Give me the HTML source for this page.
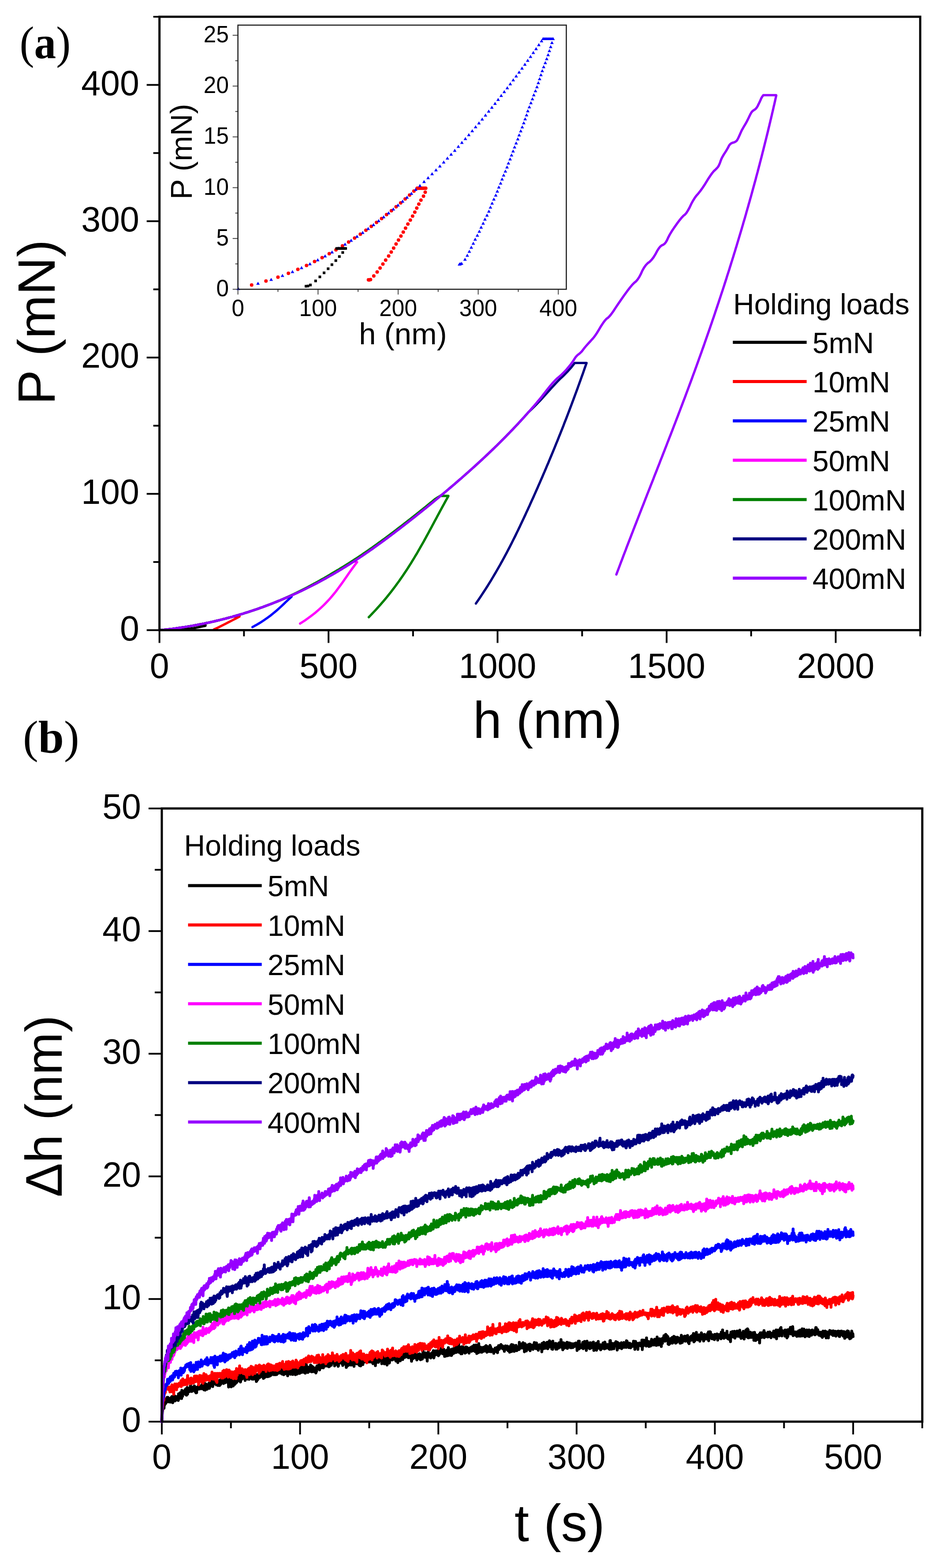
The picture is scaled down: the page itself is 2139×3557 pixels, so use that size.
<!DOCTYPE html><html><head><meta charset="utf-8"><title>Figure</title><style>html,body{margin:0;padding:0;background:#fff;overflow:hidden;}svg{display:block;}</style></head><body>
<svg width="2139" height="3557" viewBox="0 0 2139 3557">
<rect width="2139" height="3557" fill="#fff"/>
<line x1="361.7" y1="1429.5" x2="361.7" y2="1458.5" stroke="#000" stroke-width="4" stroke-linecap="butt"/>
<line x1="553.4" y1="1429.5" x2="553.4" y2="1443.5" stroke="#000" stroke-width="4" stroke-linecap="butt"/>
<line x1="745.2" y1="1429.5" x2="745.2" y2="1458.5" stroke="#000" stroke-width="4" stroke-linecap="butt"/>
<line x1="936.9" y1="1429.5" x2="936.9" y2="1443.5" stroke="#000" stroke-width="4" stroke-linecap="butt"/>
<line x1="1128.6" y1="1429.5" x2="1128.6" y2="1458.5" stroke="#000" stroke-width="4" stroke-linecap="butt"/>
<line x1="1320.4" y1="1429.5" x2="1320.4" y2="1443.5" stroke="#000" stroke-width="4" stroke-linecap="butt"/>
<line x1="1512.1" y1="1429.5" x2="1512.1" y2="1458.5" stroke="#000" stroke-width="4" stroke-linecap="butt"/>
<line x1="1703.8" y1="1429.5" x2="1703.8" y2="1443.5" stroke="#000" stroke-width="4" stroke-linecap="butt"/>
<line x1="1895.6" y1="1429.5" x2="1895.6" y2="1458.5" stroke="#000" stroke-width="4" stroke-linecap="butt"/>
<line x1="2087.3" y1="1429.5" x2="2087.3" y2="1443.5" stroke="#000" stroke-width="4" stroke-linecap="butt"/>
<line x1="361.7" y1="1429.5" x2="332.7" y2="1429.5" stroke="#000" stroke-width="4" stroke-linecap="butt"/>
<line x1="361.7" y1="1274.9" x2="347.7" y2="1274.9" stroke="#000" stroke-width="4" stroke-linecap="butt"/>
<line x1="361.7" y1="1120.3" x2="332.7" y2="1120.3" stroke="#000" stroke-width="4" stroke-linecap="butt"/>
<line x1="361.7" y1="965.7" x2="347.7" y2="965.7" stroke="#000" stroke-width="4" stroke-linecap="butt"/>
<line x1="361.7" y1="811.1" x2="332.7" y2="811.1" stroke="#000" stroke-width="4" stroke-linecap="butt"/>
<line x1="361.7" y1="656.4" x2="347.7" y2="656.4" stroke="#000" stroke-width="4" stroke-linecap="butt"/>
<line x1="361.7" y1="501.8" x2="332.7" y2="501.8" stroke="#000" stroke-width="4" stroke-linecap="butt"/>
<line x1="361.7" y1="347.2" x2="347.7" y2="347.2" stroke="#000" stroke-width="4" stroke-linecap="butt"/>
<line x1="361.7" y1="192.6" x2="332.7" y2="192.6" stroke="#000" stroke-width="4" stroke-linecap="butt"/>
<line x1="361.7" y1="38" x2="347.7" y2="38" stroke="#000" stroke-width="4" stroke-linecap="butt"/>
<text x="361.7" y="1538" font-size="79" text-anchor="middle" style="font-family:'Liberation Sans',Arial,sans-serif" >0</text>
<text x="745.2" y="1538" font-size="79" text-anchor="middle" style="font-family:'Liberation Sans',Arial,sans-serif" >500</text>
<text x="1128.6" y="1538" font-size="79" text-anchor="middle" style="font-family:'Liberation Sans',Arial,sans-serif" >1000</text>
<text x="1512.1" y="1538" font-size="79" text-anchor="middle" style="font-family:'Liberation Sans',Arial,sans-serif" >1500</text>
<text x="1895.6" y="1538" font-size="79" text-anchor="middle" style="font-family:'Liberation Sans',Arial,sans-serif" >2000</text>
<text x="316" y="1452.5" font-size="79" text-anchor="end" style="font-family:'Liberation Sans',Arial,sans-serif" >0</text>
<text x="316" y="1143.3" font-size="79" text-anchor="end" style="font-family:'Liberation Sans',Arial,sans-serif" >100</text>
<text x="316" y="834.1" font-size="79" text-anchor="end" style="font-family:'Liberation Sans',Arial,sans-serif" >200</text>
<text x="316" y="524.8" font-size="79" text-anchor="end" style="font-family:'Liberation Sans',Arial,sans-serif" >300</text>
<text x="316" y="215.6" font-size="79" text-anchor="end" style="font-family:'Liberation Sans',Arial,sans-serif" >400</text>
<polyline points="361.7,1429.3 364.7,1429.3 367.7,1429.2 370.7,1428.9 373.7,1428.5 376.7,1428.2 379.7,1427.8 382.7,1427.5 385.7,1427.1 388.7,1426.7 391.7,1426.4 394.7,1426 397.7,1425.6 400.7,1425.2 403.7,1424.7 406.7,1424.3 409.7,1423.9 412.7,1423.4 415.7,1423 418.7,1422.5 421.7,1422 424.7,1421.5 427.7,1421 430.7,1420.5 433.7,1420 436.7,1419.5 439.7,1419 442.7,1418.4 445.7,1417.9 448.7,1417.3 451.7,1416.7 454.7,1416.2 457.7,1415.6 460.7,1415 461,1414.9 466,1414.9 466.1,1419.6 459.6,1420.9 453.6,1422.2 447.2,1423.5 439.9,1424.8 430.9,1426.1 419.5,1427.4 405.2,1428.7" fill="none" stroke="#000000" stroke-width="5.3" stroke-linejoin="round" stroke-linecap="round" />
<polyline points="361.7,1429.3 364.7,1429.3 367.7,1429.2 370.7,1428.9 373.7,1428.5 376.7,1428.2 379.7,1427.8 382.7,1427.5 385.7,1427.1 388.7,1426.7 391.7,1426.4 394.7,1426 397.7,1425.6 400.7,1425.2 403.7,1424.7 406.7,1424.3 409.7,1423.9 412.7,1423.4 415.7,1423 418.7,1422.5 421.7,1422 424.7,1421.5 427.7,1421 430.7,1420.5 433.7,1420 436.7,1419.5 439.7,1419 442.7,1418.4 445.7,1417.9 448.7,1417.3 451.7,1416.7 454.7,1416.2 457.7,1415.6 460.7,1415 463.7,1414.4 466.7,1413.7 469.7,1413.1 472.7,1412.5 475.7,1411.8 478.7,1411.2 481.7,1410.5 484.7,1409.8 487.7,1409.1 490.7,1408.4 493.7,1407.7 496.7,1407 499.7,1406.2 502.7,1405.5 505.7,1404.7 508.7,1404 511.7,1403.2 514.7,1402.4 517.7,1401.6 520.7,1400.8 523.7,1400 526.7,1399.2 529.7,1398.3 531,1398.6 543.3,1398.6 543.3,1398.6 535.3,1402.8 527.3,1407 519.2,1411.2 511,1415.4 502.6,1419.6 494.1,1423.8 485.2,1428" fill="none" stroke="#ff0000" stroke-width="5.3" stroke-linejoin="round" stroke-linecap="round" />
<polyline points="361.7,1429.3 364.7,1429.3 367.7,1429.2 370.7,1428.9 373.7,1428.5 376.7,1428.2 379.7,1427.8 382.7,1427.5 385.7,1427.1 388.7,1426.7 391.7,1426.4 394.7,1426 397.7,1425.6 400.7,1425.2 403.7,1424.7 406.7,1424.3 409.7,1423.9 412.7,1423.4 415.7,1423 418.7,1422.5 421.7,1422 424.7,1421.5 427.7,1421 430.7,1420.5 433.7,1420 436.7,1419.5 439.7,1419 442.7,1418.4 445.7,1417.9 448.7,1417.3 451.7,1416.7 454.7,1416.2 457.7,1415.6 460.7,1415 463.7,1414.4 466.7,1413.7 469.7,1413.1 472.7,1412.5 475.7,1411.8 478.7,1411.2 481.7,1410.5 484.7,1409.8 487.7,1409.1 490.7,1408.4 493.7,1407.7 496.7,1407 499.7,1406.2 502.7,1405.5 505.7,1404.7 508.7,1404 511.7,1403.2 514.7,1402.4 517.7,1401.6 520.7,1400.8 523.7,1400 526.7,1399.2 529.7,1398.3 532.7,1397.5 535.7,1396.6 538.7,1395.8 541.7,1394.9 544.7,1394 547.7,1393.1 550.7,1392.2 553.7,1391.2 556.7,1390.3 559.7,1389.4 562.7,1388.4 565.7,1387.4 568.7,1386.5 571.7,1385.5 574.7,1384.5 577.7,1383.5 580.7,1382.4 583.7,1381.4 586.7,1380.4 589.7,1379.3 592.7,1378.2 595.7,1377.2 598.7,1376.1 601.7,1375 604.7,1373.8 607.7,1372.7 610.7,1371.6 613.7,1370.4 616.7,1369.3 619.7,1368.1 622.7,1366.9 625.7,1365.7 628.7,1364.5 631.7,1363.3 634.7,1362.1 637.7,1360.8 640.7,1359.6 643.7,1358.3 646.7,1357 649.7,1355.8 652.7,1354.5 655.5,1353.5 661.3,1353.5 661.4,1353.5 656.7,1357.8 652.1,1362.1 647.5,1366.4 643,1370.8 638.4,1375.1 633.7,1379.4 628.9,1383.7 623.9,1388 618.7,1392.3 613.3,1396.6 607.5,1400.9 601.4,1405.2 594.9,1409.6 588,1413.9 580.6,1418.2 572.7,1422.5" fill="none" stroke="#0000ff" stroke-width="5.3" stroke-linejoin="round" stroke-linecap="round" />
<polyline points="361.7,1429.3 364.7,1429.3 367.7,1429.2 370.7,1428.9 373.7,1428.5 376.7,1428.2 379.7,1427.8 382.7,1427.5 385.7,1427.1 388.7,1426.7 391.7,1426.4 394.7,1426 397.7,1425.6 400.7,1425.2 403.7,1424.7 406.7,1424.3 409.7,1423.9 412.7,1423.4 415.7,1423 418.7,1422.5 421.7,1422 424.7,1421.5 427.7,1421 430.7,1420.5 433.7,1420 436.7,1419.5 439.7,1419 442.7,1418.4 445.7,1417.9 448.7,1417.3 451.7,1416.7 454.7,1416.2 457.7,1415.6 460.7,1415 463.7,1414.4 466.7,1413.7 469.7,1413.1 472.7,1412.5 475.7,1411.8 478.7,1411.2 481.7,1410.5 484.7,1409.8 487.7,1409.1 490.7,1408.4 493.7,1407.7 496.7,1407 499.7,1406.2 502.7,1405.5 505.7,1404.7 508.7,1404 511.7,1403.2 514.7,1402.4 517.7,1401.6 520.7,1400.8 523.7,1400 526.7,1399.2 529.7,1398.3 532.7,1397.5 535.7,1396.6 538.7,1395.8 541.7,1394.9 544.7,1394 547.7,1393.1 550.7,1392.2 553.7,1391.2 556.7,1390.3 559.7,1389.4 562.7,1388.4 565.7,1387.4 568.7,1386.5 571.7,1385.5 574.7,1384.5 577.7,1383.5 580.7,1382.4 583.7,1381.4 586.7,1380.4 589.7,1379.3 592.7,1378.2 595.7,1377.2 598.7,1376.1 601.7,1375 604.7,1373.8 607.7,1372.7 610.7,1371.6 613.7,1370.4 616.7,1369.3 619.7,1368.1 622.7,1366.9 625.7,1365.7 628.7,1364.5 631.7,1363.3 634.7,1362.1 637.7,1360.8 640.7,1359.6 643.7,1358.3 646.7,1357 649.7,1355.8 652.7,1354.5 655.7,1353.1 658.7,1351.8 661.7,1350.5 664.7,1349.1 667.7,1347.8 670.7,1346.4 673.7,1345 676.7,1343.6 679.7,1342.2 682.7,1340.8 685.7,1339.3 688.7,1337.9 691.7,1336.4 694.7,1335 697.7,1333.5 700.7,1332 703.7,1330.5 706.7,1329 709.7,1327.4 712.7,1325.9 715.7,1324.3 718.7,1322.8 721.7,1321.2 724.7,1319.6 727.7,1318 730.7,1316.3 733.7,1314.7 736.7,1313.1 739.7,1311.4 742.7,1309.7 745.7,1308 748.7,1306.3 751.7,1304.6 754.7,1302.9 757.7,1301.2 760.7,1299.4 763.7,1297.6 766.7,1295.9 769.7,1294.1 772.7,1292.3 775.7,1290.4 778.7,1288.6 781.7,1286.8 784.7,1284.9 787.7,1283 790.7,1281.2 793.7,1279.3 796.7,1277.3 799.7,1275.4 802.7,1273.5 805.7,1271.5 806.5,1275.2 810,1275.2 810,1275.2 806.7,1279.4 803.5,1283.6 800.4,1287.9 797.3,1292.1 794.3,1296.3 791.3,1300.5 788.4,1304.8 785.5,1309 782.5,1313.2 779.6,1317.4 776.6,1321.7 773.6,1325.9 770.5,1330.1 767.4,1334.3 764.2,1338.6 761,1342.8 757.6,1347 754.1,1351.2 750.5,1355.5 746.8,1359.7 742.9,1363.9 738.9,1368.1 734.7,1372.4 730.3,1376.6 725.8,1380.8 721,1385 716,1389.3 710.7,1393.5 705.3,1397.7 699.5,1401.9 693.6,1406.2 687.3,1410.4 680.7,1414.6" fill="none" stroke="#ff00ff" stroke-width="5.3" stroke-linejoin="round" stroke-linecap="round" />
<polyline points="361.7,1429.3 364.7,1429.3 367.7,1429.2 370.7,1428.9 373.7,1428.5 376.7,1428.2 379.7,1427.8 382.7,1427.5 385.7,1427.1 388.7,1426.7 391.7,1426.4 394.7,1426 397.7,1425.6 400.7,1425.2 403.7,1424.7 406.7,1424.3 409.7,1423.9 412.7,1423.4 415.7,1423 418.7,1422.5 421.7,1422 424.7,1421.5 427.7,1421 430.7,1420.5 433.7,1420 436.7,1419.5 439.7,1419 442.7,1418.4 445.7,1417.9 448.7,1417.3 451.7,1416.7 454.7,1416.2 457.7,1415.6 460.7,1415 463.7,1414.4 466.7,1413.7 469.7,1413.1 472.7,1412.5 475.7,1411.8 478.7,1411.2 481.7,1410.5 484.7,1409.8 487.7,1409.1 490.7,1408.4 493.7,1407.7 496.7,1407 499.7,1406.2 502.7,1405.5 505.7,1404.7 508.7,1404 511.7,1403.2 514.7,1402.4 517.7,1401.6 520.7,1400.8 523.7,1400 526.7,1399.2 529.7,1398.3 532.7,1397.5 535.7,1396.6 538.7,1395.8 541.7,1394.9 544.7,1394 547.7,1393.1 550.7,1392.2 553.7,1391.2 556.7,1390.3 559.7,1389.4 562.7,1388.4 565.7,1387.4 568.7,1386.5 571.7,1385.5 574.7,1384.5 577.7,1383.5 580.7,1382.4 583.7,1381.4 586.7,1380.4 589.7,1379.3 592.7,1378.2 595.7,1377.2 598.7,1376.1 601.7,1375 604.7,1373.8 607.7,1372.7 610.7,1371.6 613.7,1370.4 616.7,1369.3 619.7,1368.1 622.7,1366.9 625.7,1365.7 628.7,1364.5 631.7,1363.3 634.7,1362.1 637.7,1360.8 640.7,1359.6 643.7,1358.2 646.7,1356.9 649.7,1355.5 652.7,1354.1 655.7,1352.7 658.7,1351.3 661.7,1349.9 664.7,1348.5 667.7,1347 670.7,1345.6 673.7,1344.1 676.7,1342.6 679.7,1341.1 682.7,1339.6 685.7,1338.1 688.7,1336.6 691.7,1335.1 694.7,1333.5 697.7,1332 700.7,1330.4 703.7,1328.8 706.7,1327.2 709.7,1325.6 712.7,1323.9 715.7,1322.3 718.7,1320.7 721.7,1319 724.7,1317.3 727.7,1315.6 730.7,1313.9 733.7,1312.2 736.7,1310.5 739.7,1308.7 742.7,1307 745.7,1305.2 748.7,1303.4 751.7,1301.6 754.7,1299.8 757.7,1298 760.7,1296.2 763.7,1294.4 766.7,1292.7 769.7,1290.9 772.7,1289.1 775.7,1287.2 778.7,1285.4 781.7,1283.6 784.7,1281.7 787.7,1279.8 790.7,1278 793.7,1276.1 796.7,1274.1 799.7,1272.2 802.7,1270.3 805.7,1268.3 808.7,1266.4 811.7,1264.4 814.7,1262.4 817.7,1260.4 820.7,1258.4 823.7,1256.3 826.7,1254.3 829.7,1252.2 832.7,1250.2 835.7,1248.1 838.7,1246 841.7,1243.9 844.7,1241.8 847.7,1239.6 850.7,1237.5 853.7,1235.4 856.7,1233.2 859.7,1231 862.7,1228.9 865.7,1226.7 868.7,1224.5 871.7,1222.3 874.7,1220 877.7,1217.8 880.7,1215.6 883.7,1213.3 886.7,1211.1 889.7,1208.8 892.7,1206.6 895.7,1204.3 898.7,1202 901.7,1199.7 904.7,1197.4 907.7,1195.1 910.7,1192.8 913.7,1190.5 916.7,1188.2 919.7,1185.8 922.7,1183.5 925.7,1181.2 928.7,1178.8 931.7,1176.5 934.7,1174.1 937.7,1171.7 940.7,1169.4 943.7,1167 946.7,1164.6 949.7,1162.2 952.7,1159.8 955.7,1157.4 958.7,1155 961.7,1152.6 964.7,1150.2 967.7,1147.8 970.7,1145.3 973.7,1142.9 976.7,1140.4 979.7,1138 982.7,1135.5 985.7,1133 988.7,1130.9 991.7,1129.1 994.7,1127.2 997.7,1125.4 1000.7,1123.5 1002,1125 1017,1125 1016.8,1125.8 1014.5,1129.9 1012.2,1134 1009.9,1138.1 1007.7,1142.2 1005.5,1146.3 1003.2,1150.4 1001,1154.5 998.8,1158.6 996.6,1162.6 994.4,1166.7 992.2,1170.8 990,1174.9 987.8,1179 985.6,1183.1 983.4,1187.2 981.2,1191.3 979,1195.4 976.8,1199.5 974.6,1203.6 972.4,1207.7 970.2,1211.8 967.9,1215.9 965.7,1220 963.4,1224.1 961.2,1228.2 958.9,1232.2 956.6,1236.3 954.2,1240.4 951.9,1244.5 949.5,1248.6 947.2,1252.7 944.8,1256.8 942.3,1260.9 939.9,1265 937.4,1269.1 934.9,1273.2 932.4,1277.3 929.8,1281.4 927.2,1285.5 924.6,1289.6 921.9,1293.7 919.2,1297.7 916.5,1301.8 913.7,1305.9 910.9,1310 908,1314.1 905.2,1318.2 902.2,1322.3 899.2,1326.4 896.2,1330.5 893.1,1334.6 890,1338.7 886.8,1342.8 883.6,1346.9 880.3,1351 877,1355.1 873.6,1359.2 870.2,1363.3 866.7,1367.3 863.1,1371.4 859.5,1375.5 855.8,1379.6 852.1,1383.7 848.3,1387.8 844.4,1391.9 840.5,1396 836.5,1400.1" fill="none" stroke="#008000" stroke-width="5.3" stroke-linejoin="round" stroke-linecap="round" />
<polyline points="361.7,1429.3 364.7,1429.3 367.7,1429.2 370.7,1428.9 373.7,1428.5 376.7,1428.2 379.7,1427.8 382.7,1427.5 385.7,1427.1 388.7,1426.7 391.7,1426.4 394.7,1426 397.7,1425.6 400.7,1425.2 403.7,1424.7 406.7,1424.3 409.7,1423.9 412.7,1423.4 415.7,1423 418.7,1422.5 421.7,1422 424.7,1421.5 427.7,1421 430.7,1420.5 433.7,1420 436.7,1419.5 439.7,1419 442.7,1418.4 445.7,1417.9 448.7,1417.3 451.7,1416.7 454.7,1416.2 457.7,1415.6 460.7,1415 463.7,1414.4 466.7,1413.7 469.7,1413.1 472.7,1412.5 475.7,1411.8 478.7,1411.2 481.7,1410.5 484.7,1409.8 487.7,1409.1 490.7,1408.4 493.7,1407.7 496.7,1407 499.7,1406.2 502.7,1405.5 505.7,1404.7 508.7,1404 511.7,1403.2 514.7,1402.4 517.7,1401.6 520.7,1400.8 523.7,1400 526.7,1399.2 529.7,1398.3 532.7,1397.5 535.7,1396.6 538.7,1395.8 541.7,1394.9 544.7,1394 547.7,1393.1 550.7,1392.2 553.7,1391.2 556.7,1390.3 559.7,1389.4 562.7,1388.4 565.7,1387.4 568.7,1386.5 571.7,1385.5 574.7,1384.5 577.7,1383.5 580.7,1382.4 583.7,1381.4 586.7,1380.4 589.7,1379.3 592.7,1378.2 595.7,1377.2 598.7,1376.1 601.7,1375 604.7,1373.8 607.7,1372.7 610.7,1371.6 613.7,1370.4 616.7,1369.3 619.7,1368.1 622.7,1366.9 625.7,1365.7 628.7,1364.5 631.7,1363.3 634.7,1362.1 637.7,1360.8 640.7,1359.6 643.7,1358.3 646.7,1357 649.7,1355.8 652.7,1354.5 655.7,1353.1 658.7,1351.8 661.7,1350.5 664.7,1349.1 667.7,1347.8 670.7,1346.4 673.7,1345 676.7,1343.6 679.7,1342.2 682.7,1340.8 685.7,1339.3 688.7,1337.9 691.7,1336.4 694.7,1335 697.7,1333.5 700.7,1332 703.7,1330.5 706.7,1329 709.7,1327.4 712.7,1325.9 715.7,1324.3 718.7,1322.8 721.7,1321.2 724.7,1319.6 727.7,1318 730.7,1316.3 733.7,1314.7 736.7,1313.1 739.7,1311.4 742.7,1309.7 745.7,1308 748.7,1306.3 751.7,1304.6 754.7,1302.9 757.7,1301.2 760.7,1299.4 763.7,1297.6 766.7,1295.9 769.7,1294.1 772.7,1292.3 775.7,1290.4 778.7,1288.6 781.7,1286.8 784.7,1284.9 787.7,1283 790.7,1281.2 793.7,1279.3 796.7,1277.3 799.7,1275.4 802.7,1273.5 805.7,1271.5 808.7,1269.6 811.7,1267.6 814.7,1265.6 817.7,1263.6 820.7,1261.6 823.7,1259.5 826.7,1257.5 829.7,1255.4 832.7,1253.4 835.7,1251.3 838.7,1249.2 841.7,1247.1 844.7,1245 847.7,1242.8 850.7,1240.7 853.7,1238.6 856.7,1236.4 859.7,1234.2 862.7,1232.1 865.7,1229.9 868.7,1227.7 871.7,1225.5 874.7,1223.2 877.7,1221 880.7,1218.8 883.7,1216.5 886.7,1214.3 889.7,1212 892.7,1209.8 895.7,1207.5 898.7,1205.2 901.7,1202.9 904.7,1200.6 907.7,1198.3 910.7,1196 913.7,1193.7 916.7,1191.4 919.7,1189 922.7,1186.7 925.7,1184.4 928.7,1182 931.7,1179.7 934.7,1177.3 937.7,1174.9 940.7,1172.6 943.7,1170.2 946.7,1167.8 949.7,1165.4 952.7,1163 955.7,1160.6 958.7,1158.2 961.7,1155.8 964.7,1153.4 967.7,1151 970.7,1148.5 973.7,1146.1 976.7,1143.6 979.7,1141.2 982.7,1138.7 985.7,1136.2 988.7,1133.8 991.7,1131.3 994.7,1128.8 997.7,1126.3 1000.7,1123.8 1003.7,1121.3 1006.7,1118.8 1009.7,1116.3 1012.7,1113.7 1015.7,1111.2 1018.7,1108.6 1021.7,1106.1 1024.7,1103.5 1027.7,1101 1030.7,1098.4 1033.7,1095.8 1036.7,1093.2 1039.7,1090.6 1042.7,1088 1045.7,1085.4 1048.7,1082.8 1051.7,1080.1 1054.7,1077.5 1057.7,1074.8 1060.7,1072.2 1063.7,1069.5 1066.7,1066.8 1069.7,1064.1 1072.7,1061.4 1075.7,1058.7 1078.7,1056 1081.7,1053.3 1084.7,1050.5 1087.7,1047.8 1090.7,1045 1093.7,1042.2 1096.7,1039.4 1099.7,1036.6 1102.7,1033.8 1105.7,1031 1108.7,1028.1 1111.7,1025.3 1114.7,1022.4 1117.7,1019.5 1120.7,1016.6 1123.7,1013.7 1126.7,1010.8 1129.7,1007.8 1132.7,1004.9 1135.7,1001.9 1138.7,998.9 1141.7,995.9 1144.7,992.8 1147.7,989.8 1150.7,986.7 1153.7,983.6 1156.7,980.5 1159.7,977.4 1162.7,974.3 1165.7,971.1 1168.7,968 1171.7,964.8 1174.7,961.6 1177.7,958.3 1180.7,955.1 1183.7,951.8 1186.7,948.5 1189.7,945.2 1192.7,941.8 1195.7,938.5 1198.5,935.3 1199.5,934.3 1201.6,932.3 1204.7,929.3 1208.8,925.3 1212.9,921.3 1217,917.2 1221,913 1225,908.8 1230,903.4 1236,896.8 1243,889 1251,880 1258.2,872.2 1264.5,865.5 1270,859.9 1274.7,855.6 1279.1,851.3 1283.2,847.2 1287.1,843.2 1290.6,839.3 1293.8,835.8 1296.5,832.6 1298.8,829.7 1300.8,827.2 1302.2,825.3 1303.1,824 1303.6,823.4 1329.5,823.4 1330.5,823.4 1329.1,827.4 1327.6,831.5 1326.2,835.5 1324.8,839.6 1323.4,843.6 1322,847.7 1320.5,851.7 1319.1,855.7 1317.6,859.8 1316.2,863.8 1314.7,867.9 1313.3,871.9 1311.8,875.9 1310.4,880 1308.9,884 1307.4,888.1 1305.9,892.1 1304.4,896.2 1302.9,900.2 1301.4,904.2 1299.9,908.3 1298.4,912.3 1296.9,916.4 1295.4,920.4 1293.8,924.5 1292.3,928.5 1290.8,932.5 1289.2,936.6 1287.7,940.6 1286.1,944.7 1284.6,948.7 1283,952.8 1281.4,956.8 1279.8,960.8 1278.3,964.9 1276.7,968.9 1275.1,973 1273.5,977 1271.9,981 1270.3,985.1 1268.6,989.1 1267,993.2 1265.4,997.2 1263.8,1001.3 1262.1,1005.3 1260.5,1009.3 1258.8,1013.4 1257.2,1017.4 1255.5,1021.5 1253.9,1025.5 1252.2,1029.6 1250.5,1033.6 1248.8,1037.6 1247.1,1041.7 1245.4,1045.7 1243.8,1049.8 1242,1053.8 1240.3,1057.8 1238.6,1061.9 1236.9,1065.9 1235.2,1070 1233.4,1074 1231.7,1078.1 1230,1082.1 1228.2,1086.1 1226.4,1090.2 1224.7,1094.2 1222.9,1098.3 1221.1,1102.3 1219.4,1106.4 1217.6,1110.4 1215.8,1114.4 1214,1118.5 1212.2,1122.5 1210.4,1126.6 1208.6,1130.6 1206.7,1134.7 1204.9,1138.7 1203.1,1142.7 1201.3,1146.8 1199.4,1150.8 1197.6,1154.9 1195.7,1158.9 1193.8,1162.9 1192,1167 1190.1,1171 1188.2,1175.1 1186.3,1179.1 1184.4,1183.2 1182.5,1187.2 1180.6,1191.2 1178.7,1195.3 1176.7,1199.3 1174.8,1203.4 1172.8,1207.4 1170.8,1211.5 1168.9,1215.5 1166.9,1219.5 1164.8,1223.6 1162.8,1227.6 1160.8,1231.7 1158.7,1235.7 1156.7,1239.7 1154.6,1243.8 1152.5,1247.8 1150.3,1251.9 1148.2,1255.9 1146,1260 1143.9,1264 1141.7,1268 1139.5,1272.1 1137.2,1276.1 1135,1280.2 1132.7,1284.2 1130.4,1288.3 1128.1,1292.3 1125.8,1296.3 1123.4,1300.4 1121,1304.4 1118.6,1308.5 1116.2,1312.5 1113.8,1316.6 1111.3,1320.6 1108.8,1324.6 1106.3,1328.7 1103.7,1332.7 1101.1,1336.8 1098.5,1340.8 1095.9,1344.8 1093.2,1348.9 1090.5,1352.9 1087.8,1357 1085.1,1361 1082.3,1365.1 1079.5,1369.1" fill="none" stroke="#000080" stroke-width="5.3" stroke-linejoin="round" stroke-linecap="round" />
<polyline points="361.7,1429.3 364.7,1429.3 367.7,1429.2 370.7,1428.9 373.7,1428.5 376.7,1428.2 379.7,1427.8 382.7,1427.5 385.7,1427.1 388.7,1426.7 391.7,1426.4 394.7,1426 397.7,1425.6 400.7,1425.2 403.7,1424.7 406.7,1424.3 409.7,1423.9 412.7,1423.4 415.7,1423 418.7,1422.5 421.7,1422 424.7,1421.5 427.7,1421 430.7,1420.5 433.7,1420 436.7,1419.5 439.7,1419 442.7,1418.4 445.7,1417.9 448.7,1417.3 451.7,1416.7 454.7,1416.2 457.7,1415.6 460.7,1415 463.7,1414.4 466.7,1413.7 469.7,1413.1 472.7,1412.5 475.7,1411.8 478.7,1411.2 481.7,1410.5 484.7,1409.8 487.7,1409.1 490.7,1408.4 493.7,1407.7 496.7,1407 499.7,1406.2 502.7,1405.5 505.7,1404.7 508.7,1404 511.7,1403.2 514.7,1402.4 517.7,1401.6 520.7,1400.8 523.7,1400 526.7,1399.2 529.7,1398.3 532.7,1397.5 535.7,1396.6 538.7,1395.8 541.7,1394.9 544.7,1394 547.7,1393.1 550.7,1392.2 553.7,1391.2 556.7,1390.3 559.7,1389.4 562.7,1388.4 565.7,1387.4 568.7,1386.5 571.7,1385.5 574.7,1384.5 577.7,1383.5 580.7,1382.4 583.7,1381.4 586.7,1380.4 589.7,1379.3 592.7,1378.2 595.7,1377.2 598.7,1376.1 601.7,1375 604.7,1373.8 607.7,1372.7 610.7,1371.6 613.7,1370.4 616.7,1369.3 619.7,1368.1 622.7,1366.9 625.7,1365.7 628.7,1364.5 631.7,1363.3 634.7,1362.1 637.7,1360.8 640.7,1359.6 643.7,1358.3 646.7,1357 649.7,1355.8 652.7,1354.5 655.7,1353.1 658.7,1351.8 661.7,1350.5 664.7,1349.1 667.7,1347.8 670.7,1346.4 673.7,1345 676.7,1343.6 679.7,1342.2 682.7,1340.8 685.7,1339.3 688.7,1337.9 691.7,1336.4 694.7,1335 697.7,1333.5 700.7,1332 703.7,1330.5 706.7,1329 709.7,1327.4 712.7,1325.9 715.7,1324.3 718.7,1322.8 721.7,1321.2 724.7,1319.6 727.7,1318 730.7,1316.3 733.7,1314.7 736.7,1313.1 739.7,1311.4 742.7,1309.7 745.7,1308 748.7,1306.3 751.7,1304.6 754.7,1302.9 757.7,1301.2 760.7,1299.4 763.7,1297.6 766.7,1295.9 769.7,1294.1 772.7,1292.3 775.7,1290.4 778.7,1288.6 781.7,1286.8 784.7,1284.9 787.7,1283 790.7,1281.2 793.7,1279.3 796.7,1277.3 799.7,1275.4 802.7,1273.5 805.7,1271.5 808.7,1269.6 811.7,1267.6 814.7,1265.6 817.7,1263.6 820.7,1261.6 823.7,1259.5 826.7,1257.5 829.7,1255.4 832.7,1253.4 835.7,1251.3 838.7,1249.2 841.7,1247.1 844.7,1245 847.7,1242.8 850.7,1240.7 853.7,1238.6 856.7,1236.4 859.7,1234.2 862.7,1232.1 865.7,1229.9 868.7,1227.7 871.7,1225.5 874.7,1223.2 877.7,1221 880.7,1218.8 883.7,1216.5 886.7,1214.3 889.7,1212 892.7,1209.8 895.7,1207.5 898.7,1205.2 901.7,1202.9 904.7,1200.6 907.7,1198.3 910.7,1196 913.7,1193.7 916.7,1191.4 919.7,1189 922.7,1186.7 925.7,1184.4 928.7,1182 931.7,1179.7 934.7,1177.3 937.7,1174.9 940.7,1172.6 943.7,1170.2 946.7,1167.8 949.7,1165.4 952.7,1163 955.7,1160.6 958.7,1158.2 961.7,1155.8 964.7,1153.4 967.7,1151 970.7,1148.5 973.7,1146.1 976.7,1143.6 979.7,1141.2 982.7,1138.7 985.7,1136.2 988.7,1133.8 991.7,1131.3 994.7,1128.8 997.7,1126.3 1000.7,1123.8 1003.7,1121.3 1006.7,1118.8 1009.7,1116.3 1012.7,1113.7 1015.7,1111.2 1018.7,1108.6 1021.7,1106.1 1024.7,1103.5 1027.7,1101 1030.7,1098.4 1033.7,1095.8 1036.7,1093.2 1039.7,1090.6 1042.7,1088 1045.7,1085.4 1048.7,1082.8 1051.7,1080.1 1054.7,1077.5 1057.7,1074.8 1060.7,1072.2 1063.7,1069.5 1066.7,1066.8 1069.7,1064.1 1072.7,1061.4 1075.7,1058.7 1078.7,1056 1081.7,1053.3 1084.7,1050.5 1087.7,1047.8 1090.7,1045 1093.7,1042.2 1096.7,1039.4 1099.7,1036.6 1102.7,1033.8 1105.7,1031 1108.7,1028.1 1111.7,1025.3 1114.7,1022.4 1117.7,1019.5 1120.7,1016.6 1123.7,1013.7 1126.7,1010.8 1129.7,1007.8 1132.7,1004.9 1135.7,1001.9 1138.7,998.9 1141.7,995.9 1144.7,992.8 1147.7,989.8 1150.7,986.7 1153.7,983.6 1156.7,980.5 1159.7,977.4 1162.7,974.3 1165.7,971.1 1168.7,968 1171.7,964.8 1174.7,961.6 1177.7,958.3 1180.7,955.1 1183.7,951.8 1186.7,948.5 1189.7,945.2 1192.7,941.8 1195.7,938.5 1198.7,935.1 1201.7,931.7 1204.7,928.3 1207.7,924.8 1210.7,921.4 1213.7,917.9 1216.7,914.4 1219.7,910.8 1222.7,907.3 1225.7,903.7 1228.7,900 1230.9,897 1232.5,895 1235.7,890.9 1240.6,884.7 1247,876.6 1253.1,869.4 1258.9,863.2 1264.3,858 1269.4,853.8 1274.5,849.2 1279.5,844.1 1284.6,838.7 1289.6,832.7 1294,827.3 1297.8,822.2 1301,817.6 1303.5,813.4 1306,809.8 1308.6,806.9 1311.1,804.6 1313.6,802.8 1316.1,800.7 1318.7,798.2 1321.2,795.2 1323.7,791.9 1326.4,788.4 1329.4,784.9 1332.6,781.2 1335.9,777.6 1339.1,774.1 1341.9,771 1344.6,768.1 1346.9,765.4 1350,761.2 1353.9,755.5 1358.4,748.2 1363.7,739.2 1368.4,732.1 1372.5,726.7 1375.9,723 1378.9,721.1 1382.3,717.7 1386.4,712.7 1391.1,706.2 1396.4,698.1 1402.2,689.5 1408.4,680.4 1415.2,670.8 1422.5,660.7 1428.9,652.4 1434.3,645.9 1438.8,641.3 1442.5,638.4 1446.1,634.3 1449.7,628.9 1453.4,622.1 1457,614 1460.9,607.1 1464.9,601.5 1469.2,597 1473.6,593.8 1478,589.4 1482.2,584 1486.3,577.4 1490.4,569.7 1494.2,563.7 1497.8,559.2 1501.3,556.4 1504.5,555.2 1507.6,552.9 1510.4,549.4 1513,544.9 1515.5,539.2 1519,532.5 1523.6,524.8 1529.4,516.1 1536.3,506.4 1542.1,498.7 1547,492.8 1550.8,488.9 1553.7,486.8 1556.8,483.2 1560.2,477.9 1564,471.1 1568,462.6 1572.1,455.1 1576.1,448.6 1580.2,443.2 1584.2,438.7 1588.8,432.9 1593.9,425.8 1599.5,417.2 1605.5,407.3 1610.8,399.2 1615.1,393.1 1618.6,388.8 1621.3,386.3 1623.6,384.1 1625.7,381.9 1627.5,379.9 1629,378.1 1630.4,375.6 1631.9,372.4 1633.4,368.6 1634.9,364.2 1636.7,359.7 1639,355.3 1641.6,350.8 1644.5,346.4 1647.2,342.1 1649.6,338 1651.8,334.1 1653.6,330.4 1655.8,327.5 1658.4,325.3 1661.4,323.8 1664.7,323.1 1667.6,321.9 1670,320.2 1671.9,318.1 1673.4,315.5 1675,312.4 1676.6,308.9 1678.4,304.9 1680.3,300.5 1682.3,296.1 1684.6,291.9 1687,287.7 1689.5,283.6 1692.1,279.2 1694.7,274.3 1697.3,269.1 1699.9,263.6 1702.1,259.1 1704,255.8 1705.5,253.6 1706.6,252.4 1707.9,251.3 1709.4,250.2 1711.1,249.1 1712.9,248 1714.8,246.2 1716.6,243.8 1718.5,240.8 1720.3,237 1722,233.6 1723.5,230.5 1724.8,227.6 1725.9,225 1726.9,222.7 1728,220.8 1729,219.2 1730,217.8 1730.8,216.9 1731.2,216.2 1731.5,215.9 1760.5,215.9 1760.8,216.5 1759.9,220.5 1759,224.5 1758.1,228.6 1757.2,232.6 1756.3,236.6 1755.3,240.6 1754.4,244.7 1753.5,248.7 1752.6,252.7 1751.6,256.7 1750.7,260.8 1749.7,264.8 1748.8,268.8 1747.8,272.8 1746.9,276.9 1745.9,280.9 1745,284.9 1744,288.9 1743,293 1742.1,297 1741.1,301 1740.1,305 1739.1,309.1 1738.1,313.1 1737.1,317.1 1736.1,321.1 1735.1,325.2 1734.1,329.2 1733.1,333.2 1732.1,337.2 1731.1,341.3 1730,345.3 1729,349.3 1728,353.3 1727,357.4 1725.9,361.4 1724.9,365.4 1723.8,369.4 1722.8,373.5 1721.7,377.5 1720.7,381.5 1719.6,385.5 1718.6,389.6 1717.5,393.6 1716.4,397.6 1715.3,401.6 1714.3,405.7 1713.2,409.7 1712.1,413.7 1711,417.7 1709.9,421.8 1708.8,425.8 1707.7,429.8 1706.6,433.8 1705.5,437.9 1704.4,441.9 1703.3,445.9 1702.1,449.9 1701,454 1699.9,458 1698.7,462 1697.6,466 1696.5,470.1 1695.3,474.1 1694.2,478.1 1693,482.1 1691.9,486.2 1690.7,490.2 1689.6,494.2 1688.4,498.2 1687.2,502.3 1686,506.3 1684.9,510.3 1683.7,514.3 1682.5,518.4 1681.3,522.4 1680.1,526.4 1678.9,530.4 1677.7,534.5 1676.5,538.5 1675.3,542.5 1674.1,546.5 1672.9,550.6 1671.7,554.6 1670.5,558.6 1669.2,562.6 1668,566.7 1666.8,570.7 1665.5,574.7 1664.3,578.7 1663.1,582.8 1661.8,586.8 1660.6,590.8 1659.3,594.8 1658,598.9 1656.8,602.9 1655.5,606.9 1654.3,610.9 1653,615 1651.7,619 1650.4,623 1649.1,627 1647.9,631.1 1646.6,635.1 1645.3,639.1 1644,643.1 1642.7,647.2 1641.4,651.2 1640.1,655.2 1638.8,659.2 1637.4,663.3 1636.1,667.3 1634.8,671.3 1633.5,675.3 1632.1,679.4 1630.8,683.4 1629.5,687.4 1628.1,691.4 1626.8,695.5 1625.4,699.5 1624.1,703.5 1622.7,707.5 1621.4,711.6 1620,715.6 1618.7,719.6 1617.3,723.6 1615.9,727.7 1614.6,731.7 1613.2,735.7 1611.8,739.7 1610.4,743.8 1609,747.8 1607.6,751.8 1606.2,755.8 1604.8,759.9 1603.4,763.9 1602,767.9 1600.6,771.9 1599.2,775.9 1597.8,780 1596.4,784 1595,788 1593.5,792 1592.1,796.1 1590.7,800.1 1589.2,804.1 1587.8,808.1 1586.3,812.2 1584.9,816.2 1583.5,820.2 1582,824.2 1580.5,828.3 1579.1,832.3 1577.6,836.3 1576.2,840.3 1574.7,844.4 1573.2,848.4 1571.7,852.4 1570.3,856.4 1568.8,860.5 1567.3,864.5 1565.8,868.5 1564.3,872.5 1562.8,876.6 1561.3,880.6 1559.8,884.6 1558.3,888.6 1556.8,892.7 1555.3,896.7 1553.8,900.7 1552.3,904.7 1550.7,908.8 1549.2,912.8 1547.7,916.8 1546.2,920.8 1544.6,924.9 1543.1,928.9 1541.6,932.9 1540,936.9 1538.5,941 1537,945 1535.4,949 1533.9,953 1532.3,957.1 1530.8,961.1 1529.2,965.1 1527.7,969.1 1526.1,973.2 1524.6,977.2 1523,981.2 1521.5,985.2 1519.9,989.3 1518.3,993.3 1516.8,997.3 1515.2,1001.3 1513.6,1005.4 1512.1,1009.4 1510.5,1013.4 1508.9,1017.4 1507.4,1021.5 1505.8,1025.5 1504.2,1029.5 1502.7,1033.5 1501.1,1037.6 1499.5,1041.6 1497.9,1045.6 1496.4,1049.6 1494.8,1053.7 1493.2,1057.7 1491.6,1061.7 1490.1,1065.7 1488.5,1069.8 1486.9,1073.8 1485.3,1077.8 1483.7,1081.8 1482.2,1085.9 1480.6,1089.9 1479,1093.9 1477.4,1097.9 1475.8,1102 1474.3,1106 1472.7,1110 1471.1,1114 1469.5,1118.1 1467.9,1122.1 1466.4,1126.1 1464.8,1130.1 1463.2,1134.2 1461.6,1138.2 1460.1,1142.2 1458.5,1146.2 1456.9,1150.3 1455.3,1154.3 1453.8,1158.3 1452.2,1162.3 1450.6,1166.4 1449,1170.4 1447.5,1174.4 1445.9,1178.4 1444.3,1182.5 1442.8,1186.5 1441.2,1190.5 1439.6,1194.5 1438.1,1198.6 1436.5,1202.6 1435,1206.6 1433.4,1210.6 1431.8,1214.7 1430.3,1218.7 1428.7,1222.7 1427.2,1226.7 1425.6,1230.8 1424.1,1234.8 1422.5,1238.8 1421,1242.8 1419.5,1246.9 1417.9,1250.9 1416.4,1254.9 1414.8,1258.9 1413.3,1263 1411.8,1267 1410.3,1271 1408.7,1275 1407.2,1279.1 1405.7,1283.1 1404.2,1287.1 1402.7,1291.1 1401.1,1295.2 1399.6,1299.2 1398.1,1303.2" fill="none" stroke="#9600ff" stroke-width="5.3" stroke-linejoin="round" stroke-linecap="round" />
<rect x="361.7" y="38" width="1725.6" height="1391.5" fill="none" stroke="#000" stroke-width="5"/>
<text x="1663" y="712.8" font-size="66" text-anchor="start" style="font-family:'Liberation Sans',Arial,sans-serif" >Holding loads</text>
<line x1="1662.3" y1="776.4" x2="1829.7" y2="776.4" stroke="#000000" stroke-width="7" stroke-linecap="butt"/>
<text x="1843" y="800.9" font-size="66" text-anchor="start" style="font-family:'Liberation Sans',Arial,sans-serif" >5mN</text>
<line x1="1662.3" y1="865.6" x2="1829.7" y2="865.6" stroke="#ff0000" stroke-width="7" stroke-linecap="butt"/>
<text x="1843" y="890.1" font-size="66" text-anchor="start" style="font-family:'Liberation Sans',Arial,sans-serif" >10mN</text>
<line x1="1662.3" y1="954.8" x2="1829.7" y2="954.8" stroke="#0000ff" stroke-width="7" stroke-linecap="butt"/>
<text x="1843" y="979.3" font-size="66" text-anchor="start" style="font-family:'Liberation Sans',Arial,sans-serif" >25mN</text>
<line x1="1662.3" y1="1044" x2="1829.7" y2="1044" stroke="#ff00ff" stroke-width="7" stroke-linecap="butt"/>
<text x="1843" y="1068.5" font-size="66" text-anchor="start" style="font-family:'Liberation Sans',Arial,sans-serif" >50mN</text>
<line x1="1662.3" y1="1133.2" x2="1829.7" y2="1133.2" stroke="#008000" stroke-width="7" stroke-linecap="butt"/>
<text x="1843" y="1157.7" font-size="66" text-anchor="start" style="font-family:'Liberation Sans',Arial,sans-serif" >100mN</text>
<line x1="1662.3" y1="1222.4" x2="1829.7" y2="1222.4" stroke="#000080" stroke-width="7" stroke-linecap="butt"/>
<text x="1843" y="1246.9" font-size="66" text-anchor="start" style="font-family:'Liberation Sans',Arial,sans-serif" >200mN</text>
<line x1="1662.3" y1="1311.6" x2="1829.7" y2="1311.6" stroke="#9600ff" stroke-width="7" stroke-linecap="butt"/>
<text x="1843" y="1336.1" font-size="66" text-anchor="start" style="font-family:'Liberation Sans',Arial,sans-serif" >400mN</text>
<text x="1242" y="1673.7" font-size="117" text-anchor="middle" style="font-family:'Liberation Sans',Arial,sans-serif" >h (nm)</text>
<text transform="translate(124,731) rotate(-90)" font-size="119" text-anchor="middle" style="font-family:'Liberation Sans',Arial,sans-serif">P (mN)</text>
<text transform="translate(44.5,132) scale(0.955,1)" x="0" y="0" font-size="104" style="font-family:'Liberation Serif','Times New Roman',serif">(<tspan font-weight="bold">a</tspan>)</text>
<line x1="539.7" y1="656.2" x2="539.7" y2="668.2" stroke="#555" stroke-width="2.2" stroke-linecap="butt"/>
<line x1="630.5" y1="656.2" x2="630.5" y2="662.2" stroke="#555" stroke-width="2.2" stroke-linecap="butt"/>
<line x1="721.4" y1="656.2" x2="721.4" y2="668.2" stroke="#555" stroke-width="2.2" stroke-linecap="butt"/>
<line x1="812.2" y1="656.2" x2="812.2" y2="662.2" stroke="#555" stroke-width="2.2" stroke-linecap="butt"/>
<line x1="903.1" y1="656.2" x2="903.1" y2="668.2" stroke="#555" stroke-width="2.2" stroke-linecap="butt"/>
<line x1="993.9" y1="656.2" x2="993.9" y2="662.2" stroke="#555" stroke-width="2.2" stroke-linecap="butt"/>
<line x1="1084.7" y1="656.2" x2="1084.7" y2="668.2" stroke="#555" stroke-width="2.2" stroke-linecap="butt"/>
<line x1="1175.6" y1="656.2" x2="1175.6" y2="662.2" stroke="#555" stroke-width="2.2" stroke-linecap="butt"/>
<line x1="1266.4" y1="656.2" x2="1266.4" y2="668.2" stroke="#555" stroke-width="2.2" stroke-linecap="butt"/>
<line x1="539.7" y1="656.2" x2="527.7" y2="656.2" stroke="#555" stroke-width="2.2" stroke-linecap="butt"/>
<line x1="539.7" y1="598.6" x2="533.7" y2="598.6" stroke="#555" stroke-width="2.2" stroke-linecap="butt"/>
<line x1="539.7" y1="541" x2="527.7" y2="541" stroke="#555" stroke-width="2.2" stroke-linecap="butt"/>
<line x1="539.7" y1="483.4" x2="533.7" y2="483.4" stroke="#555" stroke-width="2.2" stroke-linecap="butt"/>
<line x1="539.7" y1="425.7" x2="527.7" y2="425.7" stroke="#555" stroke-width="2.2" stroke-linecap="butt"/>
<line x1="539.7" y1="368.1" x2="533.7" y2="368.1" stroke="#555" stroke-width="2.2" stroke-linecap="butt"/>
<line x1="539.7" y1="310.5" x2="527.7" y2="310.5" stroke="#555" stroke-width="2.2" stroke-linecap="butt"/>
<line x1="539.7" y1="252.9" x2="533.7" y2="252.9" stroke="#555" stroke-width="2.2" stroke-linecap="butt"/>
<line x1="539.7" y1="195.3" x2="527.7" y2="195.3" stroke="#555" stroke-width="2.2" stroke-linecap="butt"/>
<line x1="539.7" y1="137.7" x2="533.7" y2="137.7" stroke="#555" stroke-width="2.2" stroke-linecap="butt"/>
<line x1="539.7" y1="80" x2="527.7" y2="80" stroke="#555" stroke-width="2.2" stroke-linecap="butt"/>
<text transform="translate(539.7,717) scale(0.96,1)" font-size="53.5" text-anchor="middle" style="font-family:'Liberation Sans',Arial,sans-serif">0</text>
<text transform="translate(721.4,717) scale(0.96,1)" font-size="53.5" text-anchor="middle" style="font-family:'Liberation Sans',Arial,sans-serif">100</text>
<text transform="translate(903.1,717) scale(0.96,1)" font-size="53.5" text-anchor="middle" style="font-family:'Liberation Sans',Arial,sans-serif">200</text>
<text transform="translate(1084.7,717) scale(0.96,1)" font-size="53.5" text-anchor="middle" style="font-family:'Liberation Sans',Arial,sans-serif">300</text>
<text transform="translate(1266.4,717) scale(0.96,1)" font-size="53.5" text-anchor="middle" style="font-family:'Liberation Sans',Arial,sans-serif">400</text>
<text transform="translate(519,672) scale(0.96,1)" font-size="53.5" text-anchor="end" style="font-family:'Liberation Sans',Arial,sans-serif">0</text>
<text transform="translate(519,556.8) scale(0.96,1)" font-size="53.5" text-anchor="end" style="font-family:'Liberation Sans',Arial,sans-serif">5</text>
<text transform="translate(519,441.5) scale(0.96,1)" font-size="53.5" text-anchor="end" style="font-family:'Liberation Sans',Arial,sans-serif">10</text>
<text transform="translate(519,326.3) scale(0.96,1)" font-size="53.5" text-anchor="end" style="font-family:'Liberation Sans',Arial,sans-serif">15</text>
<text transform="translate(519,211.1) scale(0.96,1)" font-size="53.5" text-anchor="end" style="font-family:'Liberation Sans',Arial,sans-serif">20</text>
<text transform="translate(519,95.8) scale(0.96,1)" font-size="53.5" text-anchor="end" style="font-family:'Liberation Sans',Arial,sans-serif">25</text>
<text x="914" y="781.2" font-size="69" text-anchor="middle" style="font-family:'Liberation Sans',Arial,sans-serif" >h (nm)</text>
<text transform="translate(434.7,344) rotate(-90)" font-size="69" text-anchor="middle" style="font-family:'Liberation Sans',Arial,sans-serif">P (mN)</text>
<g id="inset">
<circle cx="570.8" cy="646.5" r="4.0" fill="#ff0000"/>
<circle cx="603.3" cy="637.6" r="4.0" fill="#ff0000"/>
<circle cx="630.5" cy="628.8" r="4.0" fill="#ff0000"/>
<circle cx="654.2" cy="619.9" r="4.0" fill="#ff0000"/>
<circle cx="675.6" cy="611" r="4.0" fill="#ff0000"/>
<circle cx="695.3" cy="602.2" r="4.0" fill="#ff0000"/>
<circle cx="713.5" cy="593.3" r="4.0" fill="#ff0000"/>
<circle cx="730.6" cy="584.4" r="4.0" fill="#ff0000"/>
<circle cx="746.8" cy="575.5" r="4.0" fill="#ff0000"/>
<circle cx="762.1" cy="566.7" r="4.0" fill="#ff0000"/>
<circle cx="776.8" cy="557.8" r="4.0" fill="#ff0000"/>
<circle cx="790.8" cy="548.9" r="4.0" fill="#ff0000"/>
<circle cx="804.4" cy="540" r="4.0" fill="#ff0000"/>
<circle cx="817.4" cy="531.2" r="4.0" fill="#ff0000"/>
<circle cx="830" cy="522.3" r="4.0" fill="#ff0000"/>
<circle cx="842.2" cy="513.4" r="4.0" fill="#ff0000"/>
<circle cx="854.1" cy="504.6" r="4.0" fill="#ff0000"/>
<circle cx="865.6" cy="495.7" r="4.0" fill="#ff0000"/>
<circle cx="876.8" cy="486.8" r="4.0" fill="#ff0000"/>
<circle cx="887.8" cy="477.9" r="4.0" fill="#ff0000"/>
<circle cx="898.5" cy="469.1" r="4.0" fill="#ff0000"/>
<circle cx="908.9" cy="460.2" r="4.0" fill="#ff0000"/>
<circle cx="919.1" cy="451.3" r="4.0" fill="#ff0000"/>
<circle cx="929.1" cy="442.4" r="4.0" fill="#ff0000"/>
<circle cx="938.9" cy="433.6" r="4.0" fill="#ff0000"/>
<circle cx="946.2" cy="426.9" r="4.0" fill="#ff0000"/>
<circle cx="949.5" cy="426.9" r="4.0" fill="#ff0000"/>
<circle cx="952.7" cy="426.9" r="4.0" fill="#ff0000"/>
<circle cx="956" cy="426.9" r="4.0" fill="#ff0000"/>
<circle cx="959.2" cy="426.9" r="4.0" fill="#ff0000"/>
<circle cx="962.5" cy="426.9" r="4.0" fill="#ff0000"/>
<circle cx="965.7" cy="426.9" r="4.0" fill="#ff0000"/>
<circle cx="964.5" cy="435.9" r="4.0" fill="#ff0000"/>
<circle cx="960.6" cy="444.9" r="4.0" fill="#ff0000"/>
<circle cx="954.8" cy="454" r="4.0" fill="#ff0000"/>
<circle cx="950" cy="463.1" r="4.0" fill="#ff0000"/>
<circle cx="945.4" cy="472.1" r="4.0" fill="#ff0000"/>
<circle cx="940.9" cy="481.2" r="4.0" fill="#ff0000"/>
<circle cx="935.9" cy="490.2" r="4.0" fill="#ff0000"/>
<circle cx="930.7" cy="499.3" r="4.0" fill="#ff0000"/>
<circle cx="925.2" cy="508.3" r="4.0" fill="#ff0000"/>
<circle cx="919.9" cy="517.4" r="4.0" fill="#ff0000"/>
<circle cx="914.7" cy="526.5" r="4.0" fill="#ff0000"/>
<circle cx="909.4" cy="535.5" r="4.0" fill="#ff0000"/>
<circle cx="903.9" cy="544.6" r="4.0" fill="#ff0000"/>
<circle cx="898.4" cy="553.6" r="4.0" fill="#ff0000"/>
<circle cx="892.9" cy="562.7" r="4.0" fill="#ff0000"/>
<circle cx="887.4" cy="571.7" r="4.0" fill="#ff0000"/>
<circle cx="881.6" cy="580.8" r="4.0" fill="#ff0000"/>
<circle cx="874.8" cy="589.9" r="4.0" fill="#ff0000"/>
<circle cx="868.5" cy="598.9" r="4.0" fill="#ff0000"/>
<circle cx="862.1" cy="608" r="4.0" fill="#ff0000"/>
<circle cx="855.5" cy="617" r="4.0" fill="#ff0000"/>
<circle cx="847.9" cy="626.1" r="4.0" fill="#ff0000"/>
<circle cx="837.6" cy="635.1" r="4.0" fill="#ff0000"/>
<circle cx="835.8" cy="634.8" r="4.0" fill="#ff0000"/>
<circle cx="840.4" cy="634.3" r="4.0" fill="#ff0000"/>
<path d="M540.6,651L544.6,658L536.6,658Z" fill="#0000ff"/>
<path d="M585.2,639L589.2,646L581.2,646Z" fill="#0000ff"/>
<path d="M615.1,630.2L619.1,637.2L611.1,637.2Z" fill="#0000ff"/>
<path d="M640.7,621.3L644.7,628.3L636.7,628.3Z" fill="#0000ff"/>
<path d="M663.4,612.4L667.4,619.4L659.4,619.4Z" fill="#0000ff"/>
<path d="M684,603.5L688,610.5L680,610.5Z" fill="#0000ff"/>
<path d="M703,594.7L707,601.7L699,601.7Z" fill="#0000ff"/>
<path d="M720.7,585.8L724.7,592.8L716.7,592.8Z" fill="#0000ff"/>
<path d="M737.4,576.9L741.4,583.9L733.4,583.9Z" fill="#0000ff"/>
<path d="M753.2,568.1L757.2,575.1L749.2,575.1Z" fill="#0000ff"/>
<path d="M768.3,559.2L772.3,566.2L764.3,566.2Z" fill="#0000ff"/>
<path d="M782.7,550.3L786.7,557.3L778.7,557.3Z" fill="#0000ff"/>
<path d="M796.5,541.4L800.5,548.4L792.5,548.4Z" fill="#0000ff"/>
<path d="M809.8,532.6L813.8,539.6L805.8,539.6Z" fill="#0000ff"/>
<path d="M822.7,523.7L826.7,530.7L818.7,530.7Z" fill="#0000ff"/>
<path d="M835.1,514.8L839.1,521.8L831.1,521.8Z" fill="#0000ff"/>
<path d="M847.2,505.9L851.2,512.9L843.2,512.9Z" fill="#0000ff"/>
<path d="M858.9,497.1L862.9,504.1L854.9,504.1Z" fill="#0000ff"/>
<path d="M870.3,488.2L874.3,495.2L866.3,495.2Z" fill="#0000ff"/>
<path d="M881.4,479.3L885.4,486.3L877.4,486.3Z" fill="#0000ff"/>
<path d="M892.2,470.5L896.2,477.5L888.2,477.5Z" fill="#0000ff"/>
<path d="M902.8,461.6L906.8,468.6L898.8,468.6Z" fill="#0000ff"/>
<path d="M913.2,452.7L917.2,459.7L909.2,459.7Z" fill="#0000ff"/>
<path d="M923.3,443.8L927.3,450.8L919.3,450.8Z" fill="#0000ff"/>
<path d="M933.2,435L937.2,442L929.2,442Z" fill="#0000ff"/>
<path d="M942.9,426.1L946.9,433.1L938.9,433.1Z" fill="#0000ff"/>
<path d="M952.5,417.2L956.5,424.2L948.5,424.2Z" fill="#0000ff"/>
<path d="M961.9,408.3L965.9,415.3L957.9,415.3Z" fill="#0000ff"/>
<path d="M971.1,399.5L975.1,406.5L967.1,406.5Z" fill="#0000ff"/>
<path d="M980.1,390.6L984.1,397.6L976.1,397.6Z" fill="#0000ff"/>
<path d="M989,381.7L993,388.7L985,388.7Z" fill="#0000ff"/>
<path d="M997.8,372.9L1001.8,379.9L993.8,379.9Z" fill="#0000ff"/>
<path d="M1006.4,364L1010.4,371L1002.4,371Z" fill="#0000ff"/>
<path d="M1014.9,355.1L1018.9,362.1L1010.9,362.1Z" fill="#0000ff"/>
<path d="M1023.3,346.2L1027.3,353.2L1019.3,353.2Z" fill="#0000ff"/>
<path d="M1031.5,337.4L1035.5,344.4L1027.5,344.4Z" fill="#0000ff"/>
<path d="M1039.7,328.5L1043.7,335.5L1035.7,335.5Z" fill="#0000ff"/>
<path d="M1047.7,319.6L1051.7,326.6L1043.7,326.6Z" fill="#0000ff"/>
<path d="M1055.6,310.7L1059.6,317.7L1051.6,317.7Z" fill="#0000ff"/>
<path d="M1063.4,301.9L1067.4,308.9L1059.4,308.9Z" fill="#0000ff"/>
<path d="M1071.2,293L1075.2,300L1067.2,300Z" fill="#0000ff"/>
<path d="M1078.8,284.1L1082.8,291.1L1074.8,291.1Z" fill="#0000ff"/>
<path d="M1086.4,275.2L1090.4,282.2L1082.4,282.2Z" fill="#0000ff"/>
<path d="M1093.8,266.4L1097.8,273.4L1089.8,273.4Z" fill="#0000ff"/>
<path d="M1101.2,257.5L1105.2,264.5L1097.2,264.5Z" fill="#0000ff"/>
<path d="M1108.5,248.6L1112.5,255.6L1104.5,255.6Z" fill="#0000ff"/>
<path d="M1115.7,239.8L1119.7,246.8L1111.7,246.8Z" fill="#0000ff"/>
<path d="M1122.9,230.9L1126.9,237.9L1118.9,237.9Z" fill="#0000ff"/>
<path d="M1129.9,222L1133.9,229L1125.9,229Z" fill="#0000ff"/>
<path d="M1136.9,213.1L1140.9,220.1L1132.9,220.1Z" fill="#0000ff"/>
<path d="M1143.8,204.3L1147.8,211.3L1139.8,211.3Z" fill="#0000ff"/>
<path d="M1150.7,195.4L1154.7,202.4L1146.7,202.4Z" fill="#0000ff"/>
<path d="M1157.5,186.5L1161.5,193.5L1153.5,193.5Z" fill="#0000ff"/>
<path d="M1164.2,177.6L1168.2,184.6L1160.2,184.6Z" fill="#0000ff"/>
<path d="M1170.9,168.8L1174.9,175.8L1166.9,175.8Z" fill="#0000ff"/>
<path d="M1177.5,159.9L1181.5,166.9L1173.5,166.9Z" fill="#0000ff"/>
<path d="M1184.1,151L1188.1,158L1180.1,158Z" fill="#0000ff"/>
<path d="M1190.6,142.2L1194.6,149.2L1186.6,149.2Z" fill="#0000ff"/>
<path d="M1197,133.3L1201,140.3L1193,140.3Z" fill="#0000ff"/>
<path d="M1203.4,124.4L1207.4,131.4L1199.4,131.4Z" fill="#0000ff"/>
<path d="M1209.7,115.5L1213.7,122.5L1205.7,122.5Z" fill="#0000ff"/>
<path d="M1216,106.7L1220,113.7L1212,113.7Z" fill="#0000ff"/>
<path d="M1222.2,97.8L1226.2,104.8L1218.2,104.8Z" fill="#0000ff"/>
<path d="M1228.4,88.9L1232.4,95.9L1224.4,95.9Z" fill="#0000ff"/>
<path d="M1231.9,83.9L1235.9,90.9L1227.9,90.9Z" fill="#0000ff"/>
<path d="M1234.8,83.9L1238.8,90.9L1230.8,90.9Z" fill="#0000ff"/>
<path d="M1237.6,83.9L1241.6,90.9L1233.6,90.9Z" fill="#0000ff"/>
<path d="M1240.4,83.9L1244.4,90.9L1236.4,90.9Z" fill="#0000ff"/>
<path d="M1243.3,83.9L1247.3,90.9L1239.3,90.9Z" fill="#0000ff"/>
<path d="M1246.1,83.9L1250.1,90.9L1242.1,90.9Z" fill="#0000ff"/>
<path d="M1248.9,83.9L1252.9,90.9L1244.9,90.9Z" fill="#0000ff"/>
<path d="M1251.8,83.9L1255.8,90.9L1247.8,90.9Z" fill="#0000ff"/>
<path d="M1254.6,83.9L1258.6,90.9L1250.6,90.9Z" fill="#0000ff"/>
<path d="M1252,93.1L1256,100.1L1248,100.1Z" fill="#0000ff"/>
<path d="M1249.1,102.2L1253.1,109.2L1245.1,109.2Z" fill="#0000ff"/>
<path d="M1246.2,111.3L1250.2,118.3L1242.2,118.3Z" fill="#0000ff"/>
<path d="M1243.3,120.4L1247.3,127.4L1239.3,127.4Z" fill="#0000ff"/>
<path d="M1240.1,129.5L1244.1,136.5L1236.1,136.5Z" fill="#0000ff"/>
<path d="M1236.9,138.6L1240.9,145.6L1232.9,145.6Z" fill="#0000ff"/>
<path d="M1233.2,147.7L1237.2,154.7L1229.2,154.7Z" fill="#0000ff"/>
<path d="M1230,156.8L1234,163.8L1226,163.8Z" fill="#0000ff"/>
<path d="M1227,165.9L1231,172.9L1223,172.9Z" fill="#0000ff"/>
<path d="M1224,175L1228,182L1220,182Z" fill="#0000ff"/>
<path d="M1221.1,184.1L1225.1,191.1L1217.1,191.1Z" fill="#0000ff"/>
<path d="M1218,193.2L1222,200.2L1214,200.2Z" fill="#0000ff"/>
<path d="M1214.6,202.3L1218.6,209.3L1210.6,209.3Z" fill="#0000ff"/>
<path d="M1210.8,211.4L1214.8,218.4L1206.8,218.4Z" fill="#0000ff"/>
<path d="M1207.7,220.5L1211.7,227.5L1203.7,227.5Z" fill="#0000ff"/>
<path d="M1204.3,229.6L1208.3,236.6L1200.3,236.6Z" fill="#0000ff"/>
<path d="M1200.7,238.7L1204.7,245.7L1196.7,245.7Z" fill="#0000ff"/>
<path d="M1197.2,247.8L1201.2,254.8L1193.2,254.8Z" fill="#0000ff"/>
<path d="M1194.4,256.9L1198.4,263.9L1190.4,263.9Z" fill="#0000ff"/>
<path d="M1191.2,266L1195.2,273L1187.2,273Z" fill="#0000ff"/>
<path d="M1188,275.1L1192,282.1L1184,282.1Z" fill="#0000ff"/>
<path d="M1184.6,284.2L1188.6,291.2L1180.6,291.2Z" fill="#0000ff"/>
<path d="M1181.2,293.3L1185.2,300.3L1177.2,300.3Z" fill="#0000ff"/>
<path d="M1177.6,302.4L1181.6,309.4L1173.6,309.4Z" fill="#0000ff"/>
<path d="M1174.5,311.5L1178.5,318.5L1170.5,318.5Z" fill="#0000ff"/>
<path d="M1170.8,320.7L1174.8,327.7L1166.8,327.7Z" fill="#0000ff"/>
<path d="M1167.2,329.8L1171.2,336.8L1163.2,336.8Z" fill="#0000ff"/>
<path d="M1163.9,338.9L1167.9,345.9L1159.9,345.9Z" fill="#0000ff"/>
<path d="M1160.3,348L1164.3,355L1156.3,355Z" fill="#0000ff"/>
<path d="M1157.1,357.1L1161.1,364.1L1153.1,364.1Z" fill="#0000ff"/>
<path d="M1153.3,366.2L1157.3,373.2L1149.3,373.2Z" fill="#0000ff"/>
<path d="M1150.1,375.3L1154.1,382.3L1146.1,382.3Z" fill="#0000ff"/>
<path d="M1146.4,384.4L1150.4,391.4L1142.4,391.4Z" fill="#0000ff"/>
<path d="M1142.4,393.5L1146.4,400.5L1138.4,400.5Z" fill="#0000ff"/>
<path d="M1138.9,402.6L1142.9,409.6L1134.9,409.6Z" fill="#0000ff"/>
<path d="M1135.5,411.7L1139.5,418.7L1131.5,418.7Z" fill="#0000ff"/>
<path d="M1131.5,420.8L1135.5,427.8L1127.5,427.8Z" fill="#0000ff"/>
<path d="M1128.1,429.9L1132.1,436.9L1124.1,436.9Z" fill="#0000ff"/>
<path d="M1124.5,439L1128.5,446L1120.5,446Z" fill="#0000ff"/>
<path d="M1120.2,448.1L1124.2,455.1L1116.2,455.1Z" fill="#0000ff"/>
<path d="M1116.3,457.2L1120.3,464.2L1112.3,464.2Z" fill="#0000ff"/>
<path d="M1112.5,466.3L1116.5,473.3L1108.5,473.3Z" fill="#0000ff"/>
<path d="M1108.9,475.4L1112.9,482.4L1104.9,482.4Z" fill="#0000ff"/>
<path d="M1104.7,484.5L1108.7,491.5L1100.7,491.5Z" fill="#0000ff"/>
<path d="M1100,493.6L1104,500.6L1096,500.6Z" fill="#0000ff"/>
<path d="M1096,502.7L1100,509.7L1092,509.7Z" fill="#0000ff"/>
<path d="M1091.4,511.8L1095.4,518.8L1087.4,518.8Z" fill="#0000ff"/>
<path d="M1087.3,520.9L1091.3,527.9L1083.3,527.9Z" fill="#0000ff"/>
<path d="M1082.8,530L1086.8,537L1078.8,537Z" fill="#0000ff"/>
<path d="M1077.9,539.1L1081.9,546.1L1073.9,546.1Z" fill="#0000ff"/>
<path d="M1073.6,548.2L1077.6,555.2L1069.6,555.2Z" fill="#0000ff"/>
<path d="M1069.1,557.3L1073.1,564.3L1065.1,564.3Z" fill="#0000ff"/>
<path d="M1064.6,566.4L1068.6,573.4L1060.6,573.4Z" fill="#0000ff"/>
<path d="M1060,575.5L1064,582.5L1056,582.5Z" fill="#0000ff"/>
<path d="M1054.8,584.6L1058.8,591.6L1050.8,591.6Z" fill="#0000ff"/>
<path d="M1047,593.7L1051,600.7L1043,600.7Z" fill="#0000ff"/>
<path d="M1042.1,595.5L1046.1,602.5L1038.1,602.5Z" fill="#0000ff"/>
<path d="M1043.9,594.8L1047.9,601.8L1039.9,601.8Z" fill="#0000ff"/>
<rect x="760.7" y="560.6" width="6" height="6" fill="#000"/>
<rect x="764.1" y="560.6" width="6" height="6" fill="#000"/>
<rect x="767.5" y="560.6" width="6" height="6" fill="#000"/>
<rect x="770.9" y="560.6" width="6" height="6" fill="#000"/>
<rect x="774.3" y="560.6" width="6" height="6" fill="#000"/>
<rect x="777.7" y="560.6" width="6" height="6" fill="#000"/>
<rect x="781.1" y="560.6" width="6" height="6" fill="#000"/>
<rect x="774.4" y="569.8" width="6" height="6" fill="#000"/>
<rect x="766.8" y="579" width="6" height="6" fill="#000"/>
<rect x="758.7" y="588.2" width="6" height="6" fill="#000"/>
<rect x="749.9" y="597.4" width="6" height="6" fill="#000"/>
<rect x="741.3" y="606.6" width="6" height="6" fill="#000"/>
<rect x="732.1" y="615.9" width="6" height="6" fill="#000"/>
<rect x="722.5" y="625.1" width="6" height="6" fill="#000"/>
<rect x="712.9" y="634.3" width="6" height="6" fill="#000"/>
<rect x="701.1" y="643.5" width="6" height="6" fill="#000"/>
<rect x="691.1" y="646.3" width="6" height="6" fill="#000"/>
<rect x="695.7" y="645.8" width="6" height="6" fill="#000"/>
</g>
<rect x="539.7" y="57" width="744.9" height="599.2" fill="none" stroke="#222" stroke-width="2.6"/>
<line x1="367" y1="3225" x2="367" y2="3254" stroke="#000" stroke-width="4" stroke-linecap="butt"/>
<line x1="523.8" y1="3225" x2="523.8" y2="3240" stroke="#000" stroke-width="4" stroke-linecap="butt"/>
<line x1="680.6" y1="3225" x2="680.6" y2="3254" stroke="#000" stroke-width="4" stroke-linecap="butt"/>
<line x1="837.5" y1="3225" x2="837.5" y2="3240" stroke="#000" stroke-width="4" stroke-linecap="butt"/>
<line x1="994.3" y1="3225" x2="994.3" y2="3254" stroke="#000" stroke-width="4" stroke-linecap="butt"/>
<line x1="1151.1" y1="3225" x2="1151.1" y2="3240" stroke="#000" stroke-width="4" stroke-linecap="butt"/>
<line x1="1307.9" y1="3225" x2="1307.9" y2="3254" stroke="#000" stroke-width="4" stroke-linecap="butt"/>
<line x1="1464.7" y1="3225" x2="1464.7" y2="3240" stroke="#000" stroke-width="4" stroke-linecap="butt"/>
<line x1="1621.5" y1="3225" x2="1621.5" y2="3254" stroke="#000" stroke-width="4" stroke-linecap="butt"/>
<line x1="1778.4" y1="3225" x2="1778.4" y2="3240" stroke="#000" stroke-width="4" stroke-linecap="butt"/>
<line x1="1935.2" y1="3225" x2="1935.2" y2="3254" stroke="#000" stroke-width="4" stroke-linecap="butt"/>
<line x1="2092" y1="3225" x2="2092" y2="3240" stroke="#000" stroke-width="4" stroke-linecap="butt"/>
<line x1="367" y1="3225" x2="337" y2="3225" stroke="#000" stroke-width="4" stroke-linecap="butt"/>
<line x1="367" y1="3085.9" x2="351" y2="3085.9" stroke="#000" stroke-width="4" stroke-linecap="butt"/>
<line x1="367" y1="2946.8" x2="337" y2="2946.8" stroke="#000" stroke-width="4" stroke-linecap="butt"/>
<line x1="367" y1="2807.7" x2="351" y2="2807.7" stroke="#000" stroke-width="4" stroke-linecap="butt"/>
<line x1="367" y1="2668.6" x2="337" y2="2668.6" stroke="#000" stroke-width="4" stroke-linecap="butt"/>
<line x1="367" y1="2529.5" x2="351" y2="2529.5" stroke="#000" stroke-width="4" stroke-linecap="butt"/>
<line x1="367" y1="2390.4" x2="337" y2="2390.4" stroke="#000" stroke-width="4" stroke-linecap="butt"/>
<line x1="367" y1="2251.3" x2="351" y2="2251.3" stroke="#000" stroke-width="4" stroke-linecap="butt"/>
<line x1="367" y1="2112.2" x2="337" y2="2112.2" stroke="#000" stroke-width="4" stroke-linecap="butt"/>
<line x1="367" y1="1973.1" x2="351" y2="1973.1" stroke="#000" stroke-width="4" stroke-linecap="butt"/>
<line x1="367" y1="1834" x2="337" y2="1834" stroke="#000" stroke-width="4" stroke-linecap="butt"/>
<text x="367" y="3332" font-size="79" text-anchor="middle" style="font-family:'Liberation Sans',Arial,sans-serif" >0</text>
<text x="680.6" y="3332" font-size="79" text-anchor="middle" style="font-family:'Liberation Sans',Arial,sans-serif" >100</text>
<text x="994.3" y="3332" font-size="79" text-anchor="middle" style="font-family:'Liberation Sans',Arial,sans-serif" >200</text>
<text x="1307.9" y="3332" font-size="79" text-anchor="middle" style="font-family:'Liberation Sans',Arial,sans-serif" >300</text>
<text x="1621.5" y="3332" font-size="79" text-anchor="middle" style="font-family:'Liberation Sans',Arial,sans-serif" >400</text>
<text x="1935.2" y="3332" font-size="79" text-anchor="middle" style="font-family:'Liberation Sans',Arial,sans-serif" >500</text>
<text x="320" y="3248" font-size="79" text-anchor="end" style="font-family:'Liberation Sans',Arial,sans-serif" >0</text>
<text x="320" y="2969.8" font-size="79" text-anchor="end" style="font-family:'Liberation Sans',Arial,sans-serif" >10</text>
<text x="320" y="2691.6" font-size="79" text-anchor="end" style="font-family:'Liberation Sans',Arial,sans-serif" >20</text>
<text x="320" y="2413.4" font-size="79" text-anchor="end" style="font-family:'Liberation Sans',Arial,sans-serif" >30</text>
<text x="320" y="2135.2" font-size="79" text-anchor="end" style="font-family:'Liberation Sans',Arial,sans-serif" >40</text>
<text x="320" y="1857" font-size="79" text-anchor="end" style="font-family:'Liberation Sans',Arial,sans-serif" >50</text>
<path d="M367,3225l0.5 -12.5 0.5 -5 0.5 -5.5 0.5 -3 0.5 -3.5 0.5 0.5 0.5 -3.5 0.5 1 0.5 -12 0.5 13 0.5 -8.5 0.5 2 0.5 -4.5 0.5 -2.5 0.5 3 0.5 1 0.5 -4.5 0.5 -1 0.5 3 0.5 -7 0.5 -2.5 0.5 7 0.5 -4 0.5 -6 0.5 4 0.5 1.5 0.5 -4.5 0.5 -1 0.5 6.5 0.5 3.5 0.5 -6 0.5 -2 0.5 5 0.5 1.5 0.5 -4.5 0.5 4.5 0.5 2 0.5 -5.5 0.5 -2 0.5 4.5 0.5 -1 0.5 4 0.5 -10.5 0.5 3 0.5 -1 0.5 -4 0.5 8 0.5 2 0.5 -5 0.5 9 0.5 -3 0.5 -1 0.5 -3 0.5 2.5 0.5 -10 0.5 8 0.5 1 0.5 -10 0.5 9 0.5 -3 0.5 5.5 0.5 -6 0.5 2 0.5 1 0.5 -5.5 0.5 6 0.5 -3.5 0.5 1 0.5 -5 0.5 7.5 0.5 -2 0.5 -4.5 0.5 3.5 0.5 2 0.5 2.5 0.5 -15 0.5 9.5 0.5 -2 0.5 -2.5 0.5 -4.5 0.5 9.5 0.5 -11.5 0.5 9 0.5 2.5 0.5 -13 0.5 5 0.5 -5 0.5 5.5 0.5 5.5 0.5 2.5 0.5 -18.5 0.5 4.5 0.5 5 0.5 4.5 0.5 -6 0.5 -5.5 0.5 4 0.5 -1 0.5 -0.5 0.5 -2.5 0.5 4 0.5 0 0.5 -1.5 0.5 -1 0.5 -5 0.5 3 0.5 7 0.5 -7 0.5 -5.5 0.5 11.5 0.5 -4 0.5 7 0.5 -9.5 0.5 -3.5 0.5 -4.5 0.5 10.5 0.5 4.5 0.5 -13 0.5 1 0.5 4.5 0.5 -6 0.5 2.5 0.5 -0.5 0.5 1.5 0.5 4.5 0.5 -4.5 0.5 4 0.5 -6 0.5 1.5 0.5 -11 0.5 4 0.5 9.5 0.5 -6 0.5 5 0.5 -0.5 0.5 3.5 0.5 -1.5 0.5 1 0.5 -5 0.5 -2.5 0.5 0 0.5 0.5 0.5 -3 0.5 3.5 0.5 1.5 0.5 3 0.5 -2 0.5 -8 0.5 7.5 0.5 1.5 0.5 3.5 0.5 -2 0.5 -5 0.5 -1.5 0.5 11.5 0.5 -6.5 0.5 5 0.5 1.5 0.5 -12.5 0.5 5 0.5 -0.5 0.5 1 0.5 -0.5 0.5 -1 0.5 -0.5 0.5 -7 0.5 5.5 0.5 -3 0.5 3 0.5 -3 0.5 4.5 0.5 0.5 0.5 -2.5 0.5 -0.5 0.5 0 0.5 -3 0.5 1 0.5 -2 0.5 4 0.5 -2 0.5 3 0.5 -8 0.5 9.5 0.5 -5.5 0.5 -0.5 0.5 2.5 0.5 -2 0.5 3.5 0.5 -3.5 0.5 -1.5 0.5 1 0.5 8.5 0.5 -6 0.5 -6 0.5 4.5 0.5 -7 0.5 15 0.5 -14.5 0.5 9 0.5 0.5 0.5 -8.5 0.5 7.5 0.5 4 0.5 -2 0.5 -1.5 0.5 3.5 0.5 -4.5 0.5 1 0.5 -2.5 0.5 2.5 0.5 -7 0.5 6 0.5 -6 0.5 -3.5 0.5 5.5 0.5 6.5 0.5 -2.5 0.5 -6 0.5 5 0.5 -5.5 0.5 1.5 0.5 0.5 0.5 -11 0.5 11 0.5 -4.5 0.5 0 0.5 -4 0.5 -0.5 0.5 1.5 0.5 7.5 0.5 3 0.5 -7.5 0.5 4 0.5 -7 0.5 -7.5 0.5 8 0.5 1.5 0.5 -3.5 0.5 3.5 0.5 1.5 0.5 -7 0.5 -2.5 0.5 6 0.5 0 0.5 0 0.5 4.5 0.5 2 0.5 -10 0.5 4.5 0.5 1 0.5 -1 0.5 2 0.5 -5.5 0.5 4.5 0.5 6 0.5 -5 0.5 -5.5 0.5 5 0.5 3.5 0.5 -3.5 0.5 -3.5 0.5 9 0.5 -12 0.5 7.5 0.5 -2.5 0.5 -5.5 0.5 10 0.5 -5 0.5 -7.5 0.5 7 0.5 -4 0.5 -6 0.5 5 0.5 4 0.5 2 0.5 -2 0.5 -0.5 0.5 2.5 0.5 -3 0.5 5.5 0.5 -5.5 0.5 0 0.5 1 0.5 -7.5 0.5 0.5 0.5 10 0.5 -6 0.5 -3 0.5 2.5 0.5 -4.5 0.5 3 0.5 -4 0.5 4.5 0.5 -7 0.5 13 0.5 -8 0.5 -4 0.5 7 0.5 -1 0.5 2 0.5 -5 0.5 6 0.5 14 0.5 -21 0.5 6.5 0.5 -2.5 0.5 2 0.5 -8.5 0.5 2.5 0.5 7 0.5 -1.5 0.5 7.5 0.5 -9.5 0.5 4.5 0.5 12.5 0.5 -16 0.5 0 0.5 3 0.5 -0.5 0.5 4.5 0.5 -3.5 0.5 -4 0.5 4 0.5 10.5 0.5 -6 0.5 -17.5 0.5 10.5 0.5 -3 0.5 7 0.5 -3.5 0.5 9 0.5 -4.5 0.5 0 0.5 -3.5 0.5 0 0.5 1 0.5 4 0.5 -4 0.5 -4 0.5 6.5 0.5 -5 0.5 -2 0.5 -4 0.5 0.5 0.5 -1.5 0.5 -9.5 0.5 16 0.5 -1.5 0.5 -2.5 0.5 6 0.5 -2.5 0.5 -0.5 0.5 -13 0.5 9.5 0.5 3.5 0.5 4.5 0.5 1 0.5 -2.5 0.5 -10.5 0.5 -5 0.5 11.5 0.5 -3 0.5 3.5 0.5 -5 0.5 1 0.5 -7 0.5 7.5 0.5 -4 0.5 3.5 0.5 -0.5 0.5 -2.5 0.5 2 0.5 -1 0.5 4 0.5 -1 0.5 -4 0.5 0 0.5 9.5 0.5 -8 0.5 3.5 0.5 -2.5 0.5 -4.5 0.5 -0.5 0.5 4 0.5 0.5 0.5 1.5 0.5 -8.5 0.5 2.5 0.5 2 0.5 7 0.5 -16.5 0.5 12.5 0.5 -5 0.5 4 0.5 -4 0.5 3.5 0.5 6 0.5 -5 0.5 0.5 0.5 0.5 0.5 -5.5 0.5 5.5 0.5 -3.5 0.5 -3 0.5 3 0.5 -0.5 0.5 4.5 0.5 -4 0.5 -2 0.5 9 0.5 -2 0.5 2 0.5 -2.5 0.5 -3.5 0.5 -1.5 0.5 1 0.5 6.5 0.5 -4 0.5 -7 0.5 7 0.5 -5.5 0.5 7 0.5 -5.5 0.5 0 0.5 5.5 0.5 -1 0.5 -7 0.5 10.5 0.5 5.5 0.5 -15.5 0.5 14 0.5 -10.5 0.5 1 0.5 1.5 0.5 -6.5 0.5 11.5 0.5 -3.5 0.5 -5 0.5 1 0.5 -5.5 0.5 5 0.5 4 0.5 -12 0.5 5.5 0.5 2 0.5 3.5 0.5 -0.5 0.5 -7.5 0.5 -2 0.5 4 0.5 -4 0.5 0 0.5 5.5 0.5 2.5 0.5 -5.5 0.5 -2.5 0.5 3 0.5 -11 0.5 8.5 0.5 -4 0.5 16 0.5 -8 0.5 -2 0.5 -1.5 0.5 -9 0.5 13.5 0.5 4.5 0.5 -10.5 0.5 5.5 0.5 0 0.5 -9 0.5 11 0.5 1.5 0.5 -6 0.5 -0.5 0.5 3 0.5 -9.5 0.5 6.5 0.5 5 0.5 -9 0.5 10.5 0.5 -7 0.5 -7 0.5 8.5 0.5 -4.5 0.5 5.5 0.5 -6 0.5 9.5 0.5 -8 0.5 3.5 0.5 -5 0.5 2 0.5 6 0.5 -4 0.5 -2.5 0.5 -4 0.5 9.5 0.5 -2 0.5 -4 0.5 2 0.5 -6 0.5 -0.5 0.5 1 0.5 5.5 0.5 -1 0.5 -3.5 0.5 6.5 0.5 0 0.5 1 0.5 -0.5 0.5 -7 0.5 0.5 0.5 2.5 0.5 -2 0.5 4 0.5 -8.5 0.5 11 0.5 -10 0.5 2.5 0.5 -4.5 0.5 8 0.5 3.5 0.5 -1.5 0.5 -1 0.5 -10.5 0.5 2.5 0.5 1.5 0.5 -1.5 0.5 7.5 0.5 -3.5 0.5 -0.5 0.5 3 0.5 -7.5 0.5 0.5 0.5 0.5 0.5 5 0.5 0 0.5 1 0.5 1.5 0.5 -11 0.5 4 0.5 4 0.5 -5.5 0.5 3 0.5 7.5 0.5 -0.5 0.5 0.5 0.5 -3.5 0.5 -1.5 0.5 5 0.5 -6 0.5 2.5 0.5 5 0.5 -8 0.5 -1.5 0.5 3 0.5 3 0.5 0 0.5 0 0.5 1.5 0.5 -8.5 0.5 3 0.5 5 0.5 -5 0.5 -2 0.5 1 0.5 0 0.5 3 0.5 -4 0.5 5.5 0.5 6.5 0.5 -8.5 0.5 5.5 0.5 -4.5 0.5 -7 0.5 4 0.5 -4.5 0.5 8 0.5 -8.5 0.5 10.5 0.5 -2.5 0.5 -11 0.5 12 0.5 3 0.5 -9.5 0.5 8 0.5 -12.5 0.5 8.5 0.5 -9 0.5 9 0.5 -10.5 0.5 -4 0.5 13 0.5 7.5 0.5 -12.5 0.5 6.5 0.5 -2.5 0.5 -1.5 0.5 4.5 0.5 4 0.5 -13.5 0.5 8 0.5 -1.5 0.5 -6.5 0.5 14 0.5 1.5 0.5 -12 0.5 11.5 0.5 -7.5 0.5 0 0.5 6.5 0.5 -5 0.5 -0.5 0.5 5.5 0.5 -1 0.5 -3 0.5 -10.5 0.5 -1 0.5 12 0.5 -14 0.5 9.5 0.5 -5.5 0.5 3.5 0.5 -4 0.5 12.5 0.5 -12 0.5 3 0.5 -1 0.5 5.5 0.5 -11.5 0.5 6.5 0.5 -0.5 0.5 8 0.5 -6 0.5 -5 0.5 3 0.5 -3 0.5 3 0.5 -2.5 0.5 -3.5 0.5 2.5 0.5 2 0.5 9 0.5 -12 0.5 3.5 0.5 5 0.5 -15.5 0.5 2 0.5 2.5 0.5 5 0.5 11.5 0.5 -8.5 0.5 4 0.5 -5.5 0.5 -10 0.5 1.5 0.5 14.5 0.5 -3.5 0.5 -6 0.5 11 0.5 -11.5 0.5 11 0.5 1.5 0.5 -10 0.5 -1.5 0.5 8 0.5 -8.5 0.5 8.5 0.5 -8.5 0.5 9.5 0.5 -2.5 0.5 -4.5 0.5 -2.5 0.5 4 0.5 -9 0.5 7.5 0.5 -0.5 0.5 4 0.5 -8 0.5 12.5 0.5 -8 0.5 -4.5 0.5 11 0.5 1 0.5 -7.5 0.5 -3 0.5 4.5 0.5 -3 0.5 0.5 0.5 8.5 0.5 -6 0.5 -1.5 0.5 1.5 0.5 -2 0.5 4.5 0.5 0 0.5 -5 0.5 2 0.5 9.5 0.5 -9 0.5 -3.5 0.5 9 0.5 -8 0.5 -4.5 0.5 7 0.5 -7 0.5 1 0.5 3.5 0.5 -2.5 0.5 -3 0.5 0.5 0.5 0 0.5 7.5 0.5 -12.5 0.5 4.5 0.5 10 0.5 -11 0.5 8 0.5 -0.5 0.5 -6.5 0.5 -5.5 0.5 8 0.5 0 0.5 1 0.5 -3.5 0.5 4.5 0.5 0.5 0.5 -10.5 0.5 9.5 0.5 -6 0.5 -3 0.5 2 0.5 8.5 0.5 -3.5 0.5 -12.5 0.5 7.5 0.5 -1 0.5 1 0.5 -2 0.5 -3.5 0.5 10 0.5 -8.5 0.5 2 0.5 -1.5 0.5 0 0.5 6.5 0.5 -2.5 0.5 -4 0.5 -1 0.5 2 0.5 7 0.5 -3 0.5 1 0.5 -2 0.5 -2 0.5 2 0.5 -9.5 0.5 15 0.5 -9.5 0.5 1.5 0.5 7.5 0.5 -4.5 0.5 -1.5 0.5 -3.5 0.5 -4 0.5 7 0.5 3.5 0.5 -9.5 0.5 9.5 0.5 -11.5 0.5 0.5 0.5 5.5 0.5 -2 0.5 3 0.5 -6 0.5 -1.5 0.5 -4 0.5 2.5 0.5 0 0.5 -1.5 0.5 7.5 0.5 -4 0.5 -6 0.5 19 0.5 -14 0.5 -2 0.5 11.5 0.5 -0.5 0.5 -11 0.5 0 0.5 2 0.5 8.5 0.5 -5 0.5 -3 0.5 3 0.5 8 0.5 -10.5 0.5 3.5 0.5 -4.5 0.5 15 0.5 -0.5 0.5 -4 0.5 -5.5 0.5 3.5 0.5 -12 0.5 9.5 0.5 -7 0.5 -0.5 0.5 2.5 0.5 2 0.5 3.5 0.5 0 0.5 -2 0.5 -4.5 0.5 7 0.5 -3 0.5 5 0.5 -9.5 0.5 -8 0.5 9.5 0.5 12 0.5 -7 0.5 -3.5 0.5 5.5 0.5 -1 0.5 -2 0.5 -3.5 0.5 3.5 0.5 1.5 0.5 -3.5 0.5 -2.5 0.5 5 0.5 5 0.5 -1.5 0.5 -1 0.5 0 0.5 9.5 0.5 -9.5 0.5 4 0.5 3 0.5 -8.5 0.5 1 0.5 4 0.5 2 0.5 -6 0.5 1 0.5 -3 0.5 -4.5 0.5 11 0.5 -7.5 0.5 -7 0.5 7 0.5 -6 0.5 4 0.5 4 0.5 -3 0.5 8.5 0.5 -11.5 0.5 7 0.5 0.5 0.5 4 0.5 -1.5 0.5 -4.5 0.5 0 0.5 -1 0.5 5.5 0.5 -8 0.5 5.5 0.5 -2.5 0.5 1.5 0.5 -2.5 0.5 10.5 0.5 -13 0.5 4 0.5 0.5 0.5 1.5 0.5 0 0.5 -0.5 0.5 1.5 0.5 -9.5 0.5 6 0.5 -6.5 0.5 5.5 0.5 -6 0.5 1.5 0.5 3 0.5 6.5 0.5 -3.5 0.5 -1.5 0.5 5 0.5 -9.5 0.5 -5.5 0.5 8 0.5 0 0.5 6 0.5 4 0.5 -15.5 0.5 16.5 0.5 -4 0.5 -3 0.5 -1 0.5 8.5 0.5 -9.5 0.5 -2.5 0.5 2.5 0.5 -7 0.5 9 0.5 -2.5 0.5 2.5 0.5 -0.5 0.5 -6 0.5 11 0.5 -11.5 0.5 8 0.5 -11.5 0.5 8.5 0.5 -6 0.5 4 0.5 -2.5 0.5 -6.5 0.5 4 0.5 4.5 0.5 2.5 0.5 -9.5 0.5 -4 0.5 5 0.5 3.5 0.5 -2 0.5 -1 0.5 7 0.5 0.5 0.5 -1 0.5 -7.5 0.5 -1 0.5 3 0.5 -4 0.5 9 0.5 -3 0.5 -3.5 0.5 9 0.5 -3 0.5 0.5 0.5 2.5 0.5 -3 0.5 -8 0.5 3.5 0.5 6 0.5 -7.5 0.5 4 0.5 0 0.5 5.5 0.5 -0.5 0.5 -2 0.5 -4 0.5 6 0.5 -0.5 0.5 -3 0.5 7.5 0.5 -4.5 0.5 -4.5 0.5 8.5 0.5 -7 0.5 3.5 0.5 -9 0.5 7.5 0.5 -5 0.5 0 0.5 -4.5 0.5 19.5 0.5 -10.5 0.5 1.5 0.5 3 0.5 -5 0.5 3 0.5 -8 0.5 7.5 0.5 -3.5 0.5 3 0.5 -1.5 0.5 -5 0.5 -2.5 0.5 3.5 0.5 7 0.5 -1.5 0.5 -1.5 0.5 -11 0.5 -3 0.5 8.5 0.5 1 0.5 -2.5 0.5 5 0.5 -1.5 0.5 -4.5 0.5 0.5 0.5 4.5 0.5 1 0.5 -1 0.5 9 0.5 -12 0.5 2.5 0.5 -4.5 0.5 3.5 0.5 4 0.5 0.5 0.5 -3.5 0.5 2.5 0.5 -1 0.5 -8 0.5 -6 0.5 22.5 0.5 -6.5 0.5 -3.5 0.5 -7 0.5 2 0.5 12.5 0.5 -18 0.5 11 0.5 5.5 0.5 -2.5 0.5 3 0.5 -4 0.5 10 0.5 -14.5 0.5 -1.5 0.5 6.5 0.5 4 0.5 -6.5 0.5 5.5 0.5 -7.5 0.5 -3 0.5 11.5 0.5 1 0.5 -1 0.5 -9 0.5 -4 0.5 0.5 0.5 3.5 0.5 2.5 0.5 0.5 0.5 -8.5 0.5 7.5 0.5 -1 0.5 -0.5 0.5 -0.5 0.5 -0.5 0.5 3.5 0.5 -2.5 0.5 -0.5 0.5 -4.5 0.5 4.5 0.5 -2.5 0.5 -8.5 0.5 10 0.5 -2.5 0.5 5 0.5 -4.5 0.5 1 0.5 1.5 0.5 -1 0.5 -1.5 0.5 -6.5 0.5 15 0.5 -15 0.5 5 0.5 5 0.5 -2 0.5 1.5 0.5 1 0.5 1 0.5 -4 0.5 11 0.5 -17 0.5 5.5 0.5 -2.5 0.5 -1 0.5 3 0.5 4.5 0.5 -8 0.5 -0.5 0.5 6 0.5 -0.5 0.5 6.5 0.5 -4 0.5 -4 0.5 -2.5 0.5 2.5 0.5 -2 0.5 -5 0.5 5.5 0.5 -1.5 0.5 0 0.5 -1 0.5 9 0.5 -4 0.5 1 0.5 -6.5 0.5 -2.5 0.5 3 0.5 2 0.5 -2.5 0.5 0.5 0.5 4.5 0.5 -3 0.5 -6.5 0.5 2.5 0.5 -0.5 0.5 3.5 0.5 -6 0.5 4.5 0.5 4 0.5 -3.5 0.5 -4 0.5 1.5 0.5 3.5 0.5 1 0.5 1.5 0.5 -4.5 0.5 -5 0.5 11.5 0.5 -4.5 0.5 0 0.5 0.5 0.5 -5 0.5 3 0.5 2 0.5 3 0.5 -3 0.5 -13.5 0.5 13 0.5 2.5 0.5 4.5 0.5 -2.5 0.5 8 0.5 -4 0.5 -0.5 0.5 -2 0.5 -10.5 0.5 9 0.5 -0.5 0.5 2.5 0.5 -2.5 0.5 -0.5 0.5 -3 0.5 1.5 0.5 -0.5 0.5 3 0.5 -3.5 0.5 3.5 0.5 -10.5 0.5 8 0.5 -5.5 0.5 4.5 0.5 4 0.5 -1.5 0.5 -1.5 0.5 2 0.5 5.5 0.5 -11 0.5 8.5 0.5 -10 0.5 4 0.5 2.5 0.5 -3.5 0.5 3.5 0.5 2.5 0.5 -7.5 0.5 5 0.5 -0.5 0.5 -7.5 0.5 6.5 0.5 -2.5 0.5 8.5 0.5 -10.5 0.5 11.5 0.5 -10.5 0.5 10 0.5 -5.5 0.5 0 0.5 2.5 0.5 -1.5 0.5 2 0.5 1.5 0.5 -8 0.5 -5 0.5 -6 0.5 9.5 0.5 5.5 0.5 -2.5 0.5 -1.5 0.5 -2.5 0.5 0 0.5 2 0.5 2.5 0.5 -8 0.5 10 0.5 -10 0.5 5 0.5 -2 0.5 1.5 0.5 -3 0.5 0.5 0.5 4 0.5 -3 0.5 15.5 0.5 -12 0.5 -0.5 0.5 -0.5 0.5 -2.5 0.5 -6 0.5 10.5 0.5 2 0.5 -8 0.5 5.5 0.5 -5 0.5 5.5 0.5 1 0.5 -1 0.5 0.5 0.5 -4 0.5 7.5 0.5 -7 0.5 2.5 0.5 1.5 0.5 -5 0.5 -3.5 0.5 8.5 0.5 -7.5 0.5 1 0.5 -2 0.5 7.5 0.5 -4.5 0.5 -8 0.5 12 0.5 4.5 0.5 -1.5 0.5 -10.5 0.5 2.5 0.5 2 0.5 1.5 0.5 -4.5 0.5 -5.5 0.5 8.5 0.5 0 0.5 -8.5 0.5 4.5 0.5 3.5 0.5 -1.5 0.5 1.5 0.5 0.5 0.5 -1.5 0.5 -2.5 0.5 -5.5 0.5 7.5 0.5 2.5 0.5 2 0.5 -9.5 0.5 0.5 0.5 6 0.5 0.5 0.5 -4.5 0.5 1.5 0.5 -7 0.5 6 0.5 -5.5 0.5 3 0.5 -0.5 0.5 -0.5 0.5 -7 0.5 5.5 0.5 6 0.5 -1.5 0.5 -2.5 0.5 3 0.5 1 0.5 1 0.5 -7.5 0.5 4 0.5 -1.5 0.5 -2 0.5 -3 0.5 6 0.5 -3 0.5 13 0.5 -9.5 0.5 0 0.5 -0.5 0.5 9.5 0.5 -12 0.5 3 0.5 -2 0.5 3 0.5 0 0.5 4.5 0.5 -10.5 0.5 6 0.5 7 0.5 -10 0.5 1.5 0.5 -2.5 0.5 -7.5 0.5 11.5 0.5 6 0.5 -7 0.5 -5.5 0.5 9.5 0.5 -1 0.5 3.5 0.5 0 0.5 -6 0.5 3 0.5 -9.5 0.5 13 0.5 -4.5 0.5 5 0.5 -0.5 0.5 -6.5 0.5 -0.5 0.5 -3 0.5 -4.5 0.5 7 0.5 0.5 0.5 -4.5 0.5 7.5 0.5 -3.5 0.5 1 0.5 -6 0.5 -3.5 0.5 10.5 0.5 -1.5 0.5 -2.5 0.5 -2 0.5 0 0.5 1.5 0.5 -2 0.5 -6.5 0.5 12 0.5 -10 0.5 3.5 0.5 0 0.5 2.5 0.5 -8.5 0.5 11 0.5 -2 0.5 -0.5 0.5 2.5 0.5 -8 0.5 -9.5 0.5 14.5 0.5 4.5 0.5 0 0.5 -8 0.5 1.5 0.5 3 0.5 -8 0.5 4.5 0.5 0.5 0.5 9.5 0.5 -9.5 0.5 9 0.5 -8 0.5 -7.5 0.5 16 0.5 -14 0.5 6.5 0.5 4 0.5 -9.5 0.5 -2 0.5 10.5 0.5 -4 0.5 -5.5 0.5 0.5 0.5 3.5 0.5 6.5 0.5 -5.5 0.5 4 0.5 3.5 0.5 -1.5 0.5 1 0.5 -1.5 0.5 -12 0.5 12.5 0.5 -3 0.5 -2.5 0.5 -4 0.5 -2 0.5 2 0.5 5 0.5 -5 0.5 2 0.5 0 0.5 5.5 0.5 -3.5 0.5 1 0.5 6 0.5 -7 0.5 3 0.5 -7.5 0.5 5.5 0.5 -2 0.5 0 0.5 -2.5 0.5 -2.5 0.5 3 0.5 -0.5 0.5 6.5 0.5 -0.5 0.5 -10 0.5 7.5 0.5 -4 0.5 4 0.5 -3.5 0.5 -5 0.5 10 0.5 -2.5 0.5 -7 0.5 -3 0.5 4 0.5 -3 0.5 3.5 0.5 5.5 0.5 4.5 0.5 -8 0.5 6.5 0.5 -1.5 0.5 -7 0.5 -5 0.5 11.5 0.5 -0.5 0.5 8.5 0.5 -3 0.5 -2.5 0.5 3.5 0.5 -11.5 0.5 5.5 0.5 -2.5 0.5 8.5 0.5 -5 0.5 -15.5 0.5 19.5 0.5 -10 0.5 6 0.5 -5.5 0.5 3 0.5 2 0.5 -2 0.5 -5 0.5 11 0.5 -4.5 0.5 -2.5 0.5 3 0.5 -5.5 0.5 10 0.5 -6 0.5 1 0.5 -0.5 0.5 -4 0.5 -1.5 0.5 5 0.5 1 0.5 3 0.5 -3.5 0.5 -6 0.5 7 0.5 0.5 0.5 1 0.5 -2.5 0.5 -7.5 0.5 10 0.5 -9 0.5 6 0.5 -9 0.5 10 0.5 -6 0.5 7.5 0.5 3.5 0.5 -3.5 0.5 -9.5 0.5 1 0.5 0 0.5 6.5 0.5 -1.5 0.5 -0.5 0.5 1 0.5 0.5 0.5 1 0.5 3.5 0.5 -8 0.5 2 0.5 -8 0.5 2.5 0.5 3 0.5 -2 0.5 6.5 0.5 4.5 0.5 -7 0.5 0 0.5 1 0.5 3 0.5 -2.5 0.5 3.5 0.5 -0.5 0.5 -0.5 0.5 2 0.5 -3 0.5 0 0.5 7.5 0.5 -8 0.5 3.5 0.5 -3.5 0.5 -2 0.5 0 0.5 -2 0.5 3 0.5 -3 0.5 1 0.5 7 0.5 -6.5 0.5 5 0.5 -4.5 0.5 3 0.5 -6.5 0.5 2.5 0.5 9.5 0.5 -8 0.5 0.5 0.5 -3 0.5 2.5 0.5 -8 0.5 1 0.5 6.5 0.5 1 0.5 -5 0.5 0 0.5 -0.5 0.5 0.5 0.5 -4 0.5 -1 0.5 6.5 0.5 -7.5 0.5 3.5 0.5 1.5 0.5 -1 0.5 4.5 0.5 -3.5 0.5 2 0.5 -4 0.5 1.5 0.5 5.5 0.5 -0.5 0.5 -3.5 0.5 3.5 0.5 0 0.5 0 0.5 6 0.5 -8 0.5 4 0.5 -0.5 0.5 -4 0.5 -4 0.5 7.5 0.5 -1 0.5 -0.5 0.5 1 0.5 0 0.5 -3.5 0.5 5 0.5 -8 0.5 6.5 0.5 -6 0.5 5.5 0.5 4.5 0.5 -5.5 0.5 0 0.5 4.5 0.5 -3.5 0.5 0 0.5 0 0.5 8 0.5 -4 0.5 -1.5 0.5 -7.5 0.5 7 0.5 -9 0.5 7.5 0.5 -7 0.5 13 0.5 -16 0.5 13 0.5 -1.5 0.5 -10.5 0.5 7 0.5 7 0.5 -2 0.5 -12 0.5 4.5 0.5 -3.5 0.5 3 0.5 -1 0.5 11.5 0.5 -8.5 0.5 -1.5 0.5 0.5 0.5 4 0.5 0.5 0.5 -7.5 0.5 9.5 0.5 -10.5 0.5 4.5 0.5 2 0.5 5.5 0.5 -9 0.5 2.5 0.5 5 0.5 -3.5 0.5 2.5 0.5 -1.5 0.5 -2.5 0.5 1.5 0.5 1.5 0.5 -5.5 0.5 6.5 0.5 -16.5 0.5 4.5 0.5 9.5 0.5 -4 0.5 -4.5 0.5 4 0.5 3.5 0.5 -7.5 0.5 5.5 0.5 -3.5 0.5 -1 0.5 1 0.5 5.5 0.5 -10 0.5 3 0.5 4 0.5 -8 0.5 -1 0.5 10 0.5 -1.5 0.5 -1 0.5 1 0.5 -4 0.5 16 0.5 -16 0.5 1 0.5 -3.5 0.5 5 0.5 9 0.5 -6 0.5 3 0.5 -5 0.5 10.5 0.5 -7.5 0.5 -5.5 0.5 8.5 0.5 -5 0.5 4 0.5 -1 0.5 0 0.5 0 0.5 -5 0.5 -3 0.5 11 0.5 -4 0.5 3 0.5 -3.5 0.5 -7.5 0.5 3.5 0.5 11.5 0.5 -9.5 0.5 1 0.5 -5 0.5 3.5 0.5 0.5 0.5 1 0.5 0.5 0.5 -4 0.5 0.5 0.5 2.5 0.5 0.5 0.5 -2 0.5 7.5 0.5 -6.5 0.5 -1 0.5 -3.5 0.5 8 0.5 -9 0.5 -3.5 0.5 3 0.5 7 0.5 -7.5 0.5 10.5 0.5 -5.5 0.5 -6.5 0.5 4.5 0.5 8.5 0.5 -10 0.5 -3 0.5 7 0.5 3.5 0.5 0 0.5 -5.5 0.5 2 0.5 0.5 0.5 4.5 0.5 4.5 0.5 -9.5 0.5 5.5 0.5 -6.5 0.5 4.5 0.5 -6.5 0.5 0.5 0.5 6 0.5 -6 0.5 7.5 0.5 -6.5 0.5 3 0.5 -0.5 0.5 -1.5 0.5 1.5 0.5 3 0.5 9 0.5 -19 0.5 6.5 0.5 -1.5 0.5 -2.5 0.5 4.5 0.5 -4.5 0.5 4 0.5 5.5 0.5 -14.5 0.5 9.5 0.5 0.5 0.5 -5 0.5 5.5 0.5 -1.5 0.5 -3 0.5 7.5 0.5 -11.5 0.5 8.5 0.5 -4.5 0.5 -3.5 0.5 3 0.5 -1 0.5 5.5 0.5 -10 0.5 5.5 0.5 -0.5 0.5 9.5 0.5 -11.5 0.5 10 0.5 -13.5 0.5 9.5 0.5 -3 0.5 1.5 0.5 -5 0.5 -6 0.5 1.5 0.5 11.5 0.5 -4 0.5 -4.5 0.5 9 0.5 -6.5 0.5 -1.5 0.5 -2.5 0.5 11 0.5 4.5 0.5 -12.5 0.5 5.5 0.5 3 0.5 5 0.5 -18.5 0.5 11 0.5 2.5 0.5 -8.5 0.5 8 0.5 -2 0.5 2.5 0.5 -6 0.5 4.5 0.5 -4.5 0.5 6 0.5 -1.5 0.5 -3 0.5 -4 0.5 13 0.5 -1.5 0.5 -1 0.5 -6.5 0.5 1.5 0.5 7.5 0.5 -5 0.5 -7 0.5 5.5 0.5 1 0.5 -2 0.5 -3.5 0.5 8.5 0.5 -4 0.5 -2.5 0.5 -5.5 0.5 3.5 0.5 2 0.5 4 0.5 -6 0.5 6.5 0.5 -3.5 0.5 -4.5 0.5 -9 0.5 6.5 0.5 -2 0.5 5.5 0.5 2.5 0.5 5.5 0.5 -5 0.5 -5 0.5 15 0.5 -9.5 0.5 -3 0.5 0.5 0.5 -4 0.5 9 0.5 -0.5 0.5 4 0.5 -2 0.5 -0.5 0.5 1.5 0.5 -5.5 0.5 -0.5 0.5 1 0.5 -5 0.5 5 0.5 -0.5 0.5 4 0.5 -2.5 0.5 -8.5 0.5 8.5 0.5 5.5 0.5 -13.5 0.5 5.5 0.5 4.5 0.5 -6 0.5 3.5 0.5 1.5 0.5 -7.5 0.5 6.5 0.5 0 0.5 -7 0.5 6 0.5 4 0.5 -5 0.5 2.5 0.5 1 0.5 -3 0.5 5.5 0.5 -3 0.5 -6.5 0.5 6 0.5 1.5 0.5 -0.5 0.5 -6.5 0.5 5 0.5 3.5 0.5 -5 0.5 3.5 0.5 0 0.5 -6 0.5 3.5 0.5 -5 0.5 6.5 0.5 -5 0.5 -2 0.5 2 0.5 0.5 0.5 2.5 0.5 1 0.5 -7 0.5 3 0.5 4 0.5 0.5 0.5 -1.5 0.5 11 0.5 -6 0.5 -6 0.5 2.5 0.5 2 0.5 -4.5 0.5 -9 0.5 8 0.5 0.5 0.5 9 0.5 -17.5 0.5 15 0.5 -7 0.5 4.5 0.5 -4.5 0.5 3 0.5 4 0.5 -4 0.5 4 0.5 -5 0.5 -1.5 0.5 1 0.5 -1.5 0.5 1.5 0.5 5.5 0.5 -10 0.5 -2.5 0.5 7.5 0.5 7 0.5 -3 0.5 0.5 0.5 0 0.5 -8 0.5 4.5 0.5 -10.5 0.5 9 0.5 5.5 0.5 -9 0.5 -3 0.5 2.5 0.5 7 0.5 3 0.5 5.5 0.5 -4.5 0.5 -12.5 0.5 -4 0.5 10 0.5 5 0.5 -12 0.5 5 0.5 0.5 0.5 1.5 0.5 -1 0.5 3 0.5 2 0.5 -6 0.5 3.5 0.5 5.5 0.5 -13 0.5 -0.5 0.5 7.5 0.5 5 0.5 -8 0.5 4 0.5 -6.5 0.5 5.5 0.5 -7 0.5 6 0.5 -0.5 0.5 1 0.5 4 0.5 -1 0.5 -6.5 0.5 6.5 0.5 -11.5 0.5 11.5 0.5 7.5 0.5 -10.5 0.5 0 0.5 -1.5 0.5 3.5 0.5 -5.5 0.5 5.5 0.5 -3.5 0.5 0.5 0.5 2.5 0.5 -0.5 0.5 -7 0.5 16 0.5 -8.5 0.5 -7.5 0.5 12.5 0.5 -4.5 0.5 1.5 0.5 1.5 0.5 -6.5 0.5 -8.5 0.5 11.5 0.5 1 0.5 3 0.5 -7.5 0.5 1.5 0.5 2.5 0.5 -2.5 0.5 0 0.5 2.5 0.5 -4.5 0.5 11.5 0.5 -11 0.5 3.5 0.5 -2.5 0.5 -1 0.5 4 0.5 2.5 0.5 1.5 0.5 -4 0.5 -4.5 0.5 5.5 0.5 -9.5 0.5 7.5 0.5 2 0.5 0 0.5 -8 0.5 -2 0.5 14 0.5 -9.5 0.5 -6 0.5 2 0.5 6.5 0.5 5 0.5 -5 0.5 5.5 0.5 -4 0.5 1 0.5 2.5 0.5 -6.5 0.5 2 0.5 -3 0.5 -0.5 0.5 6 0.5 -5.5 0.5 4 0.5 -4 0.5 3.5 0.5 -2 0.5 8 0.5 -4.5 0.5 -1 0.5 6.5 0.5 -19.5 0.5 7 0.5 -7.5 0.5 12.5 0.5 1.5 0.5 0.5 0.5 -1.5 0.5 -4.5 0.5 11 0.5 -6 0.5 -2.5 0.5 -4.5 0.5 6.5 0.5 -3.5 0.5 -1 0.5 3.5 0.5 1 0.5 -3.5 0.5 9 0.5 -11 0.5 -1 0.5 6 0.5 -1.5 0.5 0.5 0.5 -2 0.5 1 0.5 -3 0.5 -5 0.5 10 0.5 -7.5 0.5 3.5 0.5 4.5 0.5 -3 0.5 11.5 0.5 -17.5 0.5 3.5 0.5 3.5 0.5 6 0.5 -6 0.5 -5 0.5 10.5 0.5 -8.5 0.5 3.5 0.5 5 0.5 -6.5 0.5 1 0.5 3 0.5 -3.5 0.5 1 0.5 -4.5 0.5 3.5 0.5 -4.5 0.5 -1 0.5 13.5 0.5 -6 0.5 3 0.5 -7.5 0.5 3.5 0.5 -0.5 0.5 -4 0.5 7 0.5 -5.5 0.5 2 0.5 -6 0.5 11 0.5 -0.5 0.5 -2.5 0.5 -6 0.5 1 0.5 7.5 0.5 -6 0.5 2.5 0.5 -1 0.5 -6 0.5 11 0.5 -15 0.5 10 0.5 -2 0.5 -6.5 0.5 9 0.5 1 0.5 -1.5 0.5 -5 0.5 6.5 0.5 3 0.5 -5 0.5 6 0.5 -3.5 0.5 -0.5 0.5 2 0.5 -8 0.5 2 0.5 4.5 0.5 0.5 0.5 3.5 0.5 -2.5 0.5 -4 0.5 0.5 0.5 -2.5 0.5 0 0.5 0 0.5 5.5 0.5 -5 0.5 0.5 0.5 2.5 0.5 -3 0.5 1 0.5 -8 0.5 11.5 0.5 -3 0.5 1 0.5 0.5 0.5 -9.5 0.5 18 0.5 -10.5 0.5 0.5 0.5 -8 0.5 12 0.5 -1 0.5 -3 0.5 2 0.5 3 0.5 -6.5 0.5 -2.5 0.5 9 0.5 -4.5 0.5 -1.5 0.5 11 0.5 -9.5 0.5 -2.5 0.5 1.5 0.5 -2.5 0.5 2 0.5 0.5 0.5 -4 0.5 2 0.5 3 0.5 0 0.5 1 0.5 0.5 0.5 -2 0.5 1 0.5 -4 0.5 0.5 0.5 5 0.5 -13.5 0.5 9.5 0.5 12 0.5 -21.5 0.5 13.5 0.5 -13.5 0.5 9 0.5 4 0.5 -0.5 0.5 -9.5 0.5 -1.5 0.5 -1 0.5 9 0.5 -4.5 0.5 1.5 0.5 1.5 0.5 0.5 0.5 0.5 0.5 -1.5 0.5 -7 0.5 13 0.5 -18.5 0.5 17 0.5 -8.5 0.5 2 0.5 -0.5 0.5 1.5 0.5 1 0.5 -1 0.5 -3.5 0.5 9.5 0.5 -6 0.5 8 0.5 -7 0.5 -2 0.5 4 0.5 1.5 0.5 -7 0.5 3 0.5 6.5 0.5 -10.5 0.5 1 0.5 5 0.5 -5 0.5 -6 0.5 3 0.5 9 0.5 1 0.5 -1.5 0.5 -1 0.5 -7.5 0.5 8 0.5 2 0.5 -8 0.5 6 0.5 -6 0.5 2.5 0.5 0.5 0.5 -8 0.5 13 0.5 -10.5 0.5 3 0.5 -2 0.5 4.5 0.5 0 0.5 -4 0.5 10 0.5 -6 0.5 -2 0.5 -11 0.5 11 0.5 -1 0.5 -3.5 0.5 -0.5 0.5 6 0.5 3 0.5 3 0.5 -3.5 0.5 -7.5 0.5 4 0.5 -7 0.5 9.5 0.5 -9 0.5 2.5 0.5 2.5 0.5 -1 0.5 -2.5 0.5 9 0.5 6.5 0.5 -10.5 0.5 0.5 0.5 -5 0.5 -3 0.5 11 0.5 -11.5 0.5 3 0.5 -4 0.5 3.5 0.5 -4 0.5 3 0.5 -7.5 0.5 5.5 0.5 6 0.5 -10 0.5 1.5 0.5 9.5 0.5 -4 0.5 3 0.5 -14.5 0.5 10 0.5 -7 0.5 -1 0.5 8 0.5 4 0.5 -11 0.5 2 0.5 2.5 0.5 2.5 0.5 -4.5 0.5 16.5 0.5 -7 0.5 -3 0.5 -0.5 0.5 11.5 0.5 -0.5 0.5 -11.5 0.5 5 0.5 4 0.5 -10 0.5 2.5 0.5 7.5 0.5 -8 0.5 1 0.5 -4 0.5 3 0.5 5.5 0.5 -8 0.5 -2.5 0.5 3 0.5 10 0.5 -6.5 0.5 -2.5 0.5 3 0.5 0.5 0.5 -2 0.5 -8 0.5 9 0.5 -2 0.5 4 0.5 -9.5 0.5 11.5 0.5 -6.5 0.5 -4.5 0.5 13.5 0.5 -8 0.5 4 0.5 -2.5 0.5 5 0.5 -0.5 0.5 0 0.5 -1.5 0.5 -10 0.5 0.5 0.5 7 0.5 -5.5 0.5 6 0.5 0.5 0.5 -7 0.5 1.5 0.5 -0.5 0.5 1 0.5 3 0.5 3 0.5 4 0.5 -10 0.5 1.5 0.5 8.5 0.5 -3.5 0.5 -2.5 0.5 -12 0.5 5 0.5 4 0.5 -3.5 0.5 11 0.5 -8 0.5 -1 0.5 -4 0.5 1 0.5 1 0.5 0 0.5 2 0.5 1.5 0.5 -0.5 0.5 4 0.5 -10.5 0.5 6.5 0.5 -1 0.5 6 0.5 -8.5 0.5 3 0.5 -5 0.5 5 0.5 -0.5 0.5 -5.5 0.5 1.5 0.5 1.5 0.5 2.5 0.5 -7 0.5 10 0.5 -5 0.5 10.5 0.5 -0.5 0.5 -8 0.5 -0.5 0.5 12 0.5 -8.5 0.5 -0.5 0.5 -4.5 0.5 2 0.5 3.5 0.5 0.5 0.5 -8 0.5 8 0.5 -4.5 0.5 -5 0.5 8 0.5 -4 0.5 5 0.5 -5.5 0.5 3.5 0.5 -9 0.5 9 0.5 -8 0.5 7.5 0.5 -12.5 0.5 11.5 0.5 7.5 0.5 -5 0.5 2.5 0.5 -10.5 0.5 11 0.5 -2 0.5 -12 0.5 2 0.5 1.5 0.5 2 0.5 1 0.5 -12 0.5 13 0.5 -3 0.5 -3 0.5 8.5 0.5 -5 0.5 6.5 0.5 -3 0.5 -3.5 0.5 6 0.5 -1.5 0.5 -5.5 0.5 -4 0.5 5 0.5 4.5 0.5 -4 0.5 9 0.5 -6 0.5 -1 0.5 0.5 0.5 -5.5 0.5 3 0.5 -2.5 0.5 -7.5 0.5 3 0.5 11 0.5 -5 0.5 1.5 0.5 -6.5 0.5 4 0.5 6.5 0.5 -3 0.5 -2 0.5 9 0.5 -8 0.5 -1.5 0.5 6.5 0.5 -12 0.5 9.5 0.5 -8 0.5 1.5 0.5 -0.5 0.5 3 0.5 -1 0.5 0.5 0.5 0 0.5 5 0.5 0.5 0.5 -4.5 0.5 0 0.5 -5 0.5 -3 0.5 7.5 0.5 -2.5 0.5 3 0.5 -11.5 0.5 20 0.5 -17 0.5 7 0.5 3.5 0.5 -10 0.5 3 0.5 -7 0.5 2 0.5 -1.5 0.5 8.5 0.5 1 0.5 -3.5 0.5 8 0.5 1 0.5 -7.5 0.5 0 0.5 -0.5 0.5 -0.5 0.5 9 0.5 -3.5 0.5 -3 0.5 0.5 0.5 3.5 0.5 -3.5 0.5 3.5 0.5 -1.5 0.5 6 0.5 -1 0.5 -11 0.5 5.5 0.5 2.5 0.5 -5.5 0.5 5.5 0.5 -3 0.5 2 0.5 -3 0.5 2.5 0.5 1 0.5 -8.5 0.5 3 0.5 -0.5 0.5 11.5 0.5 -7 0.5 0.5 0.5 -1 0.5 -3.5 0.5 -1.5 0.5 6.5 0.5 -6.5 0.5 7.5 0.5 -6 0.5 -0.5 0.5 -1.5 0.5 0 0.5 0.5 0.5 6 0.5 3.5 0.5 -15 0.5 6 0.5 1 0.5 -6.5 0.5 1 0.5 0.5 0.5 -7 0.5 12.5 0.5 -3 0.5 -0.5 0.5 1 0.5 0.5 0.5 8.5 0.5 -9.5 0.5 3.5 0.5 -5.5 0.5 4 0.5 -2.5 0.5 1.5 0.5 -2 0.5 1.5 0.5 6 0.5 1 0.5 -1 0.5 -5 0.5 4.5 0.5 -12.5 0.5 14.5 0.5 -4 0.5 2 0.5 4.5 0.5 -7 0.5 6.5 0.5 -5 0.5 4 0.5 -5 0.5 2.5 0.5 5.5 0.5 -9 0.5 -1 0.5 1 0.5 3.5 0.5 10.5 0.5 -14.5 0.5 -7 0.5 6 0.5 -4.5 0.5 4.5 0.5 1.5 0.5 -4.5 0.5 0.5 0.5 -5 0.5 8.5 0.5 -4.5 0.5 8.5 0.5 -0.5 0.5 -7 0.5 1.5 0.5 1 0.5 2.5 0.5 -10.5 0.5 7 0.5 8.5 0.5 -9 0.5 1 0.5 0.5 0.5 -5 0.5 8.5 0.5 -4 0.5 0.5 0.5 2.5 0.5 0.5 0.5 -11.5 0.5 11 0.5 -4.5 0.5 2.5 0.5 -4 0.5 -1 0.5 8 0.5 -4 0.5 -1 0.5 -0.5 0.5 2.5 0.5 -1 0.5 -10 0.5 6.5 0.5 1.5 0.5 5 0.5 3.5 0.5 -10.5 0.5 12.5 0.5 -9 0.5 1.5 0.5 -3.5 0.5 0 0.5 8 0.5 -7.5 0.5 1.5 0.5 5.5 0.5 2.5 0.5 -15 0.5 4.5 0.5 1 0.5 8.5 0.5 3.5 0.5 -11 0.5 1.5 0.5 2.5 0.5 2 0.5 -5.5 0.5 4.5 0.5 -6 0.5 -8.5 0.5 5.5 0.5 6.5 0.5 3 0.5 -13.5 0.5 2 0.5 7.5 0.5 -13.5 0.5 17.5 0.5 2.5 0.5 -17.5 0.5 16 0.5 -4.5 0.5 6.5 0.5 -5 0.5 -2.5 0.5 1.5 0.5 3.5 0.5 -3 0.5 0 0.5 -7.5 0.5 7 0.5 -3 0.5 8 0.5 -7.5 0.5 0 0.5 -2 0.5 5 0.5 -3.5 0.5 -2 0.5 9.5 0.5 0.5 0.5 -9.5 0.5 -1.5 0.5 10.5 0.5 -8 0.5 15 0.5 -13 0.5 4.5 0.5 -9.5 0.5 6 0.5 4.5 0.5 -1.5 0.5 -4 0.5 13.5 0.5 -7 0.5 -4 0.5 -1.5 0.5 1 0.5 7.5 0.5 -8 0.5 3.5 0.5 -3 0.5 9 0.5 -6 0.5 5 0.5 -3 0.5 -4.5 0.5 4.5 0.5 0.5 0.5 -8 0.5 8 0.5 11.5 0.5 -17 0.5 3 0.5 -9 0.5 8.5 0.5 -5 0.5 5.5 0.5 -4 0.5 -5 0.5 10.5 0.5 -6 0.5 -3.5 0.5 4 0.5 -4.5 0.5 6 0.5 -2.5 0.5 -1 0.5 3.5 0.5 -8.5 0.5 10.5 0.5 -13.5 0.5 16 0.5 -6 0.5 -3.5 0.5 -2 0.5 6 0.5 -2.5 0.5 0 0.5 4.5 0.5 -5.5 0.5 1 0.5 2.5 0.5 3 0.5 -5.5 0.5 1.5 0.5 -0.5 0.5 3.5 0.5 2 0.5 -11 0.5 3 0.5 0 0.5 3 0.5 4 0.5 -6 0.5 1.5 0.5 4.5 0.5 -10.5 0.5 2.5 0.5 1 0.5 2 0.5 1.5 0.5 -3 0.5 9 0.5 -10 0.5 2 0.5 5.5 0.5 -2.5 0.5 -2.5 0.5 1.5 0.5 1.5 0.5 -4 0.5 3.5 0.5 -7 0.5 4.5 0.5 -7.5 0.5 3.5 0.5 -1 0.5 11 0.5 -8 0.5 2.5 0.5 -5.5 0.5 3 0.5 0 0.5 -3 0.5 7 0.5 -12 0.5 10.5 0.5 9.5 0.5 -14.5 0.5 4 0.5 -6.5 0.5 5.5 0.5 -8 0.5 11 0.5 -4.5 0.5 -6.5 0.5 3.5 0.5 -2 0.5 6.5 0.5 5 0.5 -6.5 0.5 -4.5 0.5 2 0.5 3 0.5 -11 0.5 12.5 0.5 -2 0.5 -12.5 0.5 17.5 0.5 -11.5 0.5 7 0.5 6 0.5 -11.5 0.5 -0.5 0.5 3.5 0.5 -1 0.5 3.5 0.5 -3 0.5 -0.5 0.5 0 0.5 1 0.5 -2.5 0.5 5 0.5 -2 0.5 -4.5 0.5 13 0.5 -14 0.5 8.5 0.5 -8 0.5 5.5 0.5 1 0.5 1.5 0.5 3 0.5 -9 0.5 15.5 0.5 -11 0.5 -5 0.5 -2.5 0.5 15.5 0.5 -3.5 0.5 -8.5 0.5 2.5 0.5 3 0.5 -6.5 0.5 -3 0.5 3 0.5 4 0.5 -3.5 0.5 -6 0.5 8.5 0.5 -11 0.5 5 0.5 10 0.5 -4 0.5 0 0.5 0 0.5 4 0.5 -4 0.5 -7.5 0.5 9.5 0.5 -14.5 0.5 5 0.5 15.5 0.5 -2 0.5 -6 0.5 2 0.5 0.5 0.5 4 0.5 -7 0.5 0 0.5 1.5 0.5 3 0.5 -0.5 0.5 -2 0.5 5.5 0.5 -7.5 0.5 4.5 0.5 -1.5 0.5 -2 0.5 9 0.5 -7 0.5 -3 0.5 5 0.5 -5 0.5 6.5 0.5 0 0.5 0 0.5 -9 0.5 3.5 0.5 8.5 0.5 -9 0.5 6.5 0.5 1.5 0.5 -12.5 0.5 11 0.5 -2 0.5 0.5 0.5 4 0.5 -6.5 0.5 -2 0.5 2.5 0.5 -4.5 0.5 5 0.5 -11 0.5 16 0.5 -10.5 0.5 5.5 0.5 -1.5 0.5 -0.5 0.5 1 0.5 -1 0.5 -8.5 0.5 4 0.5 8 0.5 -9 0.5 0 0.5 14.5 0.5 -4.5 0.5 2.5 0.5 -6 0.5 0.5 0.5 1 0.5 -0.5 0.5 -2.5 0.5 -6 0.5 3.5 0.5 -3 0.5 13 0.5 -8 0.5 1 0.5 2 0.5 -0.5 0.5 1.5 0.5 -6 0.5 -3.5 0.5 15 0.5 -11 0.5 0.5 0.5 -2 0.5 1 0.5 3 0.5 2 0.5 -7 0.5 6.5 0.5 -4.5 0.5 8.5 0.5 -10 0.5 6.5 0.5 0.5 0.5 -9 0.5 6 0.5 1 0.5 -4 0.5 1.5 0.5 5 0.5 -3.5 0.5 -3 0.5 -0.5 0.5 4 0.5 3.5 0.5 -2 0.5 -0.5 0.5 3.5 0.5 -12.5 0.5 0 0.5 -4 0.5 13.5 0.5 -13 0.5 11 0.5 3 0.5 -9 0.5 4.5 0.5 0.5 0.5 4 0.5 -9.5 0.5 8.5 0.5 1.5 0.5 -2.5 0.5 0.5 0.5 4.5 0.5 -4.5 0.5 -1 0.5 -1.5 0.5 5 0.5 -4 0.5 4 0.5 -2.5 0.5 6 0.5 -8.5 0.5 4 0.5 1 0.5 1 0.5 3.5 0.5 -4 0.5 1.5 0.5 5 0.5 -4.5 0.5 -8.5 0.5 -1.5 0.5 9 0.5 -4.5 0.5 3 0.5 -2.5 0.5 6 0.5 0 0.5 -10.5 0.5 6 0.5 -3 0.5 -3.5 0.5 7.5 0.5 -3 0.5 2.5 0.5 8.5 0.5 -4.5 0.5 -0.5 0.5 -5.5 0.5 -3 0.5 10.5 0.5 -7.5 0.5 1.5 0.5 -2 0.5 1.5 0.5 9.5 0.5 -11.5 0.5 1 0.5 2.5 0.5 0.5 0.5 -6.5 0.5 -3 0.5 5.5 0.5 2 0.5 -2 0.5 -0.5 0.5 0 0.5 2.5 0.5 0.5 0.5 -6.5 0.5 5 0.5 3 0.5 -1 0.5 -5 0.5 4 0.5 1.5 0.5 2.5 0.5 -10.5 0.5 10 0.5 -5.5 0.5 2.5 0.5 2.5 0.5 -6.5 0.5 0 0.5 3.5 0.5 4 0.5 -5.5 0.5 -4 0.5 2.5 0.5 4.5 0.5 4 0.5 -7.5 0.5 1.5 0.5 -0.5 0.5 0 0.5 -4 0.5 2 0.5 2.5 0.5 0 0.5 -1 0.5 -4.5 0.5 3 0.5 -1 0.5 8 0.5 2 0.5 -4.5 0.5 5 0.5 -8.5 0.5 0 0.5 -3.5 0.5 5.5 0.5 -2.5 0.5 3 0.5 2 0.5 -4 0.5 -4.5 0.5 4.5 0.5 -0.5 0.5 1 0.5 3.5 0.5 -4.5 0.5 -1 0.5 8.5 0.5 -2.5 0.5 -5 0.5 -3 0.5 2.5 0.5 -1.5 0.5 7.5 0.5 7 0.5 -11.5 0.5 2 0.5 -1 0.5 2 0.5 -2.5 0.5 -3.5 0.5 9.5 0.5 -3.5 0.5 5.5 0.5 -8.5 0.5 4.5 0.5 1 0.5 -11 0.5 2 0.5 9.5 0.5 -2 0.5 -8.5 0.5 5.5 0.5 -1 0.5 2 0.5 8.5 0.5 -9 0.5 11 0.5 -9.5 0.5 -2 0.5 9 0.5 -2.5 0.5 1 0.5 2.5 0.5 -4 0.5 0.5 0.5 -12.5 0.5 3 0.5 5 0.5 0.5 0.5 2.5 0.5 -5 0.5 6.5" fill="none" stroke="#000000" stroke-width="6.5" stroke-linejoin="round" stroke-linecap="round"/>
<path d="M367,3225l0.5 -19.5 0.5 -6.5 0.5 -8 0.5 0.5 0.5 -6.5 0.5 -8 0.5 -1.5 0.5 0 0.5 1.5 0.5 -18.5 0.5 6.5 0.5 -4.5 0.5 -4 0.5 4 0.5 -4 0.5 2 0.5 -8.5 0.5 1.5 0.5 1 0.5 -1.5 0.5 -0.5 0.5 -4 0.5 3 0.5 0 0.5 -1 0.5 -0.5 0.5 3 0.5 -5 0.5 5.5 0.5 -2.5 0.5 0.5 0.5 -1 0.5 4.5 0.5 -0.5 0.5 -3.5 0.5 -1 0.5 9.5 0.5 -4.5 0.5 -7 0.5 4.5 0.5 0 0.5 3.5 0.5 -4 0.5 -2.5 0.5 9.5 0.5 -15.5 0.5 2.5 0.5 3.5 0.5 0.5 0.5 1.5 0.5 0.5 0.5 4.5 0.5 -11 0.5 19.5 0.5 -10.5 0.5 -5.5 0.5 0.5 0.5 -0.5 0.5 -7.5 0.5 10.5 0.5 -7 0.5 2.5 0.5 -3 0.5 1.5 0.5 2.5 0.5 -6.5 0.5 12.5 0.5 -13 0.5 2.5 0.5 2 0.5 3 0.5 -2 0.5 -1 0.5 1.5 0.5 -0.5 0.5 -5.5 0.5 5.5 0.5 -5.5 0.5 -2 0.5 3.5 0.5 -2.5 0.5 3 0.5 0.5 0.5 -3.5 0.5 3.5 0.5 -3 0.5 -7 0.5 13.5 0.5 -7 0.5 -1.5 0.5 4.5 0.5 -9.5 0.5 2.5 0.5 6 0.5 -12.5 0.5 4 0.5 10 0.5 -4 0.5 -7 0.5 4.5 0.5 2 0.5 -6.5 0.5 3.5 0.5 2 0.5 -2 0.5 6.5 0.5 -5.5 0.5 -1.5 0.5 1 0.5 -3 0.5 -2 0.5 2.5 0.5 -2.5 0.5 10 0.5 1 0.5 -10 0.5 -10.5 0.5 11 0.5 4.5 0.5 -5.5 0.5 5 0.5 -1 0.5 -5 0.5 1 0.5 -2.5 0.5 3 0.5 -3 0.5 2 0.5 9 0.5 -7.5 0.5 6.5 0.5 -3.5 0.5 -8.5 0.5 6 0.5 -1.5 0.5 -3.5 0.5 2.5 0.5 7.5 0.5 1 0.5 -6.5 0.5 -1.5 0.5 2 0.5 1.5 0.5 4 0.5 -8.5 0.5 -2 0.5 4 0.5 -9 0.5 8 0.5 1.5 0.5 -10 0.5 13 0.5 -7 0.5 2 0.5 -0.5 0.5 0.5 0.5 0.5 0.5 -2.5 0.5 -6 0.5 12 0.5 -4.5 0.5 3 0.5 -2 0.5 4 0.5 -4.5 0.5 -2 0.5 14 0.5 -6 0.5 -3 0.5 1 0.5 1 0.5 -14.5 0.5 6 0.5 3.5 0.5 2.5 0.5 -5.5 0.5 3 0.5 -5 0.5 3 0.5 -6.5 0.5 6.5 0.5 8 0.5 -12.5 0.5 8 0.5 -9 0.5 1 0.5 15 0.5 -14 0.5 3 0.5 -1.5 0.5 -9.5 0.5 11.5 0.5 4.5 0.5 -9 0.5 -1 0.5 2 0.5 5.5 0.5 -5.5 0.5 7.5 0.5 -1.5 0.5 -11.5 0.5 1.5 0.5 5.5 0.5 -3.5 0.5 7 0.5 1 0.5 -7.5 0.5 7.5 0.5 -2 0.5 -3.5 0.5 4.5 0.5 -6.5 0.5 3 0.5 -3 0.5 -0.5 0.5 9.5 0.5 0.5 0.5 -7 0.5 3.5 0.5 -6.5 0.5 -1.5 0.5 4 0.5 3.5 0.5 -6.5 0.5 0.5 0.5 -1 0.5 -4.5 0.5 -4 0.5 9 0.5 -6.5 0.5 13.5 0.5 -5.5 0.5 2 0.5 0.5 0.5 -8 0.5 0 0.5 11 0.5 -3.5 0.5 -1 0.5 3 0.5 -11.5 0.5 13.5 0.5 -3.5 0.5 0.5 0.5 1.5 0.5 5.5 0.5 -6 0.5 -3 0.5 -3.5 0.5 15.5 0.5 -20.5 0.5 7.5 0.5 -0.5 0.5 -2 0.5 1 0.5 2 0.5 -5.5 0.5 3 0.5 2.5 0.5 -8 0.5 6.5 0.5 0.5 0.5 -1.5 0.5 -0.5 0.5 -0.5 0.5 -2.5 0.5 -2 0.5 6 0.5 -2 0.5 0.5 0.5 6 0.5 -1.5 0.5 -7.5 0.5 9 0.5 -7.5 0.5 4.5 0.5 -12.5 0.5 15.5 0.5 -9 0.5 -2 0.5 0 0.5 -6.5 0.5 5 0.5 1.5 0.5 9 0.5 -6.5 0.5 -1.5 0.5 6.5 0.5 -3.5 0.5 -4.5 0.5 -1.5 0.5 -4 0.5 6.5 0.5 -8.5 0.5 13 0.5 -10.5 0.5 7 0.5 4.5 0.5 -9 0.5 3 0.5 9 0.5 -10 0.5 6.5 0.5 -0.5 0.5 -12 0.5 9 0.5 -7.5 0.5 6.5 0.5 0.5 0.5 3.5 0.5 -5.5 0.5 0.5 0.5 1.5 0.5 8.5 0.5 -8.5 0.5 6.5 0.5 -9 0.5 -2 0.5 7.5 0.5 -6.5 0.5 4 0.5 -1 0.5 10.5 0.5 -2 0.5 3 0.5 -7 0.5 -3.5 0.5 -0.5 0.5 8.5 0.5 -13.5 0.5 2 0.5 -2.5 0.5 8.5 0.5 -6 0.5 4.5 0.5 2.5 0.5 7 0.5 -8.5 0.5 -14.5 0.5 0.5 0.5 7.5 0.5 7 0.5 -11.5 0.5 2.5 0.5 -4.5 0.5 3 0.5 3 0.5 -1.5 0.5 0.5 0.5 3 0.5 -4.5 0.5 -2.5 0.5 -8.5 0.5 6.5 0.5 9.5 0.5 -10.5 0.5 2.5 0.5 -1 0.5 4.5 0.5 3 0.5 -5.5 0.5 0 0.5 6 0.5 -8.5 0.5 8 0.5 -5 0.5 2 0.5 4 0.5 0 0.5 2 0.5 -6.5 0.5 2.5 0.5 -2.5 0.5 -2 0.5 3.5 0.5 2 0.5 -1 0.5 -0.5 0.5 -4.5 0.5 5 0.5 0.5 0.5 7 0.5 -11 0.5 6.5 0.5 -3.5 0.5 13 0.5 -10 0.5 4.5 0.5 -4 0.5 -8.5 0.5 -0.5 0.5 4 0.5 -5 0.5 6 0.5 -4 0.5 1.5 0.5 -5 0.5 15 0.5 -14 0.5 4 0.5 -3.5 0.5 4.5 0.5 4.5 0.5 -2.5 0.5 -12 0.5 9.5 0.5 3 0.5 1.5 0.5 -7.5 0.5 0 0.5 -5 0.5 17.5 0.5 -10 0.5 -1 0.5 -1.5 0.5 2.5 0.5 3 0.5 0 0.5 -6.5 0.5 -2.5 0.5 9.5 0.5 -7 0.5 10.5 0.5 -6 0.5 -5 0.5 7.5 0.5 -14 0.5 7.5 0.5 1.5 0.5 0.5 0.5 -5.5 0.5 5 0.5 1 0.5 0.5 0.5 -3.5 0.5 -6 0.5 8.5 0.5 -8 0.5 4.5 0.5 -1 0.5 12 0.5 -13 0.5 -5.5 0.5 4.5 0.5 5 0.5 -4 0.5 9 0.5 -7.5 0.5 5.5 0.5 -1.5 0.5 -8.5 0.5 5 0.5 -3.5 0.5 4.5 0.5 -3 0.5 3.5 0.5 -5 0.5 3 0.5 -4.5 0.5 0.5 0.5 7.5 0.5 -6.5 0.5 -3.5 0.5 0.5 0.5 4 0.5 5 0.5 -5.5 0.5 2.5 0.5 -2 0.5 -1.5 0.5 3.5 0.5 -1.5 0.5 9 0.5 -8.5 0.5 3 0.5 -6 0.5 1.5 0.5 -5 0.5 4 0.5 -4 0.5 2 0.5 3.5 0.5 -7.5 0.5 0 0.5 2 0.5 10.5 0.5 -3.5 0.5 6.5 0.5 -4.5 0.5 -6.5 0.5 6 0.5 -3 0.5 -5.5 0.5 5.5 0.5 2 0.5 5 0.5 -2 0.5 -9.5 0.5 1 0.5 7 0.5 -1.5 0.5 -2.5 0.5 0.5 0.5 6 0.5 -0.5 0.5 -6.5 0.5 0 0.5 1.5 0.5 -3.5 0.5 1.5 0.5 8 0.5 -1.5 0.5 -6 0.5 1.5 0.5 6 0.5 -9 0.5 -0.5 0.5 6.5 0.5 -2.5 0.5 -7.5 0.5 6.5 0.5 -4 0.5 2.5 0.5 9 0.5 -9 0.5 -2.5 0.5 -3 0.5 8 0.5 -4.5 0.5 4 0.5 5 0.5 -5 0.5 2 0.5 2 0.5 -13.5 0.5 5.5 0.5 -5 0.5 8.5 0.5 -4 0.5 2.5 0.5 -1 0.5 -3 0.5 0 0.5 4 0.5 1.5 0.5 -4.5 0.5 -6 0.5 -2.5 0.5 13 0.5 0 0.5 -6 0.5 4 0.5 5 0.5 -3 0.5 5 0.5 -2.5 0.5 -6 0.5 -3 0.5 9 0.5 -2.5 0.5 4 0.5 -5 0.5 2 0.5 -6 0.5 -7 0.5 7.5 0.5 -6 0.5 4.5 0.5 1 0.5 9 0.5 -9.5 0.5 7 0.5 -12 0.5 14.5 0.5 -17 0.5 6 0.5 11 0.5 -1 0.5 -4 0.5 -0.5 0.5 3 0.5 -9 0.5 6.5 0.5 4 0.5 -0.5 0.5 -14 0.5 11.5 0.5 -5.5 0.5 -2.5 0.5 -1 0.5 0 0.5 -2.5 0.5 11.5 0.5 -14 0.5 7 0.5 -2 0.5 9 0.5 -7 0.5 2.5 0.5 -6 0.5 4.5 0.5 5 0.5 -6.5 0.5 7.5 0.5 -3 0.5 0.5 0.5 0 0.5 0.5 0.5 -14 0.5 15.5 0.5 -12 0.5 -1 0.5 5.5 0.5 3.5 0.5 4.5 0.5 -9 0.5 10.5 0.5 -9 0.5 5.5 0.5 -8 0.5 5 0.5 -2 0.5 4 0.5 -1.5 0.5 -0.5 0.5 -3 0.5 1.5 0.5 -2 0.5 -5 0.5 -1 0.5 5 0.5 -1.5 0.5 2 0.5 2 0.5 1 0.5 -9.5 0.5 4.5 0.5 -2 0.5 3.5 0.5 -4.5 0.5 5.5 0.5 -1 0.5 4 0.5 0 0.5 -12.5 0.5 3.5 0.5 -2.5 0.5 1.5 0.5 3.5 0.5 -2.5 0.5 -4 0.5 5.5 0.5 -7 0.5 0 0.5 -1 0.5 6.5 0.5 -0.5 0.5 -0.5 0.5 1 0.5 3.5 0.5 -9.5 0.5 6 0.5 3 0.5 -5.5 0.5 -7.5 0.5 -1 0.5 8 0.5 3 0.5 -7.5 0.5 4.5 0.5 1.5 0.5 3.5 0.5 -10.5 0.5 7.5 0.5 -4 0.5 -0.5 0.5 3.5 0.5 3.5 0.5 -8.5 0.5 -3.5 0.5 7.5 0.5 -5.5 0.5 0 0.5 -0.5 0.5 0 0.5 7 0.5 -2.5 0.5 -1 0.5 2 0.5 -3.5 0.5 2.5 0.5 8.5 0.5 -6.5 0.5 -2.5 0.5 1.5 0.5 2 0.5 -1 0.5 -2 0.5 0.5 0.5 -4 0.5 12 0.5 -5.5 0.5 2 0.5 -12.5 0.5 11 0.5 -7 0.5 -0.5 0.5 12.5 0.5 -3.5 0.5 -4.5 0.5 -9 0.5 11.5 0.5 2 0.5 -6 0.5 5 0.5 -8 0.5 2.5 0.5 2 0.5 4 0.5 -0.5 0.5 5 0.5 -4.5 0.5 -4.5 0.5 5 0.5 -1 0.5 -0.5 0.5 0.5 0.5 -1 0.5 0 0.5 -12.5 0.5 17 0.5 -4.5 0.5 -1 0.5 0.5 0.5 0 0.5 -5 0.5 9 0.5 -6 0.5 4.5 0.5 -7 0.5 1 0.5 3.5 0.5 1.5 0.5 7 0.5 -16 0.5 1.5 0.5 3.5 0.5 -1 0.5 8 0.5 -8 0.5 -3.5 0.5 -2.5 0.5 3.5 0.5 -6 0.5 8 0.5 6.5 0.5 -12.5 0.5 7 0.5 2 0.5 -3 0.5 -0.5 0.5 2 0.5 3.5 0.5 -7 0.5 -1.5 0.5 1.5 0.5 -2.5 0.5 10.5 0.5 -6.5 0.5 -1.5 0.5 2.5 0.5 -3.5 0.5 5.5 0.5 -14.5 0.5 4.5 0.5 8.5 0.5 -1 0.5 -1.5 0.5 -1 0.5 4 0.5 -5 0.5 -0.5 0.5 4 0.5 -5.5 0.5 1 0.5 10.5 0.5 -2 0.5 -3.5 0.5 -3 0.5 7 0.5 -0.5 0.5 -5.5 0.5 3 0.5 2.5 0.5 -12.5 0.5 8 0.5 -5 0.5 3 0.5 5.5 0.5 0 0.5 -6.5 0.5 5.5 0.5 -1.5 0.5 7 0.5 -5.5 0.5 -4.5 0.5 4.5 0.5 3.5 0.5 -6.5 0.5 0.5 0.5 3 0.5 -7 0.5 8 0.5 -9.5 0.5 8 0.5 -4.5 0.5 2 0.5 -6 0.5 4.5 0.5 -3 0.5 -1.5 0.5 -2 0.5 6.5 0.5 -2 0.5 -4 0.5 4 0.5 1 0.5 0.5 0.5 4 0.5 -7 0.5 -0.5 0.5 -0.5 0.5 10 0.5 -10.5 0.5 -4 0.5 4.5 0.5 -0.5 0.5 1 0.5 11.5 0.5 -4.5 0.5 -6.5 0.5 6.5 0.5 -4.5 0.5 4.5 0.5 6.5 0.5 -8 0.5 -2.5 0.5 5.5 0.5 -4 0.5 -4.5 0.5 2 0.5 0.5 0.5 3 0.5 0 0.5 -1 0.5 0.5 0.5 -16.5 0.5 7.5 0.5 11 0.5 -4 0.5 -6.5 0.5 2.5 0.5 5.5 0.5 -4 0.5 9.5 0.5 -16 0.5 1.5 0.5 10.5 0.5 3 0.5 -4 0.5 -4 0.5 -3 0.5 -0.5 0.5 5 0.5 -1.5 0.5 1.5 0.5 8 0.5 -9.5 0.5 2 0.5 6.5 0.5 -11.5 0.5 6 0.5 -7 0.5 -1.5 0.5 19.5 0.5 -14 0.5 2 0.5 -8.5 0.5 7.5 0.5 -0.5 0.5 -5 0.5 5 0.5 -3.5 0.5 1 0.5 1 0.5 -0.5 0.5 -8 0.5 13.5 0.5 0 0.5 -8.5 0.5 4.5 0.5 -11.5 0.5 15 0.5 -1 0.5 -7 0.5 6 0.5 5.5 0.5 -9 0.5 -2.5 0.5 3.5 0.5 8 0.5 -1.5 0.5 -5 0.5 -1.5 0.5 7 0.5 -10.5 0.5 5 0.5 -1 0.5 8.5 0.5 -0.5 0.5 -8.5 0.5 11.5 0.5 -1 0.5 -4 0.5 -0.5 0.5 0.5 0.5 0.5 0.5 1 0.5 -9 0.5 17.5 0.5 -10 0.5 -3 0.5 3 0.5 3 0.5 -3 0.5 -6 0.5 2.5 0.5 6 0.5 -10 0.5 0 0.5 0.5 0.5 6 0.5 0 0.5 -10.5 0.5 -2 0.5 14.5 0.5 -4.5 0.5 -1 0.5 -3.5 0.5 -7.5 0.5 9.5 0.5 -5.5 0.5 -5.5 0.5 20.5 0.5 -6.5 0.5 -1 0.5 -1 0.5 -5.5 0.5 -5 0.5 8.5 0.5 5 0.5 -2.5 0.5 -6.5 0.5 -1.5 0.5 1 0.5 2 0.5 0 0.5 3 0.5 -5 0.5 2.5 0.5 2 0.5 -3 0.5 1 0.5 4 0.5 -8.5 0.5 4.5 0.5 8 0.5 -8 0.5 -1.5 0.5 -5 0.5 5.5 0.5 0.5 0.5 2.5 0.5 2.5 0.5 -0.5 0.5 -6 0.5 4 0.5 1.5 0.5 0 0.5 2.5 0.5 0.5 0.5 -4 0.5 2 0.5 -3.5 0.5 3 0.5 -7 0.5 11 0.5 -5 0.5 -4.5 0.5 -8.5 0.5 8.5 0.5 -1.5 0.5 -1.5 0.5 -3.5 0.5 4 0.5 -2 0.5 5.5 0.5 -0.5 0.5 -1.5 0.5 0 0.5 2 0.5 2 0.5 2.5 0.5 -6 0.5 0 0.5 5 0.5 -7.5 0.5 3.5 0.5 0.5 0.5 3.5 0.5 -0.5 0.5 -6.5 0.5 1.5 0.5 -9.5 0.5 13.5 0.5 -6.5 0.5 2.5 0.5 -5 0.5 -0.5 0.5 2.5 0.5 2.5 0.5 6.5 0.5 -3 0.5 -3.5 0.5 6.5 0.5 -4.5 0.5 7.5 0.5 -2.5 0.5 -6 0.5 -7.5 0.5 8.5 0.5 -9 0.5 10.5 0.5 -6.5 0.5 9 0.5 -5 0.5 -12.5 0.5 15 0.5 -6.5 0.5 9 0.5 -1.5 0.5 -2.5 0.5 -4.5 0.5 0.5 0.5 5 0.5 2.5 0.5 -5 0.5 2 0.5 -6.5 0.5 -0.5 0.5 -0.5 0.5 5 0.5 5.5 0.5 1.5 0.5 -0.5 0.5 -2 0.5 -7.5 0.5 6.5 0.5 2 0.5 -7.5 0.5 2 0.5 6.5 0.5 -4 0.5 5 0.5 -10.5 0.5 -2.5 0.5 13 0.5 -0.5 0.5 -4 0.5 -4 0.5 -2 0.5 6.5 0.5 -6.5 0.5 -3.5 0.5 4 0.5 6 0.5 -3 0.5 -10.5 0.5 9.5 0.5 -0.5 0.5 -1 0.5 -9.5 0.5 1.5 0.5 -0.5 0.5 3.5 0.5 0 0.5 -0.5 0.5 -7 0.5 6.5 0.5 2.5 0.5 2 0.5 -2.5 0.5 -4.5 0.5 1.5 0.5 -0.5 0.5 1.5 0.5 -1.5 0.5 -5 0.5 7 0.5 1 0.5 -8.5 0.5 0.5 0.5 10.5 0.5 -5.5 0.5 -1.5 0.5 -4 0.5 2 0.5 3.5 0.5 -9.5 0.5 11.5 0.5 1.5 0.5 -4.5 0.5 -2 0.5 -1.5 0.5 15 0.5 -6 0.5 -6 0.5 7.5 0.5 -2.5 0.5 -5.5 0.5 8 0.5 -6.5 0.5 9.5 0.5 -4 0.5 1 0.5 -3.5 0.5 -7.5 0.5 4.5 0.5 -1 0.5 4.5 0.5 5.5 0.5 -5 0.5 2 0.5 -5.5 0.5 1 0.5 -1 0.5 5.5 0.5 -15.5 0.5 10.5 0.5 0 0.5 1.5 0.5 0.5 0.5 -4.5 0.5 -1.5 0.5 -4.5 0.5 15.5 0.5 -4.5 0.5 -7.5 0.5 -0.5 0.5 7 0.5 -6.5 0.5 2 0.5 -8 0.5 0 0.5 14 0.5 -13.5 0.5 9 0.5 0.5 0.5 -1 0.5 -1 0.5 -10 0.5 7 0.5 -1.5 0.5 -2 0.5 -3.5 0.5 5.5 0.5 6.5 0.5 -7.5 0.5 1 0.5 10 0.5 -11.5 0.5 3.5 0.5 -7 0.5 0.5 0.5 5 0.5 0.5 0.5 0 0.5 -5 0.5 7 0.5 3.5 0.5 -11 0.5 8 0.5 -2.5 0.5 3.5 0.5 -1 0.5 -0.5 0.5 4.5 0.5 -5 0.5 1 0.5 -3.5 0.5 0.5 0.5 5 0.5 -5 0.5 4 0.5 -4 0.5 6 0.5 -6.5 0.5 4.5 0.5 4 0.5 -9 0.5 -3 0.5 12.5 0.5 -6.5 0.5 -2 0.5 8.5 0.5 -8 0.5 0.5 0.5 4 0.5 -5.5 0.5 -7 0.5 7 0.5 -2 0.5 1.5 0.5 3.5 0.5 -5.5 0.5 -2.5 0.5 -1.5 0.5 -3.5 0.5 4 0.5 -2.5 0.5 4.5 0.5 1 0.5 3 0.5 -13.5 0.5 8 0.5 -3 0.5 3.5 0.5 -2.5 0.5 2.5 0.5 7 0.5 -7 0.5 -3 0.5 10.5 0.5 -6 0.5 -5 0.5 -2.5 0.5 0 0.5 8.5 0.5 -1 0.5 -4 0.5 8 0.5 -5.5 0.5 0 0.5 5 0.5 6.5 0.5 -14.5 0.5 3.5 0.5 -14.5 0.5 17.5 0.5 -1 0.5 -5 0.5 3 0.5 0.5 0.5 -0.5 0.5 -0.5 0.5 -6 0.5 11 0.5 -7 0.5 -5.5 0.5 9 0.5 -7.5 0.5 2 0.5 0.5 0.5 12 0.5 -6 0.5 -5.5 0.5 -3 0.5 4.5 0.5 -2.5 0.5 3 0.5 -7 0.5 2 0.5 5 0.5 -4 0.5 1 0.5 -0.5 0.5 -3 0.5 -3.5 0.5 5.5 0.5 1.5 0.5 0 0.5 -0.5 0.5 -2.5 0.5 3.5 0.5 -5.5 0.5 6.5 0.5 -15 0.5 14.5 0.5 -3.5 0.5 2 0.5 -7 0.5 10.5 0.5 -11.5 0.5 7.5 0.5 -4.5 0.5 9.5 0.5 -9 0.5 -1.5 0.5 -1.5 0.5 10.5 0.5 -2.5 0.5 2 0.5 -3.5 0.5 6 0.5 -10.5 0.5 0.5 0.5 8 0.5 -4.5 0.5 -2 0.5 5 0.5 -3.5 0.5 3 0.5 -2.5 0.5 4.5 0.5 -1.5 0.5 8 0.5 -9 0.5 0.5 0.5 -4.5 0.5 5 0.5 1.5 0.5 -0.5 0.5 4.5 0.5 -10 0.5 6 0.5 -2 0.5 6 0.5 -9.5 0.5 7 0.5 -4.5 0.5 -6.5 0.5 11.5 0.5 -8 0.5 3 0.5 -2.5 0.5 1 0.5 -2.5 0.5 -1.5 0.5 2 0.5 4.5 0.5 -13.5 0.5 3.5 0.5 8 0.5 -1 0.5 -1.5 0.5 4.5 0.5 -3.5 0.5 1.5 0.5 1 0.5 -4.5 0.5 0.5 0.5 4 0.5 -6 0.5 -0.5 0.5 -3 0.5 6 0.5 -5.5 0.5 5.5 0.5 3.5 0.5 6 0.5 -6 0.5 4 0.5 -5 0.5 1.5 0.5 -7.5 0.5 5 0.5 -13.5 0.5 9.5 0.5 3.5 0.5 5.5 0.5 -9 0.5 -1.5 0.5 6 0.5 0.5 0.5 3 0.5 -1 0.5 -9 0.5 2 0.5 3.5 0.5 2.5 0.5 -0.5 0.5 -2 0.5 -10 0.5 14.5 0.5 -14.5 0.5 6.5 0.5 4 0.5 1.5 0.5 -10 0.5 7 0.5 -6.5 0.5 3.5 0.5 0.5 0.5 -4 0.5 5 0.5 -7.5 0.5 4 0.5 -2.5 0.5 5.5 0.5 -1.5 0.5 0 0.5 -4.5 0.5 -4 0.5 6.5 0.5 0.5 0.5 2 0.5 -3.5 0.5 3 0.5 0 0.5 -8 0.5 0.5 0.5 3 0.5 -1 0.5 -3 0.5 5.5 0.5 -7 0.5 2 0.5 14.5 0.5 -5.5 0.5 -6.5 0.5 -0.5 0.5 0.5 0.5 5.5 0.5 -3.5 0.5 1.5 0.5 -1.5 0.5 -7.5 0.5 5 0.5 1.5 0.5 -9.5 0.5 9 0.5 -1.5 0.5 4.5 0.5 -5 0.5 -2 0.5 -5.5 0.5 1 0.5 4 0.5 2 0.5 7.5 0.5 -2.5 0.5 -10.5 0.5 9 0.5 -11.5 0.5 1.5 0.5 8 0.5 1 0.5 -10.5 0.5 8 0.5 -4 0.5 8.5 0.5 -9.5 0.5 -1 0.5 1.5 0.5 4.5 0.5 1.5 0.5 -4 0.5 1 0.5 -5.5 0.5 8 0.5 -7.5 0.5 2 0.5 -2.5 0.5 -1 0.5 -0.5 0.5 0 0.5 7.5 0.5 -18 0.5 15.5 0.5 -10.5 0.5 10.5 0.5 -9 0.5 3.5 0.5 0 0.5 -6 0.5 9.5 0.5 -6.5 0.5 3 0.5 9 0.5 -12 0.5 6 0.5 -7.5 0.5 10 0.5 -13 0.5 7 0.5 -7 0.5 7.5 0.5 5.5 0.5 3 0.5 -14.5 0.5 8.5 0.5 -18 0.5 7.5 0.5 8.5 0.5 -5 0.5 1.5 0.5 -3 0.5 4.5 0.5 1.5 0.5 4 0.5 -6 0.5 1 0.5 2 0.5 -5 0.5 5.5 0.5 -7 0.5 11 0.5 -9 0.5 2 0.5 -0.5 0.5 0.5 0.5 2 0.5 -4.5 0.5 -2 0.5 -1 0.5 1.5 0.5 -2 0.5 8.5 0.5 -4 0.5 -0.5 0.5 -5.5 0.5 10 0.5 -18.5 0.5 15.5 0.5 -1 0.5 -3.5 0.5 3.5 0.5 -5 0.5 4 0.5 -2 0.5 0.5 0.5 2.5 0.5 6.5 0.5 -6 0.5 1 0.5 -7 0.5 3 0.5 -2 0.5 -1 0.5 -1.5 0.5 4.5 0.5 4.5 0.5 -3 0.5 4.5 0.5 -6.5 0.5 -5 0.5 1 0.5 -1 0.5 -6 0.5 1 0.5 7.5 0.5 1.5 0.5 8 0.5 -6 0.5 0 0.5 -3 0.5 3.5 0.5 -11.5 0.5 5.5 0.5 10 0.5 -8.5 0.5 0 0.5 -4 0.5 -6 0.5 13.5 0.5 -14 0.5 16.5 0.5 -14 0.5 9 0.5 -7 0.5 6 0.5 -8 0.5 -1 0.5 10 0.5 0 0.5 -1 0.5 0.5 0.5 -4.5 0.5 9.5 0.5 -8.5 0.5 -2.5 0.5 3.5 0.5 -2.5 0.5 -1.5 0.5 -4.5 0.5 15.5 0.5 -9 0.5 11.5 0.5 -12 0.5 1 0.5 1 0.5 -4 0.5 0.5 0.5 0 0.5 -0.5 0.5 6.5 0.5 -10 0.5 5 0.5 15.5 0.5 -16 0.5 3 0.5 -6 0.5 3 0.5 -0.5 0.5 5.5 0.5 -6 0.5 -1 0.5 -1 0.5 -1.5 0.5 -4 0.5 12.5 0.5 -11 0.5 -1 0.5 5.5 0.5 -9.5 0.5 8 0.5 4 0.5 -3 0.5 5 0.5 -1 0.5 3 0.5 -0.5 0.5 1 0.5 -6 0.5 -3.5 0.5 2 0.5 -1.5 0.5 1.5 0.5 -2.5 0.5 2.5 0.5 5.5 0.5 -3.5 0.5 -2 0.5 3 0.5 0 0.5 -1.5 0.5 1.5 0.5 -3 0.5 0.5 0.5 -0.5 0.5 -5.5 0.5 7 0.5 -4.5 0.5 2.5 0.5 3 0.5 0 0.5 9 0.5 -17.5 0.5 12 0.5 -4 0.5 -3 0.5 3 0.5 -6 0.5 4.5 0.5 -1.5 0.5 9.5 0.5 -8 0.5 1 0.5 2 0.5 -4 0.5 3 0.5 -0.5 0.5 2 0.5 -3.5 0.5 1.5 0.5 -5 0.5 10.5 0.5 -10 0.5 -3.5 0.5 4.5 0.5 0.5 0.5 -10 0.5 10.5 0.5 5.5 0.5 -4 0.5 8.5 0.5 -13 0.5 -1.5 0.5 7 0.5 5.5 0.5 -2.5 0.5 -11.5 0.5 -2 0.5 6 0.5 -0.5 0.5 5.5 0.5 -7 0.5 -1.5 0.5 5 0.5 -0.5 0.5 3 0.5 1 0.5 -10.5 0.5 6.5 0.5 -3 0.5 -0.5 0.5 4.5 0.5 -7 0.5 -2.5 0.5 12.5 0.5 1 0.5 -12.5 0.5 10 0.5 -4.5 0.5 3.5 0.5 -9 0.5 0.5 0.5 3.5 0.5 1.5 0.5 -1.5 0.5 7 0.5 -5.5 0.5 4.5 0.5 3 0.5 -3 0.5 -6 0.5 6 0.5 -4 0.5 -1 0.5 0.5 0.5 -1.5 0.5 -4 0.5 6 0.5 -3 0.5 5 0.5 -8 0.5 3 0.5 0 0.5 -1.5 0.5 0.5 0.5 3.5 0.5 -0.5 0.5 -5 0.5 -6 0.5 5.5 0.5 1.5 0.5 1.5 0.5 -7 0.5 13.5 0.5 5 0.5 -17 0.5 7.5 0.5 -8.5 0.5 3 0.5 2.5 0.5 2 0.5 2.5 0.5 2.5 0.5 2 0.5 -3 0.5 4 0.5 -4 0.5 2.5 0.5 7 0.5 -14 0.5 -3 0.5 5 0.5 -0.5 0.5 11.5 0.5 -14.5 0.5 1.5 0.5 1 0.5 0 0.5 9.5 0.5 -8 0.5 4 0.5 -4.5 0.5 11 0.5 -7 0.5 -1.5 0.5 8.5 0.5 -12 0.5 -2.5 0.5 4 0.5 2.5 0.5 -2.5 0.5 0.5 0.5 3.5 0.5 -3.5 0.5 8 0.5 -19 0.5 12 0.5 3 0.5 -14.5 0.5 3.5 0.5 2.5 0.5 10 0.5 -14.5 0.5 11.5 0.5 -9 0.5 3 0.5 2.5 0.5 -2 0.5 1.5 0.5 -2.5 0.5 2 0.5 0 0.5 5.5 0.5 -9.5 0.5 8.5 0.5 -8 0.5 10.5 0.5 -14 0.5 5 0.5 3 0.5 -4.5 0.5 -0.5 0.5 1.5 0.5 1 0.5 4.5 0.5 -1 0.5 0 0.5 -0.5 0.5 3.5 0.5 -7.5 0.5 5.5 0.5 -5 0.5 1 0.5 -2.5 0.5 8 0.5 -9 0.5 5.5 0.5 -0.5 0.5 -4 0.5 1 0.5 1 0.5 10 0.5 -2.5 0.5 1 0.5 -5.5 0.5 1.5 0.5 -1.5 0.5 7 0.5 -9 0.5 1.5 0.5 5 0.5 4 0.5 -7.5 0.5 2.5 0.5 -2 0.5 -0.5 0.5 -2.5 0.5 -5 0.5 6 0.5 -2 0.5 0 0.5 0 0.5 -1 0.5 6 0.5 -13.5 0.5 13 0.5 -10 0.5 3 0.5 -3.5 0.5 7 0.5 -4 0.5 3 0.5 -8 0.5 4 0.5 -4.5 0.5 3.5 0.5 -0.5 0.5 -8 0.5 1.5 0.5 3 0.5 14.5 0.5 -10.5 0.5 -3 0.5 7 0.5 -8 0.5 -2 0.5 1 0.5 8.5 0.5 -8 0.5 5 0.5 4.5 0.5 -3.5 0.5 -1.5 0.5 0.5 0.5 -4 0.5 0.5 0.5 -2.5 0.5 2.5 0.5 -4.5 0.5 11.5 0.5 -6.5 0.5 1 0.5 -2.5 0.5 -1 0.5 4 0.5 -1 0.5 8.5 0.5 -8.5 0.5 2.5 0.5 -9 0.5 -2.5 0.5 8.5 0.5 -2.5 0.5 3 0.5 -6.5 0.5 0.5 0.5 -5 0.5 14.5 0.5 0 0.5 -10.5 0.5 5.5 0.5 7 0.5 -6.5 0.5 -2 0.5 -0.5 0.5 3 0.5 1.5 0.5 -2.5 0.5 -7.5 0.5 3.5 0.5 3 0.5 -10 0.5 11 0.5 -10.5 0.5 8 0.5 4.5 0.5 -4 0.5 -1 0.5 5 0.5 -5 0.5 10 0.5 -13.5 0.5 2.5 0.5 5.5 0.5 -13 0.5 9.5 0.5 -1.5 0.5 -2 0.5 -2.5 0.5 3 0.5 3.5 0.5 -5.5 0.5 1 0.5 6.5 0.5 -2 0.5 2 0.5 2.5 0.5 -5.5 0.5 -2.5 0.5 -1 0.5 -2.5 0.5 5.5 0.5 5 0.5 -5.5 0.5 -5 0.5 5 0.5 2.5 0.5 -1.5 0.5 -4 0.5 3 0.5 1.5 0.5 1 0.5 -5.5 0.5 0 0.5 8 0.5 3.5 0.5 -6 0.5 -8 0.5 7.5 0.5 -1 0.5 0 0.5 -1.5 0.5 0.5 0.5 -0.5 0.5 4.5 0.5 -0.5 0.5 4 0.5 -8.5 0.5 5.5 0.5 1.5 0.5 -6.5 0.5 7 0.5 -6 0.5 6.5 0.5 0 0.5 -6 0.5 -4 0.5 0 0.5 9 0.5 -7.5 0.5 1 0.5 6 0.5 -5 0.5 2 0.5 -7 0.5 13.5 0.5 -2 0.5 5.5 0.5 -10 0.5 -5.5 0.5 14.5 0.5 -13 0.5 8.5 0.5 -0.5 0.5 -9.5 0.5 4 0.5 1 0.5 4 0.5 -2.5 0.5 -3 0.5 -2.5 0.5 6.5 0.5 -1.5 0.5 -12.5 0.5 3.5 0.5 10 0.5 0.5 0.5 -0.5 0.5 1.5 0.5 -5 0.5 -7 0.5 9.5 0.5 3.5 0.5 -6.5 0.5 0.5 0.5 2.5 0.5 -3.5 0.5 3.5 0.5 -4 0.5 9 0.5 -4.5 0.5 -3.5 0.5 -1.5 0.5 5.5 0.5 2.5 0.5 -9.5 0.5 3.5 0.5 -5 0.5 8 0.5 -0.5 0.5 -5.5 0.5 6 0.5 -2 0.5 1.5 0.5 -3 0.5 -1 0.5 5.5 0.5 3.5 0.5 -4 0.5 -0.5 0.5 -4.5 0.5 5.5 0.5 5 0.5 -2 0.5 -4.5 0.5 1 0.5 -4 0.5 0 0.5 -2 0.5 -0.5 0.5 3 0.5 0.5 0.5 -3 0.5 -0.5 0.5 7.5 0.5 -10.5 0.5 4 0.5 9.5 0.5 0.5 0.5 -1.5 0.5 -1.5 0.5 -15.5 0.5 17.5 0.5 -8 0.5 7 0.5 -2.5 0.5 -0.5 0.5 -1 0.5 -2 0.5 2.5 0.5 -12 0.5 2 0.5 11 0.5 2.5 0.5 -4.5 0.5 -3.5 0.5 6.5 0.5 0 0.5 -5 0.5 -1.5 0.5 5 0.5 0.5 0.5 -0.5 0.5 -2.5 0.5 4.5 0.5 -8 0.5 3.5 0.5 5.5 0.5 -1 0.5 -5.5 0.5 2 0.5 -6.5 0.5 12.5 0.5 -8.5 0.5 -1.5 0.5 6 0.5 -7 0.5 8 0.5 -6.5 0.5 -3 0.5 4.5 0.5 1 0.5 -2.5 0.5 -1.5 0.5 2.5 0.5 10 0.5 -9 0.5 7 0.5 -10.5 0.5 -5 0.5 2.5 0.5 7 0.5 -4.5 0.5 -1.5 0.5 3 0.5 3.5 0.5 -1.5 0.5 -2 0.5 5.5 0.5 -7 0.5 2.5 0.5 10 0.5 -13.5 0.5 10.5 0.5 -10.5 0.5 11 0.5 -7.5 0.5 -0.5 0.5 -1 0.5 1 0.5 5 0.5 -12 0.5 7.5 0.5 -3 0.5 4 0.5 -3 0.5 -3 0.5 -0.5 0.5 2 0.5 2 0.5 -3 0.5 8.5 0.5 -5 0.5 1.5 0.5 -7 0.5 4 0.5 4.5 0.5 -8.5 0.5 7.5 0.5 -2 0.5 0.5 0.5 1.5 0.5 -2 0.5 -8.5 0.5 5.5 0.5 -4.5 0.5 5 0.5 -0.5 0.5 -1 0.5 4.5 0.5 -5.5 0.5 3 0.5 -4.5 0.5 1.5 0.5 5 0.5 -1 0.5 -1 0.5 -8.5 0.5 9 0.5 -2 0.5 -1 0.5 1 0.5 1 0.5 -1.5 0.5 -0.5 0.5 1 0.5 3 0.5 -1.5 0.5 -3 0.5 2 0.5 2 0.5 -1 0.5 2 0.5 -0.5 0.5 -3.5 0.5 2 0.5 5.5 0.5 -7.5 0.5 5.5 0.5 -3 0.5 6 0.5 4 0.5 -5.5 0.5 -5.5 0.5 3 0.5 0 0.5 -0.5 0.5 -4.5 0.5 3.5 0.5 0.5 0.5 -4 0.5 -2 0.5 1.5 0.5 -8 0.5 4 0.5 -2 0.5 13.5 0.5 -5 0.5 -10.5 0.5 14 0.5 -5 0.5 -4 0.5 -3 0.5 5 0.5 -3.5 0.5 1.5 0.5 2 0.5 0 0.5 2 0.5 6.5 0.5 -3.5 0.5 -7.5 0.5 -2 0.5 1.5 0.5 -2 0.5 7.5 0.5 -4.5 0.5 -5 0.5 5.5 0.5 -10 0.5 7.5 0.5 -2 0.5 5 0.5 11 0.5 -7 0.5 -2.5 0.5 -5 0.5 4 0.5 -1.5 0.5 6.5 0.5 -4 0.5 9.5 0.5 -13.5 0.5 1 0.5 2 0.5 0 0.5 0.5 0.5 -4.5 0.5 0 0.5 9.5 0.5 -2 0.5 -6.5 0.5 8 0.5 -4 0.5 -9 0.5 2.5 0.5 12 0.5 -8.5 0.5 -2.5 0.5 7 0.5 5 0.5 -9.5 0.5 -7 0.5 9.5 0.5 -9 0.5 0.5 0.5 5.5 0.5 -3 0.5 2.5 0.5 0 0.5 -2.5 0.5 -1 0.5 2.5 0.5 0.5 0.5 1.5 0.5 -1 0.5 -8.5 0.5 3 0.5 2 0.5 7.5 0.5 -6.5 0.5 3.5 0.5 -9.5 0.5 8.5 0.5 0 0.5 -1.5 0.5 -6.5 0.5 8 0.5 -2 0.5 3.5 0.5 -1.5 0.5 3 0.5 -2 0.5 -6 0.5 3.5 0.5 -5 0.5 -2.5 0.5 5.5 0.5 3.5 0.5 -8.5 0.5 2.5 0.5 -5.5 0.5 16.5 0.5 -4.5 0.5 -3.5 0.5 4.5 0.5 -7.5 0.5 7.5 0.5 -3 0.5 0 0.5 1 0.5 -7 0.5 10 0.5 -8 0.5 -1 0.5 8 0.5 -4 0.5 -2.5 0.5 4 0.5 1 0.5 3.5 0.5 6.5 0.5 -9 0.5 -10.5 0.5 5.5 0.5 9 0.5 -6.5 0.5 -3 0.5 12 0.5 -11 0.5 8.5 0.5 -0.5 0.5 -8 0.5 8.5 0.5 -2.5 0.5 -3 0.5 3 0.5 3 0.5 2.5 0.5 -6 0.5 -4.5 0.5 6 0.5 -1.5 0.5 -4 0.5 7.5 0.5 -6 0.5 4.5 0.5 -6.5 0.5 1 0.5 4.5 0.5 -4 0.5 4.5 0.5 0.5 0.5 2 0.5 0.5 0.5 2 0.5 4.5 0.5 -9.5 0.5 5.5 0.5 -8.5 0.5 10 0.5 -13.5 0.5 4 0.5 -7 0.5 7.5 0.5 -3.5 0.5 1 0.5 -7.5 0.5 12.5 0.5 -5 0.5 1 0.5 -2.5 0.5 8 0.5 -4 0.5 1.5 0.5 -3.5 0.5 -3.5 0.5 0 0.5 5 0.5 1.5 0.5 -8.5 0.5 7 0.5 -7 0.5 -1 0.5 -1 0.5 4 0.5 -1.5 0.5 3 0.5 0.5 0.5 0 0.5 0.5 0.5 -7.5 0.5 11 0.5 1.5 0.5 -13 0.5 5.5 0.5 -4 0.5 6.5 0.5 -0.5 0.5 -5.5 0.5 5.5 0.5 -3 0.5 2.5 0.5 0.5 0.5 1.5 0.5 -11.5 0.5 8 0.5 1 0.5 -1 0.5 6 0.5 -6 0.5 7 0.5 -7.5 0.5 1.5 0.5 -8.5 0.5 7.5 0.5 4 0.5 -5.5 0.5 2 0.5 -1.5 0.5 2 0.5 0.5 0.5 1.5 0.5 -4 0.5 -3 0.5 9 0.5 -1.5 0.5 -6.5 0.5 3 0.5 -4 0.5 -1 0.5 6.5 0.5 5 0.5 0 0.5 -4.5 0.5 4.5 0.5 -4.5 0.5 10 0.5 -8 0.5 -0.5 0.5 -5.5 0.5 5.5 0.5 2.5 0.5 -9.5 0.5 7 0.5 -1.5 0.5 1 0.5 7.5 0.5 -12.5 0.5 10.5 0.5 -8 0.5 4.5 0.5 -4 0.5 1.5 0.5 -2 0.5 -3 0.5 10.5 0.5 -1 0.5 -9.5 0.5 3 0.5 -1.5 0.5 6.5 0.5 -1.5 0.5 -8 0.5 5 0.5 -8 0.5 3 0.5 -3.5 0.5 1.5 0.5 -2.5 0.5 10 0.5 -4.5 0.5 7 0.5 -4 0.5 -2.5 0.5 4.5 0.5 -5 0.5 -4.5 0.5 5 0.5 -8.5 0.5 10.5 0.5 -5 0.5 -9 0.5 12.5 0.5 2 0.5 1 0.5 -8.5 0.5 -12 0.5 12 0.5 8 0.5 -5 0.5 8.5 0.5 -16.5 0.5 -0.5 0.5 -3 0.5 14 0.5 0.5 0.5 -20.5 0.5 17 0.5 5.5 0.5 -8.5 0.5 6 0.5 -4 0.5 6 0.5 -9 0.5 0 0.5 3 0.5 -8 0.5 10.5 0.5 4 0.5 -4.5 0.5 -6 0.5 11 0.5 -12 0.5 8 0.5 -2 0.5 -6.5 0.5 1 0.5 1.5 0.5 7 0.5 0 0.5 7.5 0.5 -15 0.5 4.5 0.5 0 0.5 -1 0.5 -0.5 0.5 8 0.5 -10.5 0.5 5.5 0.5 1.5 0.5 9.5 0.5 -13 0.5 -1 0.5 10 0.5 -3.5 0.5 -1.5 0.5 1.5 0.5 -4 0.5 1.5 0.5 0.5 0.5 3 0.5 -6.5 0.5 1.5 0.5 0.5 0.5 -4 0.5 -2 0.5 7.5 0.5 6 0.5 -17 0.5 6.5 0.5 4 0.5 -6.5 0.5 5 0.5 8.5 0.5 -14.5 0.5 2 0.5 4.5 0.5 -0.5 0.5 2 0.5 -10.5 0.5 1 0.5 5.5 0.5 -2.5 0.5 -5.5 0.5 13.5 0.5 -6 0.5 1.5 0.5 -7.5 0.5 -3 0.5 12 0.5 -6 0.5 -1.5 0.5 5 0.5 6.5 0.5 -6 0.5 3.5 0.5 -4.5 0.5 -1.5 0.5 2.5 0.5 -3.5 0.5 -4.5 0.5 7.5 0.5 4.5 0.5 -7 0.5 3.5 0.5 -3.5 0.5 -1.5 0.5 3.5 0.5 4.5 0.5 -4 0.5 3 0.5 -7 0.5 7.5 0.5 -8 0.5 5 0.5 1.5 0.5 -6.5 0.5 9 0.5 -9 0.5 -3.5 0.5 3.5 0.5 2 0.5 3 0.5 -1 0.5 9 0.5 -2 0.5 -17.5 0.5 7.5 0.5 1.5 0.5 0.5 0.5 1 0.5 -4.5 0.5 0.5 0.5 -6 0.5 0.5 0.5 5 0.5 -2.5 0.5 1 0.5 0.5 0.5 8 0.5 -14 0.5 9 0.5 6 0.5 -5 0.5 7.5 0.5 -17.5 0.5 11 0.5 3 0.5 -12 0.5 8.5 0.5 -0.5 0.5 -10.5 0.5 11.5 0.5 -7 0.5 0.5 0.5 9 0.5 -4.5 0.5 -5 0.5 7 0.5 2.5 0.5 -6.5 0.5 3 0.5 -7.5 0.5 3.5 0.5 7.5 0.5 -7.5 0.5 -1 0.5 -3 0.5 0.5 0.5 1 0.5 -5.5 0.5 9.5 0.5 4 0.5 -4 0.5 -2.5 0.5 -9.5 0.5 13 0.5 -4 0.5 -4.5 0.5 2 0.5 -6 0.5 7 0.5 0.5 0.5 0 0.5 -10 0.5 -1.5 0.5 10 0.5 -2.5 0.5 1 0.5 -3.5 0.5 4 0.5 0.5 0.5 -0.5 0.5 -3 0.5 4.5 0.5 -0.5 0.5 2.5 0.5 2.5 0.5 -5.5 0.5 -1 0.5 -5 0.5 7 0.5 -6 0.5 10 0.5 -1.5 0.5 -2 0.5 0.5 0.5 -5 0.5 -3 0.5 8 0.5 -4.5 0.5 9.5 0.5 -7.5 0.5 4 0.5 1.5 0.5 -1 0.5 -5 0.5 2.5 0.5 -4.5 0.5 -1 0.5 8 0.5 -4.5 0.5 -0.5 0.5 -3 0.5 -5 0.5 4 0.5 1 0.5 6 0.5 -4 0.5 10 0.5 -6.5 0.5 -6 0.5 12.5 0.5 -7.5 0.5 0.5 0.5 4.5 0.5 -5 0.5 -3.5 0.5 11.5 0.5 -8.5 0.5 1 0.5 -0.5 0.5 -1 0.5 2 0.5 4.5 0.5 -11 0.5 -2 0.5 8 0.5 2.5 0.5 2 0.5 -4 0.5 -7 0.5 5.5 0.5 -7 0.5 15.5 0.5 -8.5 0.5 2 0.5 6 0.5 -10.5 0.5 6 0.5 1 0.5 -14.5 0.5 10 0.5 2 0.5 0 0.5 1.5 0.5 -2 0.5 5.5 0.5 -14 0.5 7 0.5 1 0.5 0 0.5 -0.5 0.5 -6 0.5 6 0.5 2 0.5 1 0.5 2.5 0.5 0.5 0.5 -1 0.5 2 0.5 -5 0.5 -2 0.5 -0.5 0.5 -5.5 0.5 11.5 0.5 1.5 0.5 -7 0.5 3 0.5 -1.5 0.5 -1.5 0.5 1 0.5 -4 0.5 6.5 0.5 -4.5 0.5 -0.5 0.5 2.5 0.5 6 0.5 -6.5 0.5 -5 0.5 0.5 0.5 8.5 0.5 -8 0.5 11 0.5 -4.5 0.5 -2 0.5 -13.5 0.5 22.5 0.5 -5 0.5 -11.5 0.5 -1.5 0.5 11 0.5 -4 0.5 -7 0.5 14 0.5 -6.5 0.5 -2 0.5 1.5 0.5 2 0.5 -10 0.5 7 0.5 3.5 0.5 -2.5 0.5 -1.5 0.5 -1.5 0.5 9 0.5 -4.5 0.5 -3.5 0.5 -0.5 0.5 -6.5 0.5 3 0.5 6 0.5 -2.5 0.5 13 0.5 -10.5 0.5 0 0.5 6 0.5 -7 0.5 -2.5 0.5 -5 0.5 13 0.5 -11.5 0.5 5.5 0.5 4.5 0.5 -1.5 0.5 5.5 0.5 -13 0.5 11.5 0.5 -3 0.5 -0.5 0.5 3.5 0.5 -11.5 0.5 5.5 0.5 0.5 0.5 3 0.5 -3 0.5 -6 0.5 3.5 0.5 -5 0.5 15 0.5 -11 0.5 5.5 0.5 -0.5 0.5 3.5 0.5 -3 0.5 -14 0.5 8 0.5 6.5 0.5 -7 0.5 11 0.5 -6.5 0.5 -1 0.5 -3 0.5 0.5 0.5 1.5 0.5 0 0.5 -0.5 0.5 3 0.5 -7 0.5 3 0.5 0.5 0.5 -2 0.5 3.5 0.5 0 0.5 -2.5 0.5 1.5 0.5 -2.5 0.5 -1 0.5 10 0.5 -9.5 0.5 0 0.5 12 0.5 -3.5 0.5 -3 0.5 6 0.5 -1.5 0.5 -12 0.5 1.5 0.5 1 0.5 2.5 0.5 6 0.5 -10 0.5 9.5 0.5 -1.5 0.5 -4.5 0.5 4.5 0.5 -3.5 0.5 2 0.5 4 0.5 -7.5 0.5 8 0.5 -4 0.5 -11.5 0.5 8 0.5 4 0.5 2 0.5 -11 0.5 -0.5 0.5 -1.5 0.5 10 0.5 -8.5 0.5 2 0.5 0 0.5 9.5 0.5 -4 0.5 1 0.5 -8.5 0.5 8.5 0.5 -0.5 0.5 -1 0.5 -9.5 0.5 7 0.5 3 0.5 -7 0.5 9.5 0.5 5 0.5 -5.5 0.5 -2 0.5 4.5 0.5 -6 0.5 -1 0.5 6.5 0.5 -4.5 0.5 2.5 0.5 -8.5 0.5 14 0.5 2 0.5 -11 0.5 -1 0.5 12 0.5 -2.5 0.5 -7 0.5 1.5 0.5 4.5 0.5 2 0.5 3 0.5 -15.5 0.5 9 0.5 -0.5 0.5 -2 0.5 -2 0.5 9 0.5 -11.5 0.5 3 0.5 -9.5 0.5 6.5 0.5 1.5 0.5 -3.5 0.5 8.5 0.5 -5 0.5 0.5 0.5 0.5 0.5 5.5 0.5 -5.5 0.5 0.5 0.5 -3 0.5 -6.5 0.5 14.5 0.5 0.5 0.5 -9.5 0.5 5 0.5 -13 0.5 18 0.5 -10 0.5 2.5 0.5 -10 0.5 8 0.5 -8 0.5 14 0.5 -7 0.5 6 0.5 -2.5 0.5 -7.5 0.5 2.5 0.5 4.5 0.5 5.5 0.5 -10 0.5 6.5 0.5 -3 0.5 -1 0.5 4 0.5 5 0.5 -10 0.5 9.5 0.5 -1.5 0.5 -6 0.5 9 0.5 -8 0.5 -3 0.5 4 0.5 0 0.5 6.5 0.5 4 0.5 -17.5 0.5 7.5 0.5 -4 0.5 2.5 0.5 3 0.5 -1.5 0.5 -2.5 0.5 16.5 0.5 -8.5 0.5 2 0.5 -2 0.5 0.5 0.5 0.5 0.5 -5.5 0.5 -2 0.5 1.5 0.5 3.5 0.5 0 0.5 0 0.5 -8.5 0.5 1.5 0.5 2 0.5 -3 0.5 7 0.5 4.5 0.5 -10.5 0.5 16.5 0.5 -16.5 0.5 6.5 0.5 -0.5 0.5 -8.5 0.5 3.5 0.5 -3 0.5 4 0.5 4 0.5 -6.5 0.5 1.5 0.5 -6.5 0.5 3 0.5 3 0.5 -1 0.5 1.5 0.5 0.5 0.5 0.5 0.5 -8.5 0.5 11 0.5 0.5 0.5 6.5 0.5 -15.5 0.5 6 0.5 -7.5 0.5 11.5 0.5 -4.5 0.5 3.5 0.5 1.5 0.5 -7 0.5 -1.5 0.5 4 0.5 -0.5 0.5 2.5 0.5 -9 0.5 5.5 0.5 8.5 0.5 -13.5 0.5 3.5 0.5 -1 0.5 -5.5 0.5 10 0.5 -1 0.5 1 0.5 -4.5 0.5 -5.5 0.5 3.5 0.5 6 0.5 -0.5 0.5 0 0.5 -13 0.5 11.5 0.5 -7.5 0.5 11 0.5 0 0.5 0.5 0.5 -2.5 0.5 -3 0.5 -5.5 0.5 3.5 0.5 2.5 0.5 -4.5 0.5 0.5 0.5 0.5 0.5 -0.5 0.5 -6.5 0.5 3 0.5 2.5 0.5 0 0.5 0.5 0.5 -2.5 0.5 -6 0.5 9.5 0.5 -4.5 0.5 0.5 0.5 -1 0.5 -7.5 0.5 4 0.5 5 0.5 8.5 0.5 -11 0.5 2 0.5 -3.5 0.5 6.5 0.5 -10 0.5 6 0.5 6 0.5 -3 0.5 -1 0.5 -5.5 0.5 2 0.5 -3 0.5 1.5 0.5 -3.5 0.5 11 0.5 -1 0.5 -7 0.5 10.5 0.5 -14.5 0.5 12 0.5 -4.5" fill="none" stroke="#ff0000" stroke-width="6.5" stroke-linejoin="round" stroke-linecap="round"/>
<path d="M367,3225l0.5 -23.5 0.5 -9.5 0.5 -10 0.5 -3 0.5 -3 0.5 -4 0.5 -9 0.5 6.5 0.5 -3.5 0.5 -12 0.5 -1 0.5 3 0.5 -7 0.5 0.5 0.5 3 0.5 -2 0.5 -8.5 0.5 0 0.5 -1.5 0.5 1.5 0.5 0 0.5 -3 0.5 4 0.5 -3 0.5 -1 0.5 -10 0.5 1 0.5 2 0.5 3 0.5 -6.5 0.5 10 0.5 -7 0.5 0 0.5 -1 0.5 1.5 0.5 1 0.5 -7 0.5 8 0.5 -10.5 0.5 5.5 0.5 -3.5 0.5 -0.5 0.5 3 0.5 -3.5 0.5 6 0.5 -9.5 0.5 4 0.5 -0.5 0.5 6 0.5 -3 0.5 -5 0.5 4 0.5 -3.5 0.5 -7.5 0.5 3.5 0.5 3.5 0.5 -8 0.5 9 0.5 -4.5 0.5 -5 0.5 4.5 0.5 -7.5 0.5 4 0.5 -2.5 0.5 6 0.5 -5.5 0.5 -2.5 0.5 7.5 0.5 -3.5 0.5 -2 0.5 -0.5 0.5 6 0.5 -3.5 0.5 -3.5 0.5 14.5 0.5 -10 0.5 6 0.5 -4 0.5 1.5 0.5 -10 0.5 1.5 0.5 5 0.5 -4 0.5 1 0.5 5 0.5 -14 0.5 8.5 0.5 7.5 0.5 -9.5 0.5 2.5 0.5 0.5 0.5 -1.5 0.5 -1 0.5 -5.5 0.5 4.5 0.5 -5 0.5 9.5 0.5 -10 0.5 4 0.5 -2 0.5 5.5 0.5 -4.5 0.5 2.5 0.5 -6.5 0.5 0 0.5 -2.5 0.5 2 0.5 -1.5 0.5 -4.5 0.5 0 0.5 5 0.5 -1.5 0.5 -2 0.5 -1.5 0.5 -2 0.5 5 0.5 -3 0.5 -0.5 0.5 1 0.5 0.5 0.5 0.5 0.5 2.5 0.5 -7.5 0.5 6.5 0.5 -4 0.5 4.5 0.5 7 0.5 -14 0.5 2.5 0.5 3 0.5 -7.5 0.5 20 0.5 -13.5 0.5 10.5 0.5 -6.5 0.5 5 0.5 -1.5 0.5 -5 0.5 3.5 0.5 -5.5 0.5 1.5 0.5 8 0.5 -10 0.5 -1 0.5 15.5 0.5 -12.5 0.5 2.5 0.5 6 0.5 -10 0.5 0 0.5 10 0.5 -8 0.5 1 0.5 -3.5 0.5 3.5 0.5 -10.5 0.5 7.5 0.5 4 0.5 0 0.5 -6.5 0.5 4.5 0.5 6.5 0.5 -9 0.5 2.5 0.5 -5 0.5 -5.5 0.5 11 0.5 -7 0.5 1 0.5 3 0.5 -1.5 0.5 0 0.5 5 0.5 -4 0.5 -0.5 0.5 -5.5 0.5 8 0.5 -9.5 0.5 -4.5 0.5 5.5 0.5 6.5 0.5 -2 0.5 4 0.5 -3.5 0.5 0 0.5 -0.5 0.5 -4.5 0.5 0.5 0.5 -0.5 0.5 3 0.5 -5 0.5 2 0.5 3 0.5 -3 0.5 -0.5 0.5 0 0.5 -4.5 0.5 -1 0.5 2.5 0.5 7.5 0.5 -0.5 0.5 -2 0.5 1.5 0.5 -0.5 0.5 -13 0.5 6.5 0.5 6 0.5 4 0.5 -7 0.5 7 0.5 -2 0.5 -4.5 0.5 -5 0.5 0 0.5 4 0.5 1 0.5 -1 0.5 3 0.5 -0.5 0.5 -2.5 0.5 0.5 0.5 -0.5 0.5 -9.5 0.5 3 0.5 7 0.5 2.5 0.5 -3.5 0.5 -1.5 0.5 2 0.5 1 0.5 -1.5 0.5 -9 0.5 9.5 0.5 2 0.5 -3 0.5 10 0.5 -15 0.5 -2.5 0.5 21.5 0.5 -19 0.5 -6.5 0.5 7 0.5 5.5 0.5 -7 0.5 1 0.5 5 0.5 4.5 0.5 -6 0.5 -1.5 0.5 -3.5 0.5 5.5 0.5 9 0.5 -17 0.5 0 0.5 1.5 0.5 4 0.5 -0.5 0.5 -3.5 0.5 -2 0.5 8.5 0.5 -4 0.5 3 0.5 -7 0.5 5.5 0.5 -8.5 0.5 12 0.5 -11 0.5 0.5 0.5 3 0.5 -3 0.5 -2 0.5 5 0.5 -5 0.5 11 0.5 -11 0.5 7 0.5 -6.5 0.5 -3.5 0.5 -3 0.5 10.5 0.5 -6 0.5 7 0.5 -4.5 0.5 4 0.5 0.5 0.5 8.5 0.5 -9 0.5 -5 0.5 -3.5 0.5 13 0.5 -3.5 0.5 5 0.5 -13.5 0.5 6.5 0.5 -4 0.5 5.5 0.5 -3.5 0.5 7.5 0.5 -7.5 0.5 1 0.5 -2.5 0.5 4 0.5 2.5 0.5 -2.5 0.5 -4.5 0.5 -2.5 0.5 0 0.5 3.5 0.5 -2 0.5 1 0.5 5 0.5 -3.5 0.5 -1 0.5 -3.5 0.5 0.5 0.5 -1.5 0.5 1 0.5 -1.5 0.5 1 0.5 -3.5 0.5 8.5 0.5 -3 0.5 0 0.5 2.5 0.5 -8 0.5 -0.5 0.5 -1 0.5 2.5 0.5 5.5 0.5 -2 0.5 7 0.5 -13.5 0.5 7.5 0.5 -8 0.5 -0.5 0.5 -0.5 0.5 10.5 0.5 -5 0.5 4 0.5 -5.5 0.5 2 0.5 -0.5 0.5 -0.5 0.5 -2 0.5 3 0.5 -3.5 0.5 -0.5 0.5 -0.5 0.5 -2.5 0.5 -3.5 0.5 2.5 0.5 10.5 0.5 -7.5 0.5 -6 0.5 3.5 0.5 5 0.5 2.5 0.5 -16 0.5 1 0.5 -2.5 0.5 5.5 0.5 0 0.5 9 0.5 -2 0.5 -5 0.5 12 0.5 -12.5 0.5 4 0.5 2.5 0.5 -7.5 0.5 4.5 0.5 0.5 0.5 -3 0.5 4 0.5 -3.5 0.5 -1.5 0.5 6 0.5 -5.5 0.5 3.5 0.5 -5 0.5 5.5 0.5 -3 0.5 -6 0.5 7.5 0.5 -4.5 0.5 9.5 0.5 -9.5 0.5 6 0.5 -14.5 0.5 7 0.5 -5 0.5 6.5 0.5 -4 0.5 8.5 0.5 -4.5 0.5 3.5 0.5 -11 0.5 -6 0.5 9 0.5 5.5 0.5 -4.5 0.5 7 0.5 -9.5 0.5 -1.5 0.5 4.5 0.5 2 0.5 -7 0.5 -1 0.5 -0.5 0.5 11.5 0.5 -18.5 0.5 14 0.5 -5 0.5 7.5 0.5 -4 0.5 -9 0.5 4.5 0.5 -4 0.5 0 0.5 -3.5 0.5 10.5 0.5 -13.5 0.5 8.5 0.5 7.5 0.5 -6 0.5 4.5 0.5 -2.5 0.5 2 0.5 -10 0.5 4.5 0.5 1 0.5 -1.5 0.5 -5.5 0.5 -1.5 0.5 4 0.5 1 0.5 -1 0.5 -9 0.5 4.5 0.5 0 0.5 4 0.5 -6 0.5 4 0.5 -6 0.5 3.5 0.5 4.5 0.5 1 0.5 -8 0.5 5 0.5 -3.5 0.5 11 0.5 -6 0.5 -1.5 0.5 8 0.5 -21.5 0.5 9 0.5 5.5 0.5 -3 0.5 1.5 0.5 -5.5 0.5 2 0.5 2 0.5 4.5 0.5 4.5 0.5 -14 0.5 8 0.5 -11.5 0.5 7.5 0.5 3.5 0.5 -5.5 0.5 5 0.5 -2.5 0.5 9 0.5 -9 0.5 -3 0.5 -5 0.5 5.5 0.5 5 0.5 6 0.5 -8.5 0.5 -2.5 0.5 0.5 0.5 1.5 0.5 3.5 0.5 -0.5 0.5 -3.5 0.5 1.5 0.5 -2.5 0.5 6 0.5 -11 0.5 10.5 0.5 -4.5 0.5 -1 0.5 1 0.5 -1.5 0.5 -4 0.5 3.5 0.5 0 0.5 1 0.5 2.5 0.5 -5 0.5 -6.5 0.5 8 0.5 2 0.5 0 0.5 -9 0.5 11 0.5 2 0.5 -6 0.5 4 0.5 2 0.5 1 0.5 -11.5 0.5 8.5 0.5 -4.5 0.5 -4.5 0.5 6.5 0.5 -2.5 0.5 5 0.5 -1 0.5 -6.5 0.5 6 0.5 0.5 0.5 -8.5 0.5 7 0.5 -2.5 0.5 6.5 0.5 -3 0.5 -5.5 0.5 -1 0.5 -6 0.5 15 0.5 -1 0.5 -1.5 0.5 -3.5 0.5 2.5 0.5 -6 0.5 6 0.5 0 0.5 -2 0.5 7 0.5 -8 0.5 -3 0.5 -2 0.5 8.5 0.5 -6 0.5 -0.5 0.5 -1.5 0.5 -1 0.5 7.5 0.5 -10.5 0.5 17.5 0.5 -12 0.5 5.5 0.5 -4.5 0.5 4 0.5 0 0.5 -1 0.5 6 0.5 -14 0.5 5.5 0.5 -3 0.5 4.5 0.5 -3.5 0.5 -1.5 0.5 3 0.5 -0.5 0.5 1.5 0.5 0.5 0.5 -5 0.5 0 0.5 -3.5 0.5 5 0.5 0.5 0.5 2.5 0.5 1 0.5 -7 0.5 6.5 0.5 -1.5 0.5 -10.5 0.5 8.5 0.5 3 0.5 2.5 0.5 -2 0.5 1.5 0.5 -8.5 0.5 12 0.5 -14.5 0.5 10.5 0.5 -6 0.5 2 0.5 -1.5 0.5 -3.5 0.5 11 0.5 -11.5 0.5 -1.5 0.5 9.5 0.5 -4 0.5 10 0.5 -5 0.5 -1 0.5 1 0.5 1 0.5 -11 0.5 3 0.5 -0.5 0.5 13 0.5 -11.5 0.5 0 0.5 7 0.5 -3.5 0.5 -2 0.5 -3 0.5 0 0.5 3.5 0.5 2.5 0.5 1 0.5 0 0.5 -8 0.5 5 0.5 -1 0.5 -3 0.5 5.5 0.5 4.5 0.5 -5.5 0.5 -7 0.5 7 0.5 4 0.5 -9.5 0.5 -1 0.5 3.5 0.5 -3 0.5 3.5 0.5 7 0.5 -8.5 0.5 -1.5 0.5 4.5 0.5 -2.5 0.5 9 0.5 -7 0.5 -2 0.5 -6 0.5 9 0.5 1.5 0.5 -7.5 0.5 2.5 0.5 1 0.5 0.5 0.5 1.5 0.5 -6 0.5 0.5 0.5 0.5 0.5 -2.5 0.5 4.5 0.5 -0.5 0.5 -14.5 0.5 8.5 0.5 -9 0.5 12.5 0.5 -0.5 0.5 -4.5 0.5 10 0.5 -14 0.5 6 0.5 -4.5 0.5 -1 0.5 -7.5 0.5 8.5 0.5 4 0.5 -6 0.5 7.5 0.5 -7 0.5 0 0.5 -3 0.5 1 0.5 -0.5 0.5 4 0.5 -5 0.5 3 0.5 0.5 0.5 -0.5 0.5 -4.5 0.5 -6 0.5 10 0.5 -2.5 0.5 6.5 0.5 -7 0.5 6.5 0.5 -10 0.5 5.5 0.5 -6.5 0.5 4 0.5 -1 0.5 -1.5 0.5 -5 0.5 15 0.5 -3 0.5 -10 0.5 0.5 0.5 -0.5 0.5 5 0.5 5.5 0.5 -6.5 0.5 4.5 0.5 2.5 0.5 -7 0.5 0.5 0.5 0 0.5 0.5 0.5 2.5 0.5 2.5 0.5 3.5 0.5 -7 0.5 -2.5 0.5 1.5 0.5 -6 0.5 10.5 0.5 -5.5 0.5 5 0.5 -5 0.5 -2 0.5 8.5 0.5 -5 0.5 0 0.5 1 0.5 -9.5 0.5 5.5 0.5 2.5 0.5 -1.5 0.5 -5.5 0.5 10 0.5 -1 0.5 4 0.5 0.5 0.5 -15 0.5 10 0.5 -0.5 0.5 -6 0.5 5 0.5 1.5 0.5 -5.5 0.5 1 0.5 -7 0.5 1 0.5 4.5 0.5 8 0.5 -13.5 0.5 8 0.5 -1.5 0.5 0 0.5 -11.5 0.5 5 0.5 8 0.5 -6 0.5 -5.5 0.5 6 0.5 0.5 0.5 -2.5 0.5 -4.5 0.5 5.5 0.5 -1.5 0.5 3.5 0.5 -7 0.5 4 0.5 -5.5 0.5 2 0.5 1.5 0.5 5 0.5 -5.5 0.5 -1 0.5 5 0.5 3 0.5 -7.5 0.5 5.5 0.5 3.5 0.5 -3 0.5 -7 0.5 5 0.5 -6 0.5 3.5 0.5 8 0.5 2 0.5 -12 0.5 5 0.5 4 0.5 -11.5 0.5 7 0.5 -3.5 0.5 2.5 0.5 2 0.5 -5.5 0.5 -4 0.5 1.5 0.5 7.5 0.5 -16.5 0.5 14 0.5 -5 0.5 4 0.5 -0.5 0.5 2.5 0.5 1.5 0.5 -0.5 0.5 -5 0.5 7.5 0.5 -13.5 0.5 7 0.5 -4.5 0.5 3.5 0.5 1.5 0.5 -9 0.5 14 0.5 -10.5 0.5 0.5 0.5 -7.5 0.5 9.5 0.5 5.5 0.5 -6 0.5 -1 0.5 1.5 0.5 -5 0.5 2 0.5 7.5 0.5 -7.5 0.5 -2 0.5 -1.5 0.5 4.5 0.5 1.5 0.5 -9.5 0.5 5 0.5 -1.5 0.5 -7 0.5 17.5 0.5 -8.5 0.5 -3.5 0.5 -5 0.5 4.5 0.5 4 0.5 -7.5 0.5 4 0.5 8 0.5 -2 0.5 -2.5 0.5 -2 0.5 -3 0.5 0 0.5 7 0.5 -5.5 0.5 -2.5 0.5 5 0.5 -3 0.5 1.5 0.5 -0.5 0.5 7 0.5 -9 0.5 7.5 0.5 -6 0.5 3.5 0.5 -4 0.5 1.5 0.5 3.5 0.5 -1.5 0.5 -7.5 0.5 5 0.5 6.5 0.5 -6.5 0.5 1 0.5 -6.5 0.5 17.5 0.5 -14.5 0.5 -2.5 0.5 -0.5 0.5 3.5 0.5 -3.5 0.5 -1.5 0.5 7 0.5 -1.5 0.5 -2 0.5 4.5 0.5 -2 0.5 6 0.5 2.5 0.5 -6.5 0.5 -4.5 0.5 7 0.5 -10.5 0.5 3 0.5 -1 0.5 3 0.5 0.5 0.5 -2 0.5 5 0.5 -5.5 0.5 0 0.5 -2 0.5 -0.5 0.5 2.5 0.5 1 0.5 -0.5 0.5 5.5 0.5 -5 0.5 1.5 0.5 -3.5 0.5 -11 0.5 10.5 0.5 -1.5 0.5 4 0.5 -4 0.5 0 0.5 4.5 0.5 -4 0.5 3 0.5 3 0.5 -7.5 0.5 -7 0.5 6 0.5 -2.5 0.5 -2 0.5 11 0.5 4.5 0.5 -16.5 0.5 12.5 0.5 0.5 0.5 -5 0.5 -1.5 0.5 4.5 0.5 -3.5 0.5 0 0.5 -1 0.5 -2.5 0.5 2 0.5 -0.5 0.5 0.5 0.5 3.5 0.5 -7.5 0.5 1.5 0.5 3.5 0.5 4 0.5 -3 0.5 -1.5 0.5 -3 0.5 -4.5 0.5 5.5 0.5 1 0.5 -6 0.5 14 0.5 -7 0.5 3 0.5 0 0.5 -14 0.5 13.5 0.5 0 0.5 -11 0.5 6.5 0.5 -1 0.5 0 0.5 3 0.5 -8 0.5 1.5 0.5 -5 0.5 11.5 0.5 -7.5 0.5 2 0.5 -0.5 0.5 2 0.5 -9 0.5 11 0.5 -6.5 0.5 1 0.5 4.5 0.5 2.5 0.5 -1.5 0.5 -5 0.5 4.5 0.5 -8 0.5 10 0.5 -4.5 0.5 -2 0.5 -2.5 0.5 1.5 0.5 4 0.5 -8 0.5 10 0.5 -11.5 0.5 8.5 0.5 5.5 0.5 -10.5 0.5 7.5 0.5 -2.5 0.5 9.5 0.5 -10.5 0.5 -1 0.5 0 0.5 0 0.5 0.5 0.5 -4.5 0.5 2.5 0.5 9 0.5 -1.5 0.5 -11 0.5 -0.5 0.5 6 0.5 -3.5 0.5 -0.5 0.5 3 0.5 -2 0.5 -2 0.5 -2.5 0.5 4 0.5 0 0.5 -2 0.5 -4 0.5 9.5 0.5 -7.5 0.5 -3.5 0.5 6 0.5 2 0.5 -2.5 0.5 -5 0.5 -4 0.5 5 0.5 4 0.5 -1.5 0.5 -2.5 0.5 2.5 0.5 -9 0.5 10.5 0.5 -8.5 0.5 1 0.5 5.5 0.5 -5 0.5 -5 0.5 10.5 0.5 -3.5 0.5 1.5 0.5 0.5 0.5 -1.5 0.5 -4.5 0.5 0.5 0.5 10 0.5 -6.5 0.5 -2.5 0.5 3.5 0.5 0 0.5 -1 0.5 -1.5 0.5 -5.5 0.5 8 0.5 0.5 0.5 -5 0.5 1.5 0.5 3 0.5 -9 0.5 4.5 0.5 -3.5 0.5 2.5 0.5 3 0.5 -2.5 0.5 -8 0.5 -4 0.5 4.5 0.5 -4.5 0.5 7.5 0.5 -4.5 0.5 2 0.5 -3.5 0.5 6 0.5 0.5 0.5 -6 0.5 2.5 0.5 2.5 0.5 3.5 0.5 -7.5 0.5 5.5 0.5 -5 0.5 5 0.5 -5.5 0.5 -1.5 0.5 2.5 0.5 -3.5 0.5 2.5 0.5 1 0.5 -1 0.5 -1.5 0.5 3.5 0.5 6.5 0.5 -6 0.5 -5.5 0.5 5 0.5 0.5 0.5 -1.5 0.5 -11 0.5 8.5 0.5 1 0.5 10.5 0.5 -22.5 0.5 13.5 0.5 -6.5 0.5 3 0.5 -2.5 0.5 0 0.5 3.5 0.5 1 0.5 2.5 0.5 -8 0.5 0 0.5 2.5 0.5 -2.5 0.5 -3.5 0.5 9.5 0.5 0.5 0.5 -12.5 0.5 11.5 0.5 -9.5 0.5 1.5 0.5 -7.5 0.5 3 0.5 6 0.5 -3 0.5 -1 0.5 -1 0.5 0 0.5 2.5 0.5 -1.5 0.5 0.5 0.5 -0.5 0.5 2 0.5 2.5 0.5 -5 0.5 -4.5 0.5 11 0.5 -3.5 0.5 1.5 0.5 -10.5 0.5 0.5 0.5 5 0.5 5 0.5 -8 0.5 5 0.5 3 0.5 -4.5 0.5 1 0.5 -6.5 0.5 11.5 0.5 -2 0.5 -2 0.5 0.5 0.5 -3 0.5 12.5 0.5 -9 0.5 4.5 0.5 -4.5 0.5 -0.5 0.5 -3.5 0.5 2 0.5 0 0.5 1.5 0.5 1 0.5 1 0.5 -1.5 0.5 -5.5 0.5 4.5 0.5 -5 0.5 4.5 0.5 -1.5 0.5 -8 0.5 -2.5 0.5 14 0.5 -9.5 0.5 3.5 0.5 -2 0.5 -7 0.5 7.5 0.5 -5 0.5 8.5 0.5 -6 0.5 8.5 0.5 -5 0.5 -6.5 0.5 8.5 0.5 -17 0.5 19.5 0.5 -9 0.5 -2.5 0.5 -3 0.5 1 0.5 1 0.5 -4.5 0.5 3 0.5 2 0.5 -6 0.5 7.5 0.5 6.5 0.5 -7.5 0.5 -5 0.5 2 0.5 2.5 0.5 -0.5 0.5 4.5 0.5 -9 0.5 -2 0.5 6 0.5 -2.5 0.5 7.5 0.5 -8.5 0.5 4 0.5 -3 0.5 2 0.5 9.5 0.5 -17.5 0.5 15 0.5 -0.5 0.5 0 0.5 -2 0.5 -1.5 0.5 -2 0.5 -1.5 0.5 -3 0.5 14 0.5 -4 0.5 -7.5 0.5 1 0.5 9.5 0.5 -9 0.5 1 0.5 2 0.5 -8.5 0.5 12 0.5 6 0.5 -10 0.5 -5 0.5 2.5 0.5 -4 0.5 8 0.5 3.5 0.5 -14 0.5 2 0.5 7.5 0.5 -0.5 0.5 -4.5 0.5 9 0.5 -9 0.5 -1 0.5 0 0.5 11 0.5 -7.5 0.5 7 0.5 0 0.5 -5 0.5 -1 0.5 4.5 0.5 0.5 0.5 -10.5 0.5 8 0.5 -9.5 0.5 8 0.5 1.5 0.5 -2.5 0.5 -3 0.5 4.5 0.5 2 0.5 -2 0.5 -10.5 0.5 4 0.5 -1.5 0.5 7 0.5 -4 0.5 7 0.5 -8.5 0.5 -4.5 0.5 9 0.5 -12 0.5 8 0.5 1 0.5 -4.5 0.5 9 0.5 -9 0.5 5 0.5 -6 0.5 0 0.5 4.5 0.5 2 0.5 -1.5 0.5 -1.5 0.5 -10.5 0.5 5.5 0.5 1.5 0.5 -0.5 0.5 -0.5 0.5 8 0.5 -5 0.5 2 0.5 3 0.5 -9.5 0.5 9 0.5 -20.5 0.5 10.5 0.5 -1 0.5 1.5 0.5 -1 0.5 -3 0.5 17.5 0.5 -6.5 0.5 6 0.5 1.5 0.5 -0.5 0.5 0.5 0.5 -11 0.5 5.5 0.5 -4 0.5 -1 0.5 3 0.5 6.5 0.5 -2.5 0.5 1 0.5 -10.5 0.5 2 0.5 5.5 0.5 -2.5 0.5 10.5 0.5 -13 0.5 3.5 0.5 5.5 0.5 -1 0.5 -6.5 0.5 7 0.5 0 0.5 -8 0.5 -2.5 0.5 7.5 0.5 2 0.5 -8.5 0.5 3.5 0.5 1.5 0.5 -8 0.5 6 0.5 -7 0.5 1.5 0.5 -4 0.5 0.5 0.5 6.5 0.5 0 0.5 3.5 0.5 -5 0.5 6.5 0.5 -1 0.5 -6 0.5 -4.5 0.5 0 0.5 4.5 0.5 5 0.5 -2 0.5 6.5 0.5 -8 0.5 -2.5 0.5 -2.5 0.5 6.5 0.5 -2.5 0.5 -2.5 0.5 7 0.5 -5 0.5 3 0.5 -6.5 0.5 8 0.5 5.5 0.5 -5.5 0.5 0 0.5 -11 0.5 8 0.5 3 0.5 -2 0.5 -4 0.5 6 0.5 -1.5 0.5 7.5 0.5 -20.5 0.5 18 0.5 -8.5 0.5 2.5 0.5 -5 0.5 -5 0.5 9.5 0.5 3.5 0.5 -10 0.5 4 0.5 10 0.5 -5 0.5 5 0.5 -6.5 0.5 -4 0.5 13 0.5 -19.5 0.5 -0.5 0.5 5.5 0.5 4 0.5 1 0.5 -4.5 0.5 -2.5 0.5 5 0.5 -1.5 0.5 -1 0.5 4 0.5 -7 0.5 5 0.5 1.5 0.5 3 0.5 -11.5 0.5 8 0.5 0.5 0.5 -7.5 0.5 5.5 0.5 1.5 0.5 3.5 0.5 -4.5 0.5 1.5 0.5 4 0.5 -7.5 0.5 0.5 0.5 0.5 0.5 1.5 0.5 -6.5 0.5 5 0.5 -3 0.5 4 0.5 -4.5 0.5 -6.5 0.5 1.5 0.5 5.5 0.5 6.5 0.5 -6 0.5 -8.5 0.5 8.5 0.5 8 0.5 -13 0.5 13 0.5 -3.5 0.5 -9 0.5 8.5 0.5 -9 0.5 5 0.5 -5 0.5 3 0.5 -1.5 0.5 6.5 0.5 -7 0.5 -1 0.5 8 0.5 -11.5 0.5 7 0.5 5 0.5 -10 0.5 -2.5 0.5 -1.5 0.5 13 0.5 -12 0.5 10.5 0.5 -5 0.5 2.5 0.5 0.5 0.5 -8 0.5 14 0.5 -3 0.5 -2.5 0.5 -7 0.5 1 0.5 4.5 0.5 -9.5 0.5 6.5 0.5 7.5 0.5 -6.5 0.5 -5 0.5 8 0.5 -10 0.5 12.5 0.5 -8.5 0.5 9 0.5 -4 0.5 -1 0.5 3 0.5 -9.5 0.5 7 0.5 4.5 0.5 -5.5 0.5 3 0.5 -14 0.5 5.5 0.5 -2.5 0.5 4 0.5 2.5 0.5 4 0.5 -7.5 0.5 -5.5 0.5 1.5 0.5 14.5 0.5 -16 0.5 11.5 0.5 -5.5 0.5 -3 0.5 10.5 0.5 -10 0.5 2.5 0.5 -0.5 0.5 -0.5 0.5 2 0.5 -6 0.5 6 0.5 -2.5 0.5 7.5 0.5 -14.5 0.5 7.5 0.5 -1.5 0.5 -3 0.5 7.5 0.5 -4.5 0.5 5 0.5 -2.5 0.5 1.5 0.5 2.5 0.5 -4 0.5 0 0.5 -9 0.5 7.5 0.5 1.5 0.5 2.5 0.5 -3.5 0.5 -2 0.5 4 0.5 -4 0.5 -1.5 0.5 6 0.5 -2.5 0.5 -6 0.5 12.5 0.5 -10.5 0.5 -4 0.5 5 0.5 -3.5 0.5 6.5 0.5 -3 0.5 8.5 0.5 3.5 0.5 -14 0.5 0 0.5 10 0.5 -6 0.5 0.5 0.5 3 0.5 -3.5 0.5 3 0.5 -4.5 0.5 -6.5 0.5 -1.5 0.5 10.5 0.5 -0.5 0.5 2 0.5 4 0.5 -9.5 0.5 3 0.5 2.5 0.5 -1 0.5 -9.5 0.5 6 0.5 -4.5 0.5 3 0.5 7 0.5 1 0.5 -5 0.5 2.5 0.5 5 0.5 -5.5 0.5 -0.5 0.5 -1.5 0.5 1 0.5 2 0.5 -8 0.5 12.5 0.5 -15 0.5 1.5 0.5 0.5 0.5 9 0.5 -4.5 0.5 -2.5 0.5 4.5 0.5 2 0.5 0.5 0.5 0 0.5 -12.5 0.5 7 0.5 7 0.5 -3 0.5 -12.5 0.5 18 0.5 -7.5 0.5 1.5 0.5 2 0.5 -0.5 0.5 -2 0.5 -1 0.5 -4 0.5 2 0.5 2 0.5 1 0.5 5 0.5 -3.5 0.5 -1.5 0.5 1 0.5 -2.5 0.5 -5 0.5 7.5 0.5 3 0.5 -14 0.5 11 0.5 -4 0.5 0 0.5 2 0.5 -1 0.5 -2.5 0.5 -7 0.5 10 0.5 -9 0.5 5.5 0.5 8 0.5 -2 0.5 -11.5 0.5 13 0.5 -3 0.5 -6.5 0.5 1.5 0.5 2 0.5 7 0.5 -10 0.5 11.5 0.5 -8 0.5 -7.5 0.5 3 0.5 5 0.5 -10 0.5 8 0.5 -3 0.5 4.5 0.5 2.5 0.5 -3 0.5 -6.5 0.5 -3 0.5 2 0.5 6 0.5 -2.5 0.5 5 0.5 -14 0.5 7 0.5 0 0.5 4.5 0.5 -7 0.5 -2 0.5 6.5 0.5 3 0.5 -11.5 0.5 10.5 0.5 -4 0.5 -6.5 0.5 6 0.5 -4.5 0.5 0 0.5 -2 0.5 1.5 0.5 2.5 0.5 -7 0.5 8 0.5 1 0.5 -3 0.5 3 0.5 2 0.5 -1.5 0.5 8 0.5 -14 0.5 8.5 0.5 -3 0.5 0.5 0.5 -7 0.5 1.5 0.5 2.5 0.5 -3.5 0.5 0.5 0.5 -5.5 0.5 8.5 0.5 1 0.5 4 0.5 -4 0.5 3 0.5 -7 0.5 -3 0.5 3 0.5 6 0.5 1.5 0.5 0.5 0.5 1.5 0.5 -8 0.5 -2.5 0.5 3 0.5 -0.5 0.5 -7 0.5 9.5 0.5 -4 0.5 1.5 0.5 -8 0.5 16 0.5 -14 0.5 12.5 0.5 -7.5 0.5 0.5 0.5 -1.5 0.5 0 0.5 -7 0.5 8 0.5 -4.5 0.5 -2 0.5 10.5 0.5 1 0.5 -6 0.5 8 0.5 -9 0.5 1.5 0.5 -1.5 0.5 -2.5 0.5 8 0.5 -4.5 0.5 -5 0.5 0.5 0.5 5.5 0.5 -6 0.5 -6.5 0.5 16 0.5 3 0.5 -15.5 0.5 12 0.5 -8.5 0.5 9.5 0.5 -5 0.5 4 0.5 2 0.5 -9.5 0.5 5 0.5 -2.5 0.5 -7 0.5 8.5 0.5 -3 0.5 -1.5 0.5 2.5 0.5 8 0.5 -16 0.5 6.5 0.5 6.5 0.5 -6.5 0.5 9 0.5 -2.5 0.5 -4 0.5 0 0.5 -4.5 0.5 -1.5 0.5 4 0.5 6.5 0.5 1 0.5 -3.5 0.5 -2 0.5 6 0.5 -12 0.5 14 0.5 -8.5 0.5 7.5 0.5 -8.5 0.5 2.5 0.5 -2 0.5 11.5 0.5 -14.5 0.5 -2.5 0.5 6 0.5 0.5 0.5 1.5 0.5 -12 0.5 14.5 0.5 -9 0.5 0 0.5 -2 0.5 7.5 0.5 -1 0.5 3.5 0.5 -6.5 0.5 2.5 0.5 4 0.5 -8 0.5 9.5 0.5 -1.5 0.5 5 0.5 -6 0.5 2.5 0.5 -6 0.5 8 0.5 -7.5 0.5 1 0.5 -5 0.5 13 0.5 -1 0.5 0 0.5 5 0.5 -10 0.5 -1 0.5 -10 0.5 7.5 0.5 4 0.5 -1 0.5 -1.5 0.5 2.5 0.5 -3.5 0.5 2.5 0.5 2.5 0.5 -1 0.5 3.5 0.5 0.5 0.5 -4.5 0.5 0.5 0.5 1.5 0.5 -4 0.5 2 0.5 -2.5 0.5 4.5 0.5 -7 0.5 0 0.5 9.5 0.5 -6 0.5 -1 0.5 1.5 0.5 -0.5 0.5 3.5 0.5 -14 0.5 1 0.5 4 0.5 1 0.5 4 0.5 -3 0.5 5 0.5 -3 0.5 -2.5 0.5 3.5 0.5 -1.5 0.5 1 0.5 7 0.5 -16.5 0.5 7.5 0.5 2 0.5 2 0.5 -8 0.5 7 0.5 -6 0.5 9 0.5 -0.5 0.5 -13 0.5 11.5 0.5 2.5 0.5 -11.5 0.5 -1.5 0.5 -7 0.5 13.5 0.5 -4 0.5 7.5 0.5 -3 0.5 -5.5 0.5 7 0.5 -14 0.5 9.5 0.5 -6 0.5 2 0.5 -0.5 0.5 4 0.5 5 0.5 -1 0.5 -5 0.5 -4.5 0.5 4 0.5 -4.5 0.5 12 0.5 -6.5 0.5 -5 0.5 3 0.5 -6 0.5 6.5 0.5 0.5 0.5 -3.5 0.5 0.5 0.5 -1.5 0.5 -4 0.5 5 0.5 10 0.5 -7.5 0.5 1.5 0.5 -7.5 0.5 3 0.5 3.5 0.5 0.5 0.5 0 0.5 -6 0.5 1 0.5 -6.5 0.5 2 0.5 4 0.5 3.5 0.5 2.5 0.5 2.5 0.5 -9 0.5 1 0.5 6 0.5 -1 0.5 -1 0.5 -2.5 0.5 0 0.5 -1.5 0.5 8.5 0.5 -3 0.5 -1.5 0.5 0 0.5 -7.5 0.5 2.5 0.5 -5 0.5 3 0.5 -0.5 0.5 1 0.5 -2.5 0.5 4.5 0.5 0.5 0.5 1.5 0.5 -0.5 0.5 -3.5 0.5 -2.5 0.5 -2 0.5 5.5 0.5 1 0.5 -4.5 0.5 7 0.5 -8.5 0.5 5 0.5 2 0.5 4 0.5 -5.5 0.5 -0.5 0.5 -4.5 0.5 -0.5 0.5 -0.5 0.5 2 0.5 6 0.5 -6.5 0.5 -1 0.5 4.5 0.5 3 0.5 0 0.5 -5.5 0.5 4.5 0.5 6 0.5 -12.5 0.5 6.5 0.5 -9 0.5 17 0.5 -7.5 0.5 0 0.5 1 0.5 -4.5 0.5 -1 0.5 -4 0.5 4 0.5 -3 0.5 6.5 0.5 -8 0.5 12 0.5 0 0.5 -11 0.5 0 0.5 7.5 0.5 -2 0.5 -10 0.5 4 0.5 1 0.5 9 0.5 -7.5 0.5 5 0.5 -1.5 0.5 2.5 0.5 -11.5 0.5 13 0.5 -4.5 0.5 -6 0.5 0 0.5 2 0.5 -0.5 0.5 -6.5 0.5 10.5 0.5 -12.5 0.5 12 0.5 -4.5 0.5 2 0.5 -4.5 0.5 3 0.5 -3 0.5 14.5 0.5 -17.5 0.5 7 0.5 -2.5 0.5 -3 0.5 8 0.5 2 0.5 -9.5 0.5 5 0.5 -7.5 0.5 0.5 0.5 6.5 0.5 -2.5 0.5 11 0.5 -11 0.5 3.5 0.5 -7.5 0.5 -1 0.5 7 0.5 -0.5 0.5 -6 0.5 11 0.5 -10 0.5 10.5 0.5 -5 0.5 -2.5 0.5 -4.5 0.5 13 0.5 -8.5 0.5 8.5 0.5 -5 0.5 5 0.5 -5 0.5 5.5 0.5 -7.5 0.5 -0.5 0.5 7.5 0.5 -14.5 0.5 8.5 0.5 -1.5 0.5 5 0.5 1.5 0.5 -9 0.5 2 0.5 0.5 0.5 -3 0.5 6 0.5 -3.5 0.5 0.5 0.5 2.5 0.5 -8 0.5 -0.5 0.5 1 0.5 3.5 0.5 6.5 0.5 -9 0.5 9.5 0.5 -2 0.5 -11.5 0.5 13.5 0.5 -3 0.5 -3.5 0.5 -6 0.5 5.5 0.5 6 0.5 1 0.5 -2.5 0.5 1.5 0.5 -3 0.5 -2.5 0.5 0.5 0.5 -2 0.5 7.5 0.5 -12 0.5 6.5 0.5 -7.5 0.5 -0.5 0.5 7 0.5 2.5 0.5 5 0.5 -9.5 0.5 1 0.5 4.5 0.5 5.5 0.5 -3.5 0.5 -6.5 0.5 15.5 0.5 -8.5 0.5 -4 0.5 -6 0.5 -0.5 0.5 4 0.5 -3.5 0.5 4.5 0.5 3.5 0.5 3.5 0.5 -20.5 0.5 11.5 0.5 4.5 0.5 -4.5 0.5 -2.5 0.5 4 0.5 -5.5 0.5 9 0.5 3.5 0.5 -6.5 0.5 -11.5 0.5 11.5 0.5 -2 0.5 -4.5 0.5 4.5 0.5 0 0.5 -7 0.5 11 0.5 -9.5 0.5 7 0.5 -1.5 0.5 -3.5 0.5 4.5 0.5 -11 0.5 15 0.5 -8 0.5 4.5 0.5 0 0.5 0.5 0.5 -4 0.5 3.5 0.5 1.5 0.5 -4 0.5 -0.5 0.5 4.5 0.5 -0.5 0.5 -0.5 0.5 -3.5 0.5 6.5 0.5 -3.5 0.5 -3 0.5 4 0.5 5.5 0.5 -9 0.5 4 0.5 5 0.5 0 0.5 -8.5 0.5 4.5 0.5 -9.5 0.5 10 0.5 6.5 0.5 -5 0.5 -15 0.5 8.5 0.5 4.5 0.5 -10.5 0.5 3.5 0.5 -0.5 0.5 -5 0.5 5.5 0.5 -3.5 0.5 -6.5 0.5 12.5 0.5 0 0.5 -3.5 0.5 0 0.5 -2 0.5 0.5 0.5 1 0.5 -1.5 0.5 4.5 0.5 6.5 0.5 -16 0.5 9.5 0.5 -3.5 0.5 -6.5 0.5 6.5 0.5 -2 0.5 4.5 0.5 -1.5 0.5 -5.5 0.5 5 0.5 -6 0.5 6 0.5 -3.5 0.5 5.5 0.5 -14 0.5 10.5 0.5 0 0.5 -13 0.5 13 0.5 -7.5 0.5 7 0.5 6.5 0.5 -1.5 0.5 6.5 0.5 -6.5 0.5 -2.5 0.5 -6.5 0.5 9 0.5 -13 0.5 4 0.5 0.5 0.5 5 0.5 -6.5 0.5 -6 0.5 5.5 0.5 0.5 0.5 6 0.5 -4.5 0.5 8 0.5 -14.5 0.5 9 0.5 -6.5 0.5 -5 0.5 9.5 0.5 0 0.5 11.5 0.5 -10 0.5 -4.5 0.5 1.5 0.5 -6 0.5 12 0.5 -6 0.5 -2 0.5 0.5 0.5 8.5 0.5 -6.5 0.5 4 0.5 -4.5 0.5 -2.5 0.5 3 0.5 -1 0.5 -4.5 0.5 0.5 0.5 6.5 0.5 -0.5 0.5 3.5 0.5 -4 0.5 -8.5 0.5 5.5 0.5 -0.5 0.5 2 0.5 4 0.5 -1.5 0.5 -1 0.5 -12 0.5 2 0.5 4.5 0.5 1.5 0.5 -3 0.5 1.5 0.5 -2.5 0.5 3.5 0.5 2.5 0.5 1.5 0.5 -7 0.5 -3 0.5 12 0.5 -6.5 0.5 0.5 0.5 2.5 0.5 7 0.5 -9 0.5 0 0.5 -3 0.5 1.5 0.5 4 0.5 -4.5 0.5 5.5 0.5 0 0.5 0.5 0.5 1 0.5 -5 0.5 -11.5 0.5 15 0.5 3 0.5 -7.5 0.5 4.5 0.5 -10 0.5 8 0.5 6.5 0.5 -8.5 0.5 1 0.5 -1 0.5 -1 0.5 5.5 0.5 -2.5 0.5 -5 0.5 1.5 0.5 1.5 0.5 3.5 0.5 -3 0.5 2 0.5 7 0.5 -15 0.5 13 0.5 -8 0.5 0.5 0.5 -2.5 0.5 -4.5 0.5 4.5 0.5 2.5 0.5 -3.5 0.5 -5 0.5 7.5 0.5 -1.5 0.5 3.5 0.5 -5 0.5 3 0.5 -4 0.5 10 0.5 -2.5 0.5 4 0.5 -2.5 0.5 -7 0.5 1.5 0.5 -3 0.5 14 0.5 -9.5 0.5 -1 0.5 -4.5 0.5 13 0.5 -9 0.5 5.5 0.5 1 0.5 -7 0.5 -0.5 0.5 -1 0.5 4 0.5 -3 0.5 -7 0.5 9 0.5 -2 0.5 3 0.5 -1.5 0.5 -2 0.5 -1 0.5 6 0.5 -5.5 0.5 -2 0.5 9 0.5 -2 0.5 -7.5 0.5 2 0.5 4 0.5 1.5 0.5 5.5 0.5 -6.5 0.5 4 0.5 0 0.5 -9 0.5 11 0.5 -15.5 0.5 6 0.5 3.5 0.5 -11 0.5 12 0.5 3 0.5 -3 0.5 -5.5 0.5 -6 0.5 8 0.5 -3 0.5 -1 0.5 8.5 0.5 -3.5 0.5 -4.5 0.5 0.5 0.5 4.5 0.5 2 0.5 -6.5 0.5 5 0.5 -1 0.5 -3 0.5 1.5 0.5 5 0.5 -8 0.5 5.5 0.5 -4 0.5 4.5 0.5 -10 0.5 7 0.5 1 0.5 -4 0.5 3 0.5 0.5 0.5 -1 0.5 -3 0.5 8.5 0.5 -5 0.5 -3.5 0.5 6.5 0.5 1.5 0.5 -9 0.5 4 0.5 1 0.5 -6 0.5 3 0.5 8 0.5 -11.5 0.5 -0.5 0.5 10.5 0.5 -7 0.5 2 0.5 -7 0.5 5.5 0.5 4 0.5 2 0.5 -9 0.5 -0.5 0.5 11 0.5 -5 0.5 1 0.5 -7 0.5 1.5 0.5 1 0.5 5.5 0.5 1.5 0.5 -3.5 0.5 -7.5 0.5 8.5 0.5 -3 0.5 6 0.5 -2.5 0.5 0 0.5 -9.5 0.5 3.5 0.5 3 0.5 3 0.5 2 0.5 -3 0.5 -4 0.5 7 0.5 -6 0.5 -3.5 0.5 12 0.5 -5.5 0.5 1.5 0.5 -0.5 0.5 -9 0.5 8 0.5 -2 0.5 3 0.5 -6.5 0.5 5 0.5 -2.5 0.5 4.5 0.5 0 0.5 -2 0.5 6.5 0.5 -2.5 0.5 -6 0.5 -1.5 0.5 4 0.5 -4 0.5 -2.5 0.5 -1.5 0.5 -5 0.5 6.5 0.5 3 0.5 7 0.5 -11 0.5 -8.5 0.5 4.5 0.5 3.5 0.5 0 0.5 -4 0.5 1 0.5 8.5 0.5 -8.5 0.5 1 0.5 4.5 0.5 -1.5 0.5 1.5 0.5 -3 0.5 -7 0.5 6 0.5 -5.5 0.5 11.5 0.5 -5.5 0.5 -4 0.5 8 0.5 -7 0.5 2.5 0.5 -0.5 0.5 -0.5 0.5 -1 0.5 3.5 0.5 2.5 0.5 -8.5 0.5 1.5 0.5 -3 0.5 6.5 0.5 -1.5 0.5 -3 0.5 -1 0.5 1.5 0.5 4.5 0.5 -9 0.5 6.5 0.5 -6 0.5 5.5 0.5 -1.5 0.5 -2.5 0.5 2.5 0.5 -2 0.5 3.5 0.5 -4 0.5 0.5 0.5 -3 0.5 6.5 0.5 -2.5 0.5 -4 0.5 2.5 0.5 -6 0.5 6.5 0.5 -9 0.5 4.5 0.5 2 0.5 -6 0.5 6 0.5 -2 0.5 -3.5 0.5 -1.5 0.5 5 0.5 0.5 0.5 -7.5 0.5 2.5 0.5 3 0.5 1 0.5 -6 0.5 3 0.5 1.5 0.5 -3 0.5 6 0.5 -0.5 0.5 1.5 0.5 -1 0.5 1 0.5 -5.5 0.5 13 0.5 -9.5 0.5 1 0.5 5.5 0.5 -11 0.5 0.5 0.5 -3.5 0.5 8.5 0.5 1 0.5 -10 0.5 1 0.5 7 0.5 -3 0.5 3 0.5 0.5 0.5 -1 0.5 -3 0.5 5.5 0.5 -8 0.5 4.5 0.5 -8 0.5 6 0.5 -10 0.5 2.5 0.5 1.5 0.5 13.5 0.5 -21 0.5 8.5 0.5 -2.5 0.5 -1 0.5 5.5 0.5 -9 0.5 7.5 0.5 5.5 0.5 -2.5 0.5 7.5 0.5 -3 0.5 -3 0.5 0 0.5 5.5 0.5 -7 0.5 -4.5 0.5 -3 0.5 19 0.5 -17 0.5 -0.5 0.5 9 0.5 4 0.5 -4 0.5 4.5 0.5 -8.5 0.5 0.5 0.5 0 0.5 4.5 0.5 1.5 0.5 -6.5 0.5 1.5 0.5 4.5 0.5 -1 0.5 -10.5 0.5 4 0.5 -5 0.5 11 0.5 -1.5 0.5 -6 0.5 3 0.5 0.5 0.5 4 0.5 -9.5 0.5 1 0.5 3 0.5 -3 0.5 0.5 0.5 -4.5 0.5 -0.5 0.5 10 0.5 -9 0.5 4 0.5 1.5 0.5 4.5 0.5 -8 0.5 -1.5 0.5 7.5 0.5 -2 0.5 -7.5 0.5 6.5 0.5 1.5 0.5 -0.5 0.5 -7 0.5 4.5 0.5 0 0.5 5.5 0.5 -2.5 0.5 -5 0.5 1.5 0.5 -3.5 0.5 -4 0.5 2 0.5 7.5 0.5 -6 0.5 3.5 0.5 -2 0.5 4.5 0.5 -4.5 0.5 3 0.5 1 0.5 0 0.5 -5.5 0.5 3 0.5 3.5 0.5 -3.5 0.5 5 0.5 -9 0.5 11.5 0.5 -14.5 0.5 7.5 0.5 2 0.5 -8 0.5 12 0.5 -8.5 0.5 6.5 0.5 -11 0.5 9 0.5 -9 0.5 4.5 0.5 0 0.5 8 0.5 -10 0.5 4.5 0.5 -8 0.5 4 0.5 -4 0.5 0.5 0.5 1 0.5 1 0.5 2.5 0.5 -2.5 0.5 -2.5 0.5 1 0.5 0.5 0.5 0.5 0.5 8.5 0.5 -10 0.5 -1 0.5 3.5 0.5 -0.5 0.5 -5.5 0.5 -2 0.5 4.5 0.5 -4 0.5 6.5 0.5 10 0.5 -8.5 0.5 -7.5 0.5 1.5 0.5 -4 0.5 3 0.5 11.5 0.5 -8.5 0.5 -2 0.5 -2.5 0.5 12 0.5 -12 0.5 7.5 0.5 -13 0.5 20 0.5 -10.5 0.5 11 0.5 -6 0.5 2.5 0.5 -5 0.5 -0.5 0.5 2 0.5 1 0.5 1.5 0.5 -2 0.5 3 0.5 4 0.5 -16.5 0.5 3.5 0.5 12 0.5 -3.5 0.5 1 0.5 -10.5 0.5 8 0.5 -2.5 0.5 -2.5 0.5 -5 0.5 1.5 0.5 9.5 0.5 0 0.5 -8 0.5 4 0.5 -1.5 0.5 -3 0.5 1.5 0.5 1.5 0.5 -7.5 0.5 12.5 0.5 -1.5 0.5 0.5 0.5 -8.5 0.5 9 0.5 -4.5 0.5 2 0.5 -0.5 0.5 5 0.5 -10.5 0.5 13.5 0.5 -6.5 0.5 0 0.5 -4.5 0.5 0 0.5 1.5 0.5 0.5 0.5 -1 0.5 3.5 0.5 5 0.5 -7 0.5 0 0.5 0 0.5 0 0.5 6 0.5 -8.5 0.5 7 0.5 5 0.5 -10 0.5 -3.5 0.5 2 0.5 3.5 0.5 -9 0.5 6.5 0.5 -6.5 0.5 8 0.5 6.5 0.5 -10.5 0.5 -7 0.5 14 0.5 0 0.5 -13 0.5 3.5 0.5 6.5 0.5 0 0.5 -4.5 0.5 11 0.5 -11.5 0.5 3.5 0.5 -3.5 0.5 -4 0.5 2.5 0.5 13 0.5 -15 0.5 0 0.5 7.5 0.5 -6 0.5 7 0.5 -13 0.5 11 0.5 0.5 0.5 7.5 0.5 -12 0.5 -1 0.5 3 0.5 8 0.5 -14 0.5 6 0.5 6 0.5 -7.5 0.5 -0.5 0.5 0 0.5 3 0.5 -0.5 0.5 -4 0.5 -8 0.5 11.5 0.5 2 0.5 -3 0.5 2.5 0.5 -10.5 0.5 7 0.5 1.5 0.5 3 0.5 -2 0.5 -3 0.5 2 0.5 6 0.5 -14.5 0.5 4.5 0.5 9 0.5 -1 0.5 -5 0.5 -0.5 0.5 0.5 0.5 -7.5 0.5 2 0.5 8.5 0.5 -9 0.5 3.5 0.5 2.5 0.5 0.5 0.5 5.5 0.5 8.5 0.5 -11.5 0.5 4.5 0.5 -9 0.5 1.5 0.5 1.5 0.5 0.5 0.5 2.5 0.5 -5 0.5 8 0.5 -9.5 0.5 5 0.5 -5 0.5 6.5 0.5 -4.5 0.5 0 0.5 1 0.5 -4.5 0.5 8 0.5 -3.5 0.5 -9.5 0.5 6.5 0.5 0.5 0.5 8 0.5 -5 0.5 -20 0.5 21 0.5 -1.5 0.5 -1.5 0.5 -8.5 0.5 9 0.5 -4.5 0.5 4.5 0.5 6.5 0.5 -9.5 0.5 1 0.5 3.5 0.5 -2.5 0.5 11 0.5 -7.5 0.5 0 0.5 6 0.5 -6 0.5 0 0.5 -1 0.5 3.5 0.5 -2.5 0.5 6.5 0.5 -5 0.5 -3 0.5 8 0.5 -14 0.5 10.5 0.5 -3.5 0.5 -3.5 0.5 -7.5 0.5 16.5 0.5 -6.5 0.5 1.5 0.5 -6.5 0.5 0.5 0.5 -1.5 0.5 12 0.5 -16.5 0.5 13 0.5 -12.5 0.5 10 0.5 -6.5 0.5 0.5 0.5 5.5 0.5 6.5 0.5 -7.5 0.5 7.5 0.5 -6.5 0.5 2 0.5 3 0.5 -3.5 0.5 -5 0.5 6 0.5 1.5 0.5 -3.5 0.5 -2 0.5 2 0.5 -4.5 0.5 14.5 0.5 -15 0.5 8.5 0.5 -7 0.5 7 0.5 -1 0.5 -2.5 0.5 -5.5 0.5 5.5 0.5 5 0.5 -0.5 0.5 -1 0.5 -2.5 0.5 -3 0.5 7 0.5 0 0.5 -3 0.5 -3 0.5 7.5 0.5 -7 0.5 2 0.5 -0.5 0.5 -7 0.5 7.5 0.5 -8.5 0.5 2 0.5 3 0.5 -1.5 0.5 -2 0.5 9 0.5 -5 0.5 -7 0.5 3 0.5 9 0.5 -0.5 0.5 -7.5 0.5 9 0.5 1 0.5 -6.5 0.5 0.5 0.5 6.5 0.5 -13.5 0.5 7 0.5 7 0.5 -12 0.5 1 0.5 5.5 0.5 -5 0.5 -7.5 0.5 -3 0.5 17 0.5 -7 0.5 1 0.5 -1 0.5 -2 0.5 -1.5 0.5 -1.5 0.5 -4 0.5 0.5 0.5 -1.5 0.5 7.5 0.5 -6 0.5 7.5 0.5 9.5 0.5 -12.5 0.5 2 0.5 3.5 0.5 -9 0.5 4 0.5 -5 0.5 12 0.5 -1 0.5 -5 0.5 4.5 0.5 -5.5 0.5 8.5 0.5 -10 0.5 11.5 0.5 -5.5 0.5 -3.5 0.5 5 0.5 -5 0.5 1 0.5 3 0.5 -1.5 0.5 -9 0.5 15.5 0.5 -3.5 0.5 -7 0.5 3.5 0.5 -2 0.5 -2 0.5 5.5 0.5 7 0.5 -16.5 0.5 6 0.5 9 0.5 -13 0.5 6 0.5 -13.5 0.5 9 0.5 -5 0.5 10.5 0.5 -5.5 0.5 4.5 0.5 2 0.5 -1 0.5 0 0.5 -3.5 0.5 1 0.5 -5 0.5 -2 0.5 10.5 0.5 -1.5 0.5 1 0.5 -8.5 0.5 4 0.5 3.5 0.5 -2.5 0.5 -5.5 0.5 4 0.5 -2 0.5 9 0.5 -15 0.5 10.5 0.5 -5.5 0.5 -1 0.5 6.5 0.5 -1 0.5 4 0.5 -9 0.5 5.5 0.5 -7 0.5 4.5 0.5 2.5 0.5 -9.5 0.5 9 0.5 -5.5 0.5 14 0.5 -8.5 0.5 3.5 0.5 -1.5 0.5 -3.5 0.5 -3.5 0.5 5 0.5 -4.5 0.5 10.5 0.5 -6.5 0.5 -10.5 0.5 18.5 0.5 -8 0.5 1 0.5 0.5 0.5 11 0.5 -10 0.5 -5 0.5 8 0.5 -4 0.5 -4 0.5 0 0.5 -2.5 0.5 4.5 0.5 8 0.5 -8 0.5 7.5 0.5 -1 0.5 -1 0.5 -9.5 0.5 0.5 0.5 3 0.5 1 0.5 0.5 0.5 1 0.5 -6 0.5 3 0.5 -10.5 0.5 11.5 0.5 2 0.5 -16.5 0.5 10 0.5 -4.5 0.5 15.5 0.5 -15.5 0.5 4 0.5 1.5 0.5 3.5 0.5 -1.5 0.5 -3 0.5 6 0.5 -3 0.5 -1.5 0.5 8.5 0.5 -7 0.5 1 0.5 -2.5 0.5 0.5 0.5 -4 0.5 1.5 0.5 11 0.5 -12.5 0.5 6 0.5 5.5 0.5 -11.5 0.5 -4 0.5 5 0.5 2 0.5 0.5 0.5 0.5 0.5 0 0.5 1 0.5 -1.5 0.5 4 0.5 -6 0.5 8" fill="none" stroke="#0000ff" stroke-width="6.5" stroke-linejoin="round" stroke-linecap="round"/>
<path d="M367,3225l0.5 -35 0.5 -14.5 0.5 -9.5 0.5 -11 0.5 -10.5 0.5 2.5 0.5 -9 0.5 -14 0.5 -1 0.5 -1 0.5 0.5 0.5 1.5 0.5 -6.5 0.5 -5 0.5 2 0.5 -5.5 0.5 0.5 0.5 -5.5 0.5 -4.5 0.5 10 0.5 -8.5 0.5 0.5 0.5 -4.5 0.5 -1.5 0.5 -1 0.5 4 0.5 1 0.5 -4 0.5 -6.5 0.5 14 0.5 -9.5 0.5 -1.5 0.5 -8 0.5 0.5 0.5 2 0.5 -12 0.5 3.5 0.5 4.5 0.5 8 0.5 -9 0.5 -7 0.5 -2.5 0.5 8.5 0.5 -7.5 0.5 1 0.5 9.5 0.5 -9.5 0.5 -3 0.5 -2 0.5 7.5 0.5 0 0.5 -9.5 0.5 -4 0.5 5 0.5 6 0.5 -4.5 0.5 -8 0.5 5.5 0.5 1 0.5 -4.5 0.5 0 0.5 -1 0.5 -2.5 0.5 -1.5 0.5 -3 0.5 0 0.5 -3 0.5 9 0.5 0 0.5 -2.5 0.5 1.5 0.5 -2 0.5 -3.5 0.5 3 0.5 -3 0.5 0 0.5 -7.5 0.5 6 0.5 4 0.5 -3.5 0.5 -3 0.5 -4 0.5 3 0.5 9 0.5 -9.5 0.5 6.5 0.5 -7 0.5 7 0.5 -7.5 0.5 4 0.5 1 0.5 -0.5 0.5 -6 0.5 2.5 0.5 -2.5 0.5 2.5 0.5 -1 0.5 -1 0.5 2.5 0.5 -7.5 0.5 0.5 0.5 0 0.5 0.5 0.5 -2 0.5 6 0.5 -7.5 0.5 12 0.5 -9 0.5 4 0.5 -10 0.5 2.5 0.5 2 0.5 7 0.5 -8 0.5 5.5 0.5 -9.5 0.5 9 0.5 -9.5 0.5 -4.5 0.5 -2 0.5 9 0.5 -1.5 0.5 1.5 0.5 -1.5 0.5 1.5 0.5 4 0.5 -8 0.5 2 0.5 -4 0.5 -6 0.5 6 0.5 8 0.5 -10 0.5 12 0.5 -8 0.5 -1 0.5 2 0.5 -3.5 0.5 0.5 0.5 5.5 0.5 -8.5 0.5 2.5 0.5 -5 0.5 5.5 0.5 13 0.5 -9 0.5 -9.5 0.5 -4 0.5 9 0.5 0 0.5 -5 0.5 7 0.5 -5 0.5 0.5 0.5 0 0.5 3 0.5 -7 0.5 -1.5 0.5 9.5 0.5 -6.5 0.5 -4.5 0.5 6 0.5 -3.5 0.5 2.5 0.5 12 0.5 -6 0.5 -10.5 0.5 -3 0.5 5.5 0.5 -4 0.5 5 0.5 -0.5 0.5 1.5 0.5 -2.5 0.5 -6 0.5 4.5 0.5 0.5 0.5 0 0.5 4.5 0.5 -9.5 0.5 3 0.5 -2 0.5 -1 0.5 6.5 0.5 -5 0.5 9.5 0.5 -19 0.5 17 0.5 -7.5 0.5 -5 0.5 6 0.5 -0.5 0.5 3 0.5 1.5 0.5 -8.5 0.5 4 0.5 1.5 0.5 -0.5 0.5 -3 0.5 6.5 0.5 -5 0.5 -7 0.5 7 0.5 -3.5 0.5 0 0.5 5 0.5 -0.5 0.5 -2 0.5 0 0.5 2 0.5 -7 0.5 3.5 0.5 4.5 0.5 -8.5 0.5 -1 0.5 -0.5 0.5 7 0.5 -6.5 0.5 6 0.5 -6.5 0.5 1.5 0.5 0 0.5 -3.5 0.5 -2.5 0.5 8 0.5 -7.5 0.5 3 0.5 -6 0.5 -3 0.5 11 0.5 -5 0.5 -2.5 0.5 -0.5 0.5 -0.5 0.5 2.5 0.5 6.5 0.5 -10.5 0.5 -4.5 0.5 3 0.5 10 0.5 -9 0.5 7.5 0.5 -11 0.5 -1 0.5 -0.5 0.5 0 0.5 3.5 0.5 0 0.5 -8.5 0.5 3.5 0.5 0.5 0.5 1 0.5 7.5 0.5 0.5 0.5 -4.5 0.5 2 0.5 -7 0.5 4 0.5 -9.5 0.5 7.5 0.5 1.5 0.5 2 0.5 -4 0.5 -0.5 0.5 -4 0.5 -6 0.5 7.5 0.5 -5.5 0.5 6.5 0.5 0 0.5 -5 0.5 -2.5 0.5 6.5 0.5 -2 0.5 4 0.5 2.5 0.5 3.5 0.5 -3.5 0.5 -8.5 0.5 3 0.5 9.5 0.5 -12.5 0.5 2 0.5 7.5 0.5 -3.5 0.5 -6.5 0.5 4 0.5 -3.5 0.5 6.5 0.5 -5.5 0.5 0 0.5 0.5 0.5 -10 0.5 7.5 0.5 2.5 0.5 -1 0.5 -3.5 0.5 1.5 0.5 5.5 0.5 -2 0.5 -5 0.5 7.5 0.5 -4.5 0.5 -3.5 0.5 -5.5 0.5 9 0.5 -8.5 0.5 6.5 0.5 3.5 0.5 -2 0.5 -8.5 0.5 0 0.5 6 0.5 1 0.5 -5 0.5 -0.5 0.5 7.5 0.5 -1 0.5 -7 0.5 -2 0.5 4.5 0.5 -8 0.5 6.5 0.5 0 0.5 3.5 0.5 -3 0.5 -10 0.5 16 0.5 -5.5 0.5 -11.5 0.5 1 0.5 10 0.5 -8 0.5 9 0.5 -8.5 0.5 -1.5 0.5 14.5 0.5 -0.5 0.5 -9 0.5 8.5 0.5 -5.5 0.5 2 0.5 -3.5 0.5 4 0.5 3 0.5 -0.5 0.5 3 0.5 -0.5 0.5 -5.5 0.5 -4.5 0.5 5 0.5 -0.5 0.5 -4.5 0.5 -3 0.5 1 0.5 -3 0.5 3 0.5 4.5 0.5 4.5 0.5 -5 0.5 -3.5 0.5 -0.5 0.5 1 0.5 5 0.5 -5 0.5 -8.5 0.5 6.5 0.5 -7 0.5 3.5 0.5 3.5 0.5 -5 0.5 3 0.5 5.5 0.5 -9.5 0.5 8.5 0.5 -1.5 0.5 -1 0.5 -7.5 0.5 9 0.5 -4 0.5 1.5 0.5 -3.5 0.5 4.5 0.5 -12.5 0.5 8 0.5 1.5 0.5 8 0.5 -19.5 0.5 0.5 0.5 4.5 0.5 2 0.5 -5 0.5 6 0.5 -3 0.5 0.5 0.5 -6.5 0.5 8 0.5 -1 0.5 7 0.5 -3 0.5 2.5 0.5 -5.5 0.5 -5 0.5 6 0.5 -10 0.5 1 0.5 3 0.5 6 0.5 1 0.5 -12 0.5 5 0.5 6.5 0.5 -6.5 0.5 -4 0.5 7 0.5 4.5 0.5 -8.5 0.5 0.5 0.5 11 0.5 -5.5 0.5 -8 0.5 8 0.5 1.5 0.5 -7 0.5 2 0.5 2.5 0.5 -3 0.5 4.5 0.5 -1 0.5 -1.5 0.5 2.5 0.5 0 0.5 -10 0.5 -2.5 0.5 3.5 0.5 -3 0.5 3.5 0.5 5 0.5 2.5 0.5 -4 0.5 -0.5 0.5 -1.5 0.5 0 0.5 -5 0.5 -0.5 0.5 -2 0.5 4.5 0.5 3 0.5 -2 0.5 0.5 0.5 8 0.5 -6 0.5 0.5 0.5 -2.5 0.5 2.5 0.5 -6.5 0.5 7 0.5 -1 0.5 0.5 0.5 -10.5 0.5 5 0.5 7 0.5 -2.5 0.5 -9 0.5 1 0.5 -1.5 0.5 7 0.5 1.5 0.5 -5 0.5 -5.5 0.5 7.5 0.5 -9.5 0.5 13.5 0.5 -9 0.5 -0.5 0.5 -1 0.5 4.5 0.5 -0.5 0.5 1.5 0.5 -2.5 0.5 0 0.5 4.5 0.5 1 0.5 -4.5 0.5 0.5 0.5 1 0.5 -3.5 0.5 -1 0.5 -3 0.5 4 0.5 9 0.5 -10 0.5 -2 0.5 4.5 0.5 2.5 0.5 0 0.5 -6.5 0.5 6 0.5 -5 0.5 0 0.5 1 0.5 -2.5 0.5 1 0.5 6.5 0.5 -7.5 0.5 2 0.5 3 0.5 -1 0.5 0 0.5 -6 0.5 -0.5 0.5 4.5 0.5 -1.5 0.5 -5 0.5 7.5 0.5 2 0.5 4.5 0.5 -6.5 0.5 -1.5 0.5 -3.5 0.5 3.5 0.5 -2.5 0.5 8.5 0.5 -11.5 0.5 7.5 0.5 -5.5 0.5 -3.5 0.5 7 0.5 0 0.5 4.5 0.5 -2.5 0.5 -3.5 0.5 -1.5 0.5 -2 0.5 2.5 0.5 2 0.5 -4 0.5 0 0.5 4.5 0.5 -4.5 0.5 3 0.5 -1 0.5 -1.5 0.5 8 0.5 -2 0.5 -5 0.5 -6 0.5 6 0.5 -1 0.5 0.5 0.5 0.5 0.5 -2 0.5 12 0.5 -7 0.5 -3.5 0.5 2 0.5 -3 0.5 -1.5 0.5 -0.5 0.5 5.5 0.5 3 0.5 1.5 0.5 -5.5 0.5 0.5 0.5 -8.5 0.5 -1 0.5 6.5 0.5 4.5 0.5 1.5 0.5 -13 0.5 1 0.5 4.5 0.5 1.5 0.5 -4 0.5 3 0.5 5.5 0.5 -7 0.5 2.5 0.5 7.5 0.5 -6 0.5 1 0.5 -4 0.5 5.5 0.5 -10 0.5 11.5 0.5 -5 0.5 -4 0.5 0.5 0.5 1.5 0.5 -9 0.5 8 0.5 0.5 0.5 -5.5 0.5 5.5 0.5 3 0.5 -11.5 0.5 3 0.5 6 0.5 6.5 0.5 -9.5 0.5 2.5 0.5 -4.5 0.5 2 0.5 1.5 0.5 -4.5 0.5 4.5 0.5 11 0.5 -7 0.5 -6 0.5 1 0.5 -8 0.5 4.5 0.5 -1.5 0.5 -2 0.5 -4 0.5 14 0.5 -4 0.5 -6.5 0.5 7.5 0.5 0 0.5 -8.5 0.5 10 0.5 -16 0.5 14 0.5 -7 0.5 5 0.5 -9.5 0.5 8.5 0.5 4 0.5 0 0.5 -5 0.5 0.5 0.5 -4.5 0.5 2 0.5 1.5 0.5 -5.5 0.5 7 0.5 -3 0.5 2.5 0.5 1 0.5 -4.5 0.5 -3 0.5 6 0.5 -4 0.5 2 0.5 -0.5 0.5 -5.5 0.5 6.5 0.5 -7 0.5 4 0.5 2.5 0.5 0 0.5 -1 0.5 5.5 0.5 -8 0.5 1.5 0.5 3 0.5 -12.5 0.5 5 0.5 5 0.5 -2 0.5 -5.5 0.5 5 0.5 -0.5 0.5 -1.5 0.5 4 0.5 -10 0.5 7 0.5 -4 0.5 -1.5 0.5 -7 0.5 17 0.5 -20.5 0.5 10 0.5 -1.5 0.5 9.5 0.5 -10 0.5 1 0.5 1 0.5 2.5 0.5 1.5 0.5 -2 0.5 -12 0.5 6.5 0.5 4.5 0.5 0 0.5 2.5 0.5 -8 0.5 2 0.5 1.5 0.5 3.5 0.5 2 0.5 -5 0.5 5.5 0.5 -5.5 0.5 2 0.5 -9 0.5 1.5 0.5 10.5 0.5 -7 0.5 8.5 0.5 -2 0.5 -10 0.5 4.5 0.5 1.5 0.5 -3.5 0.5 -8.5 0.5 11.5 0.5 -2 0.5 -6 0.5 4.5 0.5 -1.5 0.5 10.5 0.5 -6.5 0.5 -4.5 0.5 3.5 0.5 -7.5 0.5 11.5 0.5 -3.5 0.5 5.5 0.5 -6 0.5 5 0.5 0 0.5 -4 0.5 -3.5 0.5 1.5 0.5 -1 0.5 -3 0.5 2 0.5 0 0.5 4.5 0.5 -5 0.5 1 0.5 5.5 0.5 -2.5 0.5 -4.5 0.5 -2 0.5 4.5 0.5 -4.5 0.5 6 0.5 -4 0.5 -5.5 0.5 9.5 0.5 -7 0.5 6 0.5 -2 0.5 0.5 0.5 -10 0.5 5 0.5 1.5 0.5 12 0.5 -6.5 0.5 -3 0.5 3 0.5 -6 0.5 0 0.5 -3.5 0.5 3.5 0.5 -10.5 0.5 1.5 0.5 12 0.5 0.5 0.5 -4 0.5 -3.5 0.5 7 0.5 -2.5 0.5 -8.5 0.5 5.5 0.5 1.5 0.5 -4.5 0.5 -6 0.5 7 0.5 3 0.5 1 0.5 -6 0.5 3.5 0.5 -2 0.5 3 0.5 -8.5 0.5 2 0.5 5.5 0.5 1.5 0.5 -3 0.5 3.5 0.5 -2 0.5 -5 0.5 10 0.5 -10.5 0.5 -1 0.5 5 0.5 2 0.5 -2.5 0.5 -5 0.5 -2 0.5 8 0.5 -1 0.5 -6 0.5 2 0.5 8 0.5 -2 0.5 -15 0.5 7.5 0.5 7.5 0.5 -8 0.5 -7 0.5 4 0.5 9 0.5 -9 0.5 7.5 0.5 -8 0.5 9 0.5 -5.5 0.5 2 0.5 -1.5 0.5 -2 0.5 -9.5 0.5 15.5 0.5 -0.5 0.5 -2 0.5 2 0.5 -7.5 0.5 5.5 0.5 -9.5 0.5 -1 0.5 7 0.5 -10 0.5 10.5 0.5 -4 0.5 0.5 0.5 -4.5 0.5 5.5 0.5 2 0.5 -9 0.5 1.5 0.5 5 0.5 -8 0.5 9 0.5 -8 0.5 2.5 0.5 4 0.5 -0.5 0.5 -7.5 0.5 12 0.5 -9 0.5 -2 0.5 5.5 0.5 -3 0.5 7.5 0.5 -10.5 0.5 -5 0.5 -2.5 0.5 7 0.5 4 0.5 1.5 0.5 1.5 0.5 3 0.5 -5.5 0.5 -1.5 0.5 15.5 0.5 -1.5 0.5 -14.5 0.5 3 0.5 -2.5 0.5 9 0.5 -2.5 0.5 -15 0.5 8.5 0.5 -2.5 0.5 3.5 0.5 -4 0.5 4 0.5 -4.5 0.5 8.5 0.5 -7 0.5 7 0.5 -10.5 0.5 8 0.5 0.5 0.5 -2 0.5 -3 0.5 -4 0.5 2 0.5 -3 0.5 8.5 0.5 -3 0.5 0 0.5 0 0.5 -9 0.5 3 0.5 0 0.5 0 0.5 -1.5 0.5 -1 0.5 4 0.5 11.5 0.5 -7.5 0.5 0 0.5 -0.5 0.5 -6.5 0.5 6 0.5 -3 0.5 1 0.5 -3 0.5 11 0.5 -14.5 0.5 5.5 0.5 -1 0.5 0.5 0.5 7.5 0.5 1 0.5 -5 0.5 -6 0.5 10 0.5 -4.5 0.5 -8 0.5 10.5 0.5 -3 0.5 0.5 0.5 3.5 0.5 3 0.5 -12 0.5 7 0.5 0.5 0.5 -2 0.5 -2 0.5 6 0.5 -9.5 0.5 2 0.5 8 0.5 -7.5 0.5 3 0.5 5 0.5 -12.5 0.5 -4 0.5 -6.5 0.5 11 0.5 1 0.5 -2.5 0.5 5.5 0.5 4 0.5 -4.5 0.5 -4.5 0.5 -6.5 0.5 6 0.5 0.5 0.5 4.5 0.5 -11 0.5 1 0.5 -6 0.5 7.5 0.5 7 0.5 0.5 0.5 -5.5 0.5 -4 0.5 7 0.5 -6.5 0.5 1 0.5 14 0.5 -14.5 0.5 3.5 0.5 0 0.5 3 0.5 -6.5 0.5 1.5 0.5 8 0.5 -8.5 0.5 -1.5 0.5 0 0.5 -4 0.5 -2.5 0.5 10.5 0.5 -7 0.5 3 0.5 8 0.5 -2 0.5 -6 0.5 8.5 0.5 -3 0.5 -3 0.5 11 0.5 -10.5 0.5 0.5 0.5 2.5 0.5 -1 0.5 0 0.5 -2 0.5 0 0.5 3.5 0.5 -3.5 0.5 1.5 0.5 4 0.5 0 0.5 -5 0.5 -1 0.5 8 0.5 -13.5 0.5 9 0.5 0 0.5 -8 0.5 1.5 0.5 12.5 0.5 -5 0.5 -4 0.5 0.5 0.5 2 0.5 -8.5 0.5 10 0.5 -14 0.5 8.5 0.5 -3 0.5 -1 0.5 6.5 0.5 -5 0.5 8 0.5 0 0.5 1 0.5 -4.5 0.5 -6 0.5 6.5 0.5 -10 0.5 16.5 0.5 -5.5 0.5 -1.5 0.5 -12 0.5 14 0.5 -6.5 0.5 0 0.5 -4.5 0.5 -9 0.5 10.5 0.5 3.5 0.5 -4.5 0.5 6 0.5 2 0.5 -6.5 0.5 5.5 0.5 -7 0.5 0.5 0.5 -0.5 0.5 1.5 0.5 7 0.5 -7 0.5 -2 0.5 5 0.5 -7.5 0.5 2 0.5 8.5 0.5 1.5 0.5 -0.5 0.5 -10.5 0.5 4 0.5 0 0.5 4.5 0.5 -2.5 0.5 -5 0.5 -4 0.5 7 0.5 -5.5 0.5 13 0.5 -7 0.5 7.5 0.5 -5 0.5 -7 0.5 -1 0.5 -7.5 0.5 11.5 0.5 6.5 0.5 -11.5 0.5 1.5 0.5 -3.5 0.5 -1 0.5 5.5 0.5 2.5 0.5 -9.5 0.5 3.5 0.5 -11 0.5 7 0.5 2.5 0.5 7 0.5 -7 0.5 9 0.5 -9.5 0.5 0 0.5 0.5 0.5 0 0.5 -7 0.5 6 0.5 3.5 0.5 4 0.5 -2 0.5 -4.5 0.5 6.5 0.5 -13 0.5 6.5 0.5 4.5 0.5 -3.5 0.5 0 0.5 -5 0.5 -3 0.5 6.5 0.5 5 0.5 -6.5 0.5 2.5 0.5 2.5 0.5 -8.5 0.5 8.5 0.5 -3.5 0.5 -5 0.5 6.5 0.5 0 0.5 -5.5 0.5 5 0.5 -5.5 0.5 6 0.5 -6 0.5 0.5 0.5 1 0.5 -6 0.5 6 0.5 -4 0.5 8 0.5 -6.5 0.5 -1.5 0.5 -2 0.5 1 0.5 1 0.5 -3.5 0.5 5.5 0.5 3.5 0.5 -7 0.5 5 0.5 0 0.5 -2 0.5 -5.5 0.5 5 0.5 -1.5 0.5 -2.5 0.5 0 0.5 9.5 0.5 -8 0.5 -0.5 0.5 -2.5 0.5 5.5 0.5 0 0.5 -3 0.5 2 0.5 -5.5 0.5 8 0.5 -0.5 0.5 1 0.5 -3.5 0.5 1 0.5 3 0.5 -2 0.5 -6 0.5 5.5 0.5 9.5 0.5 -9.5 0.5 1.5 0.5 -0.5 0.5 0 0.5 -1 0.5 -3 0.5 3.5 0.5 -2 0.5 0 0.5 5 0.5 -6 0.5 0.5 0.5 -1 0.5 -4.5 0.5 11.5 0.5 -4.5 0.5 -5.5 0.5 9.5 0.5 -4 0.5 -3 0.5 6.5 0.5 -8 0.5 8 0.5 -2.5 0.5 3 0.5 -2.5 0.5 -0.5 0.5 -1.5 0.5 3 0.5 1.5 0.5 -4 0.5 -1 0.5 6 0.5 -8.5 0.5 -2.5 0.5 4.5 0.5 1 0.5 10.5 0.5 -8.5 0.5 2.5 0.5 2 0.5 -3.5 0.5 3 0.5 -10.5 0.5 1 0.5 7 0.5 -4 0.5 2.5 0.5 -13.5 0.5 3.5 0.5 0 0.5 5 0.5 -3.5 0.5 7.5 0.5 2 0.5 3.5 0.5 -16.5 0.5 0.5 0.5 5.5 0.5 2.5 0.5 2.5 0.5 -1 0.5 -4.5 0.5 4.5 0.5 -4.5 0.5 8 0.5 -9.5 0.5 10.5 0.5 -9.5 0.5 4 0.5 -3.5 0.5 0.5 0.5 3.5 0.5 -2 0.5 5.5 0.5 1.5 0.5 -5 0.5 -6 0.5 5 0.5 -0.5 0.5 4 0.5 -16.5 0.5 15.5 0.5 -4.5 0.5 1.5 0.5 5.5 0.5 -0.5 0.5 -7.5 0.5 2 0.5 2.5 0.5 0.5 0.5 -1 0.5 9 0.5 -3 0.5 3 0.5 -13 0.5 7.5 0.5 4.5 0.5 -15.5 0.5 8.5 0.5 -2 0.5 0.5 0.5 1.5 0.5 -7 0.5 5 0.5 -2.5 0.5 6.5 0.5 1 0.5 2 0.5 -11 0.5 5 0.5 0.5 0.5 -3.5 0.5 7 0.5 -4 0.5 -3.5 0.5 6.5 0.5 -3.5 0.5 9 0.5 -13 0.5 3.5 0.5 0.5 0.5 4 0.5 -9 0.5 11 0.5 -15.5 0.5 8.5 0.5 2 0.5 3.5 0.5 -7.5 0.5 6.5 0.5 -9.5 0.5 4.5 0.5 -3 0.5 2.5 0.5 -9.5 0.5 8.5 0.5 -0.5 0.5 -5 0.5 7 0.5 -11 0.5 11.5 0.5 -3.5 0.5 5 0.5 0 0.5 -9.5 0.5 3.5 0.5 -4.5 0.5 -7 0.5 13.5 0.5 2 0.5 -7 0.5 7.5 0.5 -9.5 0.5 2.5 0.5 -6 0.5 -0.5 0.5 -1.5 0.5 6 0.5 0.5 0.5 -8.5 0.5 9 0.5 -4 0.5 1.5 0.5 -3.5 0.5 -3 0.5 12 0.5 -5 0.5 2 0.5 2.5 0.5 -1.5 0.5 1.5 0.5 3 0.5 1 0.5 -4 0.5 1.5 0.5 5 0.5 -10.5 0.5 7 0.5 -12.5 0.5 7.5 0.5 -6.5 0.5 3 0.5 3.5 0.5 2.5 0.5 -3 0.5 5 0.5 -1.5 0.5 3 0.5 -13 0.5 14.5 0.5 -7 0.5 -4 0.5 5.5 0.5 5.5 0.5 -5.5 0.5 -7.5 0.5 17 0.5 -10.5 0.5 5 0.5 -6.5 0.5 1.5 0.5 2 0.5 4.5 0.5 -9.5 0.5 2 0.5 -2 0.5 -3.5 0.5 14.5 0.5 -6 0.5 -8 0.5 -3.5 0.5 -4.5 0.5 10 0.5 -4 0.5 2.5 0.5 5.5 0.5 -1.5 0.5 -6.5 0.5 -4.5 0.5 1 0.5 5 0.5 -4.5 0.5 0 0.5 9.5 0.5 -0.5 0.5 -6 0.5 2.5 0.5 2 0.5 -5.5 0.5 4.5 0.5 -5 0.5 5.5 0.5 -10 0.5 3.5 0.5 10 0.5 -2.5 0.5 -13 0.5 10.5 0.5 -3 0.5 1.5 0.5 -3 0.5 11 0.5 -13 0.5 7.5 0.5 1 0.5 -11 0.5 6 0.5 4.5 0.5 -11.5 0.5 3 0.5 3 0.5 4.5 0.5 -3 0.5 -9.5 0.5 2.5 0.5 -2.5 0.5 13 0.5 -10 0.5 2 0.5 2.5 0.5 -1 0.5 -1.5 0.5 4 0.5 -4 0.5 -5 0.5 4 0.5 3 0.5 -2.5 0.5 0 0.5 0.5 0.5 -6.5 0.5 3.5 0.5 -9.5 0.5 8 0.5 4 0.5 -12 0.5 4 0.5 -2.5 0.5 5.5 0.5 7.5 0.5 -6 0.5 -1.5 0.5 2.5 0.5 -2.5 0.5 3.5 0.5 -2 0.5 -8.5 0.5 1 0.5 -1.5 0.5 9 0.5 -6.5 0.5 8.5 0.5 -4.5 0.5 -8.5 0.5 9 0.5 2.5 0.5 -3.5 0.5 -6.5 0.5 6 0.5 7.5 0.5 3.5 0.5 -15 0.5 2.5 0.5 0.5 0.5 3.5 0.5 2 0.5 -6.5 0.5 0 0.5 -4.5 0.5 -2 0.5 7 0.5 -10 0.5 2.5 0.5 2.5 0.5 2.5 0.5 -8.5 0.5 9 0.5 -0.5 0.5 1 0.5 -3 0.5 3 0.5 3.5 0.5 -7.5 0.5 -1.5 0.5 1.5 0.5 -3.5 0.5 2 0.5 6 0.5 -0.5 0.5 -3.5 0.5 -4 0.5 9 0.5 -1 0.5 0.5 0.5 1.5 0.5 4 0.5 -2 0.5 -8 0.5 -8.5 0.5 13 0.5 0.5 0.5 -4.5 0.5 1 0.5 4 0.5 -3.5 0.5 -0.5 0.5 4.5 0.5 -1.5 0.5 -3 0.5 5 0.5 -2.5 0.5 0.5 0.5 -3 0.5 1 0.5 -8.5 0.5 7 0.5 7.5 0.5 3.5 0.5 -3 0.5 -10 0.5 -5.5 0.5 10.5 0.5 1 0.5 3 0.5 -2.5 0.5 -5 0.5 5.5 0.5 -6 0.5 0.5 0.5 -6.5 0.5 8 0.5 4 0.5 -9.5 0.5 4.5 0.5 -8.5 0.5 10.5 0.5 -4.5 0.5 -4.5 0.5 6 0.5 -1.5 0.5 -5 0.5 6.5 0.5 -5.5 0.5 8 0.5 -1.5 0.5 -7.5 0.5 -1 0.5 -0.5 0.5 -0.5 0.5 0 0.5 9.5 0.5 -7 0.5 -8.5 0.5 8.5 0.5 0 0.5 4.5 0.5 -6 0.5 -4 0.5 5 0.5 0.5 0.5 -8.5 0.5 4.5 0.5 -3.5 0.5 3.5 0.5 -2 0.5 3.5 0.5 -6.5 0.5 -1.5 0.5 -0.5 0.5 4.5 0.5 11 0.5 -6.5 0.5 -1 0.5 -5 0.5 0.5 0.5 0 0.5 7 0.5 3 0.5 -1 0.5 -5 0.5 -5.5 0.5 -0.5 0.5 4.5 0.5 1 0.5 -0.5 0.5 -4.5 0.5 2.5 0.5 -12 0.5 14 0.5 5.5 0.5 -7 0.5 4.5 0.5 -3 0.5 -7.5 0.5 -7 0.5 11 0.5 0.5 0.5 -4 0.5 -0.5 0.5 8 0.5 -3 0.5 -9.5 0.5 -3.5 0.5 15.5 0.5 -6.5 0.5 4 0.5 -3 0.5 -4 0.5 4 0.5 -1.5 0.5 -3 0.5 0.5 0.5 -1 0.5 9.5 0.5 -3.5 0.5 1 0.5 -6 0.5 4 0.5 1.5 0.5 5 0.5 -4.5 0.5 1 0.5 -3.5 0.5 3.5 0.5 -7.5 0.5 -2.5 0.5 3 0.5 4 0.5 5 0.5 -1 0.5 -8.5 0.5 6.5 0.5 -4.5 0.5 -3 0.5 3 0.5 -3.5 0.5 6.5 0.5 -3 0.5 -2 0.5 2 0.5 0 0.5 -1.5 0.5 0.5 0.5 -1 0.5 6 0.5 -9 0.5 -0.5 0.5 7 0.5 6 0.5 0 0.5 -1.5 0.5 -13 0.5 2.5 0.5 3 0.5 -0.5 0.5 -5.5 0.5 1.5 0.5 8 0.5 -3 0.5 -4 0.5 3.5 0.5 3.5 0.5 -7.5 0.5 11 0.5 -11.5 0.5 1 0.5 5 0.5 2.5 0.5 -13.5 0.5 6.5 0.5 6 0.5 -0.5 0.5 -4.5 0.5 -4.5 0.5 4.5 0.5 -3.5 0.5 7 0.5 -2 0.5 -8 0.5 7 0.5 -5 0.5 1.5 0.5 7.5 0.5 -8.5 0.5 -7.5 0.5 7.5 0.5 7 0.5 -3.5 0.5 -5.5 0.5 8.5 0.5 -8.5 0.5 -5 0.5 13 0.5 -10.5 0.5 -0.5 0.5 -5 0.5 4.5 0.5 3 0.5 6 0.5 -3 0.5 1 0.5 0 0.5 -7.5 0.5 4.5 0.5 -3 0.5 -1 0.5 0.5 0.5 4.5 0.5 1.5 0.5 -3.5 0.5 2.5 0.5 3.5 0.5 -1.5 0.5 -10.5 0.5 11.5 0.5 -4.5 0.5 -2 0.5 1.5 0.5 -3 0.5 -9 0.5 10 0.5 4 0.5 -3.5 0.5 0 0.5 -1 0.5 2 0.5 -6 0.5 3 0.5 1 0.5 3.5 0.5 -5.5 0.5 5 0.5 -3 0.5 9 0.5 -6 0.5 -3 0.5 -7 0.5 13 0.5 -10 0.5 2.5 0.5 -1 0.5 -0.5 0.5 1 0.5 -4.5 0.5 0.5 0.5 0 0.5 -1.5 0.5 4 0.5 -0.5 0.5 3.5 0.5 4 0.5 0 0.5 -3 0.5 -5.5 0.5 2.5 0.5 2.5 0.5 -2.5 0.5 7.5 0.5 -1.5 0.5 -4 0.5 -5.5 0.5 -3 0.5 5 0.5 4 0.5 -7.5 0.5 3 0.5 -1.5 0.5 9.5 0.5 -5 0.5 -6.5 0.5 6.5 0.5 -0.5 0.5 2 0.5 -10 0.5 12 0.5 -7.5 0.5 9.5 0.5 -11.5 0.5 3.5 0.5 -5.5 0.5 -1.5 0.5 10 0.5 -1.5 0.5 5 0.5 -7.5 0.5 -4.5 0.5 5.5 0.5 3.5 0.5 0 0.5 -8.5 0.5 7 0.5 -1 0.5 0 0.5 2 0.5 -7.5 0.5 -2.5 0.5 5.5 0.5 3 0.5 -11.5 0.5 7.5 0.5 8 0.5 -5 0.5 1.5 0.5 1 0.5 -1.5 0.5 0 0.5 0.5 0.5 -7 0.5 9 0.5 -9.5 0.5 6 0.5 2 0.5 1.5 0.5 -10.5 0.5 14.5 0.5 -7.5 0.5 -1.5 0.5 0 0.5 0 0.5 -1 0.5 3 0.5 -5 0.5 3.5 0.5 -2.5 0.5 1.5 0.5 -1.5 0.5 -5.5 0.5 7 0.5 -6 0.5 0 0.5 -1 0.5 4.5 0.5 0.5 0.5 -7.5 0.5 2.5 0.5 1 0.5 8 0.5 -1.5 0.5 -11 0.5 8 0.5 10.5 0.5 -10.5 0.5 -3.5 0.5 5 0.5 4 0.5 -7 0.5 1 0.5 6.5 0.5 -12 0.5 9.5 0.5 -2 0.5 1 0.5 -9 0.5 8 0.5 -7.5 0.5 -0.5 0.5 -1 0.5 -1.5 0.5 -2 0.5 13.5 0.5 -8 0.5 1 0.5 -2.5 0.5 2.5 0.5 -0.5 0.5 2.5 0.5 7.5 0.5 -7.5 0.5 -9 0.5 10.5 0.5 4.5 0.5 -13.5 0.5 10.5 0.5 -11.5 0.5 5 0.5 -2 0.5 0 0.5 -3 0.5 6 0.5 -2 0.5 -4 0.5 5.5 0.5 1.5 0.5 -1 0.5 -6 0.5 2 0.5 -7 0.5 5 0.5 0.5 0.5 1 0.5 3 0.5 -4 0.5 2 0.5 -4.5 0.5 5.5 0.5 -7 0.5 9 0.5 -5.5 0.5 -3.5 0.5 1.5 0.5 -0.5 0.5 9 0.5 -4 0.5 7 0.5 -6 0.5 -8 0.5 9 0.5 -5 0.5 -2.5 0.5 6.5 0.5 4.5 0.5 -2.5 0.5 -5.5 0.5 5 0.5 -4.5 0.5 -2 0.5 7 0.5 -1 0.5 -3 0.5 5.5 0.5 -5.5 0.5 6 0.5 -3 0.5 -5 0.5 -0.5 0.5 2.5 0.5 -8 0.5 9.5 0.5 -10 0.5 3.5 0.5 2.5 0.5 -2 0.5 0.5 0.5 -13.5 0.5 10 0.5 9 0.5 -2.5 0.5 -5.5 0.5 7.5 0.5 0 0.5 0.5 0.5 -12.5 0.5 6 0.5 2 0.5 -3.5 0.5 1.5 0.5 4.5 0.5 -7 0.5 3.5 0.5 -7.5 0.5 7.5 0.5 -5 0.5 11 0.5 -11 0.5 0.5 0.5 5 0.5 3 0.5 -5 0.5 7.5 0.5 -4 0.5 -16.5 0.5 18.5 0.5 -12 0.5 6.5 0.5 -2.5 0.5 5.5 0.5 -3 0.5 -1.5 0.5 1.5 0.5 2.5 0.5 -1 0.5 -4.5 0.5 9.5 0.5 -13.5 0.5 5 0.5 -11 0.5 8 0.5 3.5 0.5 1.5 0.5 -5 0.5 -2 0.5 18 0.5 -10.5 0.5 -2 0.5 -1.5 0.5 6 0.5 1.5 0.5 -3.5 0.5 0 0.5 -9 0.5 9 0.5 0.5 0.5 -7.5 0.5 3.5 0.5 -6 0.5 -4 0.5 7 0.5 -8.5 0.5 14 0.5 -1 0.5 0 0.5 -6 0.5 -3 0.5 5 0.5 4 0.5 -1 0.5 -0.5 0.5 -4.5 0.5 1.5 0.5 -2 0.5 2 0.5 1 0.5 3.5 0.5 -5.5 0.5 1.5 0.5 1.5 0.5 -2 0.5 -6 0.5 2.5 0.5 7.5 0.5 -4.5 0.5 2.5 0.5 4.5 0.5 -0.5 0.5 -4 0.5 2 0.5 9.5 0.5 -16 0.5 -1 0.5 9 0.5 -11 0.5 3 0.5 4.5 0.5 -2.5 0.5 -5 0.5 11 0.5 -5 0.5 -2 0.5 2.5 0.5 -6.5 0.5 8.5 0.5 -8 0.5 -2 0.5 5 0.5 3.5 0.5 4 0.5 -8 0.5 2.5 0.5 2 0.5 -3.5 0.5 3.5 0.5 -2.5 0.5 4.5 0.5 -5 0.5 5.5 0.5 -6 0.5 -3.5 0.5 3 0.5 -6.5 0.5 3.5 0.5 -1 0.5 -5.5 0.5 5.5 0.5 -7.5 0.5 6 0.5 4 0.5 -2 0.5 3.5 0.5 -5 0.5 -1.5 0.5 -5 0.5 9 0.5 -0.5 0.5 -4 0.5 2 0.5 -1.5 0.5 7 0.5 -5.5 0.5 3.5 0.5 -2.5 0.5 -1 0.5 -6 0.5 -9.5 0.5 3.5 0.5 10.5 0.5 -2 0.5 -0.5 0.5 1 0.5 4.5 0.5 -5 0.5 -3.5 0.5 6.5 0.5 -9 0.5 10.5 0.5 -3.5 0.5 -3.5 0.5 -2.5 0.5 3.5 0.5 -5.5 0.5 8.5 0.5 -10.5 0.5 3 0.5 4.5 0.5 -5.5 0.5 5.5 0.5 5.5 0.5 -12 0.5 -1.5 0.5 3 0.5 2 0.5 4 0.5 -7.5 0.5 2.5 0.5 0 0.5 1 0.5 6 0.5 -9 0.5 5.5 0.5 -3 0.5 0.5 0.5 0.5 0.5 -4 0.5 10 0.5 -7.5 0.5 -2.5 0.5 8 0.5 -2 0.5 -2.5 0.5 -6.5 0.5 5.5 0.5 0 0.5 -5.5 0.5 4.5 0.5 0.5 0.5 3.5 0.5 -9.5 0.5 2 0.5 2.5 0.5 8.5 0.5 -3.5 0.5 1.5 0.5 2 0.5 3.5 0.5 -3.5 0.5 0 0.5 -12 0.5 9.5 0.5 1 0.5 -10.5 0.5 4 0.5 8 0.5 2.5 0.5 -0.5 0.5 -3 0.5 0.5 0.5 -7 0.5 4.5 0.5 -6 0.5 -2 0.5 13.5 0.5 -14.5 0.5 3.5 0.5 7.5 0.5 -8 0.5 -5 0.5 14 0.5 1 0.5 -4 0.5 -4.5 0.5 3 0.5 0 0.5 1 0.5 -6.5 0.5 -4.5 0.5 7.5 0.5 -5 0.5 3 0.5 6.5 0.5 -10.5 0.5 8 0.5 -8 0.5 1.5 0.5 0 0.5 8 0.5 -8.5 0.5 0 0.5 4 0.5 -2 0.5 7 0.5 -2.5 0.5 -2.5 0.5 -0.5 0.5 -3 0.5 15 0.5 -10 0.5 -0.5 0.5 -9.5 0.5 7.5 0.5 9 0.5 -13.5 0.5 11 0.5 -3.5 0.5 -1.5 0.5 3 0.5 0.5 0.5 6 0.5 -13 0.5 1 0.5 2 0.5 -1.5 0.5 8.5 0.5 -1 0.5 1.5 0.5 -1 0.5 -4.5 0.5 -5 0.5 0.5 0.5 2 0.5 2.5 0.5 -3 0.5 2 0.5 -4 0.5 9.5 0.5 -10.5 0.5 10 0.5 -11 0.5 3 0.5 6 0.5 -13.5 0.5 12.5 0.5 1 0.5 -11 0.5 11 0.5 -6 0.5 3 0.5 -2.5 0.5 -2.5 0.5 -3.5 0.5 4.5 0.5 -8.5 0.5 7 0.5 3.5 0.5 -1 0.5 -2.5 0.5 7 0.5 -3.5 0.5 -5 0.5 -2.5 0.5 -7 0.5 8 0.5 7 0.5 -9.5 0.5 5.5 0.5 -1 0.5 -2.5 0.5 7 0.5 -3 0.5 8 0.5 -12.5 0.5 -1.5 0.5 3 0.5 10 0.5 -14 0.5 11 0.5 -3.5 0.5 -2 0.5 -0.5 0.5 6 0.5 -9 0.5 4 0.5 2 0.5 1.5 0.5 -3 0.5 5 0.5 4.5 0.5 -6 0.5 -1.5 0.5 -1 0.5 2.5 0.5 0.5 0.5 -4 0.5 -2 0.5 10 0.5 -10.5 0.5 0.5 0.5 5.5 0.5 -9.5 0.5 14 0.5 -5.5 0.5 -3.5 0.5 0 0.5 5.5 0.5 -4 0.5 2.5 0.5 3.5 0.5 -5 0.5 -3 0.5 1 0.5 -10 0.5 2.5 0.5 8 0.5 -3.5 0.5 -3 0.5 3.5 0.5 -9 0.5 14 0.5 -1.5 0.5 -8.5 0.5 11 0.5 -8.5 0.5 -5 0.5 1.5 0.5 3.5 0.5 3 0.5 -2 0.5 1.5 0.5 -3.5 0.5 -3.5 0.5 9.5 0.5 -1.5 0.5 -10 0.5 7.5 0.5 -1.5 0.5 1 0.5 -3.5 0.5 6.5 0.5 -4 0.5 -2 0.5 1.5 0.5 3 0.5 -2.5 0.5 0 0.5 8.5 0.5 -1.5 0.5 -10 0.5 4 0.5 -1.5 0.5 -4.5 0.5 12 0.5 -11 0.5 3 0.5 -0.5 0.5 10 0.5 1.5 0.5 -8.5 0.5 -3.5 0.5 4.5 0.5 5.5 0.5 -12 0.5 10 0.5 -3.5 0.5 -8.5 0.5 12 0.5 -0.5 0.5 -2.5 0.5 -1 0.5 -0.5 0.5 -3 0.5 -7 0.5 8 0.5 -5 0.5 4.5 0.5 -2 0.5 3.5 0.5 -4 0.5 7.5 0.5 -6 0.5 0.5 0.5 0.5 0.5 0 0.5 -2 0.5 5 0.5 2.5 0.5 -12 0.5 8 0.5 -2.5 0.5 2 0.5 -4.5 0.5 -2 0.5 3 0.5 4 0.5 -1.5 0.5 -2.5 0.5 2.5 0.5 4 0.5 -1.5 0.5 -14.5 0.5 14 0.5 -9.5 0.5 4.5 0.5 4 0.5 1 0.5 -2.5 0.5 0.5 0.5 -0.5 0.5 -6 0.5 1.5 0.5 -1 0.5 1.5 0.5 6 0.5 -1 0.5 -0.5 0.5 -2.5 0.5 -5.5 0.5 10.5 0.5 -6 0.5 3.5 0.5 3 0.5 -0.5 0.5 0 0.5 -8 0.5 4 0.5 8.5 0.5 2 0.5 -14 0.5 11 0.5 -12 0.5 2 0.5 8 0.5 -10.5 0.5 4.5 0.5 -0.5 0.5 -2 0.5 1.5 0.5 7 0.5 -12.5 0.5 3 0.5 4 0.5 0 0.5 -6 0.5 2.5 0.5 -2.5 0.5 1 0.5 -2.5 0.5 8 0.5 -6 0.5 8 0.5 -4.5 0.5 -2.5 0.5 1 0.5 0.5 0.5 -7.5 0.5 13 0.5 -9.5 0.5 -1 0.5 4.5 0.5 -3.5 0.5 3.5 0.5 7.5 0.5 5.5 0.5 -9 0.5 -4 0.5 0 0.5 1 0.5 -2.5 0.5 11 0.5 -11 0.5 1 0.5 -3 0.5 3 0.5 4 0.5 -3.5 0.5 9.5 0.5 0.5 0.5 -13 0.5 -1 0.5 -0.5 0.5 1.5 0.5 16 0.5 -14.5 0.5 3.5 0.5 -0.5 0.5 -3.5 0.5 -12.5 0.5 17.5 0.5 -9 0.5 14 0.5 -16 0.5 -1 0.5 -2.5 0.5 6 0.5 0.5 0.5 10.5 0.5 -6.5 0.5 -8 0.5 7 0.5 -3.5 0.5 2 0.5 -7 0.5 -1 0.5 12.5 0.5 -10 0.5 9 0.5 4 0.5 -13 0.5 13.5 0.5 -7 0.5 6 0.5 -1 0.5 -5.5 0.5 6.5 0.5 -13.5 0.5 10 0.5 -3.5 0.5 2 0.5 -2 0.5 8.5 0.5 -10 0.5 3.5 0.5 3.5 0.5 -3 0.5 -2 0.5 3.5 0.5 -6 0.5 6 0.5 -10.5 0.5 4 0.5 2 0.5 -1.5 0.5 2 0.5 -6 0.5 0 0.5 -2 0.5 2 0.5 0 0.5 -1.5 0.5 0.5 0.5 -6 0.5 7.5 0.5 -1 0.5 -3.5 0.5 8.5 0.5 -6 0.5 6 0.5 -8.5 0.5 16.5 0.5 -10 0.5 -3.5 0.5 7 0.5 -8 0.5 2.5 0.5 -6 0.5 10 0.5 -6 0.5 2.5 0.5 1 0.5 2.5 0.5 1 0.5 -16 0.5 6.5 0.5 13 0.5 -1.5 0.5 -8.5 0.5 4 0.5 4.5 0.5 -5 0.5 4 0.5 -3.5 0.5 6 0.5 -3.5 0.5 -11.5 0.5 4 0.5 1 0.5 5.5 0.5 -11.5 0.5 -3 0.5 5 0.5 8.5 0.5 3 0.5 -7.5 0.5 1 0.5 0 0.5 -2.5 0.5 6.5 0.5 0 0.5 -12 0.5 7.5 0.5 -3.5 0.5 -2.5 0.5 7 0.5 -1.5 0.5 -2 0.5 -2.5 0.5 0 0.5 2 0.5 4.5 0.5 1 0.5 -9 0.5 4.5 0.5 6 0.5 -14.5 0.5 6 0.5 0.5 0.5 -1 0.5 6.5 0.5 -5 0.5 3 0.5 -1.5 0.5 4.5 0.5 -1.5 0.5 5.5 0.5 -9.5 0.5 3 0.5 -6.5 0.5 2.5 0.5 6 0.5 -0.5 0.5 0 0.5 -6 0.5 0.5 0.5 -1 0.5 0 0.5 3.5 0.5 -5 0.5 6.5 0.5 -4.5 0.5 -3 0.5 8.5 0.5 -5 0.5 5 0.5 -7 0.5 -0.5 0.5 0.5 0.5 -1.5 0.5 4 0.5 -2 0.5 0 0.5 -3 0.5 7 0.5 -1 0.5 1 0.5 -4.5 0.5 -1 0.5 3.5 0.5 -0.5 0.5 3 0.5 -2 0.5 -2.5 0.5 -3.5 0.5 2.5 0.5 -0.5 0.5 13 0.5 -7.5 0.5 5 0.5 -9 0.5 2 0.5 -9 0.5 8 0.5 -5 0.5 8 0.5 -8 0.5 5.5 0.5 1.5 0.5 0 0.5 4.5 0.5 -11 0.5 3 0.5 -7 0.5 2 0.5 -0.5 0.5 2 0.5 6 0.5 -0.5 0.5 -10 0.5 2 0.5 11.5 0.5 -6.5 0.5 1.5 0.5 -8 0.5 6 0.5 10 0.5 -12.5 0.5 2.5 0.5 -1.5 0.5 3.5 0.5 -4 0.5 -3 0.5 10.5 0.5 -1.5 0.5 -9 0.5 9.5 0.5 1.5 0.5 -1.5 0.5 0 0.5 5 0.5 -12.5 0.5 -0.5 0.5 2 0.5 5 0.5 1 0.5 -4.5 0.5 6 0.5 -10.5 0.5 6 0.5 -3 0.5 -2.5 0.5 -2 0.5 9.5 0.5 -3.5 0.5 2.5 0.5 -3 0.5 9 0.5 -4 0.5 -8 0.5 10.5 0.5 -8 0.5 -1.5 0.5 3.5 0.5 -1.5 0.5 -1 0.5 -5.5 0.5 8.5 0.5 -4.5 0.5 -6 0.5 2.5 0.5 -9 0.5 10 0.5 2 0.5 -1 0.5 -1 0.5 -4 0.5 11 0.5 2.5 0.5 -8 0.5 2 0.5 0 0.5 9 0.5 -6 0.5 -5.5 0.5 6.5 0.5 -3.5 0.5 -5.5 0.5 5 0.5 -7.5 0.5 13 0.5 -11.5 0.5 15.5 0.5 -11 0.5 -0.5 0.5 1.5 0.5 -8.5 0.5 13.5 0.5 -6 0.5 0.5 0.5 -7 0.5 4.5 0.5 5 0.5 -8.5 0.5 9.5 0.5 -7.5 0.5 1 0.5 1.5 0.5 1 0.5 -3 0.5 3 0.5 5.5 0.5 -8 0.5 9.5 0.5 -13.5 0.5 7 0.5 4.5 0.5 -8.5 0.5 3 0.5 1 0.5 4 0.5 2 0.5 -5.5 0.5 -5.5 0.5 12 0.5 -7 0.5 -1.5 0.5 -2.5 0.5 2.5 0.5 -2.5 0.5 0.5 0.5 0.5 0.5 5 0.5 -8.5 0.5 -8.5 0.5 4.5 0.5 4.5 0.5 -0.5 0.5 1 0.5 6.5 0.5 0 0.5 -7.5 0.5 -2 0.5 7 0.5 -6.5 0.5 1 0.5 11.5 0.5 -15 0.5 5.5 0.5 -2.5 0.5 1 0.5 1 0.5 -5.5 0.5 5 0.5 -2 0.5 -1.5 0.5 2 0.5 3 0.5 -3 0.5 -1.5 0.5 8 0.5 -1.5 0.5 -3.5 0.5 2 0.5 4 0.5 -8 0.5 2 0.5 2 0.5 0.5 0.5 -1 0.5 -6 0.5 7 0.5 -7.5 0.5 10.5 0.5 -10 0.5 5 0.5 0 0.5 6.5 0.5 -5.5 0.5 -8 0.5 -2.5 0.5 4.5 0.5 -3.5 0.5 8.5 0.5 -3.5 0.5 6.5 0.5 -9.5 0.5 2.5 0.5 4.5 0.5 -4 0.5 -3.5 0.5 7.5 0.5 -10 0.5 4 0.5 0.5 0.5 1.5 0.5 3.5 0.5 -6.5 0.5 -1.5 0.5 0 0.5 4 0.5 -4 0.5 -3.5 0.5 5.5 0.5 -1 0.5 -3 0.5 2.5 0.5 -5.5 0.5 -2 0.5 4 0.5 -4.5 0.5 1.5 0.5 12.5 0.5 -6 0.5 4 0.5 -13.5 0.5 6.5 0.5 -1.5 0.5 5.5 0.5 -1.5 0.5 -1.5 0.5 2 0.5 -1.5 0.5 -3.5 0.5 2 0.5 1.5 0.5 4.5 0.5 3.5 0.5 -4 0.5 -2 0.5 5 0.5 -10 0.5 3 0.5 0 0.5 -4 0.5 8 0.5 -1 0.5 1 0.5 -5.5 0.5 3.5 0.5 0 0.5 -5 0.5 7.5 0.5 0.5 0.5 -1 0.5 -2.5 0.5 -4 0.5 4.5 0.5 0 0.5 -4.5 0.5 3 0.5 2.5 0.5 -3 0.5 -3 0.5 -8.5 0.5 4.5 0.5 3.5 0.5 2.5 0.5 -3 0.5 5.5 0.5 -9.5 0.5 6.5 0.5 -2.5 0.5 2.5 0.5 -3.5 0.5 0.5 0.5 7 0.5 -6 0.5 5.5 0.5 -11 0.5 4.5 0.5 -6.5 0.5 0.5 0.5 0.5 0.5 -3.5 0.5 5 0.5 3 0.5 1.5 0.5 2.5 0.5 -7.5 0.5 5.5 0.5 2.5 0.5 -3 0.5 -4.5 0.5 0 0.5 2 0.5 -4.5 0.5 2.5 0.5 1 0.5 -1.5 0.5 3 0.5 2 0.5 -10 0.5 3.5 0.5 5 0.5 -7.5 0.5 2 0.5 -5.5 0.5 -4 0.5 8.5 0.5 3.5 0.5 5.5 0.5 -10.5 0.5 9.5 0.5 1 0.5 -6.5 0.5 3 0.5 -7.5 0.5 7.5 0.5 -3 0.5 -2 0.5 -1 0.5 9 0.5 -10 0.5 6.5 0.5 -2 0.5 1.5 0.5 9 0.5 -8 0.5 -6.5 0.5 9 0.5 -5 0.5 8.5 0.5 -0.5 0.5 -6 0.5 8.5 0.5 -19 0.5 6.5 0.5 5.5 0.5 -0.5 0.5 1 0.5 -4 0.5 1 0.5 -2 0.5 4.5 0.5 -4 0.5 1.5 0.5 -3 0.5 1 0.5 -3 0.5 10.5 0.5 -9.5 0.5 9.5 0.5 1.5 0.5 -7 0.5 3.5 0.5 6 0.5 -8.5 0.5 -1.5 0.5 6.5 0.5 -5.5 0.5 -3.5 0.5 2.5 0.5 -0.5 0.5 17.5 0.5 -17.5 0.5 4.5 0.5 -6 0.5 3.5 0.5 -7.5 0.5 9.5 0.5 -5.5 0.5 5 0.5 8.5 0.5 -18 0.5 8 0.5 -2.5 0.5 -3.5 0.5 3 0.5 1.5 0.5 -1 0.5 1 0.5 2.5 0.5 -1.5 0.5 -1 0.5 -0.5 0.5 -2 0.5 5 0.5 0 0.5 0.5 0.5 -3.5 0.5 4.5 0.5 1 0.5 1.5 0.5 -3 0.5 1 0.5 -9 0.5 10 0.5 4 0.5 -5.5 0.5 2 0.5 3.5 0.5 -10.5 0.5 9.5 0.5 -4 0.5 -1 0.5 -7 0.5 1 0.5 2.5 0.5 4.5 0.5 -5 0.5 7 0.5 -2 0.5 -2 0.5 -5 0.5 0.5 0.5 11.5 0.5 1.5 0.5 -5 0.5 -2.5 0.5 -8.5 0.5 10 0.5 -10.5 0.5 3.5 0.5 9 0.5 -5.5 0.5 2.5 0.5 -14 0.5 10.5 0.5 0.5 0.5 0 0.5 3 0.5 -2 0.5 -0.5 0.5 1.5 0.5 -2.5 0.5 1.5 0.5 -1 0.5 0.5 0.5 -4 0.5 6.5 0.5 -11.5 0.5 10.5 0.5 5.5 0.5 -3.5 0.5 -5.5 0.5 -3 0.5 3.5 0.5 -1.5 0.5 3.5 0.5 1 0.5 -7.5 0.5 8.5 0.5 1.5 0.5 -4 0.5 -3 0.5 -4.5 0.5 10 0.5 4 0.5 -2 0.5 -4.5 0.5 4 0.5 -3 0.5 1 0.5 -1.5 0.5 9.5 0.5 -15.5 0.5 6 0.5 7 0.5 -0.5 0.5 4.5 0.5 -7.5 0.5 -8 0.5 2 0.5 6 0.5 -3.5 0.5 2.5 0.5 -1.5 0.5 -4.5 0.5 -2.5 0.5 1.5 0.5 8.5 0.5 -4 0.5 -5.5 0.5 8.5 0.5 -13.5 0.5 11.5 0.5 -4.5 0.5 2 0.5 4 0.5 -1.5 0.5 -3 0.5 3.5 0.5 -1.5 0.5 -3.5 0.5 -3 0.5 7.5 0.5 -8 0.5 14 0.5 -8.5 0.5 1.5 0.5 1 0.5 -4.5 0.5 7.5" fill="none" stroke="#ff00ff" stroke-width="6.5" stroke-linejoin="round" stroke-linecap="round"/>
<path d="M367,3225l0.5 -37.5 0.5 -15 0.5 -13 0.5 -10.5 0.5 -6 0.5 -8.5 0.5 -2.5 0.5 -14 0.5 -0.5 0.5 -4 0.5 -4.5 0.5 -7.5 0.5 -4 0.5 13.5 0.5 -14 0.5 9 0.5 -7 0.5 -7 0.5 2.5 0.5 -10.5 0.5 2.5 0.5 1.5 0.5 -0.5 0.5 -4.5 0.5 -3.5 0.5 3 0.5 0.5 0.5 -3 0.5 1.5 0.5 4 0.5 1.5 0.5 -1.5 0.5 -9 0.5 1.5 0.5 3 0.5 -1.5 0.5 3.5 0.5 -7.5 0.5 3.5 0.5 -8 0.5 -1 0.5 0.5 0.5 5.5 0.5 -14 0.5 4.5 0.5 -3 0.5 3 0.5 3 0.5 -1.5 0.5 -0.5 0.5 -9.5 0.5 6 0.5 3.5 0.5 -5 0.5 3.5 0.5 -11.5 0.5 5 0.5 3.5 0.5 -6 0.5 -5.5 0.5 -2 0.5 1.5 0.5 2.5 0.5 -6 0.5 1 0.5 -3 0.5 2 0.5 1.5 0.5 -1.5 0.5 2 0.5 1 0.5 1.5 0.5 -4 0.5 -9 0.5 9.5 0.5 -6.5 0.5 5 0.5 -4 0.5 2.5 0.5 -1.5 0.5 -5.5 0.5 9 0.5 -8.5 0.5 0.5 0.5 4 0.5 -7.5 0.5 3.5 0.5 3 0.5 -4.5 0.5 -1.5 0.5 3.5 0.5 -2 0.5 -4.5 0.5 -2.5 0.5 -0.5 0.5 0 0.5 7.5 0.5 -11.5 0.5 5.5 0.5 -7.5 0.5 9 0.5 -2 0.5 3.5 0.5 -12.5 0.5 5 0.5 1 0.5 -9.5 0.5 4 0.5 0 0.5 3 0.5 -7 0.5 2 0.5 1 0.5 0.5 0.5 -4.5 0.5 -1.5 0.5 2 0.5 3.5 0.5 0.5 0.5 3 0.5 -7 0.5 8 0.5 -16 0.5 -2 0.5 8.5 0.5 -0.5 0.5 1.5 0.5 1 0.5 1 0.5 3 0.5 -8.5 0.5 4 0.5 -1.5 0.5 -2 0.5 -0.5 0.5 5 0.5 -10.5 0.5 4 0.5 4.5 0.5 -7 0.5 1 0.5 -2 0.5 -0.5 0.5 -6 0.5 12 0.5 -8 0.5 4.5 0.5 -1.5 0.5 -3.5 0.5 0 0.5 -2 0.5 4.5 0.5 -7.5 0.5 3 0.5 4 0.5 -9 0.5 7 0.5 -8.5 0.5 6.5 0.5 2.5 0.5 -7 0.5 -3 0.5 1 0.5 8 0.5 -0.5 0.5 -4.5 0.5 -1.5 0.5 -1 0.5 2 0.5 1 0.5 -1 0.5 -4 0.5 -2.5 0.5 -2.5 0.5 16 0.5 -8.5 0.5 -1 0.5 -5 0.5 4.5 0.5 1 0.5 -0.5 0.5 0 0.5 1.5 0.5 -1.5 0.5 -4.5 0.5 5 0.5 -6.5 0.5 -5.5 0.5 16.5 0.5 -10.5 0.5 1 0.5 9.5 0.5 -6 0.5 -2.5 0.5 -2.5 0.5 5 0.5 -8 0.5 7 0.5 0 0.5 -5.5 0.5 -9.5 0.5 18 0.5 -6.5 0.5 2 0.5 2 0.5 -4 0.5 6.5 0.5 -5.5 0.5 -6 0.5 1.5 0.5 -3.5 0.5 3 0.5 -8 0.5 7 0.5 -0.5 0.5 4.5 0.5 -2.5 0.5 2.5 0.5 -11.5 0.5 4 0.5 14 0.5 -3.5 0.5 -5.5 0.5 5 0.5 -4 0.5 1.5 0.5 -7.5 0.5 6 0.5 -6 0.5 3 0.5 6 0.5 -8.5 0.5 3 0.5 1.5 0.5 1 0.5 -0.5 0.5 -13 0.5 5 0.5 0 0.5 8.5 0.5 3 0.5 -6.5 0.5 -0.5 0.5 7 0.5 -4.5 0.5 -4 0.5 7.5 0.5 -14 0.5 3 0.5 14.5 0.5 -7.5 0.5 -8.5 0.5 5.5 0.5 -3 0.5 3.5 0.5 -1.5 0.5 1.5 0.5 -2 0.5 -2.5 0.5 0.5 0.5 3 0.5 -1.5 0.5 -2.5 0.5 0 0.5 2 0.5 3.5 0.5 2 0.5 -7 0.5 0 0.5 -8 0.5 3.5 0.5 6 0.5 0 0.5 -2.5 0.5 1.5 0.5 -7.5 0.5 12.5 0.5 -15 0.5 12.5 0.5 -5.5 0.5 -3 0.5 2 0.5 0 0.5 6 0.5 0.5 0.5 -11 0.5 6 0.5 -5 0.5 2.5 0.5 3.5 0.5 -6.5 0.5 -1 0.5 2.5 0.5 1.5 0.5 2 0.5 -4 0.5 -2.5 0.5 -0.5 0.5 5 0.5 4.5 0.5 -6.5 0.5 6 0.5 -13.5 0.5 6 0.5 9 0.5 -8 0.5 3 0.5 -2 0.5 -3 0.5 -1 0.5 0 0.5 -3 0.5 5.5 0.5 2.5 0.5 -9 0.5 1.5 0.5 -4 0.5 5 0.5 2 0.5 0.5 0.5 -5.5 0.5 6.5 0.5 -9.5 0.5 1.5 0.5 7.5 0.5 -6 0.5 -0.5 0.5 3.5 0.5 1 0.5 9.5 0.5 -9.5 0.5 -11 0.5 8.5 0.5 -2.5 0.5 6 0.5 -13.5 0.5 13 0.5 -12 0.5 15 0.5 -9 0.5 2 0.5 -4.5 0.5 -3 0.5 5 0.5 11.5 0.5 -10.5 0.5 -1.5 0.5 -1.5 0.5 10.5 0.5 -4 0.5 -5 0.5 0.5 0.5 -4.5 0.5 5.5 0.5 0 0.5 -4.5 0.5 -0.5 0.5 8.5 0.5 -1.5 0.5 -3.5 0.5 5 0.5 -4 0.5 -5.5 0.5 2 0.5 -0.5 0.5 6 0.5 -1.5 0.5 1 0.5 -6.5 0.5 4.5 0.5 8 0.5 -17 0.5 10 0.5 -7.5 0.5 2.5 0.5 3 0.5 -11 0.5 -2 0.5 5.5 0.5 -2.5 0.5 -1.5 0.5 1.5 0.5 6.5 0.5 1 0.5 -5 0.5 4 0.5 -10.5 0.5 13.5 0.5 -4 0.5 -5 0.5 1 0.5 -2 0.5 -7 0.5 7.5 0.5 2.5 0.5 0 0.5 -4.5 0.5 3.5 0.5 -6.5 0.5 6 0.5 -11 0.5 10 0.5 0.5 0.5 -2.5 0.5 -3 0.5 10 0.5 -6 0.5 3 0.5 1.5 0.5 -7 0.5 3 0.5 -5 0.5 3 0.5 -6.5 0.5 6 0.5 9 0.5 -2.5 0.5 -10.5 0.5 0 0.5 4 0.5 1 0.5 -3 0.5 -3.5 0.5 7 0.5 0 0.5 -4 0.5 4 0.5 3 0.5 -10.5 0.5 6.5 0.5 -4.5 0.5 -2.5 0.5 -4 0.5 7.5 0.5 -3.5 0.5 -2.5 0.5 9 0.5 -7 0.5 -5.5 0.5 6 0.5 2 0.5 -2 0.5 -0.5 0.5 4 0.5 8.5 0.5 -19 0.5 -1.5 0.5 12.5 0.5 -6.5 0.5 4.5 0.5 -5.5 0.5 1.5 0.5 -10 0.5 9.5 0.5 -6.5 0.5 3.5 0.5 5 0.5 3.5 0.5 -11.5 0.5 0.5 0.5 1.5 0.5 -3.5 0.5 -3.5 0.5 8.5 0.5 0 0.5 1 0.5 -3.5 0.5 -4 0.5 4.5 0.5 -0.5 0.5 -2 0.5 4.5 0.5 -1.5 0.5 9 0.5 -14.5 0.5 6.5 0.5 2.5 0.5 -3 0.5 -13.5 0.5 14.5 0.5 -7 0.5 5 0.5 -1 0.5 -4.5 0.5 5 0.5 2 0.5 -4 0.5 -7 0.5 10.5 0.5 -1.5 0.5 -8.5 0.5 4 0.5 -10 0.5 7.5 0.5 -3 0.5 4.5 0.5 -7.5 0.5 2 0.5 6.5 0.5 -8.5 0.5 -1 0.5 12 0.5 -8 0.5 7 0.5 -9 0.5 8 0.5 -10.5 0.5 -2 0.5 6.5 0.5 -3.5 0.5 2 0.5 -1.5 0.5 -2.5 0.5 10.5 0.5 -8 0.5 -11 0.5 10 0.5 3 0.5 2.5 0.5 -6.5 0.5 -2 0.5 2.5 0.5 -1 0.5 4 0.5 -1.5 0.5 8.5 0.5 -15 0.5 6.5 0.5 -8.5 0.5 2 0.5 4.5 0.5 -6.5 0.5 9 0.5 -9.5 0.5 1.5 0.5 5.5 0.5 3 0.5 -8.5 0.5 2 0.5 -0.5 0.5 5.5 0.5 3 0.5 -2.5 0.5 -10 0.5 2.5 0.5 -0.5 0.5 5 0.5 1 0.5 4 0.5 -3.5 0.5 -0.5 0.5 -1 0.5 -3.5 0.5 3.5 0.5 -7.5 0.5 9 0.5 -3.5 0.5 -2.5 0.5 -1 0.5 2.5 0.5 -0.5 0.5 -7.5 0.5 7.5 0.5 2.5 0.5 1 0.5 0 0.5 9 0.5 -4.5 0.5 -13 0.5 4.5 0.5 12.5 0.5 -2.5 0.5 -9.5 0.5 -3 0.5 11 0.5 -14.5 0.5 4.5 0.5 1.5 0.5 -6 0.5 11.5 0.5 -5.5 0.5 -7.5 0.5 5.5 0.5 -5 0.5 4 0.5 2 0.5 -2 0.5 0.5 0.5 0.5 0.5 -5 0.5 1 0.5 4.5 0.5 -7.5 0.5 1 0.5 -1.5 0.5 6 0.5 -5.5 0.5 6 0.5 -3 0.5 -5 0.5 3 0.5 -8.5 0.5 12.5 0.5 0 0.5 4 0.5 -4.5 0.5 -3 0.5 -10.5 0.5 11.5 0.5 -5 0.5 2.5 0.5 -7.5 0.5 7.5 0.5 -5.5 0.5 4 0.5 1 0.5 3 0.5 -7 0.5 9.5 0.5 -12.5 0.5 11 0.5 -7.5 0.5 1.5 0.5 3 0.5 2 0.5 -2 0.5 -1.5 0.5 -2.5 0.5 3.5 0.5 -2 0.5 -7.5 0.5 11 0.5 -1 0.5 -6 0.5 -1 0.5 -2.5 0.5 10 0.5 -7.5 0.5 0.5 0.5 -1.5 0.5 3.5 0.5 0.5 0.5 -4.5 0.5 -2 0.5 1.5 0.5 -1.5 0.5 2.5 0.5 4 0.5 -2.5 0.5 -8.5 0.5 4.5 0.5 2 0.5 -4.5 0.5 5.5 0.5 1.5 0.5 4 0.5 -16 0.5 9.5 0.5 -9 0.5 9.5 0.5 1 0.5 -8.5 0.5 2 0.5 0 0.5 13 0.5 -8 0.5 -2 0.5 -6 0.5 -0.5 0.5 10.5 0.5 0 0.5 -16 0.5 14 0.5 -5.5 0.5 1.5 0.5 -3.5 0.5 6.5 0.5 -3.5 0.5 -2.5 0.5 1 0.5 -4 0.5 -1 0.5 7 0.5 5 0.5 -11.5 0.5 2.5 0.5 8 0.5 -10 0.5 4.5 0.5 2.5 0.5 -10.5 0.5 3 0.5 0 0.5 2.5 0.5 -1 0.5 -4 0.5 5 0.5 -4.5 0.5 -7 0.5 12.5 0.5 -1.5 0.5 2.5 0.5 -5 0.5 0.5 0.5 0.5 0.5 -14.5 0.5 3 0.5 9 0.5 -8.5 0.5 8 0.5 -4.5 0.5 -2 0.5 1.5 0.5 -8 0.5 8 0.5 -3 0.5 -0.5 0.5 8.5 0.5 -3.5 0.5 -8.5 0.5 2 0.5 0 0.5 -3.5 0.5 3 0.5 4.5 0.5 -1 0.5 -2.5 0.5 4.5 0.5 -2 0.5 1 0.5 -4 0.5 0 0.5 -2 0.5 0.5 0.5 4.5 0.5 -10.5 0.5 4.5 0.5 -4 0.5 11 0.5 -9 0.5 4.5 0.5 -6.5 0.5 4.5 0.5 -9 0.5 6.5 0.5 1.5 0.5 -1 0.5 0 0.5 10.5 0.5 -11.5 0.5 1 0.5 -2.5 0.5 8 0.5 -5 0.5 2.5 0.5 -2.5 0.5 -8.5 0.5 1.5 0.5 5 0.5 8 0.5 -14 0.5 2.5 0.5 -3 0.5 -4 0.5 6.5 0.5 -3 0.5 3 0.5 -9.5 0.5 -1.5 0.5 15 0.5 -17.5 0.5 5.5 0.5 5 0.5 -5 0.5 8 0.5 -5.5 0.5 1.5 0.5 -1 0.5 1.5 0.5 -5.5 0.5 2 0.5 2.5 0.5 -4 0.5 2 0.5 5.5 0.5 -1.5 0.5 -3.5 0.5 -4 0.5 7.5 0.5 5 0.5 -2.5 0.5 0 0.5 -7 0.5 3 0.5 -10.5 0.5 5.5 0.5 -7.5 0.5 10 0.5 1.5 0.5 -5.5 0.5 6.5 0.5 -5.5 0.5 -5 0.5 5 0.5 0 0.5 -4.5 0.5 4.5 0.5 -11.5 0.5 5.5 0.5 -1 0.5 -7.5 0.5 5.5 0.5 -3 0.5 -1.5 0.5 0.5 0.5 5.5 0.5 -1.5 0.5 0 0.5 -3 0.5 1.5 0.5 -2 0.5 2 0.5 2 0.5 -4.5 0.5 9 0.5 -6.5 0.5 4 0.5 -1 0.5 -8 0.5 0.5 0.5 13.5 0.5 -12.5 0.5 6 0.5 -7 0.5 -3 0.5 6.5 0.5 -4.5 0.5 -4 0.5 7 0.5 -14 0.5 9 0.5 3 0.5 -1 0.5 -5.5 0.5 9 0.5 -6 0.5 -2.5 0.5 1.5 0.5 5.5 0.5 -5 0.5 4.5 0.5 -2 0.5 -3 0.5 4 0.5 -1.5 0.5 -1.5 0.5 0.5 0.5 -6 0.5 2 0.5 -2 0.5 11.5 0.5 -13 0.5 5.5 0.5 6 0.5 0 0.5 -4 0.5 -0.5 0.5 -6.5 0.5 3.5 0.5 -1 0.5 6.5 0.5 -3.5 0.5 -1.5 0.5 -4.5 0.5 12.5 0.5 -9.5 0.5 -0.5 0.5 7.5 0.5 -10 0.5 3 0.5 5 0.5 -3.5 0.5 -0.5 0.5 -2 0.5 5 0.5 -9 0.5 7.5 0.5 0.5 0.5 3.5 0.5 -5.5 0.5 -4.5 0.5 5 0.5 -2.5 0.5 -4.5 0.5 5.5 0.5 -11 0.5 11 0.5 2.5 0.5 -6.5 0.5 5 0.5 -4.5 0.5 -8 0.5 10 0.5 -2.5 0.5 -0.5 0.5 -5 0.5 4 0.5 0.5 0.5 -1 0.5 -11 0.5 15.5 0.5 0.5 0.5 -4 0.5 -3 0.5 -1 0.5 -2.5 0.5 6 0.5 4.5 0.5 -8 0.5 8 0.5 -9.5 0.5 0.5 0.5 4.5 0.5 1.5 0.5 -6 0.5 9 0.5 -4.5 0.5 3 0.5 -1.5 0.5 -1.5 0.5 -1 0.5 0 0.5 -2.5 0.5 -4.5 0.5 9.5 0.5 -8 0.5 7 0.5 2.5 0.5 -2.5 0.5 -11.5 0.5 6 0.5 7.5 0.5 2 0.5 -5 0.5 -2 0.5 1 0.5 -2 0.5 -3.5 0.5 12.5 0.5 -9 0.5 -5.5 0.5 10 0.5 1.5 0.5 -1 0.5 0 0.5 -7 0.5 2 0.5 -7.5 0.5 1.5 0.5 16 0.5 -9 0.5 -5 0.5 4.5 0.5 -2.5 0.5 4.5 0.5 -10 0.5 9.5 0.5 -10 0.5 1 0.5 5.5 0.5 1.5 0.5 3.5 0.5 -13.5 0.5 7.5 0.5 -0.5 0.5 -0.5 0.5 2.5 0.5 4 0.5 -3.5 0.5 0.5 0.5 -6 0.5 -1 0.5 7 0.5 4 0.5 -9.5 0.5 4 0.5 0 0.5 -4.5 0.5 9 0.5 -4.5 0.5 -3 0.5 1.5 0.5 5.5 0.5 -0.5 0.5 -4 0.5 1 0.5 2.5 0.5 0.5 0.5 -1 0.5 0.5 0.5 -10.5 0.5 4 0.5 9 0.5 -2 0.5 2 0.5 -7.5 0.5 3.5 0.5 -1 0.5 0.5 0.5 -3.5 0.5 7 0.5 0.5 0.5 -3 0.5 3.5 0.5 -4.5 0.5 1 0.5 -8 0.5 6 0.5 -1 0.5 -0.5 0.5 -0.5 0.5 -1 0.5 -4.5 0.5 -5 0.5 9.5 0.5 1.5 0.5 -7 0.5 4.5 0.5 -1.5 0.5 2.5 0.5 -9.5 0.5 6.5 0.5 2 0.5 2.5 0.5 -4.5 0.5 -3.5 0.5 -2 0.5 1.5 0.5 -3.5 0.5 5 0.5 -2 0.5 0 0.5 2.5 0.5 -2.5 0.5 3.5 0.5 -7.5 0.5 -4 0.5 2 0.5 14 0.5 -13.5 0.5 8.5 0.5 -12 0.5 3.5 0.5 -4.5 0.5 15.5 0.5 3 0.5 -12 0.5 -4 0.5 8.5 0.5 2 0.5 -3 0.5 -1 0.5 4 0.5 -11 0.5 7.5 0.5 -1 0.5 0.5 0.5 -6 0.5 0.5 0.5 -5 0.5 5 0.5 -7.5 0.5 10.5 0.5 10.5 0.5 -9.5 0.5 -0.5 0.5 5 0.5 -9 0.5 5.5 0.5 2 0.5 -3.5 0.5 -2.5 0.5 -1.5 0.5 5 0.5 -3.5 0.5 -10.5 0.5 10 0.5 -3 0.5 3.5 0.5 3 0.5 1.5 0.5 -1.5 0.5 -8.5 0.5 5 0.5 -0.5 0.5 1 0.5 3 0.5 -3 0.5 3 0.5 -0.5 0.5 3 0.5 4 0.5 -9 0.5 -3 0.5 2.5 0.5 -5.5 0.5 13 0.5 -2.5 0.5 -2 0.5 2 0.5 -8.5 0.5 0.5 0.5 5.5 0.5 -4.5 0.5 0 0.5 -4.5 0.5 6 0.5 -6 0.5 7 0.5 -8.5 0.5 10.5 0.5 -14 0.5 6 0.5 -3.5 0.5 -2.5 0.5 5 0.5 -3 0.5 8 0.5 -8.5 0.5 -0.5 0.5 7.5 0.5 -2.5 0.5 2 0.5 -11 0.5 -1 0.5 8 0.5 -5.5 0.5 0 0.5 1 0.5 -1.5 0.5 8 0.5 -12 0.5 12.5 0.5 -5 0.5 -3 0.5 2.5 0.5 0.5 0.5 -3 0.5 3 0.5 2.5 0.5 9.5 0.5 -8 0.5 -6 0.5 -2.5 0.5 1.5 0.5 -2 0.5 1.5 0.5 11.5 0.5 -14.5 0.5 8.5 0.5 -8.5 0.5 9 0.5 -6.5 0.5 -7 0.5 7.5 0.5 -3.5 0.5 -2.5 0.5 6.5 0.5 6 0.5 -3.5 0.5 -2.5 0.5 -7 0.5 11.5 0.5 -3 0.5 -11.5 0.5 8.5 0.5 -0.5 0.5 -4.5 0.5 -2 0.5 2 0.5 -3.5 0.5 3.5 0.5 -3 0.5 13 0.5 -2.5 0.5 -7 0.5 6 0.5 -4 0.5 -8 0.5 4 0.5 6.5 0.5 -6.5 0.5 3.5 0.5 0.5 0.5 -12 0.5 20.5 0.5 -11 0.5 -5.5 0.5 1 0.5 0 0.5 10.5 0.5 -5 0.5 -7 0.5 3.5 0.5 2 0.5 0 0.5 -2.5 0.5 5 0.5 2 0.5 -3.5 0.5 -1.5 0.5 -3.5 0.5 6 0.5 1 0.5 -3.5 0.5 -3 0.5 3.5 0.5 -7 0.5 10.5 0.5 -6 0.5 -3.5 0.5 8.5 0.5 -14 0.5 8 0.5 -3 0.5 0.5 0.5 1.5 0.5 -7 0.5 7.5 0.5 -3.5 0.5 7.5 0.5 -10 0.5 6.5 0.5 -17 0.5 9 0.5 1 0.5 0.5 0.5 -1 0.5 6.5 0.5 -10.5 0.5 8.5 0.5 -2 0.5 -5 0.5 3 0.5 5 0.5 1.5 0.5 -4 0.5 -11 0.5 8 0.5 3 0.5 -3 0.5 2 0.5 -0.5 0.5 4.5 0.5 -10.5 0.5 3 0.5 4.5 0.5 -9.5 0.5 7.5 0.5 -11 0.5 -0.5 0.5 11 0.5 -6 0.5 6.5 0.5 -4.5 0.5 -7 0.5 10.5 0.5 -12 0.5 10.5 0.5 -6.5 0.5 5.5 0.5 -1.5 0.5 -12 0.5 8 0.5 -5 0.5 0 0.5 3 0.5 8.5 0.5 -10 0.5 -1 0.5 5.5 0.5 -7.5 0.5 4 0.5 3 0.5 -12 0.5 10 0.5 0.5 0.5 -4.5 0.5 4.5 0.5 6 0.5 -13.5 0.5 4 0.5 6 0.5 -4 0.5 -2 0.5 -9 0.5 6 0.5 0.5 0.5 -0.5 0.5 6.5 0.5 -4 0.5 6 0.5 -10 0.5 -3 0.5 8.5 0.5 -10.5 0.5 9 0.5 -7 0.5 4.5 0.5 2 0.5 -7 0.5 5.5 0.5 4.5 0.5 -3.5 0.5 -2 0.5 -0.5 0.5 8 0.5 -4 0.5 -5.5 0.5 6.5 0.5 -3.5 0.5 2.5 0.5 -0.5 0.5 -3 0.5 0 0.5 -1.5 0.5 5 0.5 0 0.5 -6 0.5 7 0.5 2 0.5 -15.5 0.5 9 0.5 -7 0.5 6.5 0.5 -3.5 0.5 5.5 0.5 -3.5 0.5 -1 0.5 4 0.5 -2 0.5 -0.5 0.5 0 0.5 -1 0.5 0 0.5 -2 0.5 11.5 0.5 -13.5 0.5 2.5 0.5 -1 0.5 0 0.5 1 0.5 -3 0.5 -1 0.5 7.5 0.5 1 0.5 -11 0.5 6.5 0.5 -12 0.5 4 0.5 5 0.5 0 0.5 3 0.5 -9 0.5 2 0.5 -0.5 0.5 6.5 0.5 -6.5 0.5 4.5 0.5 -9 0.5 -3.5 0.5 12.5 0.5 -0.5 0.5 -5 0.5 2.5 0.5 -1 0.5 2 0.5 4 0.5 5 0.5 -10 0.5 5.5 0.5 -15 0.5 6.5 0.5 4 0.5 -1 0.5 -0.5 0.5 -6 0.5 0.5 0.5 5 0.5 -7.5 0.5 6.5 0.5 8 0.5 -8.5 0.5 -1.5 0.5 4.5 0.5 -3 0.5 -0.5 0.5 -1 0.5 9.5 0.5 -7.5 0.5 0 0.5 -6.5 0.5 12 0.5 -7.5 0.5 4 0.5 -8 0.5 10.5 0.5 -7 0.5 -3.5 0.5 0.5 0.5 2 0.5 10.5 0.5 -7.5 0.5 0.5 0.5 1 0.5 7 0.5 -13 0.5 5.5 0.5 2.5 0.5 -3 0.5 4.5 0.5 -2 0.5 -8 0.5 10.5 0.5 -9 0.5 5.5 0.5 1.5 0.5 -6 0.5 -2 0.5 5.5 0.5 -5 0.5 5 0.5 1 0.5 -4 0.5 -0.5 0.5 6 0.5 -2 0.5 -7.5 0.5 -2 0.5 12.5 0.5 -1.5 0.5 2 0.5 -11.5 0.5 -1.5 0.5 8.5 0.5 -8 0.5 -1 0.5 5 0.5 -10 0.5 5 0.5 4.5 0.5 -8.5 0.5 4.5 0.5 4 0.5 -5.5 0.5 2.5 0.5 0.5 0.5 -4 0.5 1 0.5 -1.5 0.5 1 0.5 1 0.5 -0.5 0.5 -2 0.5 0 0.5 4 0.5 -3 0.5 -8 0.5 8.5 0.5 4 0.5 -11 0.5 8.5 0.5 -8 0.5 3.5 0.5 -4 0.5 10 0.5 -9 0.5 9.5 0.5 -4.5 0.5 0 0.5 3.5 0.5 -10 0.5 0 0.5 2.5 0.5 6 0.5 0 0.5 -1 0.5 -5 0.5 11.5 0.5 -8 0.5 -0.5 0.5 3.5 0.5 -8 0.5 -5.5 0.5 4.5 0.5 1.5 0.5 -3 0.5 8 0.5 -6 0.5 2 0.5 -6.5 0.5 6.5 0.5 7.5 0.5 -2.5 0.5 -3 0.5 -1.5 0.5 -4.5 0.5 3 0.5 1 0.5 2.5 0.5 2 0.5 -4 0.5 2.5 0.5 -3 0.5 9.5 0.5 -12 0.5 10.5 0.5 -2.5 0.5 -5 0.5 6.5 0.5 -2.5 0.5 1 0.5 -2 0.5 -5 0.5 10.5 0.5 -5 0.5 -11.5 0.5 7 0.5 1.5 0.5 2 0.5 -6 0.5 8.5 0.5 -0.5 0.5 -3.5 0.5 -0.5 0.5 0.5 0.5 2 0.5 0.5 0.5 -6 0.5 10.5 0.5 -1.5 0.5 -3.5 0.5 1.5 0.5 -5.5 0.5 1.5 0.5 2 0.5 2.5 0.5 -2.5 0.5 -5.5 0.5 7 0.5 -0.5 0.5 -5.5 0.5 8 0.5 -5 0.5 -5.5 0.5 5.5 0.5 -2.5 0.5 -5 0.5 3.5 0.5 -2 0.5 11 0.5 1 0.5 -10 0.5 6 0.5 -5.5 0.5 -2 0.5 6 0.5 -10 0.5 16.5 0.5 -10 0.5 3.5 0.5 -3 0.5 1.5 0.5 9.5 0.5 -6 0.5 -3 0.5 5 0.5 -13.5 0.5 8.5 0.5 -1 0.5 -10 0.5 8.5 0.5 4 0.5 -4.5 0.5 2 0.5 5 0.5 -6.5 0.5 -4 0.5 7.5 0.5 -2 0.5 6 0.5 -5 0.5 0 0.5 -6 0.5 -2 0.5 8.5 0.5 -8 0.5 10 0.5 -18.5 0.5 13 0.5 -4 0.5 -1 0.5 6.5 0.5 -6.5 0.5 3 0.5 0 0.5 -1.5 0.5 -0.5 0.5 6 0.5 -8.5 0.5 4.5 0.5 -7 0.5 11 0.5 -9.5 0.5 5.5 0.5 1 0.5 -5 0.5 -5.5 0.5 8.5 0.5 1 0.5 0 0.5 -8 0.5 1.5 0.5 0 0.5 -2.5 0.5 7.5 0.5 -11 0.5 3.5 0.5 -7.5 0.5 6 0.5 9 0.5 0.5 0.5 -2 0.5 -7.5 0.5 -4 0.5 7.5 0.5 3 0.5 -0.5 0.5 -3.5 0.5 6.5 0.5 -7.5 0.5 -2 0.5 9 0.5 -10.5 0.5 6 0.5 8.5 0.5 -5.5 0.5 -8.5 0.5 14 0.5 -2.5 0.5 -8.5 0.5 1 0.5 3 0.5 1.5 0.5 -1.5 0.5 -1 0.5 -4 0.5 7 0.5 -8 0.5 6 0.5 -6 0.5 3.5 0.5 5.5 0.5 -1 0.5 -5.5 0.5 7 0.5 -0.5 0.5 7 0.5 -12 0.5 -2 0.5 3.5 0.5 10.5 0.5 -10 0.5 1 0.5 5 0.5 -4.5 0.5 -0.5 0.5 -4 0.5 -0.5 0.5 3.5 0.5 -7.5 0.5 -5.5 0.5 11 0.5 11 0.5 -14 0.5 1.5 0.5 3.5 0.5 -0.5 0.5 1 0.5 -3 0.5 0.5 0.5 0 0.5 -5 0.5 2 0.5 7.5 0.5 -8.5 0.5 6 0.5 -1 0.5 -8.5 0.5 11.5 0.5 -6.5 0.5 1 0.5 1 0.5 2 0.5 -6.5 0.5 -1.5 0.5 -2.5 0.5 0 0.5 7 0.5 -2.5 0.5 9 0.5 -12.5 0.5 8 0.5 -6.5 0.5 5.5 0.5 -6.5 0.5 -1 0.5 7 0.5 -9 0.5 14.5 0.5 -5 0.5 -5.5 0.5 -2 0.5 3.5 0.5 -3 0.5 2.5 0.5 1 0.5 -4.5 0.5 3 0.5 -3 0.5 6.5 0.5 -5.5 0.5 -1.5 0.5 -10.5 0.5 0 0.5 10.5 0.5 -1 0.5 -0.5 0.5 -5 0.5 3.5 0.5 0.5 0.5 8.5 0.5 -8 0.5 -3.5 0.5 7 0.5 -10 0.5 11.5 0.5 -12 0.5 7.5 0.5 -3.5 0.5 1 0.5 -0.5 0.5 -0.5 0.5 -6 0.5 -2.5 0.5 6 0.5 -6.5 0.5 5.5 0.5 8.5 0.5 -12.5 0.5 0.5 0.5 3.5 0.5 -6.5 0.5 1.5 0.5 0 0.5 1 0.5 3 0.5 5 0.5 -8.5 0.5 2 0.5 -1 0.5 -3.5 0.5 -1.5 0.5 0 0.5 6.5 0.5 -8.5 0.5 11 0.5 -12.5 0.5 14 0.5 -3.5 0.5 5 0.5 -5.5 0.5 2.5 0.5 -8.5 0.5 11 0.5 -9.5 0.5 1 0.5 -6 0.5 6 0.5 3 0.5 2.5 0.5 -2.5 0.5 -1 0.5 -7.5 0.5 4.5 0.5 1 0.5 1 0.5 -5.5 0.5 4.5 0.5 -1.5 0.5 2 0.5 -3.5 0.5 3.5 0.5 0.5 0.5 0 0.5 -0.5 0.5 -3 0.5 3 0.5 2 0.5 -2.5 0.5 -4 0.5 -7 0.5 14.5 0.5 -1.5 0.5 -6.5 0.5 7.5 0.5 -7 0.5 7 0.5 -3.5 0.5 5.5 0.5 -5.5 0.5 6 0.5 -9 0.5 2 0.5 6.5 0.5 -2.5 0.5 -4.5 0.5 2 0.5 -5.5 0.5 10.5 0.5 -13 0.5 2 0.5 4.5 0.5 -0.5 0.5 -8.5 0.5 3.5 0.5 6.5 0.5 -1.5 0.5 -1 0.5 -8 0.5 10 0.5 -4.5 0.5 -4.5 0.5 -3 0.5 3 0.5 8.5 0.5 -4.5 0.5 -1 0.5 1 0.5 -3 0.5 -8.5 0.5 10.5 0.5 -6 0.5 10 0.5 -8.5 0.5 5.5 0.5 -3.5 0.5 -7 0.5 5.5 0.5 -4 0.5 3 0.5 -2.5 0.5 0.5 0.5 -7 0.5 15.5 0.5 0.5 0.5 -6 0.5 -7 0.5 8 0.5 3 0.5 0 0.5 -3.5 0.5 2 0.5 -15 0.5 6.5 0.5 0.5 0.5 -2.5 0.5 4 0.5 -3.5 0.5 -0.5 0.5 3 0.5 0.5 0.5 0.5 0.5 -0.5 0.5 -1.5 0.5 3 0.5 -2.5 0.5 -7 0.5 9.5 0.5 -5.5 0.5 6 0.5 -3.5 0.5 -4.5 0.5 -3.5 0.5 9.5 0.5 -0.5 0.5 -1.5 0.5 -2.5 0.5 3 0.5 -4.5 0.5 4.5 0.5 5 0.5 -1.5 0.5 0 0.5 3.5 0.5 -7 0.5 -1 0.5 2 0.5 3 0.5 -7 0.5 7 0.5 -2.5 0.5 -1 0.5 -2.5 0.5 1 0.5 3 0.5 -3 0.5 4.5 0.5 -1 0.5 -2 0.5 0.5 0.5 -1.5 0.5 4 0.5 -6 0.5 6.5 0.5 -5.5 0.5 -1.5 0.5 9 0.5 -7 0.5 1.5 0.5 4.5 0.5 -10.5 0.5 8 0.5 8 0.5 -10.5 0.5 0 0.5 -3 0.5 1 0.5 2 0.5 1 0.5 -7.5 0.5 7 0.5 -3.5 0.5 2.5 0.5 -13 0.5 7 0.5 -2.5 0.5 5 0.5 -4 0.5 3 0.5 -0.5 0.5 -0.5 0.5 -2 0.5 -6.5 0.5 7.5 0.5 4 0.5 -1.5 0.5 3 0.5 -5.5 0.5 2.5 0.5 8 0.5 -11 0.5 9.5 0.5 -5.5 0.5 -3.5 0.5 8 0.5 -8.5 0.5 6.5 0.5 -9.5 0.5 -1.5 0.5 12.5 0.5 -12 0.5 4 0.5 -3.5 0.5 5 0.5 3 0.5 -6 0.5 1 0.5 -1.5 0.5 0.5 0.5 -3.5 0.5 2 0.5 1 0.5 1.5 0.5 -8.5 0.5 12.5 0.5 -7.5 0.5 2.5 0.5 -2.5 0.5 3.5 0.5 -2.5 0.5 3.5 0.5 -9 0.5 -1 0.5 14 0.5 -13.5 0.5 12.5 0.5 -11.5 0.5 -2.5 0.5 1.5 0.5 3 0.5 2.5 0.5 5.5 0.5 -8.5 0.5 5 0.5 2.5 0.5 -8.5 0.5 -1.5 0.5 5 0.5 0.5 0.5 -1.5 0.5 0 0.5 6.5 0.5 -2.5 0.5 -6 0.5 4.5 0.5 -3.5 0.5 10 0.5 -6.5 0.5 -7.5 0.5 6.5 0.5 -6 0.5 9 0.5 -4.5 0.5 5.5 0.5 -6.5 0.5 11 0.5 -10 0.5 3 0.5 7 0.5 -5.5 0.5 -7.5 0.5 -1 0.5 4.5 0.5 10.5 0.5 -17.5 0.5 11 0.5 -0.5 0.5 -7 0.5 1.5 0.5 3 0.5 0 0.5 -16 0.5 16.5 0.5 -2 0.5 7 0.5 -8 0.5 -3.5 0.5 2 0.5 2.5 0.5 -1 0.5 -7 0.5 12.5 0.5 -1.5 0.5 -13.5 0.5 -1 0.5 6 0.5 1 0.5 -3.5 0.5 11 0.5 -11 0.5 6 0.5 -3.5 0.5 -10 0.5 9 0.5 4 0.5 -2.5 0.5 -6 0.5 7.5 0.5 -6 0.5 2 0.5 3.5 0.5 -5 0.5 0.5 0.5 -0.5 0.5 10.5 0.5 -5 0.5 -0.5 0.5 3 0.5 3 0.5 -1 0.5 -1.5 0.5 -5 0.5 2 0.5 4 0.5 -3 0.5 -0.5 0.5 3 0.5 -6.5 0.5 3 0.5 -4 0.5 4.5 0.5 -1 0.5 -2 0.5 7 0.5 0 0.5 -4 0.5 8.5 0.5 -7.5 0.5 -2 0.5 -3 0.5 -1.5 0.5 8.5 0.5 -4.5 0.5 -10.5 0.5 9.5 0.5 -6.5 0.5 13 0.5 -10.5 0.5 5 0.5 -2.5 0.5 -3.5 0.5 3.5 0.5 3.5 0.5 3 0.5 -6.5 0.5 -8 0.5 15.5 0.5 -2 0.5 -4.5 0.5 -6.5 0.5 7 0.5 -4.5 0.5 0.5 0.5 -1.5 0.5 3.5 0.5 -5.5 0.5 7.5 0.5 -3.5 0.5 -4.5 0.5 3.5 0.5 0.5 0.5 -9.5 0.5 1 0.5 6.5 0.5 2.5 0.5 -8.5 0.5 7 0.5 -1 0.5 -0.5 0.5 -6 0.5 7 0.5 0.5 0.5 6 0.5 -10 0.5 7 0.5 0.5 0.5 -5.5 0.5 5.5 0.5 -8.5 0.5 9 0.5 -8 0.5 -2.5 0.5 3 0.5 7.5 0.5 -8 0.5 -4 0.5 6 0.5 2 0.5 -2.5 0.5 -4 0.5 0.5 0.5 0 0.5 10 0.5 -17.5 0.5 13 0.5 2.5 0.5 -2 0.5 -6 0.5 0 0.5 -11 0.5 12.5 0.5 -9.5 0.5 7.5 0.5 -8 0.5 10 0.5 4.5 0.5 -1.5 0.5 -1 0.5 -8 0.5 7 0.5 -4.5 0.5 -1.5 0.5 2.5 0.5 0.5 0.5 3 0.5 -3 0.5 -6 0.5 -10.5 0.5 16.5 0.5 -5.5 0.5 1.5 0.5 7.5 0.5 -13 0.5 9.5 0.5 -7 0.5 -6.5 0.5 5.5 0.5 -0.5 0.5 7 0.5 -1.5 0.5 -7.5 0.5 2 0.5 7.5 0.5 -11 0.5 0 0.5 -5.5 0.5 11 0.5 -7 0.5 1 0.5 0 0.5 2.5 0.5 -2 0.5 -3 0.5 -8.5 0.5 10.5 0.5 -5 0.5 8 0.5 -4 0.5 2.5 0.5 -5.5 0.5 12.5 0.5 -16 0.5 7 0.5 -3 0.5 -5 0.5 3 0.5 -3 0.5 -3 0.5 12 0.5 -9.5 0.5 3 0.5 -1 0.5 -4 0.5 13 0.5 -9.5 0.5 5.5 0.5 -2.5 0.5 2 0.5 4 0.5 -1.5 0.5 -6.5 0.5 0.5 0.5 0 0.5 4 0.5 -0.5 0.5 -4 0.5 1 0.5 1 0.5 -6 0.5 12.5 0.5 -7.5 0.5 0 0.5 6.5 0.5 -6.5 0.5 -2 0.5 7.5 0.5 -3 0.5 4 0.5 -6 0.5 3.5 0.5 -11 0.5 7 0.5 4 0.5 -3 0.5 2.5 0.5 8 0.5 -4.5 0.5 3.5 0.5 1 0.5 -7.5 0.5 -8 0.5 8 0.5 -3.5 0.5 -0.5 0.5 8.5 0.5 -7 0.5 2 0.5 5.5 0.5 -8 0.5 -0.5 0.5 5 0.5 -4.5 0.5 0.5 0.5 -2.5 0.5 8 0.5 -12 0.5 3 0.5 -1 0.5 10 0.5 -4.5 0.5 0 0.5 3.5 0.5 -9 0.5 5.5 0.5 -8 0.5 7.5 0.5 -5 0.5 -1.5 0.5 10 0.5 -1 0.5 -1.5 0.5 -1.5 0.5 0 0.5 -2.5 0.5 3.5 0.5 -6.5 0.5 7.5 0.5 -5.5 0.5 4 0.5 -0.5 0.5 -10.5 0.5 10.5 0.5 -5 0.5 2 0.5 8 0.5 -12 0.5 5 0.5 6.5 0.5 -16.5 0.5 10 0.5 2.5 0.5 -0.5 0.5 -10 0.5 1.5 0.5 5.5 0.5 -7 0.5 5.5 0.5 0 0.5 2 0.5 -7 0.5 9 0.5 -6.5 0.5 4 0.5 -2 0.5 6.5 0.5 -11.5 0.5 9.5 0.5 -1 0.5 -3 0.5 5.5 0.5 4 0.5 -10.5 0.5 4 0.5 4.5 0.5 0 0.5 -13 0.5 5.5 0.5 -4.5 0.5 8 0.5 2.5 0.5 -9 0.5 11.5 0.5 -6 0.5 -0.5 0.5 1.5 0.5 -6 0.5 0.5 0.5 -6 0.5 7 0.5 1.5 0.5 2.5 0.5 2.5 0.5 -7 0.5 8 0.5 -11 0.5 1 0.5 0 0.5 6 0.5 3 0.5 -1 0.5 1 0.5 -2 0.5 0.5 0.5 -0.5 0.5 -3 0.5 3 0.5 -7.5 0.5 2 0.5 0 0.5 2 0.5 0.5 0.5 -3 0.5 1.5 0.5 1.5 0.5 -0.5 0.5 -1 0.5 -8.5 0.5 8.5 0.5 7.5 0.5 -11.5 0.5 6.5 0.5 -4 0.5 -4.5 0.5 6.5 0.5 -2.5 0.5 -4 0.5 12 0.5 -10.5 0.5 10.5 0.5 -4.5 0.5 2 0.5 -9.5 0.5 3.5 0.5 -1 0.5 -9.5 0.5 10 0.5 6 0.5 -10 0.5 5.5 0.5 -9 0.5 -3 0.5 13.5 0.5 -2 0.5 -6.5 0.5 5.5 0.5 4 0.5 -0.5 0.5 5 0.5 -4.5 0.5 1 0.5 4 0.5 -6 0.5 -9 0.5 4 0.5 2 0.5 3.5 0.5 -3 0.5 3 0.5 2 0.5 -5 0.5 -1 0.5 -3 0.5 7 0.5 2.5 0.5 -8.5 0.5 7.5 0.5 2 0.5 -6 0.5 3.5 0.5 -2 0.5 3.5 0.5 -2 0.5 -5.5 0.5 3 0.5 3 0.5 -4.5 0.5 -8.5 0.5 9.5 0.5 -8.5 0.5 7.5 0.5 2 0.5 4 0.5 -2 0.5 5.5 0.5 -12.5 0.5 5.5 0.5 2.5 0.5 -7 0.5 1 0.5 -1.5 0.5 -2 0.5 10.5 0.5 -11.5 0.5 4 0.5 -10.5 0.5 6 0.5 0 0.5 -2 0.5 1.5 0.5 5.5 0.5 2 0.5 -7 0.5 -2 0.5 1.5 0.5 0.5 0.5 -2 0.5 3 0.5 -3.5 0.5 4.5 0.5 1 0.5 2 0.5 -12.5 0.5 4 0.5 8 0.5 -0.5 0.5 -3.5 0.5 -3 0.5 7.5 0.5 -6 0.5 -3.5 0.5 4.5 0.5 -1.5 0.5 -8 0.5 0.5 0.5 6 0.5 -2.5 0.5 3 0.5 2.5 0.5 -1.5 0.5 -4.5 0.5 0 0.5 6.5 0.5 -1 0.5 0.5 0.5 2.5 0.5 -0.5 0.5 4 0.5 -7.5 0.5 3 0.5 -3 0.5 0 0.5 8 0.5 -6.5 0.5 -3.5 0.5 6.5 0.5 -6.5 0.5 2 0.5 -3.5 0.5 -1.5 0.5 1 0.5 10 0.5 -4 0.5 5 0.5 -0.5 0.5 -5 0.5 1.5 0.5 -3.5 0.5 2 0.5 0.5 0.5 0 0.5 -4.5 0.5 1 0.5 -2 0.5 2.5 0.5 3 0.5 -9 0.5 3.5 0.5 9 0.5 -12 0.5 1 0.5 2.5 0.5 -8 0.5 3 0.5 2 0.5 -1 0.5 3 0.5 7 0.5 -4 0.5 -6 0.5 -4 0.5 -2 0.5 2 0.5 -0.5 0.5 6.5 0.5 -5.5 0.5 3 0.5 -5 0.5 4.5 0.5 -1 0.5 -4 0.5 1 0.5 0.5 0.5 -6 0.5 0.5 0.5 5 0.5 -2 0.5 6 0.5 -3.5 0.5 1.5 0.5 2 0.5 -1.5 0.5 -5 0.5 5 0.5 0 0.5 -6 0.5 2.5 0.5 -4 0.5 3 0.5 -0.5 0.5 4.5 0.5 1.5 0.5 6 0.5 -21.5 0.5 8.5 0.5 0 0.5 -0.5 0.5 0 0.5 -2 0.5 3 0.5 0 0.5 1 0.5 -0.5 0.5 3 0.5 -1.5 0.5 -9.5 0.5 9 0.5 -3.5 0.5 5.5 0.5 -4.5 0.5 -6.5 0.5 8.5 0.5 -3.5 0.5 -1 0.5 -3.5 0.5 8.5 0.5 -4.5 0.5 2 0.5 2 0.5 -15.5 0.5 18.5 0.5 -2.5 0.5 -7.5 0.5 -9 0.5 8 0.5 0 0.5 -7 0.5 11.5 0.5 -14 0.5 8.5 0.5 1 0.5 0 0.5 2.5 0.5 -5.5 0.5 0 0.5 -1 0.5 -2.5 0.5 3.5 0.5 -9 0.5 9 0.5 -7.5 0.5 12.5 0.5 -10 0.5 12 0.5 -8.5 0.5 -7.5 0.5 -1.5 0.5 10.5 0.5 -4 0.5 3.5 0.5 -17.5 0.5 8 0.5 6.5 0.5 3.5 0.5 -4 0.5 6 0.5 -2.5 0.5 -7.5 0.5 8 0.5 -15 0.5 12 0.5 2.5 0.5 -1.5 0.5 -2.5 0.5 5 0.5 -5 0.5 -6 0.5 2 0.5 5 0.5 3 0.5 -7.5 0.5 7 0.5 -7 0.5 5.5 0.5 1.5 0.5 -5.5 0.5 1 0.5 4 0.5 2.5 0.5 -8 0.5 5.5 0.5 -6 0.5 6 0.5 -6 0.5 -1 0.5 0 0.5 6 0.5 -2 0.5 -0.5 0.5 0 0.5 -2 0.5 11 0.5 -14.5 0.5 0 0.5 7.5 0.5 -6.5 0.5 -1 0.5 8 0.5 -3.5 0.5 -8.5 0.5 13 0.5 -13.5 0.5 11.5 0.5 -10.5 0.5 5.5 0.5 -11 0.5 6 0.5 -2.5 0.5 9 0.5 5 0.5 -6.5 0.5 1 0.5 -11.5 0.5 9.5 0.5 -5 0.5 2.5 0.5 -1.5 0.5 3.5 0.5 -7.5 0.5 -1.5 0.5 0 0.5 10 0.5 -2 0.5 2 0.5 2.5 0.5 -13.5 0.5 6 0.5 4 0.5 -7.5 0.5 -5 0.5 7 0.5 3 0.5 -11.5 0.5 2.5 0.5 4.5 0.5 -1 0.5 4.5 0.5 -10.5 0.5 11.5 0.5 0.5 0.5 -4.5 0.5 -5 0.5 5.5 0.5 -2 0.5 1 0.5 -2 0.5 3 0.5 -1 0.5 -3.5 0.5 3 0.5 -2 0.5 1.5 0.5 1 0.5 -6 0.5 10 0.5 -15 0.5 10.5 0.5 -4.5 0.5 9 0.5 0 0.5 -10.5 0.5 8 0.5 -7.5 0.5 2.5 0.5 3 0.5 -2 0.5 4 0.5 0.5 0.5 -7 0.5 5 0.5 5.5 0.5 -10 0.5 2 0.5 -3.5 0.5 -2 0.5 6.5 0.5 -8.5 0.5 -6 0.5 11.5 0.5 -1 0.5 0.5 0.5 -0.5 0.5 -1 0.5 7.5 0.5 -8.5 0.5 -2.5 0.5 9 0.5 -8.5 0.5 8.5 0.5 -5 0.5 -4.5 0.5 3 0.5 5 0.5 -4.5 0.5 -1 0.5 3.5 0.5 3 0.5 -5 0.5 8.5 0.5 -4 0.5 -12 0.5 12.5 0.5 -9 0.5 0 0.5 4 0.5 -4 0.5 7.5 0.5 -0.5 0.5 -10 0.5 7 0.5 -3 0.5 2 0.5 8 0.5 -17 0.5 11.5 0.5 -0.5 0.5 -0.5 0.5 3.5 0.5 1.5 0.5 -2 0.5 0 0.5 -2 0.5 -6 0.5 5 0.5 1 0.5 -8 0.5 4 0.5 -1.5 0.5 4 0.5 -1 0.5 0.5 0.5 -4.5 0.5 0.5 0.5 4 0.5 -0.5 0.5 -8.5 0.5 12 0.5 -9 0.5 1.5 0.5 1 0.5 -6.5 0.5 13 0.5 -4.5 0.5 -4 0.5 3.5 0.5 -6 0.5 6 0.5 -3.5 0.5 4.5 0.5 6.5 0.5 -8.5 0.5 -4 0.5 3.5 0.5 -3 0.5 6 0.5 -2.5 0.5 2 0.5 -2 0.5 2.5 0.5 1 0.5 -6 0.5 8.5 0.5 -11 0.5 3.5 0.5 0 0.5 7 0.5 -3 0.5 2 0.5 -9 0.5 -2 0.5 10 0.5 -14.5 0.5 9 0.5 -6.5 0.5 9 0.5 -4.5 0.5 2 0.5 0.5 0.5 0 0.5 -2 0.5 -3 0.5 9 0.5 -4 0.5 -4.5 0.5 10 0.5 -6 0.5 4 0.5 2 0.5 -8 0.5 8.5 0.5 0.5 0.5 -11.5 0.5 8.5 0.5 -0.5 0.5 0 0.5 -4 0.5 -0.5 0.5 2 0.5 5 0.5 -4.5 0.5 -0.5 0.5 6.5 0.5 -4 0.5 -3 0.5 8 0.5 -7.5 0.5 1.5 0.5 -3.5 0.5 1.5 0.5 -5 0.5 0.5 0.5 10 0.5 -7.5 0.5 -5 0.5 1 0.5 7 0.5 -6.5 0.5 -6 0.5 2.5 0.5 3 0.5 2.5 0.5 -1.5 0.5 -9.5 0.5 5.5 0.5 -4.5 0.5 11 0.5 -4.5 0.5 -2.5 0.5 1.5 0.5 10.5 0.5 -13 0.5 10.5 0.5 -9.5 0.5 10 0.5 -11 0.5 4 0.5 -6 0.5 9.5 0.5 3.5 0.5 -13 0.5 1.5 0.5 -4 0.5 6 0.5 -4.5 0.5 5.5 0.5 -2.5 0.5 8.5 0.5 -7.5 0.5 0.5 0.5 3 0.5 -0.5 0.5 -11.5 0.5 7 0.5 3 0.5 -8.5 0.5 2.5 0.5 2 0.5 6.5 0.5 -2 0.5 4 0.5 0.5 0.5 1.5 0.5 -6 0.5 -4.5 0.5 8 0.5 -3.5 0.5 -5 0.5 -1 0.5 6 0.5 -6 0.5 4 0.5 3 0.5 -4.5 0.5 2 0.5 -4.5 0.5 3.5 0.5 2.5 0.5 -2 0.5 -3 0.5 6.5 0.5 -3.5 0.5 -2 0.5 -1.5 0.5 1 0.5 -3.5 0.5 7.5 0.5 2 0.5 -6.5 0.5 1 0.5 -0.5 0.5 -2 0.5 9.5 0.5 -9.5 0.5 4 0.5 -6.5 0.5 0.5 0.5 3.5 0.5 7.5 0.5 -9.5 0.5 1.5 0.5 5.5 0.5 0 0.5 0.5 0.5 -5 0.5 3.5 0.5 -1 0.5 -4.5 0.5 -3.5 0.5 8.5 0.5 -10 0.5 4 0.5 1 0.5 -1 0.5 -3.5 0.5 6 0.5 1.5 0.5 -3.5 0.5 -3 0.5 4.5 0.5 -8 0.5 7 0.5 5.5 0.5 -8 0.5 7 0.5 -6.5 0.5 -3 0.5 4 0.5 -0.5 0.5 0 0.5 -4 0.5 -1 0.5 10 0.5 -2.5 0.5 -1.5 0.5 1 0.5 1.5 0.5 -8.5 0.5 6 0.5 1.5 0.5 2 0.5 5 0.5 -9.5 0.5 -9 0.5 7 0.5 4.5 0.5 6.5 0.5 -11.5 0.5 3.5 0.5 1.5 0.5 -5.5 0.5 11.5 0.5 -13 0.5 4 0.5 1 0.5 -2.5 0.5 0 0.5 -0.5 0.5 5 0.5 -5 0.5 5.5 0.5 -8 0.5 3.5 0.5 6 0.5 -2 0.5 -2.5 0.5 3.5 0.5 2.5 0.5 -7 0.5 -1.5 0.5 -0.5 0.5 3.5 0.5 8.5 0.5 -11 0.5 -0.5 0.5 7.5 0.5 -6 0.5 -1.5 0.5 -3 0.5 4 0.5 3.5 0.5 -1.5 0.5 -10 0.5 4.5 0.5 1 0.5 0 0.5 4.5 0.5 -1.5 0.5 0 0.5 -3.5 0.5 6.5 0.5 -8 0.5 2 0.5 1.5 0.5 6 0.5 -6 0.5 3.5 0.5 -9 0.5 1.5 0.5 2.5 0.5 -12.5 0.5 11 0.5 4.5 0.5 -5 0.5 -0.5 0.5 -1 0.5 -5 0.5 4.5 0.5 9.5 0.5 -12.5 0.5 7.5 0.5 -2 0.5 -5 0.5 9 0.5 -5.5 0.5 2.5 0.5 1.5 0.5 -1.5 0.5 -6.5 0.5 -3.5 0.5 6.5 0.5 -5.5 0.5 1 0.5 1.5 0.5 -5 0.5 8.5 0.5 -4.5 0.5 -4.5 0.5 5 0.5 5.5 0.5 -6 0.5 -2 0.5 13.5 0.5 -11 0.5 7.5 0.5 -9 0.5 0.5 0.5 -4 0.5 -2 0.5 11 0.5 -4 0.5 10 0.5 -3 0.5 0.5 0.5 0.5 0.5 -2.5 0.5 -1.5" fill="none" stroke="#008000" stroke-width="6.5" stroke-linejoin="round" stroke-linecap="round"/>
<path d="M367,3225l0.5 -40 0.5 -17 0.5 -11 0.5 -12.5 0.5 -10 0.5 -4.5 0.5 -8.5 0.5 -3.5 0.5 -2.5 0.5 -5.5 0.5 -6.5 0.5 -6 0.5 -3.5 0.5 2.5 0.5 3.5 0.5 -10 0.5 -8 0.5 2 0.5 2.5 0.5 -4.5 0.5 -8 0.5 3.5 0.5 1 0.5 -1 0.5 -14 0.5 5 0.5 3 0.5 4.5 0.5 -5 0.5 -11.5 0.5 8.5 0.5 -8 0.5 0 0.5 -1.5 0.5 0.5 0.5 6 0.5 -13 0.5 7 0.5 -4 0.5 2.5 0.5 -1 0.5 -3.5 0.5 2 0.5 2.5 0.5 -10 0.5 9 0.5 -4.5 0.5 4.5 0.5 -16 0.5 8 0.5 -2 0.5 -2 0.5 -6.5 0.5 7 0.5 -0.5 0.5 -3 0.5 0.5 0.5 7 0.5 -5 0.5 4.5 0.5 4 0.5 -9 0.5 0 0.5 -8 0.5 -1.5 0.5 7 0.5 -2 0.5 4 0.5 0 0.5 -6 0.5 1 0.5 -6.5 0.5 5 0.5 -10.5 0.5 7.5 0.5 2.5 0.5 -15 0.5 4 0.5 5 0.5 -2 0.5 -1.5 0.5 -6.5 0.5 10.5 0.5 -6 0.5 -2 0.5 0.5 0.5 -2 0.5 -1 0.5 -3 0.5 -2 0.5 -7.5 0.5 10 0.5 2.5 0.5 -14.5 0.5 6.5 0.5 -4 0.5 -4.5 0.5 1 0.5 -6 0.5 9.5 0.5 -4 0.5 3 0.5 3 0.5 -3.5 0.5 -7.5 0.5 8.5 0.5 -5.5 0.5 -0.5 0.5 -4 0.5 3.5 0.5 -3.5 0.5 -2 0.5 0 0.5 7.5 0.5 0 0.5 -8.5 0.5 -0.5 0.5 4 0.5 -6 0.5 0 0.5 5.5 0.5 4.5 0.5 -5.5 0.5 -2 0.5 0.5 0.5 0 0.5 -3 0.5 3.5 0.5 -2 0.5 2.5 0.5 -2.5 0.5 2.5 0.5 -2 0.5 -2.5 0.5 -3.5 0.5 9.5 0.5 0.5 0.5 -2.5 0.5 -2.5 0.5 -10 0.5 6 0.5 12 0.5 -16 0.5 -2 0.5 8.5 0.5 -15.5 0.5 11.5 0.5 -1.5 0.5 -3 0.5 8.5 0.5 -10.5 0.5 4.5 0.5 -6.5 0.5 3 0.5 5 0.5 -12 0.5 13.5 0.5 -12 0.5 6.5 0.5 4 0.5 -3.5 0.5 -10.5 0.5 14.5 0.5 1 0.5 -5 0.5 -11.5 0.5 1.5 0.5 -2 0.5 4.5 0.5 0.5 0.5 -6 0.5 7.5 0.5 -2 0.5 -4.5 0.5 -3 0.5 -11 0.5 8.5 0.5 6.5 0.5 -18.5 0.5 10.5 0.5 -3.5 0.5 4.5 0.5 2 0.5 -0.5 0.5 -11 0.5 7.5 0.5 1 0.5 3.5 0.5 0 0.5 -7.5 0.5 8.5 0.5 -6.5 0.5 3.5 0.5 -3 0.5 -4 0.5 3.5 0.5 -1 0.5 -2 0.5 3 0.5 -5.5 0.5 4.5 0.5 2 0.5 -10.5 0.5 5 0.5 3 0.5 3.5 0.5 -10 0.5 -1.5 0.5 9 0.5 -11.5 0.5 6 0.5 -3 0.5 7.5 0.5 -4 0.5 -4 0.5 4.5 0.5 -7 0.5 4 0.5 -9.5 0.5 7 0.5 0 0.5 -0.5 0.5 -5 0.5 10.5 0.5 -12 0.5 13.5 0.5 -11.5 0.5 2.5 0.5 -3 0.5 -2.5 0.5 9 0.5 -4.5 0.5 8.5 0.5 -13 0.5 -0.5 0.5 9 0.5 -12.5 0.5 14.5 0.5 -0.5 0.5 -13 0.5 12 0.5 -4 0.5 -4 0.5 1.5 0.5 3 0.5 -4 0.5 -0.5 0.5 -1.5 0.5 0 0.5 -4.5 0.5 3 0.5 -0.5 0.5 2 0.5 -6.5 0.5 4.5 0.5 -4.5 0.5 2 0.5 0.5 0.5 -3 0.5 9 0.5 -3 0.5 0.5 0.5 1 0.5 -11.5 0.5 5 0.5 -0.5 0.5 -0.5 0.5 0.5 0.5 -5 0.5 -3.5 0.5 3.5 0.5 0.5 0.5 0.5 0.5 2 0.5 -5 0.5 -2 0.5 3 0.5 -2.5 0.5 3 0.5 -9 0.5 6 0.5 -1 0.5 -2 0.5 4 0.5 1.5 0.5 -4.5 0.5 3.5 0.5 -4 0.5 1.5 0.5 3.5 0.5 -8.5 0.5 4.5 0.5 0 0.5 -8 0.5 14.5 0.5 5 0.5 2.5 0.5 -7.5 0.5 -4 0.5 -1 0.5 -3.5 0.5 -3.5 0.5 -2 0.5 10 0.5 -2.5 0.5 -5.5 0.5 -1 0.5 5.5 0.5 -3.5 0.5 0 0.5 5.5 0.5 -2 0.5 -7 0.5 3 0.5 2.5 0.5 -1.5 0.5 0 0.5 -1.5 0.5 -2 0.5 13 0.5 -15.5 0.5 6 0.5 -2 0.5 -1.5 0.5 4 0.5 2 0.5 -3 0.5 -4.5 0.5 3.5 0.5 -3 0.5 1.5 0.5 3 0.5 1 0.5 -8.5 0.5 4 0.5 -5 0.5 6 0.5 -2.5 0.5 6.5 0.5 -1 0.5 -1 0.5 -6 0.5 5 0.5 -4.5 0.5 2 0.5 -7 0.5 6.5 0.5 0.5 0.5 -4 0.5 2 0.5 -8 0.5 11.5 0.5 2 0.5 -2.5 0.5 -8 0.5 2.5 0.5 -10.5 0.5 10.5 0.5 7.5 0.5 -12 0.5 7.5 0.5 -5.5 0.5 -3 0.5 -1.5 0.5 5 0.5 -1.5 0.5 -3.5 0.5 -1.5 0.5 1.5 0.5 -3.5 0.5 -3.5 0.5 3 0.5 -0.5 0.5 -1 0.5 5.5 0.5 3 0.5 -2.5 0.5 2 0.5 -14 0.5 8 0.5 0.5 0.5 5 0.5 -9 0.5 -1 0.5 11 0.5 -7.5 0.5 14.5 0.5 -8.5 0.5 -9 0.5 9.5 0.5 -7 0.5 12 0.5 -9.5 0.5 -1.5 0.5 -7.5 0.5 9 0.5 -7.5 0.5 6.5 0.5 -9 0.5 9 0.5 -2 0.5 5.5 0.5 -1 0.5 -2 0.5 -5 0.5 6.5 0.5 0 0.5 0 0.5 -7 0.5 8.5 0.5 -0.5 0.5 -1 0.5 -6.5 0.5 -1 0.5 1.5 0.5 1 0.5 -3.5 0.5 6.5 0.5 -4.5 0.5 -2 0.5 1.5 0.5 7.5 0.5 -14 0.5 10.5 0.5 -1 0.5 2 0.5 -6 0.5 -9.5 0.5 9 0.5 -8 0.5 11 0.5 -0.5 0.5 -5 0.5 0.5 0.5 6 0.5 -14 0.5 5.5 0.5 2 0.5 4 0.5 -2 0.5 1.5 0.5 -5.5 0.5 5 0.5 -9 0.5 7.5 0.5 -5 0.5 -6 0.5 5 0.5 -6 0.5 2 0.5 0 0.5 9.5 0.5 -8.5 0.5 -2 0.5 -1.5 0.5 4 0.5 1.5 0.5 2 0.5 -4 0.5 0.5 0.5 -9.5 0.5 9 0.5 -4 0.5 2 0.5 -16 0.5 17.5 0.5 -5 0.5 5 0.5 -7.5 0.5 9.5 0.5 -9 0.5 6 0.5 1 0.5 -3.5 0.5 1.5 0.5 -0.5 0.5 -0.5 0.5 -2 0.5 1 0.5 1.5 0.5 -4.5 0.5 2.5 0.5 -5 0.5 1.5 0.5 -0.5 0.5 7.5 0.5 -4.5 0.5 -2 0.5 4.5 0.5 2.5 0.5 -5.5 0.5 2 0.5 -6.5 0.5 0.5 0.5 3.5 0.5 2.5 0.5 -4 0.5 7 0.5 -11.5 0.5 7.5 0.5 0.5 0.5 0 0.5 -6.5 0.5 -1.5 0.5 4.5 0.5 6 0.5 -6 0.5 3.5 0.5 -10 0.5 9 0.5 -15.5 0.5 16.5 0.5 -6.5 0.5 5.5 0.5 -1 0.5 0 0.5 0 0.5 -3 0.5 -6 0.5 2 0.5 -3.5 0.5 -1.5 0.5 4 0.5 2.5 0.5 -4.5 0.5 -1 0.5 3 0.5 -9 0.5 11 0.5 -1 0.5 2 0.5 -7.5 0.5 7.5 0.5 -2 0.5 0.5 0.5 -2.5 0.5 7.5 0.5 -6.5 0.5 -0.5 0.5 -3 0.5 0.5 0.5 -0.5 0.5 2.5 0.5 -1.5 0.5 -5 0.5 4.5 0.5 2.5 0.5 -12 0.5 8 0.5 -4 0.5 -1.5 0.5 -0.5 0.5 4.5 0.5 2 0.5 -5.5 0.5 -1.5 0.5 2 0.5 0 0.5 -8 0.5 9.5 0.5 -7.5 0.5 1 0.5 9 0.5 -15 0.5 5 0.5 3.5 0.5 -3 0.5 -1.5 0.5 15 0.5 -12.5 0.5 1 0.5 8 0.5 -7.5 0.5 -2 0.5 2 0.5 -10 0.5 6 0.5 2.5 0.5 0 0.5 -4.5 0.5 -1 0.5 -2 0.5 7 0.5 2.5 0.5 -6 0.5 3.5 0.5 -8 0.5 -3 0.5 7.5 0.5 0.5 0.5 7 0.5 -4 0.5 -11 0.5 0 0.5 4 0.5 -1 0.5 -6.5 0.5 8.5 0.5 -1 0.5 2.5 0.5 -3.5 0.5 5.5 0.5 -1 0.5 -3.5 0.5 -5 0.5 3 0.5 8 0.5 -9.5 0.5 3.5 0.5 -3.5 0.5 -1 0.5 6.5 0.5 -1 0.5 0 0.5 -12 0.5 4.5 0.5 8 0.5 -7 0.5 -1.5 0.5 -5.5 0.5 2.5 0.5 4.5 0.5 -2 0.5 6.5 0.5 -6.5 0.5 -1.5 0.5 -6.5 0.5 15.5 0.5 -14 0.5 9 0.5 -10 0.5 11.5 0.5 -10 0.5 -2.5 0.5 -4.5 0.5 15 0.5 -0.5 0.5 -2 0.5 7.5 0.5 -7 0.5 -2 0.5 -10 0.5 8 0.5 -2 0.5 -3.5 0.5 5 0.5 1.5 0.5 -2 0.5 -6.5 0.5 4 0.5 -7.5 0.5 3 0.5 -1.5 0.5 7 0.5 6.5 0.5 -13 0.5 1.5 0.5 -1 0.5 3 0.5 5 0.5 -3 0.5 11.5 0.5 -10 0.5 -4.5 0.5 0.5 0.5 -2.5 0.5 -0.5 0.5 -5.5 0.5 4.5 0.5 -1 0.5 2.5 0.5 -4.5 0.5 4.5 0.5 -5 0.5 -2 0.5 4.5 0.5 -2 0.5 13 0.5 -17 0.5 8 0.5 -5 0.5 11.5 0.5 -8.5 0.5 -5.5 0.5 4.5 0.5 -11.5 0.5 5 0.5 4 0.5 1 0.5 -3 0.5 -3.5 0.5 5.5 0.5 -9.5 0.5 6 0.5 0.5 0.5 -4.5 0.5 0.5 0.5 6 0.5 -3.5 0.5 -0.5 0.5 4.5 0.5 3 0.5 -3 0.5 -8 0.5 1 0.5 -2 0.5 8 0.5 1 0.5 -5 0.5 -2.5 0.5 2.5 0.5 -7.5 0.5 5 0.5 -8.5 0.5 8.5 0.5 -3 0.5 5.5 0.5 -2 0.5 0.5 0.5 1.5 0.5 -5 0.5 -5 0.5 6 0.5 -1.5 0.5 7.5 0.5 -12 0.5 -3 0.5 4.5 0.5 5 0.5 0 0.5 -3.5 0.5 0 0.5 -5 0.5 7.5 0.5 -4.5 0.5 4 0.5 -8.5 0.5 3 0.5 1 0.5 -10 0.5 8.5 0.5 -2 0.5 0.5 0.5 3.5 0.5 -6 0.5 2.5 0.5 -4.5 0.5 6 0.5 -6 0.5 4.5 0.5 -2 0.5 5 0.5 -7 0.5 5 0.5 1 0.5 -7 0.5 -1.5 0.5 1.5 0.5 0.5 0.5 6 0.5 1.5 0.5 -9 0.5 -2 0.5 -7 0.5 5 0.5 -0.5 0.5 2.5 0.5 1 0.5 -6.5 0.5 4.5 0.5 0 0.5 4.5 0.5 0 0.5 -4.5 0.5 7.5 0.5 4.5 0.5 -8 0.5 -1 0.5 -3 0.5 -10.5 0.5 6 0.5 0 0.5 -1.5 0.5 2 0.5 2.5 0.5 0 0.5 4 0.5 1.5 0.5 -17.5 0.5 6.5 0.5 -0.5 0.5 -5.5 0.5 0 0.5 4.5 0.5 0 0.5 7 0.5 4.5 0.5 -10.5 0.5 4 0.5 -3.5 0.5 -1 0.5 -1 0.5 -3.5 0.5 10 0.5 -3 0.5 2.5 0.5 -7 0.5 1.5 0.5 2 0.5 -7.5 0.5 6 0.5 -6 0.5 -5.5 0.5 15 0.5 -9 0.5 11.5 0.5 -8 0.5 -0.5 0.5 4.5 0.5 -1 0.5 -9.5 0.5 2 0.5 -2.5 0.5 2 0.5 5 0.5 -6.5 0.5 0 0.5 -3.5 0.5 6 0.5 -0.5 0.5 3 0.5 -1 0.5 -9 0.5 5 0.5 0.5 0.5 1.5 0.5 -3 0.5 -3 0.5 2.5 0.5 3.5 0.5 6 0.5 -2.5 0.5 -5.5 0.5 -9 0.5 8 0.5 -0.5 0.5 4 0.5 -1.5 0.5 -4 0.5 2.5 0.5 -0.5 0.5 4 0.5 -1.5 0.5 -6.5 0.5 -3.5 0.5 8.5 0.5 -10.5 0.5 10.5 0.5 -3.5 0.5 8.5 0.5 -15.5 0.5 9 0.5 -10.5 0.5 9 0.5 -7.5 0.5 3.5 0.5 -2 0.5 7 0.5 -7.5 0.5 5 0.5 -3.5 0.5 2.5 0.5 3.5 0.5 -11 0.5 5 0.5 -6 0.5 0.5 0.5 2.5 0.5 4 0.5 -3.5 0.5 -4.5 0.5 2.5 0.5 2 0.5 1 0.5 -1.5 0.5 7 0.5 -14 0.5 6.5 0.5 1.5 0.5 5.5 0.5 2 0.5 -8.5 0.5 -0.5 0.5 5 0.5 -4 0.5 -2 0.5 5 0.5 -2 0.5 -5 0.5 -1 0.5 4.5 0.5 -4.5 0.5 4 0.5 4 0.5 -8 0.5 6.5 0.5 4.5 0.5 -14 0.5 2.5 0.5 1.5 0.5 0 0.5 6 0.5 0 0.5 -2.5 0.5 -7.5 0.5 6.5 0.5 1 0.5 3 0.5 -3.5 0.5 5.5 0.5 -10 0.5 4 0.5 -7.5 0.5 3.5 0.5 1 0.5 -1.5 0.5 -0.5 0.5 4 0.5 -3.5 0.5 2 0.5 4.5 0.5 -2 0.5 2 0.5 -1.5 0.5 4 0.5 -12 0.5 5.5 0.5 5 0.5 -6 0.5 1.5 0.5 3.5 0.5 -4.5 0.5 6.5 0.5 3 0.5 -14.5 0.5 3 0.5 -3.5 0.5 7.5 0.5 0.5 0.5 -15 0.5 6.5 0.5 3 0.5 -0.5 0.5 -1 0.5 7.5 0.5 -6 0.5 3.5 0.5 1 0.5 -7.5 0.5 2.5 0.5 2 0.5 2.5 0.5 -7 0.5 5.5 0.5 1 0.5 2 0.5 -3.5 0.5 -8.5 0.5 8 0.5 -4.5 0.5 1.5 0.5 -1 0.5 -1 0.5 -1 0.5 10.5 0.5 -9 0.5 1 0.5 -1.5 0.5 3 0.5 2.5 0.5 -4.5 0.5 6.5 0.5 -2.5 0.5 -3.5 0.5 -6 0.5 11 0.5 -7 0.5 -0.5 0.5 2.5 0.5 3.5 0.5 -5.5 0.5 2 0.5 7.5 0.5 -13.5 0.5 0 0.5 3.5 0.5 5 0.5 -2 0.5 5 0.5 0 0.5 -9.5 0.5 -5.5 0.5 4 0.5 5.5 0.5 -4.5 0.5 -2.5 0.5 7 0.5 -6.5 0.5 0 0.5 8.5 0.5 -0.5 0.5 -7 0.5 -1 0.5 2.5 0.5 -4 0.5 2.5 0.5 -2.5 0.5 -1 0.5 -2 0.5 1 0.5 10.5 0.5 -14.5 0.5 7 0.5 0.5 0.5 -2 0.5 7.5 0.5 -5.5 0.5 0.5 0.5 2 0.5 2 0.5 -0.5 0.5 -4 0.5 5.5 0.5 -5 0.5 0.5 0.5 -4.5 0.5 5 0.5 -4 0.5 5 0.5 0 0.5 8.5 0.5 -13.5 0.5 -3 0.5 5.5 0.5 -4.5 0.5 7 0.5 -9.5 0.5 2.5 0.5 10.5 0.5 -3 0.5 -3.5 0.5 -3.5 0.5 6 0.5 2.5 0.5 -11.5 0.5 5.5 0.5 7 0.5 -8.5 0.5 -0.5 0.5 1.5 0.5 -6 0.5 -4 0.5 5.5 0.5 6.5 0.5 -2.5 0.5 -1.5 0.5 -4.5 0.5 2.5 0.5 -3 0.5 4.5 0.5 -6.5 0.5 15 0.5 -10.5 0.5 -1 0.5 -6 0.5 -2 0.5 -1 0.5 9 0.5 -1 0.5 -0.5 0.5 -1 0.5 2 0.5 -7.5 0.5 3 0.5 -1 0.5 7.5 0.5 -2 0.5 3.5 0.5 -13 0.5 2.5 0.5 2 0.5 -2.5 0.5 2.5 0.5 6 0.5 -1.5 0.5 -11 0.5 7.5 0.5 1.5 0.5 10.5 0.5 -15.5 0.5 -4.5 0.5 6.5 0.5 -6 0.5 -0.5 0.5 6 0.5 -3.5 0.5 5 0.5 -3.5 0.5 -3.5 0.5 11.5 0.5 2 0.5 -11 0.5 -1.5 0.5 4 0.5 -4 0.5 7 0.5 -6 0.5 4.5 0.5 -7 0.5 2.5 0.5 -2 0.5 10.5 0.5 -11.5 0.5 6 0.5 -4.5 0.5 -2 0.5 4 0.5 5.5 0.5 -0.5 0.5 -6 0.5 -12.5 0.5 11 0.5 -4 0.5 1 0.5 9.5 0.5 -9 0.5 1 0.5 -1 0.5 7 0.5 -16.5 0.5 15 0.5 0.5 0.5 -4 0.5 -3.5 0.5 0 0.5 6 0.5 -4.5 0.5 0 0.5 -5.5 0.5 5.5 0.5 -5.5 0.5 -10 0.5 16 0.5 -7 0.5 6.5 0.5 -8.5 0.5 8.5 0.5 3 0.5 -10 0.5 5.5 0.5 -9 0.5 6 0.5 3.5 0.5 2.5 0.5 -2.5 0.5 -6 0.5 3.5 0.5 -3 0.5 -3 0.5 -2.5 0.5 2 0.5 -2.5 0.5 8 0.5 -5.5 0.5 3.5 0.5 -4 0.5 -1 0.5 5.5 0.5 -9.5 0.5 10.5 0.5 -9 0.5 -0.5 0.5 2 0.5 9.5 0.5 -4 0.5 3 0.5 -11 0.5 -3.5 0.5 9.5 0.5 -5.5 0.5 -2 0.5 -1 0.5 4 0.5 -3 0.5 -5 0.5 4.5 0.5 -4.5 0.5 -1 0.5 11.5 0.5 -11 0.5 0.5 0.5 7.5 0.5 6 0.5 -6.5 0.5 1 0.5 -3.5 0.5 -2 0.5 -2.5 0.5 6 0.5 -3 0.5 -1.5 0.5 -1.5 0.5 4 0.5 -9.5 0.5 11 0.5 -2.5 0.5 -4.5 0.5 7 0.5 2.5 0.5 -5 0.5 -8 0.5 8.5 0.5 -1.5 0.5 -8.5 0.5 8.5 0.5 -5.5 0.5 8.5 0.5 -9.5 0.5 3.5 0.5 -0.5 0.5 0 0.5 -3 0.5 -1.5 0.5 3.5 0.5 2 0.5 -3.5 0.5 -3 0.5 2.5 0.5 1 0.5 2 0.5 -2.5 0.5 4.5 0.5 -1 0.5 4.5 0.5 -10 0.5 11 0.5 0 0.5 -6.5 0.5 5.5 0.5 -7 0.5 -2.5 0.5 5 0.5 0.5 0.5 -1 0.5 0 0.5 -9.5 0.5 4 0.5 -2 0.5 3 0.5 2.5 0.5 -2 0.5 12 0.5 -9 0.5 -2 0.5 -6.5 0.5 4.5 0.5 2.5 0.5 -5 0.5 3.5 0.5 -1 0.5 -2 0.5 1 0.5 1.5 0.5 2 0.5 -3.5 0.5 -5.5 0.5 10.5 0.5 0 0.5 -3 0.5 4.5 0.5 -8.5 0.5 1 0.5 8.5 0.5 -4.5 0.5 -0.5 0.5 8 0.5 -2.5 0.5 -8.5 0.5 2 0.5 -1.5 0.5 -2.5 0.5 4.5 0.5 -5.5 0.5 6.5 0.5 -2 0.5 3 0.5 -6.5 0.5 0.5 0.5 0.5 0.5 -7 0.5 11.5 0.5 -3.5 0.5 9.5 0.5 -6 0.5 -3.5 0.5 -3.5 0.5 1.5 0.5 3.5 0.5 4 0.5 -9 0.5 0 0.5 4.5 0.5 2.5 0.5 -10.5 0.5 9.5 0.5 -7 0.5 1 0.5 9 0.5 -12 0.5 2.5 0.5 0.5 0.5 -6.5 0.5 5.5 0.5 3 0.5 -6 0.5 6 0.5 -4.5 0.5 -0.5 0.5 4.5 0.5 -6.5 0.5 3.5 0.5 5 0.5 -13.5 0.5 13 0.5 -4 0.5 -5 0.5 9 0.5 -1.5 0.5 4 0.5 -10 0.5 1.5 0.5 5 0.5 -0.5 0.5 2 0.5 -10 0.5 12 0.5 -4 0.5 0 0.5 3.5 0.5 -4 0.5 10 0.5 -9 0.5 1.5 0.5 0 0.5 -4 0.5 9.5 0.5 -5 0.5 -3.5 0.5 -1 0.5 11.5 0.5 3 0.5 -4.5 0.5 0.5 0.5 -4.5 0.5 -3 0.5 6 0.5 0.5 0.5 -3.5 0.5 0.5 0.5 -9.5 0.5 6 0.5 2 0.5 3.5 0.5 -5 0.5 6 0.5 -7 0.5 6.5 0.5 -8.5 0.5 4.5 0.5 -4 0.5 12.5 0.5 -17.5 0.5 -2.5 0.5 6.5 0.5 1 0.5 -5 0.5 5 0.5 -0.5 0.5 0 0.5 -5 0.5 3 0.5 1.5 0.5 -1.5 0.5 -5 0.5 10.5 0.5 -6 0.5 8 0.5 6.5 0.5 -18 0.5 0 0.5 1 0.5 8 0.5 -1.5 0.5 -3.5 0.5 6 0.5 9 0.5 -9.5 0.5 2.5 0.5 -10 0.5 -3 0.5 12.5 0.5 -4 0.5 10 0.5 -7 0.5 -7.5 0.5 4.5 0.5 -9.5 0.5 10 0.5 0.5 0.5 -2 0.5 7 0.5 -6 0.5 -4.5 0.5 8 0.5 -4.5 0.5 -1.5 0.5 -8.5 0.5 12 0.5 -2.5 0.5 -6 0.5 10 0.5 -5.5 0.5 4.5 0.5 -5.5 0.5 2 0.5 -7.5 0.5 -2 0.5 11 0.5 -13 0.5 9.5 0.5 -4.5 0.5 7 0.5 -3.5 0.5 0.5 0.5 1 0.5 -6 0.5 4 0.5 2.5 0.5 -11 0.5 2 0.5 7 0.5 4 0.5 -11.5 0.5 3.5 0.5 -3.5 0.5 -2.5 0.5 5 0.5 2 0.5 -3 0.5 8.5 0.5 -10.5 0.5 7 0.5 -3.5 0.5 2 0.5 3 0.5 -5 0.5 4 0.5 3.5 0.5 -2.5 0.5 -5 0.5 -1.5 0.5 0.5 0.5 6.5 0.5 -4.5 0.5 -1 0.5 1.5 0.5 1 0.5 -8 0.5 10.5 0.5 0.5 0.5 -7 0.5 -1 0.5 4 0.5 -4.5 0.5 5.5 0.5 -0.5 0.5 -2 0.5 1.5 0.5 4 0.5 1.5 0.5 -5.5 0.5 -15 0.5 13.5 0.5 -10 0.5 10 0.5 1 0.5 3 0.5 -3.5 0.5 -7.5 0.5 5 0.5 -4.5 0.5 -1 0.5 0.5 0.5 0.5 0.5 6 0.5 -5 0.5 -1.5 0.5 2.5 0.5 2.5 0.5 -8.5 0.5 -0.5 0.5 -1.5 0.5 4 0.5 0.5 0.5 -2 0.5 7 0.5 -13.5 0.5 0.5 0.5 14.5 0.5 -6.5 0.5 -1 0.5 6.5 0.5 -11 0.5 3 0.5 1.5 0.5 7.5 0.5 -12.5 0.5 9 0.5 -10.5 0.5 8 0.5 4 0.5 -7.5 0.5 -3 0.5 6 0.5 0.5 0.5 -3 0.5 -1.5 0.5 -3.5 0.5 6 0.5 0 0.5 -0.5 0.5 2 0.5 0 0.5 -6 0.5 -0.5 0.5 1.5 0.5 2.5 0.5 -5 0.5 3 0.5 -5 0.5 7 0.5 -7 0.5 -2.5 0.5 3 0.5 7 0.5 -10.5 0.5 0 0.5 5.5 0.5 -1.5 0.5 -5.5 0.5 5 0.5 0.5 0.5 -5 0.5 6 0.5 9.5 0.5 0 0.5 -15.5 0.5 6 0.5 -9 0.5 1 0.5 6 0.5 -1 0.5 5 0.5 3 0.5 -1 0.5 -6.5 0.5 1.5 0.5 2 0.5 1.5 0.5 -5 0.5 2 0.5 3.5 0.5 0 0.5 -14.5 0.5 -1 0.5 9 0.5 -4.5 0.5 4 0.5 -4 0.5 1 0.5 -5 0.5 12 0.5 -1 0.5 -3.5 0.5 -2.5 0.5 -4.5 0.5 6 0.5 -4 0.5 0.5 0.5 -4 0.5 5 0.5 4.5 0.5 -2 0.5 4 0.5 -6 0.5 3 0.5 -3.5 0.5 1.5 0.5 -6 0.5 7 0.5 -1 0.5 -2 0.5 4.5 0.5 -6.5 0.5 4 0.5 -2 0.5 -8 0.5 1.5 0.5 1.5 0.5 7 0.5 -5.5 0.5 -0.5 0.5 3 0.5 -3 0.5 3.5 0.5 -2.5 0.5 -1 0.5 -5 0.5 -5.5 0.5 5 0.5 0 0.5 1.5 0.5 3 0.5 -5.5 0.5 0 0.5 6.5 0.5 -7.5 0.5 -3.5 0.5 6 0.5 -6.5 0.5 3.5 0.5 -3.5 0.5 0 0.5 6.5 0.5 -5.5 0.5 -1.5 0.5 -2 0.5 0 0.5 5 0.5 -6 0.5 1 0.5 -2 0.5 9 0.5 -10.5 0.5 17.5 0.5 -12 0.5 -7.5 0.5 7.5 0.5 -3 0.5 -5.5 0.5 0.5 0.5 16 0.5 -13 0.5 0.5 0.5 5 0.5 -9.5 0.5 7 0.5 -5 0.5 2.5 0.5 -5 0.5 7 0.5 0 0.5 0 0.5 -3.5 0.5 2 0.5 1.5 0.5 -6.5 0.5 1 0.5 1 0.5 11.5 0.5 -9.5 0.5 -12 0.5 3.5 0.5 0.5 0.5 7 0.5 1 0.5 -8 0.5 3 0.5 -0.5 0.5 7 0.5 -1.5 0.5 -7.5 0.5 4 0.5 -1.5 0.5 4 0.5 -6 0.5 -2 0.5 -1 0.5 -4 0.5 6.5 0.5 -5.5 0.5 3 0.5 5 0.5 -7.5 0.5 0 0.5 1 0.5 -3 0.5 9.5 0.5 -12 0.5 14.5 0.5 -7.5 0.5 -2.5 0.5 8.5 0.5 -9 0.5 -2.5 0.5 6.5 0.5 4 0.5 -5.5 0.5 2.5 0.5 -1.5 0.5 -8.5 0.5 6 0.5 -8 0.5 -1.5 0.5 8.5 0.5 1 0.5 -6.5 0.5 7 0.5 -3 0.5 1 0.5 -7 0.5 4.5 0.5 -1 0.5 -3 0.5 -2.5 0.5 -2 0.5 4.5 0.5 2.5 0.5 5 0.5 -5.5 0.5 1.5 0.5 2 0.5 -1.5 0.5 -6 0.5 3.5 0.5 -5 0.5 -1 0.5 -7.5 0.5 10 0.5 1 0.5 1.5 0.5 -1 0.5 -7 0.5 3 0.5 0.5 0.5 1 0.5 -2.5 0.5 -1.5 0.5 2 0.5 -1 0.5 -3.5 0.5 6.5 0.5 -5.5 0.5 -2.5 0.5 8.5 0.5 -11.5 0.5 9 0.5 -2.5 0.5 -6.5 0.5 4.5 0.5 3.5 0.5 -9 0.5 0.5 0.5 1 0.5 -1 0.5 2.5 0.5 2.5 0.5 -2 0.5 -3.5 0.5 2 0.5 -6 0.5 1.5 0.5 7 0.5 -7 0.5 1 0.5 4.5 0.5 4 0.5 -9 0.5 -1.5 0.5 7.5 0.5 -2 0.5 -6.5 0.5 7 0.5 3 0.5 -11.5 0.5 3 0.5 -2 0.5 12 0.5 0.5 0.5 -12 0.5 -0.5 0.5 3.5 0.5 3 0.5 1 0.5 -1.5 0.5 4.5 0.5 -8 0.5 8 0.5 -8 0.5 4.5 0.5 2.5 0.5 -5.5 0.5 10 0.5 -10 0.5 1.5 0.5 0 0.5 -3 0.5 0.5 0.5 -1 0.5 10 0.5 -10 0.5 -1.5 0.5 3.5 0.5 -0.5 0.5 1.5 0.5 4.5 0.5 -6.5 0.5 -6 0.5 5 0.5 -3 0.5 -2.5 0.5 -2.5 0.5 7.5 0.5 2 0.5 -1.5 0.5 -1 0.5 -2.5 0.5 -3.5 0.5 1.5 0.5 6.5 0.5 -3 0.5 -5.5 0.5 12 0.5 -7 0.5 3 0.5 -9.5 0.5 4 0.5 5 0.5 -7.5 0.5 -0.5 0.5 -1 0.5 2 0.5 5.5 0.5 -0.5 0.5 -1.5 0.5 -2.5 0.5 -2.5 0.5 9.5 0.5 -6.5 0.5 2.5 0.5 1 0.5 -7 0.5 2 0.5 5 0.5 -4 0.5 1.5 0.5 1.5 0.5 -4 0.5 4.5 0.5 3 0.5 -0.5 0.5 -4 0.5 0 0.5 -2.5 0.5 4 0.5 -3 0.5 1.5 0.5 6 0.5 -9 0.5 -2 0.5 4 0.5 -0.5 0.5 2.5 0.5 -3.5 0.5 -0.5 0.5 0.5 0.5 5.5 0.5 -5.5 0.5 4.5 0.5 -6 0.5 7.5 0.5 -6 0.5 2.5 0.5 -0.5 0.5 -4 0.5 2 0.5 2.5 0.5 0.5 0.5 -4 0.5 2.5 0.5 5 0.5 -12.5 0.5 4.5 0.5 0.5 0.5 -4.5 0.5 3.5 0.5 1 0.5 3 0.5 -4 0.5 2 0.5 -6 0.5 1 0.5 2.5 0.5 0.5 0.5 -1 0.5 5.5 0.5 -7.5 0.5 9.5 0.5 -4.5 0.5 -7.5 0.5 13.5 0.5 -9.5 0.5 1 0.5 -1 0.5 6.5 0.5 -1 0.5 -5 0.5 2.5 0.5 0.5 0.5 -2.5 0.5 -1 0.5 1 0.5 0 0.5 -4 0.5 4 0.5 -7 0.5 9.5 0.5 -3 0.5 2 0.5 -4.5 0.5 -3.5 0.5 11.5 0.5 -9 0.5 12.5 0.5 -2 0.5 1.5 0.5 -14 0.5 5.5 0.5 -1 0.5 1 0.5 1.5 0.5 4 0.5 -9 0.5 -5.5 0.5 1 0.5 1.5 0.5 5.5 0.5 0 0.5 4 0.5 -8.5 0.5 1 0.5 6.5 0.5 -4.5 0.5 2 0.5 1 0.5 -13 0.5 10.5 0.5 -4.5 0.5 -4 0.5 -2 0.5 3 0.5 1.5 0.5 1.5 0.5 3.5 0.5 -1 0.5 0.5 0.5 -1.5 0.5 -2 0.5 0.5 0.5 -2 0.5 7 0.5 1.5 0.5 -7 0.5 2 0.5 0.5 0.5 -9.5 0.5 5.5 0.5 -10.5 0.5 15 0.5 2 0.5 -1.5 0.5 -3.5 0.5 0.5 0.5 2 0.5 0.5 0.5 0.5 0.5 -4 0.5 5 0.5 -3 0.5 4 0.5 -2 0.5 -7 0.5 11 0.5 -3 0.5 -7 0.5 12 0.5 -8.5 0.5 -1.5 0.5 1.5 0.5 6.5 0.5 -4.5 0.5 -5 0.5 7.5 0.5 2 0.5 -6.5 0.5 5 0.5 -3 0.5 4.5 0.5 -6.5 0.5 -7.5 0.5 10.5 0.5 -3.5 0.5 -0.5 0.5 4.5 0.5 -4.5 0.5 8.5 0.5 -8.5 0.5 6 0.5 -2 0.5 2.5 0.5 -2.5 0.5 -5.5 0.5 7.5 0.5 1 0.5 -1 0.5 1 0.5 -11 0.5 4.5 0.5 5.5 0.5 4 0.5 -9 0.5 -4.5 0.5 12.5 0.5 5.5 0.5 -3 0.5 -13 0.5 9.5 0.5 -7 0.5 8.5 0.5 3 0.5 1.5 0.5 -8.5 0.5 -0.5 0.5 -2 0.5 1.5 0.5 -4.5 0.5 4.5 0.5 2.5 0.5 -7.5 0.5 4 0.5 1.5 0.5 -2 0.5 3.5 0.5 -9 0.5 -3 0.5 12 0.5 -11.5 0.5 1.5 0.5 7 0.5 -1 0.5 1 0.5 -9.5 0.5 6 0.5 -0.5 0.5 -3 0.5 5 0.5 -7.5 0.5 3.5 0.5 4 0.5 -6.5 0.5 3.5 0.5 -4 0.5 -1 0.5 0.5 0.5 -2 0.5 3 0.5 -3 0.5 9.5 0.5 2.5 0.5 -1 0.5 -2.5 0.5 -3 0.5 8.5 0.5 -9.5 0.5 8.5 0.5 -9 0.5 2 0.5 0.5 0.5 0.5 0.5 -2.5 0.5 6.5 0.5 -2 0.5 -4.5 0.5 0.5 0.5 12 0.5 -2.5 0.5 3.5 0.5 -10 0.5 0.5 0.5 -6.5 0.5 1 0.5 5 0.5 5 0.5 -5.5 0.5 1.5 0.5 1.5 0.5 -3 0.5 -7.5 0.5 4 0.5 3.5 0.5 -3.5 0.5 2.5 0.5 1 0.5 9.5 0.5 -12.5 0.5 0.5 0.5 0 0.5 6 0.5 -2 0.5 -6 0.5 4.5 0.5 -0.5 0.5 0.5 0.5 -3 0.5 8.5 0.5 -4.5 0.5 -1 0.5 1.5 0.5 -5 0.5 4.5 0.5 -10 0.5 11 0.5 -5.5 0.5 2.5 0.5 -2 0.5 -2.5 0.5 4.5 0.5 -3 0.5 3.5 0.5 -2 0.5 4 0.5 -7.5 0.5 -2 0.5 6 0.5 -5 0.5 3 0.5 -3.5 0.5 -5.5 0.5 -5 0.5 11.5 0.5 -6.5 0.5 5 0.5 4 0.5 2.5 0.5 -17 0.5 3 0.5 12 0.5 2.5 0.5 -12 0.5 3 0.5 3.5 0.5 -11.5 0.5 9 0.5 2.5 0.5 0.5 0.5 -4.5 0.5 5.5 0.5 -2.5 0.5 -4 0.5 -4.5 0.5 1.5 0.5 6.5 0.5 -3 0.5 -7.5 0.5 7.5 0.5 -3.5 0.5 9.5 0.5 -5.5 0.5 3 0.5 -5.5 0.5 4.5 0.5 -3 0.5 1 0.5 -9.5 0.5 11.5 0.5 -1.5 0.5 -1 0.5 -4 0.5 -4.5 0.5 5.5 0.5 -1.5 0.5 3 0.5 -5 0.5 2 0.5 8 0.5 -11.5 0.5 4.5 0.5 7 0.5 -3.5 0.5 -9.5 0.5 -2.5 0.5 5 0.5 -4 0.5 7.5 0.5 -8.5 0.5 9.5 0.5 -2 0.5 4 0.5 -8 0.5 -1 0.5 7 0.5 -9.5 0.5 4.5 0.5 -0.5 0.5 3 0.5 -9 0.5 -2.5 0.5 0 0.5 4 0.5 1 0.5 9.5 0.5 -12 0.5 6 0.5 -3 0.5 -2 0.5 0.5 0.5 4 0.5 -6.5 0.5 -6.5 0.5 16.5 0.5 -9.5 0.5 -2 0.5 4.5 0.5 -0.5 0.5 -1.5 0.5 -2 0.5 -0.5 0.5 -5 0.5 12 0.5 -12 0.5 7.5 0.5 -1 0.5 -3 0.5 0 0.5 4 0.5 -2.5 0.5 7 0.5 -5 0.5 -2 0.5 0.5 0.5 5 0.5 -12.5 0.5 1 0.5 8.5 0.5 -6 0.5 3.5 0.5 -2 0.5 -14.5 0.5 9 0.5 1.5 0.5 2.5 0.5 -5.5 0.5 8.5 0.5 4 0.5 -9.5 0.5 -5.5 0.5 7.5 0.5 0 0.5 4 0.5 3 0.5 -14.5 0.5 7.5 0.5 0.5 0.5 0.5 0.5 -2.5 0.5 2 0.5 -2.5 0.5 1 0.5 -5.5 0.5 7.5 0.5 2 0.5 -6.5 0.5 2.5 0.5 -8 0.5 -0.5 0.5 17 0.5 -11 0.5 -6 0.5 0.5 0.5 11 0.5 -4.5 0.5 2 0.5 -3 0.5 1.5 0.5 1 0.5 0 0.5 -2.5 0.5 -1 0.5 -3.5 0.5 12 0.5 -11 0.5 -4.5 0.5 8 0.5 -7.5 0.5 10 0.5 -6.5 0.5 3.5 0.5 -4 0.5 -8.5 0.5 17 0.5 -5.5 0.5 3.5 0.5 7 0.5 -12.5 0.5 2.5 0.5 3 0.5 3.5 0.5 -3.5 0.5 -8 0.5 1.5 0.5 -2.5 0.5 8.5 0.5 -1.5 0.5 2 0.5 -6.5 0.5 -2.5 0.5 6.5 0.5 -12 0.5 9 0.5 -4.5 0.5 5.5 0.5 -3.5 0.5 -5 0.5 0 0.5 2 0.5 3.5 0.5 2 0.5 -4.5 0.5 8.5 0.5 -7 0.5 -5.5 0.5 4.5 0.5 -7.5 0.5 8.5 0.5 -1 0.5 -7.5 0.5 3 0.5 -3.5 0.5 -2.5 0.5 0.5 0.5 6.5 0.5 3.5 0.5 -4.5 0.5 4 0.5 -2 0.5 -1.5 0.5 -3 0.5 3.5 0.5 1.5 0.5 -6.5 0.5 5 0.5 1 0.5 3 0.5 -9 0.5 2 0.5 6.5 0.5 8 0.5 -11.5 0.5 1.5 0.5 -4.5 0.5 10 0.5 2.5 0.5 -12 0.5 8.5 0.5 -6.5 0.5 5.5 0.5 -1 0.5 -7 0.5 6 0.5 0.5 0.5 -2 0.5 2 0.5 -2 0.5 -12.5 0.5 3.5 0.5 -6 0.5 18 0.5 -7.5 0.5 3 0.5 -3 0.5 2.5 0.5 -8 0.5 8.5 0.5 1.5 0.5 -7 0.5 0 0.5 -0.5 0.5 4 0.5 -4 0.5 -11.5 0.5 7 0.5 7 0.5 -2 0.5 1 0.5 -2 0.5 -6.5 0.5 2.5 0.5 12 0.5 -4.5 0.5 1.5 0.5 -11.5 0.5 -3 0.5 2.5 0.5 3.5 0.5 4.5 0.5 -10.5 0.5 5 0.5 -5 0.5 8.5 0.5 -10 0.5 5 0.5 2.5 0.5 6.5 0.5 -5.5 0.5 4.5 0.5 -14 0.5 7.5 0.5 3.5 0.5 2 0.5 6.5 0.5 -14 0.5 6 0.5 -0.5 0.5 4.5 0.5 -5.5 0.5 2 0.5 -5 0.5 -6 0.5 6.5 0.5 7.5 0.5 -9.5 0.5 -1.5 0.5 -4.5 0.5 5 0.5 -7 0.5 4 0.5 2 0.5 0 0.5 -3.5 0.5 9.5 0.5 -2 0.5 -2 0.5 -3.5 0.5 3.5 0.5 0 0.5 -0.5 0.5 -3 0.5 -1 0.5 11.5 0.5 -11.5 0.5 -2.5 0.5 8 0.5 -7 0.5 -5.5 0.5 16 0.5 0 0.5 -11.5 0.5 -2.5 0.5 4.5 0.5 -2.5 0.5 9 0.5 -13 0.5 3 0.5 11 0.5 -12 0.5 4 0.5 -2 0.5 -0.5 0.5 -5.5 0.5 -3 0.5 10 0.5 -7.5 0.5 -2 0.5 1 0.5 1 0.5 4 0.5 1 0.5 4 0.5 -16.5 0.5 13.5 0.5 -5.5 0.5 -1.5 0.5 2.5 0.5 -2.5 0.5 -3.5 0.5 3.5 0.5 -2 0.5 6.5 0.5 5 0.5 -9 0.5 -1.5 0.5 0 0.5 4.5 0.5 -6 0.5 3.5 0.5 1.5 0.5 0 0.5 -2.5 0.5 5 0.5 -5 0.5 -1 0.5 1.5 0.5 6.5 0.5 -10.5 0.5 -1.5 0.5 1 0.5 7 0.5 -5.5 0.5 0 0.5 2 0.5 -2.5 0.5 -1 0.5 6 0.5 -5.5 0.5 -0.5 0.5 1.5 0.5 1.5 0.5 -4 0.5 -2.5 0.5 3.5 0.5 -4.5 0.5 1.5 0.5 -0.5 0.5 6.5 0.5 -8.5 0.5 2.5 0.5 5 0.5 0 0.5 -6 0.5 -4 0.5 6.5 0.5 -6 0.5 5.5 0.5 3.5 0.5 -6 0.5 -0.5 0.5 3.5 0.5 0 0.5 0.5 0.5 2.5 0.5 -9.5 0.5 0.5 0.5 1.5 0.5 9.5 0.5 -11 0.5 7 0.5 -7.5 0.5 9 0.5 0 0.5 -7.5 0.5 4 0.5 3.5 0.5 3 0.5 -8.5 0.5 -3.5 0.5 -5 0.5 1.5 0.5 3.5 0.5 1.5 0.5 -5 0.5 11 0.5 -9 0.5 -4.5 0.5 4.5 0.5 3 0.5 -2 0.5 -3.5 0.5 7 0.5 -6 0.5 2 0.5 -1.5 0.5 7.5 0.5 -15.5 0.5 14.5 0.5 2 0.5 -5 0.5 -5 0.5 2 0.5 10.5 0.5 -12.5 0.5 8 0.5 -4 0.5 -2 0.5 -0.5 0.5 -6.5 0.5 -1.5 0.5 14.5 0.5 -6.5 0.5 4 0.5 -5 0.5 -4 0.5 9 0.5 7.5 0.5 -14.5 0.5 1 0.5 -2.5 0.5 3 0.5 -1.5 0.5 -3.5 0.5 1.5 0.5 5 0.5 -8 0.5 2 0.5 3 0.5 3.5 0.5 -3 0.5 2.5 0.5 1 0.5 -0.5 0.5 -3.5 0.5 0.5 0.5 -3 0.5 11 0.5 -4.5 0.5 -1.5 0.5 6.5 0.5 -5.5 0.5 -3 0.5 2 0.5 -3 0.5 0.5 0.5 5 0.5 2 0.5 -0.5 0.5 -7 0.5 7.5 0.5 0.5 0.5 -0.5 0.5 1 0.5 -6 0.5 2 0.5 0 0.5 0 0.5 -1 0.5 -10.5 0.5 8.5 0.5 -1.5 0.5 1 0.5 -1 0.5 2 0.5 3 0.5 -13.5 0.5 3.5 0.5 6 0.5 -4.5 0.5 -2 0.5 1 0.5 -2 0.5 16.5 0.5 -4.5 0.5 -4 0.5 -2.5 0.5 1.5 0.5 -3 0.5 7 0.5 -7 0.5 -1.5 0.5 4.5 0.5 -11.5 0.5 9.5 0.5 -1.5 0.5 0 0.5 0.5 0.5 -6 0.5 3 0.5 2.5 0.5 0.5 0.5 2.5 0.5 -2 0.5 2 0.5 1 0.5 7 0.5 -7 0.5 2.5 0.5 1 0.5 -7 0.5 -0.5 0.5 6 0.5 -6.5 0.5 0.5 0.5 1 0.5 4 0.5 -6 0.5 -4 0.5 6 0.5 8 0.5 -12.5 0.5 7.5 0.5 -1.5 0.5 -9.5 0.5 5.5 0.5 -5 0.5 6.5 0.5 -9.5 0.5 5 0.5 2.5 0.5 -4 0.5 -1 0.5 3.5 0.5 1.5 0.5 2.5 0.5 -1.5 0.5 5 0.5 -6 0.5 -4.5 0.5 0.5 0.5 1 0.5 2.5 0.5 1.5 0.5 -5 0.5 1 0.5 5 0.5 -9 0.5 9 0.5 -8 0.5 -2 0.5 10 0.5 -9 0.5 5 0.5 -1 0.5 3 0.5 0.5 0.5 3 0.5 -9 0.5 2 0.5 2 0.5 -5.5 0.5 3.5 0.5 2 0.5 -8.5 0.5 17.5 0.5 -7 0.5 4 0.5 -12.5 0.5 1 0.5 6.5 0.5 -10 0.5 2 0.5 7 0.5 -6.5 0.5 2.5 0.5 -7.5 0.5 13 0.5 -10.5 0.5 -4 0.5 13.5 0.5 3.5 0.5 -8 0.5 -0.5 0.5 -2 0.5 2 0.5 3 0.5 -3 0.5 0 0.5 1 0.5 1 0.5 3 0.5 -2 0.5 -5 0.5 2.5 0.5 2 0.5 -13.5 0.5 13 0.5 -2 0.5 -1.5 0.5 0.5 0.5 5.5 0.5 -5.5 0.5 2 0.5 7.5 0.5 2 0.5 -11 0.5 2.5 0.5 10 0.5 -2.5 0.5 -8 0.5 6.5 0.5 -4.5 0.5 0 0.5 6.5 0.5 -12 0.5 -3 0.5 5 0.5 4.5 0.5 -9.5 0.5 3 0.5 7.5 0.5 -9 0.5 -2 0.5 -4 0.5 13 0.5 -10.5 0.5 2 0.5 4 0.5 -5.5 0.5 5.5 0.5 -0.5 0.5 0 0.5 -6 0.5 2 0.5 6.5 0.5 -6.5 0.5 -2.5 0.5 4.5 0.5 -2.5 0.5 -2.5 0.5 1.5 0.5 6 0.5 -3 0.5 -5.5 0.5 1 0.5 2 0.5 4 0.5 1 0.5 -6.5 0.5 11 0.5 -18.5 0.5 6 0.5 -4 0.5 6.5 0.5 -1 0.5 3 0.5 -5 0.5 4 0.5 -5 0.5 9 0.5 -5.5 0.5 5.5 0.5 1.5 0.5 -8 0.5 1.5 0.5 -9 0.5 6 0.5 2 0.5 -4.5 0.5 8 0.5 -6.5 0.5 -3 0.5 8 0.5 -8.5 0.5 5 0.5 0 0.5 -3.5 0.5 2.5 0.5 -8.5 0.5 5.5 0.5 3 0.5 1 0.5 -8 0.5 1 0.5 12 0.5 -5 0.5 -6.5 0.5 1 0.5 10 0.5 -7 0.5 4.5 0.5 -8.5 0.5 14 0.5 2.5 0.5 -11.5 0.5 2.5 0.5 -2.5 0.5 2 0.5 -3 0.5 5.5 0.5 -5 0.5 2.5 0.5 1.5 0.5 5.5 0.5 -6 0.5 -11.5 0.5 7 0.5 8.5 0.5 -8.5 0.5 1 0.5 0 0.5 -0.5 0.5 -2 0.5 11 0.5 -10.5 0.5 1.5 0.5 -4 0.5 4.5 0.5 -5.5 0.5 7 0.5 -3.5 0.5 2 0.5 -2 0.5 -0.5 0.5 4.5 0.5 -12 0.5 4 0.5 9 0.5 -7 0.5 -6.5 0.5 2 0.5 3.5 0.5 -2.5 0.5 3 0.5 -7.5 0.5 6.5 0.5 -6.5 0.5 -3.5 0.5 0.5 0.5 8.5 0.5 5.5 0.5 -10.5 0.5 3.5 0.5 3 0.5 -7 0.5 1 0.5 5.5 0.5 -1 0.5 1 0.5 -3.5 0.5 1 0.5 -3 0.5 -2.5 0.5 1.5 0.5 2 0.5 2.5 0.5 -1 0.5 -1.5 0.5 -0.5 0.5 7 0.5 -10 0.5 8 0.5 2.5 0.5 -5 0.5 0 0.5 0 0.5 1 0.5 2.5 0.5 -10 0.5 8 0.5 -5.5 0.5 -3.5 0.5 6 0.5 -2 0.5 9 0.5 -8.5 0.5 0 0.5 -0.5 0.5 1 0.5 -4.5 0.5 -4 0.5 7 0.5 -2 0.5 -3.5 0.5 8.5 0.5 -6.5 0.5 -3 0.5 2.5 0.5 5 0.5 -7.5 0.5 4 0.5 5 0.5 7.5 0.5 -19 0.5 6.5 0.5 -1.5 0.5 2 0.5 -0.5 0.5 7 0.5 -14 0.5 8.5 0.5 -6.5 0.5 -1.5 0.5 7.5 0.5 -6.5 0.5 10.5 0.5 -3 0.5 -13.5 0.5 10 0.5 -1 0.5 -3.5 0.5 7 0.5 -6.5 0.5 -13 0.5 18.5 0.5 1 0.5 -1 0.5 -3.5 0.5 -9.5 0.5 6.5 0.5 -3.5 0.5 5.5 0.5 -5 0.5 5 0.5 -5 0.5 -4.5 0.5 5 0.5 4.5 0.5 -12 0.5 9 0.5 0.5 0.5 -6.5 0.5 5 0.5 -3.5 0.5 -2 0.5 4 0.5 -1 0.5 -0.5 0.5 6.5 0.5 -1 0.5 -9.5 0.5 7 0.5 1.5 0.5 -5 0.5 -3.5 0.5 5 0.5 4 0.5 -2.5 0.5 -1.5 0.5 -0.5 0.5 1.5 0.5 3 0.5 5.5 0.5 -12.5 0.5 5.5 0.5 -8 0.5 1.5 0.5 11 0.5 -6 0.5 2.5 0.5 -1.5 0.5 -7.5 0.5 8 0.5 0 0.5 -8 0.5 12 0.5 2.5 0.5 -12 0.5 -2 0.5 0 0.5 2.5 0.5 0 0.5 -0.5 0.5 -2.5 0.5 9.5 0.5 -7 0.5 -0.5 0.5 11.5 0.5 -5 0.5 -1 0.5 -9 0.5 7 0.5 1 0.5 -10 0.5 2 0.5 -5 0.5 2 0.5 7 0.5 -1 0.5 0.5 0.5 -9 0.5 9.5 0.5 -0.5 0.5 0 0.5 -1.5 0.5 -6.5 0.5 7.5 0.5 10.5 0.5 -6 0.5 -3.5 0.5 2.5 0.5 2 0.5 1 0.5 1.5 0.5 -5.5 0.5 -2 0.5 0.5 0.5 13.5 0.5 -5.5 0.5 -7.5 0.5 -7.5 0.5 13 0.5 2 0.5 -8.5 0.5 2.5 0.5 -0.5 0.5 0 0.5 -0.5 0.5 8.5 0.5 2 0.5 -9.5 0.5 2.5 0.5 -0.5 0.5 -5.5 0.5 8.5 0.5 -12.5 0.5 7.5 0.5 6 0.5 -8 0.5 -8 0.5 0.5 0.5 12.5 0.5 -9.5 0.5 5.5 0.5 -4.5 0.5 0 0.5 3.5 0.5 0 0.5 -3 0.5 -3 0.5 3.5 0.5 0 0.5 4.5 0.5 -5.5 0.5 -7.5 0.5 6 0.5 -7.5 0.5 6 0.5 -0.5 0.5 -3.5" fill="none" stroke="#000080" stroke-width="6.5" stroke-linejoin="round" stroke-linecap="round"/>
<path d="M367,3225l0.5 -42.5 0.5 -16.5 0.5 -14.5 0.5 -11.5 0.5 -6 0.5 -6.5 0.5 -6.5 0.5 -6.5 0.5 -9 0.5 -6.5 0.5 0.5 0.5 -2 0.5 -4 0.5 -5.5 0.5 0 0.5 -0.5 0.5 -7 0.5 1 0.5 -4.5 0.5 11.5 0.5 -6 0.5 -6 0.5 4 0.5 -5 0.5 -5 0.5 1 0.5 -1.5 0.5 14 0.5 -20.5 0.5 -10 0.5 14 0.5 -10.5 0.5 -2.5 0.5 11.5 0.5 -11.5 0.5 -2.5 0.5 4 0.5 -7 0.5 7 0.5 -8 0.5 3 0.5 4.5 0.5 0.5 0.5 -20 0.5 6 0.5 -1 0.5 4 0.5 -6.5 0.5 -3 0.5 9.5 0.5 -1.5 0.5 -6 0.5 -11.5 0.5 7 0.5 -6 0.5 13.5 0.5 -7.5 0.5 -2 0.5 0.5 0.5 -1 0.5 -9.5 0.5 7 0.5 -2 0.5 -14 0.5 15 0.5 -5.5 0.5 -2.5 0.5 2.5 0.5 -7 0.5 7.5 0.5 -7.5 0.5 -5 0.5 18.5 0.5 -10 0.5 -4 0.5 1 0.5 0 0.5 3.5 0.5 -4 0.5 1.5 0.5 -10 0.5 -1.5 0.5 4.5 0.5 1 0.5 -3.5 0.5 -4.5 0.5 2 0.5 4.5 0.5 0 0.5 -10 0.5 8 0.5 -2 0.5 -1.5 0.5 2 0.5 -3 0.5 7 0.5 -11.5 0.5 -2.5 0.5 4.5 0.5 -0.5 0.5 -8 0.5 6.5 0.5 -2 0.5 -7 0.5 3.5 0.5 5 0.5 -1.5 0.5 -10 0.5 7 0.5 -3 0.5 7.5 0.5 -11 0.5 2.5 0.5 -10.5 0.5 11 0.5 -5.5 0.5 -3.5 0.5 -0.5 0.5 0.5 0.5 -2.5 0.5 4 0.5 -6.5 0.5 1 0.5 13 0.5 -14 0.5 1.5 0.5 -1.5 0.5 -2.5 0.5 0 0.5 -6.5 0.5 8 0.5 -2.5 0.5 -1 0.5 -6.5 0.5 7 0.5 -11 0.5 5 0.5 -3.5 0.5 -3.5 0.5 11.5 0.5 -1 0.5 -1.5 0.5 -6.5 0.5 -5 0.5 3.5 0.5 -3 0.5 -7.5 0.5 11 0.5 -2.5 0.5 -7 0.5 -3 0.5 4 0.5 0 0.5 8 0.5 -8.5 0.5 -8 0.5 6.5 0.5 -8 0.5 0.5 0.5 5.5 0.5 -3 0.5 -7 0.5 2.5 0.5 1 0.5 -3 0.5 2 0.5 1.5 0.5 -2.5 0.5 -4.5 0.5 5.5 0.5 3.5 0.5 -4.5 0.5 -9.5 0.5 1 0.5 3 0.5 0 0.5 -6 0.5 7 0.5 -2.5 0.5 -6.5 0.5 -2.5 0.5 6.5 0.5 -3 0.5 11 0.5 -13 0.5 1.5 0.5 14 0.5 -18.5 0.5 8 0.5 -5 0.5 -3.5 0.5 -3.5 0.5 4 0.5 5 0.5 -3 0.5 -4.5 0.5 3.5 0.5 -6 0.5 2.5 0.5 4.5 0.5 -5.5 0.5 3.5 0.5 -3 0.5 -6 0.5 10 0.5 -9.5 0.5 8.5 0.5 -3 0.5 1 0.5 -4 0.5 -4.5 0.5 -3.5 0.5 0.5 0.5 -1 0.5 5.5 0.5 -12 0.5 10.5 0.5 -6.5 0.5 3 0.5 2.5 0.5 -1.5 0.5 1.5 0.5 -7.5 0.5 1.5 0.5 -5 0.5 4 0.5 -0.5 0.5 2 0.5 0 0.5 2 0.5 0 0.5 -8.5 0.5 0.5 0.5 -2 0.5 0 0.5 5.5 0.5 1 0.5 -3.5 0.5 -2 0.5 -6 0.5 1.5 0.5 1.5 0.5 -10 0.5 11.5 0.5 -2.5 0.5 8 0.5 -9 0.5 -6.5 0.5 8 0.5 -1 0.5 1 0.5 -7 0.5 4 0.5 -9 0.5 11.5 0.5 -5.5 0.5 -9.5 0.5 11.5 0.5 1.5 0.5 0 0.5 -3 0.5 -5.5 0.5 0 0.5 5.5 0.5 2 0.5 7 0.5 -11.5 0.5 -8.5 0.5 6.5 0.5 5 0.5 -3 0.5 2 0.5 -8.5 0.5 2 0.5 4 0.5 -1 0.5 0 0.5 -5.5 0.5 1 0.5 3.5 0.5 2 0.5 -9.5 0.5 6.5 0.5 1.5 0.5 -1 0.5 -1 0.5 -2 0.5 -1.5 0.5 7.5 0.5 -11 0.5 6.5 0.5 -7.5 0.5 1 0.5 1.5 0.5 -3.5 0.5 4.5 0.5 3.5 0.5 -0.5 0.5 -7 0.5 2.5 0.5 -3 0.5 -3.5 0.5 1.5 0.5 12 0.5 -13.5 0.5 1 0.5 0.5 0.5 5.5 0.5 -5.5 0.5 -3 0.5 -1.5 0.5 2 0.5 0 0.5 -8.5 0.5 7.5 0.5 1 0.5 0.5 0.5 -4 0.5 4.5 0.5 -7 0.5 5.5 0.5 11 0.5 -9 0.5 -6 0.5 5.5 0.5 2 0.5 -2 0.5 -3.5 0.5 1 0.5 0.5 0.5 13 0.5 -22 0.5 6 0.5 -0.5 0.5 -1.5 0.5 2 0.5 5 0.5 -10.5 0.5 5 0.5 -3 0.5 7.5 0.5 7 0.5 -12.5 0.5 3.5 0.5 -1 0.5 -2.5 0.5 2 0.5 1.5 0.5 -6 0.5 8 0.5 -7 0.5 -5.5 0.5 9 0.5 -1.5 0.5 5 0.5 -4 0.5 2 0.5 -1 0.5 -8 0.5 11.5 0.5 -3.5 0.5 1 0.5 -8 0.5 3 0.5 0 0.5 -7 0.5 8 0.5 -1 0.5 0 0.5 -2 0.5 2 0.5 -3.5 0.5 -1 0.5 2 0.5 -5.5 0.5 -2.5 0.5 5.5 0.5 -4 0.5 1 0.5 -7 0.5 6.5 0.5 -9.5 0.5 4.5 0.5 1.5 0.5 10.5 0.5 -13 0.5 4.5 0.5 -5.5 0.5 1.5 0.5 -5.5 0.5 11 0.5 -3 0.5 0.5 0.5 -2 0.5 -2 0.5 2.5 0.5 -4.5 0.5 6 0.5 -4.5 0.5 -3.5 0.5 -3 0.5 4 0.5 -5 0.5 5.5 0.5 -2 0.5 -6.5 0.5 12.5 0.5 -9 0.5 -5.5 0.5 12.5 0.5 -7.5 0.5 -1 0.5 1 0.5 1.5 0.5 -1.5 0.5 -4.5 0.5 4.5 0.5 0 0.5 1 0.5 -8.5 0.5 5 0.5 -4.5 0.5 3.5 0.5 -3.5 0.5 6.5 0.5 -2 0.5 0.5 0.5 2 0.5 -5.5 0.5 -3 0.5 -0.5 0.5 9 0.5 -6.5 0.5 11.5 0.5 -8 0.5 -4 0.5 2 0.5 -7 0.5 2.5 0.5 -0.5 0.5 4 0.5 -11 0.5 1 0.5 6.5 0.5 2 0.5 2.5 0.5 -6.5 0.5 0 0.5 -6.5 0.5 6.5 0.5 -1 0.5 -4 0.5 1.5 0.5 -1.5 0.5 1 0.5 -3.5 0.5 5 0.5 1 0.5 -10 0.5 -0.5 0.5 -5.5 0.5 5 0.5 5.5 0.5 -10 0.5 0.5 0.5 10.5 0.5 -15.5 0.5 12 0.5 -2 0.5 -3.5 0.5 -3 0.5 3 0.5 4 0.5 -13 0.5 11.5 0.5 -3.5 0.5 -7 0.5 2 0.5 2.5 0.5 -10.5 0.5 0.5 0.5 1.5 0.5 0.5 0.5 5 0.5 3 0.5 -7 0.5 -3 0.5 7 0.5 -3.5 0.5 1 0.5 1.5 0.5 1.5 0.5 -2 0.5 0.5 0.5 -3 0.5 6 0.5 -9 0.5 16 0.5 -12.5 0.5 2.5 0.5 -2 0.5 -6.5 0.5 6.5 0.5 3.5 0.5 0 0.5 -2.5 0.5 -3.5 0.5 -3 0.5 -1.5 0.5 10.5 0.5 0 0.5 -9 0.5 2 0.5 -2.5 0.5 0 0.5 -2 0.5 6 0.5 -5.5 0.5 -3.5 0.5 8.5 0.5 -11.5 0.5 7.5 0.5 -1.5 0.5 -7 0.5 -4 0.5 0 0.5 4.5 0.5 -1.5 0.5 -6 0.5 6 0.5 -1.5 0.5 1 0.5 -1.5 0.5 0.5 0.5 -2 0.5 4 0.5 -3 0.5 7.5 0.5 -6 0.5 -6.5 0.5 14.5 0.5 -8 0.5 2.5 0.5 -5.5 0.5 -5 0.5 8 0.5 -1.5 0.5 -9.5 0.5 3 0.5 7 0.5 -6 0.5 1.5 0.5 -2 0.5 12 0.5 -8 0.5 7 0.5 -14 0.5 9.5 0.5 -4.5 0.5 -9 0.5 8 0.5 -2 0.5 -1.5 0.5 13.5 0.5 -22 0.5 9.5 0.5 -9.5 0.5 9 0.5 -2.5 0.5 4 0.5 -3 0.5 -2 0.5 -3.5 0.5 1.5 0.5 6.5 0.5 -1.5 0.5 -9 0.5 3.5 0.5 5 0.5 0 0.5 4 0.5 -13.5 0.5 6 0.5 -4 0.5 2.5 0.5 -3.5 0.5 4.5 0.5 1 0.5 -9.5 0.5 -8 0.5 13 0.5 -3.5 0.5 -3 0.5 5 0.5 6 0.5 -8.5 0.5 -5.5 0.5 1 0.5 -2 0.5 -1.5 0.5 -1 0.5 0 0.5 -0.5 0.5 3.5 0.5 -3.5 0.5 0.5 0.5 -5 0.5 0.5 0.5 6.5 0.5 -11.5 0.5 7 0.5 -1.5 0.5 -3.5 0.5 2.5 0.5 -1 0.5 -5.5 0.5 9 0.5 -2 0.5 -12.5 0.5 8.5 0.5 4 0.5 5 0.5 -5 0.5 -11.5 0.5 4 0.5 -1 0.5 -1.5 0.5 -3.5 0.5 7 0.5 0.5 0.5 -3.5 0.5 4 0.5 -3.5 0.5 5.5 0.5 -3 0.5 -0.5 0.5 -5.5 0.5 -7 0.5 7 0.5 1.5 0.5 -14 0.5 10 0.5 11 0.5 -13 0.5 1.5 0.5 6 0.5 3 0.5 -10 0.5 10 0.5 -8 0.5 -1 0.5 -3.5 0.5 3 0.5 5 0.5 -12 0.5 4.5 0.5 -6 0.5 5 0.5 2.5 0.5 0 0.5 -2.5 0.5 3.5 0.5 -4 0.5 6 0.5 -11.5 0.5 -0.5 0.5 14.5 0.5 -14.5 0.5 -6.5 0.5 5 0.5 7 0.5 2 0.5 5.5 0.5 1 0.5 -10.5 0.5 6 0.5 -4.5 0.5 0 0.5 3 0.5 1.5 0.5 -6.5 0.5 6 0.5 -3 0.5 -2 0.5 -3 0.5 3.5 0.5 2.5 0.5 -2.5 0.5 -3 0.5 4.5 0.5 -3.5 0.5 -6.5 0.5 9 0.5 -17 0.5 6.5 0.5 -2.5 0.5 9.5 0.5 -2 0.5 0 0.5 -0.5 0.5 -8 0.5 3.5 0.5 7.5 0.5 -3.5 0.5 -5.5 0.5 -5 0.5 11.5 0.5 -4 0.5 0.5 0.5 -1.5 0.5 0.5 0.5 -15.5 0.5 14.5 0.5 1 0.5 -7.5 0.5 12.5 0.5 -11.5 0.5 -1 0.5 6 0.5 -5 0.5 -1.5 0.5 2.5 0.5 -1.5 0.5 0 0.5 2 0.5 1.5 0.5 -8.5 0.5 9 0.5 -1.5 0.5 3.5 0.5 -2 0.5 -6.5 0.5 2 0.5 0.5 0.5 1 0.5 -2 0.5 4 0.5 -2 0.5 0.5 0.5 -7 0.5 -3 0.5 9 0.5 -1 0.5 -8 0.5 4 0.5 0 0.5 3.5 0.5 -1.5 0.5 1 0.5 -6.5 0.5 1.5 0.5 -0.5 0.5 3 0.5 0.5 0.5 -3.5 0.5 -7 0.5 6.5 0.5 -7 0.5 3 0.5 1.5 0.5 0.5 0.5 10.5 0.5 -4 0.5 -1 0.5 -3.5 0.5 -8.5 0.5 7 0.5 -5.5 0.5 2.5 0.5 -6 0.5 4 0.5 5.5 0.5 -14 0.5 12 0.5 -5.5 0.5 -2 0.5 8 0.5 -9 0.5 7 0.5 -2 0.5 -2 0.5 2 0.5 -4 0.5 8 0.5 -1.5 0.5 -10.5 0.5 2.5 0.5 3 0.5 0.5 0.5 2.5 0.5 -9.5 0.5 -2 0.5 6.5 0.5 -2 0.5 3.5 0.5 4.5 0.5 -10.5 0.5 -1.5 0.5 -1 0.5 9.5 0.5 -2 0.5 -5.5 0.5 2 0.5 -7 0.5 8 0.5 -4 0.5 0 0.5 1 0.5 -0.5 0.5 -1 0.5 -14.5 0.5 17 0.5 -12.5 0.5 2.5 0.5 4.5 0.5 -6 0.5 -1.5 0.5 4 0.5 2 0.5 -7.5 0.5 3 0.5 -6.5 0.5 6 0.5 8.5 0.5 -4.5 0.5 -6.5 0.5 2.5 0.5 0 0.5 -1 0.5 1 0.5 2.5 0.5 -1.5 0.5 -2.5 0.5 1.5 0.5 -4 0.5 -1.5 0.5 -3.5 0.5 9 0.5 -1 0.5 1.5 0.5 -4.5 0.5 6 0.5 -0.5 0.5 -4 0.5 3 0.5 -4 0.5 3.5 0.5 -7.5 0.5 8 0.5 -11 0.5 2.5 0.5 3 0.5 5 0.5 -4.5 0.5 -6 0.5 6.5 0.5 -13.5 0.5 10 0.5 -0.5 0.5 -1 0.5 1 0.5 -1 0.5 -0.5 0.5 -3.5 0.5 0.5 0.5 3 0.5 -7 0.5 0.5 0.5 4 0.5 -0.5 0.5 4 0.5 0.5 0.5 -4.5 0.5 -2.5 0.5 6 0.5 -11 0.5 10.5 0.5 4 0.5 -10.5 0.5 5 0.5 -1 0.5 -5 0.5 -1 0.5 7 0.5 -4.5 0.5 -4 0.5 -6 0.5 8.5 0.5 1 0.5 1 0.5 -2 0.5 -6.5 0.5 -0.5 0.5 2 0.5 3.5 0.5 -3.5 0.5 3.5 0.5 0.5 0.5 -2 0.5 0.5 0.5 -1.5 0.5 -4 0.5 -1.5 0.5 9.5 0.5 -5 0.5 2.5 0.5 -0.5 0.5 -4 0.5 -0.5 0.5 2.5 0.5 -6.5 0.5 -2.5 0.5 6.5 0.5 2 0.5 -7.5 0.5 1.5 0.5 2.5 0.5 -6 0.5 -2.5 0.5 8 0.5 -2.5 0.5 -6.5 0.5 10 0.5 -8.5 0.5 -2.5 0.5 6 0.5 -1 0.5 8.5 0.5 -6.5 0.5 -7 0.5 -0.5 0.5 1.5 0.5 4.5 0.5 -4.5 0.5 4 0.5 -4.5 0.5 -6.5 0.5 -2 0.5 5.5 0.5 1.5 0.5 0.5 0.5 4.5 0.5 -1 0.5 -7.5 0.5 4.5 0.5 -9 0.5 11 0.5 -4 0.5 -6.5 0.5 9 0.5 -2 0.5 3 0.5 -5 0.5 2 0.5 3.5 0.5 -8.5 0.5 6 0.5 -7 0.5 17.5 0.5 -14 0.5 1.5 0.5 4.5 0.5 -7 0.5 1 0.5 0 0.5 3 0.5 -3.5 0.5 1 0.5 -1.5 0.5 -4 0.5 4.5 0.5 -9 0.5 -2.5 0.5 8.5 0.5 5.5 0.5 -2 0.5 -5 0.5 -7 0.5 5 0.5 1 0.5 4 0.5 -6 0.5 5.5 0.5 -5 0.5 -0.5 0.5 -3 0.5 0.5 0.5 -3.5 0.5 2.5 0.5 0 0.5 5.5 0.5 -11 0.5 5 0.5 -0.5 0.5 -6 0.5 9.5 0.5 -1.5 0.5 -3.5 0.5 -5 0.5 -0.5 0.5 -0.5 0.5 -5.5 0.5 17 0.5 -5 0.5 -0.5 0.5 -6 0.5 0 0.5 7 0.5 -6.5 0.5 7 0.5 -9 0.5 3 0.5 0 0.5 1 0.5 -4.5 0.5 7 0.5 -2.5 0.5 -13.5 0.5 4.5 0.5 8.5 0.5 -3.5 0.5 0 0.5 -6 0.5 9.5 0.5 1 0.5 -1.5 0.5 -3 0.5 1.5 0.5 6.5 0.5 -2 0.5 1 0.5 -2.5 0.5 0.5 0.5 -2.5 0.5 4.5 0.5 -1.5 0.5 -11.5 0.5 10 0.5 4.5 0.5 -8 0.5 -2 0.5 0 0.5 -2 0.5 3.5 0.5 7 0.5 -15 0.5 1 0.5 8 0.5 -12 0.5 4.5 0.5 3 0.5 -5 0.5 3 0.5 6 0.5 -6 0.5 3 0.5 -6 0.5 2 0.5 -11.5 0.5 13 0.5 -6 0.5 1 0.5 5.5 0.5 -13 0.5 9.5 0.5 3.5 0.5 0 0.5 -13.5 0.5 11.5 0.5 3.5 0.5 -10 0.5 6.5 0.5 0.5 0.5 -3.5 0.5 0 0.5 6 0.5 -4.5 0.5 -3 0.5 -4 0.5 9.5 0.5 4 0.5 -3.5 0.5 -16.5 0.5 4 0.5 6.5 0.5 -1.5 0.5 -2.5 0.5 -9.5 0.5 6 0.5 5.5 0.5 -6.5 0.5 -3.5 0.5 4 0.5 2.5 0.5 0.5 0.5 -6.5 0.5 -0.5 0.5 5 0.5 2 0.5 3.5 0.5 -8 0.5 1.5 0.5 -5 0.5 1 0.5 13 0.5 -5.5 0.5 3 0.5 -3 0.5 -4.5 0.5 8.5 0.5 0 0.5 -2.5 0.5 3.5 0.5 -4.5 0.5 -1.5 0.5 0.5 0.5 7.5 0.5 -8 0.5 7 0.5 -0.5 0.5 -6 0.5 13 0.5 -12 0.5 -3.5 0.5 8 0.5 -5.5 0.5 4 0.5 -4 0.5 -6.5 0.5 9 0.5 -6 0.5 5 0.5 -5 0.5 -2.5 0.5 3.5 0.5 3.5 0.5 -2.5 0.5 -3 0.5 -10 0.5 13 0.5 -3 0.5 2.5 0.5 -4.5 0.5 0.5 0.5 -1.5 0.5 2 0.5 -2 0.5 -2.5 0.5 10 0.5 -12 0.5 6.5 0.5 -1.5 0.5 -8 0.5 13.5 0.5 -10.5 0.5 -1.5 0.5 4 0.5 -3.5 0.5 -2 0.5 0 0.5 -2 0.5 -7.5 0.5 15.5 0.5 -2.5 0.5 -7 0.5 -4.5 0.5 6 0.5 3 0.5 -1 0.5 -1.5 0.5 -2 0.5 0.5 0.5 -1 0.5 -1 0.5 1.5 0.5 0.5 0.5 1.5 0.5 -0.5 0.5 -5.5 0.5 0.5 0.5 -3.5 0.5 3.5 0.5 -5 0.5 10 0.5 -12 0.5 6 0.5 -0.5 0.5 1 0.5 10.5 0.5 -15 0.5 1 0.5 3.5 0.5 -6 0.5 6 0.5 10.5 0.5 -11.5 0.5 -0.5 0.5 0.5 0.5 -3 0.5 -4.5 0.5 -3.5 0.5 13 0.5 -8.5 0.5 2.5 0.5 -6 0.5 1 0.5 4.5 0.5 -4.5 0.5 5.5 0.5 -0.5 0.5 -7.5 0.5 9.5 0.5 -7 0.5 4.5 0.5 -10.5 0.5 5.5 0.5 3.5 0.5 -4.5 0.5 -2 0.5 -0.5 0.5 9.5 0.5 -11.5 0.5 3 0.5 -6 0.5 1 0.5 4 0.5 3.5 0.5 -13 0.5 8.5 0.5 -1.5 0.5 0 0.5 -0.5 0.5 -4.5 0.5 8 0.5 -7 0.5 0.5 0.5 -1 0.5 -3.5 0.5 3 0.5 -4.5 0.5 2 0.5 6 0.5 -4 0.5 0 0.5 -2 0.5 4.5 0.5 2.5 0.5 -3.5 0.5 3.5 0.5 -12 0.5 9 0.5 -1.5 0.5 -3.5 0.5 6.5 0.5 -2 0.5 -5.5 0.5 0.5 0.5 2.5 0.5 -2.5 0.5 -1 0.5 -5.5 0.5 10.5 0.5 -7.5 0.5 0.5 0.5 3.5 0.5 -2 0.5 5.5 0.5 -5 0.5 -8 0.5 12.5 0.5 -3.5 0.5 -2 0.5 1.5 0.5 -2.5 0.5 3.5 0.5 -1.5 0.5 -2.5 0.5 -1 0.5 -8 0.5 8.5 0.5 -12 0.5 11.5 0.5 5 0.5 3 0.5 -9 0.5 0 0.5 -5.5 0.5 12.5 0.5 -14.5 0.5 5 0.5 1 0.5 -2.5 0.5 4.5 0.5 -0.5 0.5 -1 0.5 4 0.5 -3 0.5 -5.5 0.5 -2 0.5 11.5 0.5 -15 0.5 4.5 0.5 2 0.5 -7 0.5 9.5 0.5 -6 0.5 13 0.5 -10 0.5 4 0.5 -2 0.5 -3 0.5 -1.5 0.5 0 0.5 6 0.5 -1.5 0.5 -4.5 0.5 2 0.5 -4 0.5 2 0.5 -7 0.5 5 0.5 12.5 0.5 -9 0.5 -7 0.5 15.5 0.5 -10.5 0.5 5.5 0.5 -6.5 0.5 2.5 0.5 -2.5 0.5 2.5 0.5 5 0.5 1 0.5 1.5 0.5 -10.5 0.5 3 0.5 -3.5 0.5 1 0.5 9.5 0.5 -6 0.5 -12.5 0.5 13.5 0.5 -2.5 0.5 1.5 0.5 -6 0.5 -2 0.5 -4.5 0.5 11 0.5 -3.5 0.5 -5.5 0.5 8 0.5 3 0.5 -9.5 0.5 7.5 0.5 -11 0.5 7 0.5 -3.5 0.5 4.5 0.5 -3.5 0.5 6 0.5 -6 0.5 -5.5 0.5 7 0.5 -1 0.5 4 0.5 -9.5 0.5 8.5 0.5 -8 0.5 -5 0.5 8 0.5 1.5 0.5 8 0.5 -8.5 0.5 -4 0.5 9 0.5 -0.5 0.5 -1 0.5 -11.5 0.5 4.5 0.5 6 0.5 -11.5 0.5 7 0.5 0 0.5 -0.5 0.5 0 0.5 0 0.5 -3 0.5 8 0.5 -5 0.5 2 0.5 1.5 0.5 0 0.5 -3 0.5 3.5 0.5 -8.5 0.5 2 0.5 -2.5 0.5 -2 0.5 3.5 0.5 -4 0.5 1.5 0.5 -2 0.5 -4 0.5 9 0.5 0.5 0.5 -2.5 0.5 -1.5 0.5 1.5 0.5 -2 0.5 3.5 0.5 -7 0.5 1 0.5 -2.5 0.5 -2 0.5 3 0.5 5.5 0.5 -3.5 0.5 -4.5 0.5 6 0.5 4 0.5 3 0.5 -2.5 0.5 -7.5 0.5 7.5 0.5 -14.5 0.5 10 0.5 3 0.5 2 0.5 -4 0.5 -4.5 0.5 8.5 0.5 0.5 0.5 -3.5 0.5 -8.5 0.5 4 0.5 0 0.5 -3 0.5 -1 0.5 1 0.5 4 0.5 1 0.5 2.5 0.5 -3 0.5 5.5 0.5 -1 0.5 -7.5 0.5 2 0.5 0 0.5 -2.5 0.5 1.5 0.5 1 0.5 -4.5 0.5 1.5 0.5 2.5 0.5 -3.5 0.5 8 0.5 -12.5 0.5 9.5 0.5 -6 0.5 -8 0.5 7.5 0.5 1 0.5 -6.5 0.5 4.5 0.5 0.5 0.5 -3.5 0.5 6 0.5 0 0.5 -5.5 0.5 0.5 0.5 5.5 0.5 -3.5 0.5 1.5 0.5 -4 0.5 -1 0.5 5 0.5 -2 0.5 1 0.5 4.5 0.5 -6.5 0.5 -1.5 0.5 -6.5 0.5 7.5 0.5 0 0.5 -2 0.5 4.5 0.5 2 0.5 -6 0.5 -3.5 0.5 1.5 0.5 1.5 0.5 5 0.5 -6 0.5 4.5 0.5 -9 0.5 9 0.5 -3.5 0.5 -3.5 0.5 3.5 0.5 2.5 0.5 -2.5 0.5 3 0.5 -2 0.5 -0.5 0.5 1 0.5 -4 0.5 -0.5 0.5 1.5 0.5 -0.5 0.5 -7 0.5 1.5 0.5 -3 0.5 3.5 0.5 -3 0.5 9 0.5 -12.5 0.5 5 0.5 3 0.5 -9 0.5 10 0.5 -4.5 0.5 0.5 0.5 2.5 0.5 7 0.5 -12 0.5 -2 0.5 5.5 0.5 -7.5 0.5 6 0.5 -0.5 0.5 -9.5 0.5 4.5 0.5 8.5 0.5 -3.5 0.5 -3.5 0.5 8 0.5 -17.5 0.5 9 0.5 3.5 0.5 -1 0.5 -1.5 0.5 -5 0.5 -0.5 0.5 11.5 0.5 -6.5 0.5 1 0.5 -7 0.5 -0.5 0.5 0.5 0.5 6.5 0.5 -2 0.5 -5 0.5 0 0.5 8.5 0.5 -4.5 0.5 1.5 0.5 1 0.5 1.5 0.5 -8.5 0.5 4 0.5 -5.5 0.5 10.5 0.5 -8 0.5 -1.5 0.5 0.5 0.5 -4.5 0.5 5 0.5 -2 0.5 0.5 0.5 -1 0.5 -3 0.5 2 0.5 5.5 0.5 2 0.5 -9 0.5 3.5 0.5 -4.5 0.5 3 0.5 7.5 0.5 -17.5 0.5 3 0.5 8.5 0.5 2 0.5 -5.5 0.5 -8 0.5 3 0.5 1.5 0.5 9 0.5 -1 0.5 -1.5 0.5 10 0.5 -21.5 0.5 9 0.5 -1.5 0.5 5.5 0.5 -3 0.5 -3 0.5 6 0.5 -5.5 0.5 -1.5 0.5 1 0.5 -5 0.5 9.5 0.5 -12 0.5 6 0.5 3.5 0.5 -0.5 0.5 -1 0.5 -2.5 0.5 0.5 0.5 -7 0.5 2 0.5 -3.5 0.5 11 0.5 -5.5 0.5 4.5 0.5 -0.5 0.5 -7.5 0.5 -1 0.5 0.5 0.5 -2.5 0.5 3.5 0.5 1.5 0.5 -6 0.5 8.5 0.5 -11 0.5 -2 0.5 3.5 0.5 5 0.5 -1 0.5 -6.5 0.5 1 0.5 7.5 0.5 -4 0.5 -11.5 0.5 10 0.5 -1.5 0.5 1 0.5 3.5 0.5 -0.5 0.5 -3 0.5 3 0.5 -9.5 0.5 2 0.5 6.5 0.5 -12 0.5 7 0.5 -2.5 0.5 3 0.5 -1 0.5 -3 0.5 5.5 0.5 -7.5 0.5 6.5 0.5 -3.5 0.5 -6 0.5 9 0.5 -5 0.5 5 0.5 -5 0.5 1.5 0.5 8 0.5 -9.5 0.5 3 0.5 0 0.5 2.5 0.5 -6.5 0.5 0.5 0.5 -5.5 0.5 3 0.5 -1.5 0.5 -0.5 0.5 2.5 0.5 2 0.5 -7.5 0.5 11.5 0.5 -1.5 0.5 -4.5 0.5 2.5 0.5 -10.5 0.5 5 0.5 1.5 0.5 -1 0.5 -3.5 0.5 3.5 0.5 -1.5 0.5 6 0.5 -3.5 0.5 -3.5 0.5 -2 0.5 -1 0.5 2.5 0.5 -4.5 0.5 3.5 0.5 5.5 0.5 -11 0.5 -4.5 0.5 14 0.5 -10.5 0.5 -2 0.5 8 0.5 -5 0.5 0.5 0.5 6 0.5 -0.5 0.5 -0.5 0.5 -2.5 0.5 4 0.5 -2.5 0.5 -4 0.5 7.5 0.5 -9 0.5 1.5 0.5 0 0.5 2.5 0.5 -1.5 0.5 1.5 0.5 -12 0.5 16.5 0.5 -3.5 0.5 1 0.5 -7.5 0.5 13.5 0.5 -1 0.5 -13.5 0.5 0.5 0.5 -3.5 0.5 11 0.5 -1.5 0.5 -4 0.5 11.5 0.5 -21.5 0.5 1.5 0.5 12.5 0.5 2.5 0.5 -4.5 0.5 0 0.5 1 0.5 -14 0.5 5 0.5 2 0.5 -0.5 0.5 -2 0.5 8.5 0.5 -3.5 0.5 -2.5 0.5 -4.5 0.5 5 0.5 2 0.5 1 0.5 1 0.5 -1.5 0.5 -4 0.5 2.5 0.5 -8.5 0.5 5 0.5 7.5 0.5 -5.5 0.5 5.5 0.5 -8 0.5 -3.5 0.5 15.5 0.5 -15.5 0.5 3.5 0.5 8 0.5 -12.5 0.5 -3 0.5 5 0.5 4.5 0.5 -9 0.5 -3 0.5 5.5 0.5 -3 0.5 3 0.5 0.5 0.5 -9 0.5 12.5 0.5 -8 0.5 -0.5 0.5 6 0.5 -3 0.5 1 0.5 0.5 0.5 -2.5 0.5 -2 0.5 -6 0.5 0.5 0.5 2 0.5 3.5 0.5 2 0.5 -1 0.5 0 0.5 -7 0.5 2 0.5 -3 0.5 4.5 0.5 -6.5 0.5 3.5 0.5 -7 0.5 6.5 0.5 0.5 0.5 6.5 0.5 -7 0.5 3.5 0.5 4 0.5 -0.5 0.5 -5 0.5 -9.5 0.5 5.5 0.5 4.5 0.5 -3 0.5 2 0.5 -6.5 0.5 4 0.5 4 0.5 -9 0.5 7.5 0.5 -0.5 0.5 -5.5 0.5 7 0.5 2.5 0.5 -1.5 0.5 -4 0.5 -0.5 0.5 1.5 0.5 3.5 0.5 -8 0.5 9.5 0.5 -7 0.5 -1 0.5 -0.5 0.5 9.5 0.5 -11.5 0.5 7 0.5 -3.5 0.5 -4.5 0.5 1.5 0.5 7 0.5 -3 0.5 -3 0.5 -2 0.5 -1 0.5 6.5 0.5 -1 0.5 -12 0.5 7 0.5 0.5 0.5 -6.5 0.5 2 0.5 1.5 0.5 2.5 0.5 -3 0.5 -0.5 0.5 -4 0.5 7.5 0.5 -4 0.5 -1.5 0.5 -0.5 0.5 -3.5 0.5 -1 0.5 8.5 0.5 -6.5 0.5 1 0.5 -3.5 0.5 7.5 0.5 0 0.5 0 0.5 -6.5 0.5 2.5 0.5 3.5 0.5 -8 0.5 0 0.5 9 0.5 -8 0.5 -6 0.5 4.5 0.5 1 0.5 1.5 0.5 1 0.5 1 0.5 -5.5 0.5 5 0.5 3 0.5 -2.5 0.5 13.5 0.5 -10 0.5 -5.5 0.5 0.5 0.5 -3.5 0.5 2 0.5 -0.5 0.5 -1 0.5 2 0.5 4 0.5 -4.5 0.5 -4.5 0.5 6.5 0.5 -1 0.5 8.5 0.5 -10.5 0.5 -2 0.5 4.5 0.5 -4.5 0.5 3 0.5 2 0.5 -2 0.5 1.5 0.5 0 0.5 -8 0.5 4.5 0.5 -2 0.5 2 0.5 -4.5 0.5 4 0.5 -1.5 0.5 3 0.5 -8.5 0.5 -0.5 0.5 1 0.5 4.5 0.5 -2.5 0.5 -1.5 0.5 -1.5 0.5 10.5 0.5 -12.5 0.5 2 0.5 8.5 0.5 -7 0.5 -3.5 0.5 0.5 0.5 -1.5 0.5 10 0.5 0 0.5 -5 0.5 5 0.5 -10 0.5 2.5 0.5 2 0.5 -1.5 0.5 -1 0.5 -5 0.5 5.5 0.5 -2.5 0.5 3 0.5 -11.5 0.5 11 0.5 -2.5 0.5 2.5 0.5 -6.5 0.5 8.5 0.5 1.5 0.5 -9.5 0.5 -5.5 0.5 2.5 0.5 4 0.5 3.5 0.5 4 0.5 1 0.5 -4.5 0.5 -5 0.5 6 0.5 -5.5 0.5 -3.5 0.5 11 0.5 -2.5 0.5 -2 0.5 5 0.5 -6.5 0.5 4 0.5 -5 0.5 -1 0.5 7.5 0.5 -7.5 0.5 -3.5 0.5 8.5 0.5 -1.5 0.5 1 0.5 -13.5 0.5 9 0.5 -7.5 0.5 4 0.5 0.5 0.5 -2.5 0.5 0.5 0.5 -2 0.5 4 0.5 -7.5 0.5 -2.5 0.5 11.5 0.5 1 0.5 -3.5 0.5 -3 0.5 -3 0.5 0.5 0.5 -5.5 0.5 8.5 0.5 3 0.5 3 0.5 -7.5 0.5 -6 0.5 11.5 0.5 -2 0.5 -4 0.5 -6.5 0.5 5 0.5 -7 0.5 5.5 0.5 3.5 0.5 -6 0.5 3.5 0.5 -2 0.5 -1.5 0.5 -5 0.5 1 0.5 0.5 0.5 -6 0.5 8.5 0.5 -2 0.5 2.5 0.5 0 0.5 -2 0.5 3.5 0.5 -7.5 0.5 -1.5 0.5 6.5 0.5 0 0.5 1.5 0.5 -1.5 0.5 0.5 0.5 -5.5 0.5 -2 0.5 5.5 0.5 -9 0.5 8 0.5 -3 0.5 -6 0.5 4 0.5 -1.5 0.5 16 0.5 -15.5 0.5 8 0.5 -1 0.5 -5 0.5 0 0.5 3.5 0.5 6 0.5 -3.5 0.5 -7 0.5 -3.5 0.5 9 0.5 0.5 0.5 -9.5 0.5 -2 0.5 7 0.5 -8.5 0.5 7.5 0.5 -13.5 0.5 10 0.5 -5 0.5 10.5 0.5 2.5 0.5 -6 0.5 4 0.5 -3.5 0.5 2.5 0.5 4.5 0.5 -10 0.5 -6 0.5 7 0.5 9.5 0.5 -4.5 0.5 3 0.5 -8 0.5 -1.5 0.5 -4.5 0.5 3 0.5 -0.5 0.5 -1 0.5 4.5 0.5 -2 0.5 3.5 0.5 -7.5 0.5 -1.5 0.5 -1 0.5 8.5 0.5 -5.5 0.5 2 0.5 -1 0.5 -3.5 0.5 4.5 0.5 3.5 0.5 -8.5 0.5 -6.5 0.5 11 0.5 -1 0.5 -3 0.5 4 0.5 1.5 0.5 0 0.5 1 0.5 -8 0.5 5 0.5 -8 0.5 2.5 0.5 5 0.5 -4 0.5 -3 0.5 5.5 0.5 0 0.5 0.5 0.5 -17 0.5 6.5 0.5 7.5 0.5 3 0.5 -2 0.5 -8 0.5 4 0.5 0.5 0.5 -6 0.5 1 0.5 1 0.5 -2 0.5 13 0.5 -10.5 0.5 3 0.5 -6 0.5 4 0.5 -6.5 0.5 0 0.5 13 0.5 -8 0.5 -4.5 0.5 -1 0.5 3 0.5 6.5 0.5 -1 0.5 1 0.5 -6 0.5 2.5 0.5 0.5 0.5 -3.5 0.5 0 0.5 3 0.5 2.5 0.5 2 0.5 -10.5 0.5 2 0.5 0.5 0.5 6.5 0.5 -11.5 0.5 4 0.5 -6 0.5 2 0.5 -1 0.5 -2 0.5 3 0.5 6.5 0.5 -3 0.5 8.5 0.5 -11.5 0.5 4.5 0.5 -14 0.5 1.5 0.5 13.5 0.5 -1 0.5 -5.5 0.5 -3 0.5 9 0.5 -6.5 0.5 -0.5 0.5 -2.5 0.5 4 0.5 3 0.5 2.5 0.5 -8 0.5 3 0.5 -3.5 0.5 11 0.5 -15 0.5 -1.5 0.5 11 0.5 -1.5 0.5 -0.5 0.5 -7 0.5 3 0.5 3.5 0.5 -4 0.5 0 0.5 0.5 0.5 10 0.5 -18 0.5 11.5 0.5 -4.5 0.5 0 0.5 5 0.5 2.5 0.5 -5 0.5 13 0.5 -20.5 0.5 10 0.5 1 0.5 -5 0.5 1 0.5 -1 0.5 0 0.5 1.5 0.5 0.5 0.5 -12 0.5 11 0.5 -2 0.5 -10.5 0.5 15.5 0.5 -3.5 0.5 4.5 0.5 -10 0.5 9.5 0.5 -3 0.5 7.5 0.5 -23 0.5 8.5 0.5 -7.5 0.5 18 0.5 -5.5 0.5 7 0.5 -5.5 0.5 -7.5 0.5 10 0.5 -8 0.5 1.5 0.5 9.5 0.5 -14.5 0.5 7.5 0.5 -6.5 0.5 4.5 0.5 -2 0.5 -2.5 0.5 6.5 0.5 1 0.5 -15 0.5 1 0.5 3 0.5 7 0.5 -4.5 0.5 -6.5 0.5 8 0.5 -4.5 0.5 -2 0.5 -1 0.5 3 0.5 -1 0.5 7 0.5 -10.5 0.5 5 0.5 1.5 0.5 -3.5 0.5 4.5 0.5 2.5 0.5 -6.5 0.5 -0.5 0.5 -5 0.5 2 0.5 2.5 0.5 5 0.5 -4.5 0.5 -3.5 0.5 3 0.5 2 0.5 -3 0.5 -2.5 0.5 3.5 0.5 0 0.5 -10 0.5 5.5 0.5 -3.5 0.5 14.5 0.5 -8 0.5 -1.5 0.5 0 0.5 1.5 0.5 1.5 0.5 -5.5 0.5 8.5 0.5 -7 0.5 -3 0.5 17.5 0.5 -16.5 0.5 7 0.5 -1 0.5 -0.5 0.5 -3.5 0.5 1.5 0.5 5 0.5 -6.5 0.5 1.5 0.5 1.5 0.5 -0.5 0.5 -5.5 0.5 12.5 0.5 -1 0.5 -2.5 0.5 -3 0.5 -2 0.5 -2.5 0.5 -2 0.5 2 0.5 3 0.5 0.5 0.5 -1 0.5 -2.5 0.5 4.5 0.5 -4 0.5 0 0.5 12 0.5 -15.5 0.5 5.5 0.5 10 0.5 -14.5 0.5 -4 0.5 1 0.5 8 0.5 -1 0.5 6 0.5 -3.5 0.5 1.5 0.5 -3.5 0.5 0 0.5 1.5 0.5 -1 0.5 -6.5 0.5 0 0.5 12.5 0.5 -8 0.5 -11 0.5 6.5 0.5 5.5 0.5 -9.5 0.5 12.5 0.5 -13.5 0.5 9 0.5 -3 0.5 7.5 0.5 -1.5 0.5 -2.5 0.5 -1 0.5 6 0.5 -16 0.5 10.5 0.5 1 0.5 5 0.5 -6.5 0.5 2 0.5 -1.5 0.5 -1 0.5 -4.5 0.5 6 0.5 -11.5 0.5 6.5 0.5 -0.5 0.5 -7 0.5 9.5 0.5 4 0.5 -2 0.5 0 0.5 -3 0.5 -3.5 0.5 0.5 0.5 -6 0.5 15 0.5 -2 0.5 -6.5 0.5 3.5 0.5 -8 0.5 11.5 0.5 -8.5 0.5 0 0.5 -8.5 0.5 2.5 0.5 8 0.5 -2.5 0.5 4.5 0.5 0.5 0.5 -4 0.5 1.5 0.5 5 0.5 2 0.5 -7.5 0.5 1.5 0.5 -5.5 0.5 -7 0.5 9 0.5 -7 0.5 -1.5 0.5 2.5 0.5 4.5 0.5 2.5 0.5 -5 0.5 -4 0.5 1 0.5 3.5 0.5 -1.5 0.5 -0.5 0.5 -0.5 0.5 -2.5 0.5 0.5 0.5 -1 0.5 5 0.5 -4.5 0.5 6.5 0.5 3.5 0.5 -9 0.5 2 0.5 1.5 0.5 -6 0.5 -1 0.5 8 0.5 -1 0.5 1 0.5 -4.5 0.5 2.5 0.5 -4 0.5 -2 0.5 7 0.5 -8.5 0.5 5 0.5 6 0.5 -8.5 0.5 10 0.5 -14.5 0.5 5.5 0.5 5.5 0.5 -2 0.5 -3 0.5 -2 0.5 -1 0.5 1 0.5 -7.5 0.5 7 0.5 -6.5 0.5 7.5 0.5 -2.5 0.5 -7 0.5 17.5 0.5 -9.5 0.5 -3.5 0.5 4.5 0.5 0.5 0.5 -1 0.5 3 0.5 -4.5 0.5 -3.5 0.5 7.5 0.5 -14 0.5 9 0.5 -1.5 0.5 -4 0.5 3.5 0.5 1 0.5 7.5 0.5 -5 0.5 -5.5 0.5 -3 0.5 0 0.5 9 0.5 2 0.5 -8 0.5 1.5 0.5 4 0.5 0 0.5 -1 0.5 -3.5 0.5 -1.5 0.5 0 0.5 -1 0.5 -4.5 0.5 7.5 0.5 4 0.5 -6 0.5 -0.5 0.5 1.5 0.5 -5.5 0.5 -3.5 0.5 6 0.5 -2.5 0.5 -8.5 0.5 10 0.5 -9 0.5 8 0.5 -3.5 0.5 -3 0.5 -1.5 0.5 0 0.5 -5 0.5 4.5 0.5 4.5 0.5 -6 0.5 4 0.5 4 0.5 -12.5 0.5 5.5 0.5 8.5 0.5 -8 0.5 6.5 0.5 0.5 0.5 -8.5 0.5 -7 0.5 13.5 0.5 -1 0.5 -6 0.5 -6.5 0.5 16.5 0.5 -6 0.5 0 0.5 2.5 0.5 2.5 0.5 -7 0.5 2 0.5 7 0.5 -7.5 0.5 0 0.5 2.5 0.5 -15 0.5 11.5 0.5 -5.5 0.5 4.5 0.5 -2 0.5 -1.5 0.5 5.5 0.5 -5.5 0.5 -7.5 0.5 17.5 0.5 -9.5 0.5 2 0.5 4 0.5 -2.5 0.5 -4.5 0.5 2 0.5 3.5 0.5 -6 0.5 5 0.5 9.5 0.5 -13 0.5 -9.5 0.5 5 0.5 9 0.5 -3.5 0.5 2.5 0.5 0 0.5 4.5 0.5 -11.5 0.5 13 0.5 -14 0.5 9.5 0.5 2 0.5 -2.5 0.5 -2.5 0.5 -0.5 0.5 -3 0.5 0 0.5 2 0.5 -0.5 0.5 -2.5 0.5 -2 0.5 -1.5 0.5 3 0.5 1 0.5 2 0.5 -8 0.5 4.5 0.5 -6 0.5 9.5 0.5 -3.5 0.5 -5.5 0.5 -5 0.5 11 0.5 -8 0.5 1 0.5 11.5 0.5 -10.5 0.5 0 0.5 6.5 0.5 -4 0.5 3.5 0.5 -8 0.5 1 0.5 -1 0.5 11.5 0.5 -11 0.5 1 0.5 2.5 0.5 11 0.5 -10.5 0.5 0 0.5 -8.5 0.5 8.5 0.5 -2.5 0.5 -1.5 0.5 2 0.5 8.5 0.5 -12 0.5 3.5 0.5 5 0.5 -8.5 0.5 -4.5 0.5 10.5 0.5 -4 0.5 -1.5 0.5 8 0.5 -6 0.5 4.5 0.5 -7 0.5 -2.5 0.5 10 0.5 -1 0.5 -11 0.5 -1 0.5 7.5 0.5 -5 0.5 11.5 0.5 -13 0.5 -0.5 0.5 -2.5 0.5 2 0.5 2 0.5 3 0.5 3.5 0.5 -3.5 0.5 10.5 0.5 -13.5 0.5 0.5 0.5 3.5 0.5 -0.5 0.5 6 0.5 -2 0.5 0.5 0.5 -7.5 0.5 4 0.5 -1 0.5 -2.5 0.5 -5.5 0.5 5.5 0.5 3.5 0.5 -6.5 0.5 3 0.5 1.5 0.5 -2 0.5 4 0.5 2.5 0.5 -9 0.5 -1 0.5 -8.5 0.5 5.5 0.5 4.5 0.5 -4.5 0.5 7.5 0.5 -6.5 0.5 0 0.5 2 0.5 6 0.5 -2 0.5 -4.5 0.5 -0.5 0.5 3.5 0.5 -0.5 0.5 -5 0.5 1 0.5 -6 0.5 7 0.5 -4.5 0.5 10.5 0.5 -8 0.5 1 0.5 1 0.5 4 0.5 -12.5 0.5 9 0.5 -13 0.5 8 0.5 2 0.5 -9.5 0.5 5 0.5 -5.5 0.5 3 0.5 3.5 0.5 2 0.5 -6.5 0.5 1.5 0.5 -5.5 0.5 7.5 0.5 -4.5 0.5 2 0.5 2 0.5 -9.5 0.5 4 0.5 -2 0.5 11.5 0.5 -0.5 0.5 -14 0.5 11.5 0.5 2 0.5 -6.5 0.5 -10 0.5 15.5 0.5 -1 0.5 -6 0.5 -1 0.5 9 0.5 -4.5 0.5 -1.5 0.5 1 0.5 -8 0.5 12.5 0.5 -2.5 0.5 -0.5 0.5 -6.5 0.5 1.5 0.5 2 0.5 -1 0.5 4 0.5 -3 0.5 -5.5 0.5 1 0.5 4 0.5 -4 0.5 -7 0.5 10 0.5 0 0.5 -12 0.5 10.5 0.5 -7 0.5 -0.5 0.5 7.5 0.5 -5.5 0.5 4.5 0.5 -5.5 0.5 4 0.5 1.5 0.5 3.5 0.5 -8 0.5 12 0.5 -8.5 0.5 1.5 0.5 3 0.5 0.5 0.5 -6 0.5 1.5 0.5 -2.5 0.5 -0.5 0.5 -0.5 0.5 -2 0.5 -3 0.5 3.5 0.5 1 0.5 2.5 0.5 -3.5 0.5 5.5 0.5 -1.5 0.5 -7.5 0.5 1 0.5 6 0.5 -9 0.5 3 0.5 -1.5 0.5 9 0.5 -6.5 0.5 -2.5 0.5 2.5 0.5 6 0.5 -14 0.5 11.5 0.5 -2.5 0.5 -2.5 0.5 -4 0.5 7 0.5 -10.5 0.5 3.5 0.5 5.5 0.5 -8 0.5 0 0.5 6 0.5 2 0.5 -10.5 0.5 4.5 0.5 -3 0.5 4 0.5 -6 0.5 9.5 0.5 -4.5 0.5 -4 0.5 7.5 0.5 -12.5 0.5 1 0.5 11 0.5 -15.5 0.5 6.5 0.5 -2 0.5 -1 0.5 -7.5 0.5 5.5 0.5 -2 0.5 -1.5 0.5 -2 0.5 8.5 0.5 3.5 0.5 -2 0.5 -5.5 0.5 -1 0.5 3 0.5 10 0.5 -9 0.5 -1 0.5 2 0.5 0.5 0.5 0.5 0.5 -7.5 0.5 0 0.5 4 0.5 5.5 0.5 -2.5 0.5 0 0.5 6 0.5 -12 0.5 6.5 0.5 -3 0.5 5.5 0.5 -6.5 0.5 1.5 0.5 5 0.5 -5.5 0.5 -3 0.5 -3 0.5 -1 0.5 11.5 0.5 0 0.5 -8.5 0.5 10.5 0.5 -7.5 0.5 -1.5 0.5 8 0.5 -5.5 0.5 -10 0.5 5 0.5 -0.5 0.5 -4.5 0.5 6.5 0.5 -3 0.5 5 0.5 -6.5 0.5 6 0.5 4 0.5 -7.5 0.5 2 0.5 1 0.5 -9.5 0.5 9 0.5 -5 0.5 -4 0.5 3 0.5 5.5 0.5 -10.5 0.5 2.5 0.5 4.5 0.5 -2 0.5 6.5 0.5 -16 0.5 14 0.5 -12 0.5 7.5 0.5 2.5 0.5 0.5 0.5 -6.5 0.5 1 0.5 5.5 0.5 -4.5 0.5 -2 0.5 5 0.5 -10.5 0.5 -1.5 0.5 7.5 0.5 -4 0.5 6.5 0.5 1.5 0.5 -11 0.5 2.5 0.5 3.5 0.5 -2.5 0.5 4.5 0.5 0.5 0.5 -2.5 0.5 0 0.5 -10.5 0.5 11.5 0.5 -2 0.5 0.5 0.5 -0.5 0.5 -3.5 0.5 -1 0.5 -2 0.5 8 0.5 -5 0.5 -0.5 0.5 2.5 0.5 -4 0.5 3 0.5 -6 0.5 1 0.5 0 0.5 4 0.5 -5.5 0.5 -3.5 0.5 4 0.5 0 0.5 9 0.5 -5 0.5 -2.5 0.5 0.5 0.5 -2 0.5 7 0.5 -14 0.5 8 0.5 -5 0.5 3.5 0.5 5.5 0.5 -3 0.5 -1 0.5 6.5 0.5 -10 0.5 6.5 0.5 -9.5 0.5 -2 0.5 4.5 0.5 -0.5 0.5 -7 0.5 11 0.5 -7.5 0.5 3.5 0.5 -0.5 0.5 -2 0.5 4.5 0.5 5 0.5 -3 0.5 0.5 0.5 -15.5 0.5 9 0.5 -2.5 0.5 7.5 0.5 -3.5 0.5 2.5 0.5 3.5 0.5 0 0.5 -6 0.5 -5 0.5 -1.5 0.5 5.5 0.5 -13.5 0.5 24.5 0.5 -10.5 0.5 -3 0.5 8.5 0.5 -3.5 0.5 4 0.5 -13.5 0.5 5.5 0.5 -4.5 0.5 -1.5 0.5 1 0.5 5.5 0.5 -7.5 0.5 6 0.5 -0.5 0.5 6 0.5 -2 0.5 -6.5 0.5 2 0.5 5.5 0.5 -14 0.5 16.5 0.5 -13.5 0.5 -9 0.5 14.5 0.5 -2 0.5 0 0.5 7 0.5 -10.5 0.5 7.5 0.5 -2.5 0.5 1.5 0.5 -5 0.5 2.5 0.5 -2 0.5 3.5 0.5 -5.5 0.5 3.5 0.5 -3.5 0.5 -4 0.5 10 0.5 -12 0.5 0 0.5 6.5 0.5 0 0.5 -1 0.5 4.5 0.5 -8 0.5 6.5 0.5 -12 0.5 9 0.5 -15 0.5 19 0.5 -3.5 0.5 -5 0.5 6.5 0.5 1.5 0.5 0 0.5 -9 0.5 2 0.5 -4.5 0.5 6.5 0.5 -7.5 0.5 5 0.5 12 0.5 -13 0.5 2.5 0.5 -2 0.5 0.5 0.5 5 0.5 -8.5 0.5 3 0.5 -5.5 0.5 7.5 0.5 -5.5 0.5 0 0.5 2 0.5 7.5 0.5 -2 0.5 -4.5 0.5 0 0.5 -2.5 0.5 4.5 0.5 -1 0.5 -4.5 0.5 7.5 0.5 0 0.5 1 0.5 -10 0.5 2 0.5 5.5 0.5 -1.5 0.5 -3 0.5 5 0.5 -1.5 0.5 -1.5 0.5 -0.5 0.5 4.5 0.5 -13 0.5 -1 0.5 14.5 0.5 -7.5 0.5 -3 0.5 7.5 0.5 -6.5 0.5 9 0.5 -7 0.5 -0.5 0.5 -1.5 0.5 1 0.5 -1.5 0.5 5 0.5 -5 0.5 -4 0.5 8 0.5 -4 0.5 6 0.5 -9 0.5 6 0.5 1 0.5 -5 0.5 -3.5 0.5 1.5 0.5 9.5 0.5 4.5 0.5 -12 0.5 -8 0.5 7.5 0.5 -5.5 0.5 7.5 0.5 0.5 0.5 -2 0.5 1.5 0.5 -2.5 0.5 6.5 0.5 -14 0.5 7 0.5 7 0.5 -5 0.5 -1.5 0.5 -1 0.5 3 0.5 -8.5 0.5 5.5 0.5 0.5 0.5 1 0.5 -8 0.5 10 0.5 -8.5 0.5 11.5 0.5 -7.5 0.5 -7.5 0.5 5.5 0.5 -1 0.5 6 0.5 2.5 0.5 -1 0.5 -10.5 0.5 6 0.5 -6 0.5 4 0.5 4 0.5 -11.5 0.5 11 0.5 -7.5 0.5 12 0.5 3.5 0.5 -2 0.5 -12.5 0.5 0 0.5 1.5 0.5 -3 0.5 -2.5 0.5 6 0.5 -1 0.5 4.5 0.5 0 0.5 -3 0.5 -1 0.5 3.5 0.5 -5.5 0.5 8" fill="none" stroke="#9600ff" stroke-width="6.5" stroke-linejoin="round" stroke-linecap="round"/>
<rect x="367" y="1834" width="1725" height="1391" fill="none" stroke="#000" stroke-width="5"/>
<text x="417.5" y="1940.6" font-size="66" text-anchor="start" style="font-family:'Liberation Sans',Arial,sans-serif" >Holding loads</text>
<line x1="426.6" y1="2008.9" x2="593.7" y2="2008.9" stroke="#000000" stroke-width="7" stroke-linecap="butt"/>
<text x="607" y="2033.4" font-size="66" text-anchor="start" style="font-family:'Liberation Sans',Arial,sans-serif" >5mN</text>
<line x1="426.6" y1="2098.3" x2="593.7" y2="2098.3" stroke="#ff0000" stroke-width="7" stroke-linecap="butt"/>
<text x="607" y="2122.8" font-size="66" text-anchor="start" style="font-family:'Liberation Sans',Arial,sans-serif" >10mN</text>
<line x1="426.6" y1="2187.7" x2="593.7" y2="2187.7" stroke="#0000ff" stroke-width="7" stroke-linecap="butt"/>
<text x="607" y="2212.2" font-size="66" text-anchor="start" style="font-family:'Liberation Sans',Arial,sans-serif" >25mN</text>
<line x1="426.6" y1="2277.1" x2="593.7" y2="2277.1" stroke="#ff00ff" stroke-width="7" stroke-linecap="butt"/>
<text x="607" y="2301.6" font-size="66" text-anchor="start" style="font-family:'Liberation Sans',Arial,sans-serif" >50mN</text>
<line x1="426.6" y1="2366.5" x2="593.7" y2="2366.5" stroke="#008000" stroke-width="7" stroke-linecap="butt"/>
<text x="607" y="2391" font-size="66" text-anchor="start" style="font-family:'Liberation Sans',Arial,sans-serif" >100mN</text>
<line x1="426.6" y1="2455.9" x2="593.7" y2="2455.9" stroke="#000080" stroke-width="7" stroke-linecap="butt"/>
<text x="607" y="2480.4" font-size="66" text-anchor="start" style="font-family:'Liberation Sans',Arial,sans-serif" >200mN</text>
<line x1="426.6" y1="2545.3" x2="593.7" y2="2545.3" stroke="#9600ff" stroke-width="7" stroke-linecap="butt"/>
<text x="607" y="2569.8" font-size="66" text-anchor="start" style="font-family:'Liberation Sans',Arial,sans-serif" >400mN</text>
<text x="1269.5" y="3495.5" font-size="119" text-anchor="middle" style="font-family:'Liberation Sans',Arial,sans-serif" >t (s)</text>
<text transform="translate(139.8,2509.5) rotate(-90)" font-size="116" text-anchor="middle" style="font-family:'Liberation Sans',Arial,sans-serif">Δh (nm)</text>
<text x="52" y="1707" font-size="104.5" style="font-family:'Liberation Serif','Times New Roman',serif">(<tspan font-weight="bold">b</tspan>)</text>
</svg></body></html>
